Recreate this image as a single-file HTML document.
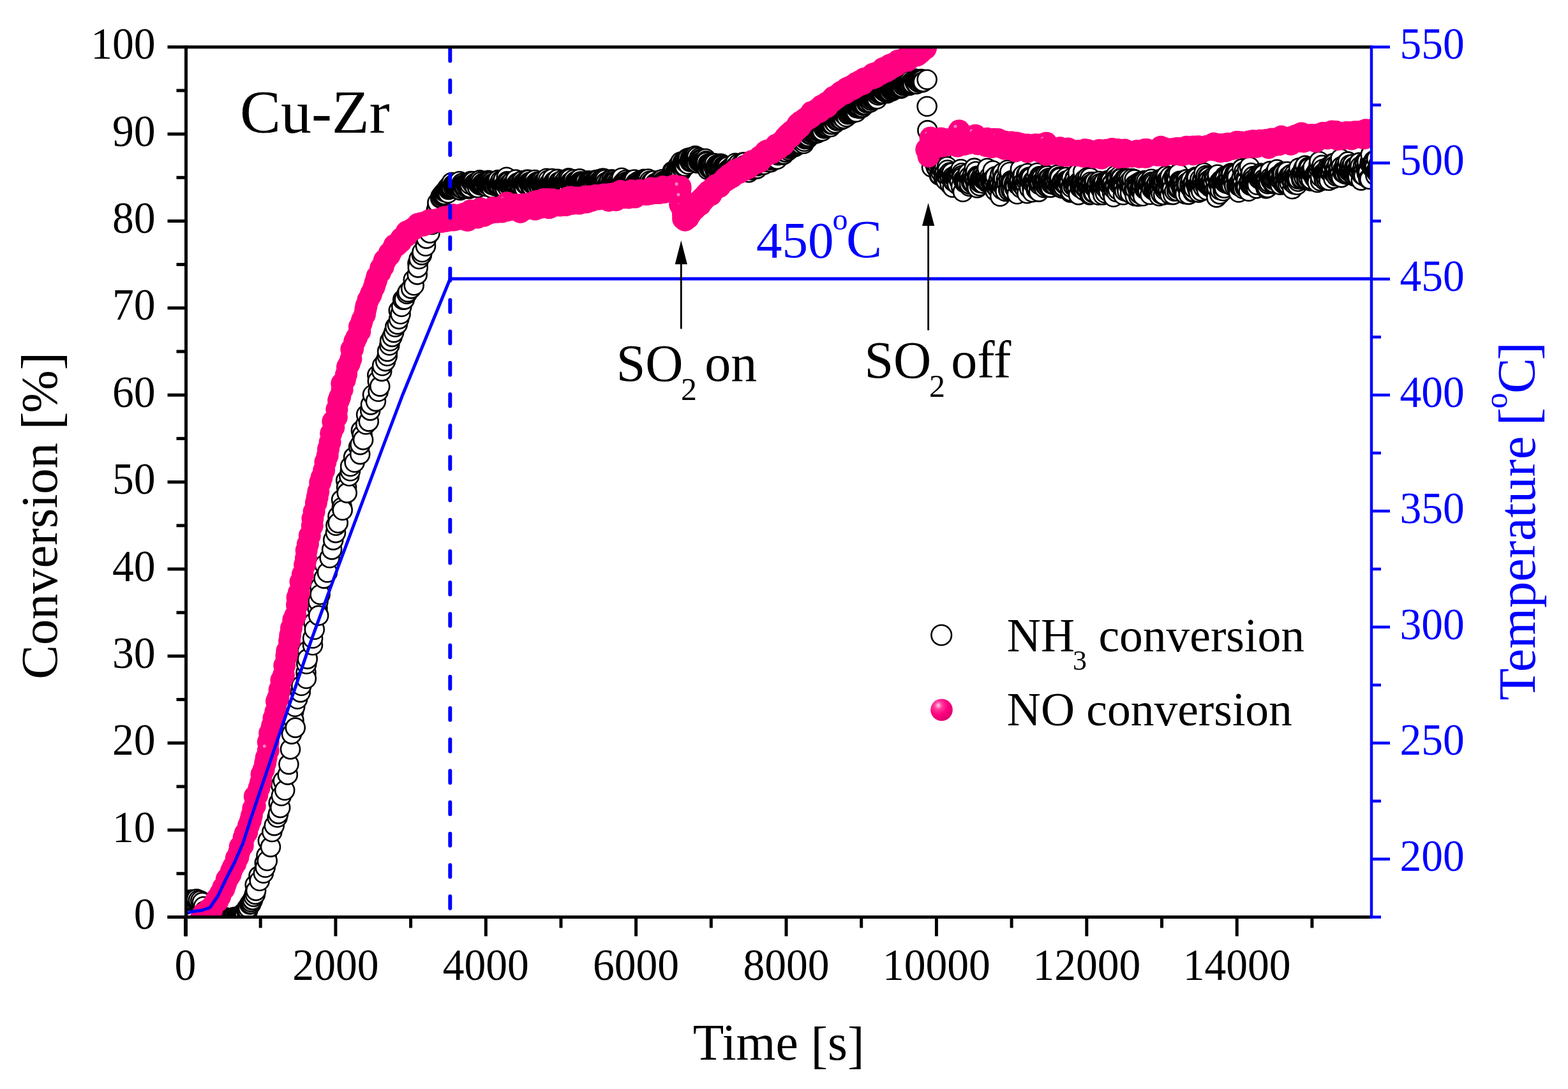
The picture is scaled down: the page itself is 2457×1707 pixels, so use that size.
<!DOCTYPE html><html><head><meta charset="utf-8"><title>Cu-Zr conversion vs time</title><style>html,body{margin:0;padding:0;background:#fff;overflow:hidden}svg{display:block}</style></head><body>
<svg width="2457" height="1707" viewBox="0 0 2457 1707" font-family="'Liberation Serif','Times New Roman',serif">
<rect width="2457" height="1707" fill="#fff"/>
<defs><clipPath id="pa"><rect x="291.5" y="75.7" width="1857.5" height="1360.3"/></clipPath><radialGradient id="ball" cx="0.35" cy="0.3" r="0.7"><stop offset="0" stop-color="#ffd0e6"/><stop offset="0.25" stop-color="#ff3d9c"/><stop offset="0.6" stop-color="#ff0080"/><stop offset="1" stop-color="#e00070"/></radialGradient></defs>
<g clip-path="url(#pa)">
<g fill="#fff" stroke="#000" stroke-width="2.6">
<circle cx="290.3" cy="1412.5" r="15"/>
<circle cx="292.7" cy="1411.1" r="15"/>
<circle cx="294.5" cy="1410.7" r="15"/>
<circle cx="298.5" cy="1411.0" r="15"/>
<circle cx="300.7" cy="1410.3" r="15"/>
<circle cx="302.6" cy="1410.5" r="15"/>
<circle cx="303.3" cy="1411.6" r="15"/>
<circle cx="307.4" cy="1411.5" r="15"/>
<circle cx="308.0" cy="1409.2" r="15"/>
<circle cx="311.0" cy="1411.0" r="15"/>
<circle cx="314.3" cy="1411.8" r="15"/>
<circle cx="316.8" cy="1414.4" r="15"/>
<circle cx="319.0" cy="1421.0" r="15"/>
<circle cx="320.6" cy="1428.0" r="15"/>
<circle cx="323.9" cy="1430.7" r="15"/>
<circle cx="323.9" cy="1431.6" r="15"/>
<circle cx="325.1" cy="1432.9" r="15"/>
<circle cx="326.8" cy="1434.7" r="15"/>
<circle cx="326.9" cy="1434.7" r="15"/>
<circle cx="327.7" cy="1438.7" r="15"/>
<circle cx="328.5" cy="1438.9" r="15"/>
<circle cx="330.3" cy="1439.7" r="15"/>
<circle cx="330.4" cy="1438.2" r="15"/>
<circle cx="331.0" cy="1441.6" r="15"/>
<circle cx="332.8" cy="1439.2" r="15"/>
<circle cx="333.6" cy="1441.3" r="15"/>
<circle cx="334.2" cy="1440.2" r="15"/>
<circle cx="336.2" cy="1441.5" r="15"/>
<circle cx="337.7" cy="1438.9" r="15"/>
<circle cx="337.8" cy="1440.9" r="15"/>
<circle cx="339.0" cy="1439.8" r="15"/>
<circle cx="339.1" cy="1439.1" r="15"/>
<circle cx="339.6" cy="1440.1" r="15"/>
<circle cx="341.1" cy="1441.1" r="15"/>
<circle cx="342.4" cy="1438.3" r="15"/>
<circle cx="342.6" cy="1437.9" r="15"/>
<circle cx="344.4" cy="1441.6" r="15"/>
<circle cx="345.2" cy="1442.1" r="15"/>
<circle cx="345.4" cy="1440.1" r="15"/>
<circle cx="347.9" cy="1441.1" r="15"/>
<circle cx="348.1" cy="1441.3" r="15"/>
<circle cx="349.5" cy="1442.2" r="15"/>
<circle cx="350.1" cy="1441.5" r="15"/>
<circle cx="350.2" cy="1441.3" r="15"/>
<circle cx="351.1" cy="1439.7" r="15"/>
<circle cx="352.5" cy="1441.2" r="15"/>
<circle cx="354.3" cy="1438.3" r="15"/>
<circle cx="354.4" cy="1441.6" r="15"/>
<circle cx="354.4" cy="1442.2" r="15"/>
<circle cx="356.8" cy="1440.1" r="15"/>
<circle cx="357.6" cy="1441.0" r="15"/>
<circle cx="358.4" cy="1441.5" r="15"/>
<circle cx="358.7" cy="1439.6" r="15"/>
<circle cx="360.4" cy="1441.0" r="15"/>
<circle cx="361.0" cy="1440.0" r="15"/>
<circle cx="361.9" cy="1439.4" r="15"/>
<circle cx="363.2" cy="1439.2" r="15"/>
<circle cx="363.8" cy="1439.1" r="15"/>
<circle cx="366.0" cy="1438.1" r="15"/>
<circle cx="366.1" cy="1439.9" r="15"/>
<circle cx="366.8" cy="1437.7" r="15"/>
<circle cx="368.6" cy="1440.0" r="15"/>
<circle cx="368.9" cy="1439.0" r="15"/>
<circle cx="369.7" cy="1439.4" r="15"/>
<circle cx="370.4" cy="1438.9" r="15"/>
<circle cx="371.9" cy="1438.5" r="15"/>
<circle cx="373.0" cy="1439.0" r="15"/>
<circle cx="374.0" cy="1437.6" r="15"/>
<circle cx="375.0" cy="1438.6" r="15"/>
<circle cx="375.2" cy="1438.9" r="15"/>
<circle cx="375.9" cy="1437.5" r="15"/>
<circle cx="377.2" cy="1435.8" r="15"/>
<circle cx="378.6" cy="1433.2" r="15"/>
<circle cx="379.3" cy="1435.1" r="15"/>
<circle cx="379.6" cy="1434.8" r="15"/>
<circle cx="381.1" cy="1432.7" r="15"/>
<circle cx="382.3" cy="1431.7" r="15"/>
<circle cx="382.5" cy="1429.7" r="15"/>
<circle cx="383.5" cy="1431.0" r="15"/>
<circle cx="383.8" cy="1433.0" r="15"/>
<circle cx="386.4" cy="1427.5" r="15"/>
<circle cx="386.5" cy="1428.4" r="15"/>
<circle cx="387.1" cy="1423.5" r="15"/>
<circle cx="388.2" cy="1427.4" r="15"/>
<circle cx="389.1" cy="1423.0" r="15"/>
<circle cx="391.2" cy="1417.4" r="15"/>
<circle cx="392.1" cy="1417.2" r="15"/>
<circle cx="392.7" cy="1415.4" r="15"/>
<circle cx="393.3" cy="1417.0" r="15"/>
<circle cx="393.9" cy="1414.0" r="15"/>
<circle cx="395.6" cy="1411.3" r="15"/>
<circle cx="395.9" cy="1410.4" r="15"/>
<circle cx="397.7" cy="1405.6" r="15"/>
<circle cx="399.5" cy="1400.3" r="15"/>
<circle cx="399.7" cy="1387.0" r="15"/>
<circle cx="399.8" cy="1398.8" r="15"/>
<circle cx="400.0" cy="1401.9" r="15"/>
<circle cx="401.1" cy="1396.1" r="15"/>
<circle cx="405.5" cy="1373.1" r="15"/>
<circle cx="406.7" cy="1380.7" r="15"/>
<circle cx="412.9" cy="1368.7" r="15"/>
<circle cx="414.8" cy="1352.8" r="15"/>
<circle cx="415.7" cy="1359.8" r="15"/>
<circle cx="417.5" cy="1341.4" r="15"/>
<circle cx="418.8" cy="1349.3" r="15"/>
<circle cx="419.9" cy="1317.7" r="15"/>
<circle cx="424.0" cy="1327.6" r="15"/>
<circle cx="426.3" cy="1304.0" r="15"/>
<circle cx="429.8" cy="1294.1" r="15"/>
<circle cx="434.6" cy="1281.3" r="15"/>
<circle cx="436.1" cy="1275.6" r="15"/>
<circle cx="436.7" cy="1258.6" r="15"/>
<circle cx="439.2" cy="1266.1" r="15"/>
<circle cx="440.3" cy="1230.6" r="15"/>
<circle cx="440.9" cy="1247.5" r="15"/>
<circle cx="443.7" cy="1224.1" r="15"/>
<circle cx="446.2" cy="1238.8" r="15"/>
<circle cx="450.8" cy="1214.4" r="15"/>
<circle cx="452.4" cy="1198.1" r="15"/>
<circle cx="455.0" cy="1174.4" r="15"/>
<circle cx="457.0" cy="1150.6" r="15"/>
<circle cx="460.1" cy="1115.9" r="15"/>
<circle cx="460.4" cy="1129.0" r="15"/>
<circle cx="462.2" cy="1107.8" r="15"/>
<circle cx="462.8" cy="1140.6" r="15"/>
<circle cx="466.2" cy="1095.8" r="15"/>
<circle cx="470.8" cy="1085.1" r="15"/>
<circle cx="472.3" cy="1074.7" r="15"/>
<circle cx="479.5" cy="1054.2" r="15"/>
<circle cx="479.9" cy="1063.8" r="15"/>
<circle cx="480.3" cy="1040.8" r="15"/>
<circle cx="481.8" cy="1020.2" r="15"/>
<circle cx="481.8" cy="1032.9" r="15"/>
<circle cx="490.0" cy="1011.2" r="15"/>
<circle cx="490.1" cy="1000.5" r="15"/>
<circle cx="491.4" cy="976.1" r="15"/>
<circle cx="492.8" cy="986.8" r="15"/>
<circle cx="497.5" cy="953.3" r="15"/>
<circle cx="498.5" cy="942.8" r="15"/>
<circle cx="499.2" cy="964.9" r="15"/>
<circle cx="501.4" cy="920.7" r="15"/>
<circle cx="501.6" cy="932.0" r="15"/>
<circle cx="507.5" cy="906.6" r="15"/>
<circle cx="508.7" cy="885.3" r="15"/>
<circle cx="512.9" cy="897.3" r="15"/>
<circle cx="516.6" cy="874.5" r="15"/>
<circle cx="520.1" cy="861.4" r="15"/>
<circle cx="522.2" cy="846.4" r="15"/>
<circle cx="526.0" cy="835.1" r="15"/>
<circle cx="526.4" cy="823.7" r="15"/>
<circle cx="529.5" cy="809.4" r="15"/>
<circle cx="529.7" cy="819.7" r="15"/>
<circle cx="535.1" cy="783.4" r="15"/>
<circle cx="535.9" cy="795.3" r="15"/>
<circle cx="536.7" cy="799.7" r="15"/>
<circle cx="542.2" cy="753.1" r="15"/>
<circle cx="543.1" cy="764.1" r="15"/>
<circle cx="543.7" cy="772.6" r="15"/>
<circle cx="547.2" cy="746.3" r="15"/>
<circle cx="548.9" cy="738.2" r="15"/>
<circle cx="549.1" cy="731.0" r="15"/>
<circle cx="554.1" cy="716.6" r="15"/>
<circle cx="555.6" cy="724.7" r="15"/>
<circle cx="562.1" cy="700.7" r="15"/>
<circle cx="564.2" cy="712.1" r="15"/>
<circle cx="564.4" cy="697.1" r="15"/>
<circle cx="565.9" cy="674.9" r="15"/>
<circle cx="567.6" cy="681.9" r="15"/>
<circle cx="569.1" cy="689.4" r="15"/>
<circle cx="573.2" cy="665.2" r="15"/>
<circle cx="574.1" cy="650.0" r="15"/>
<circle cx="577.8" cy="660.6" r="15"/>
<circle cx="580.2" cy="643.4" r="15"/>
<circle cx="581.0" cy="634.4" r="15"/>
<circle cx="584.0" cy="618.7" r="15"/>
<circle cx="588.9" cy="629.1" r="15"/>
<circle cx="591.3" cy="588.1" r="15"/>
<circle cx="591.8" cy="597.2" r="15"/>
<circle cx="592.7" cy="613.7" r="15"/>
<circle cx="595.3" cy="605.6" r="15"/>
<circle cx="598.2" cy="581.9" r="15"/>
<circle cx="599.1" cy="573.3" r="15"/>
<circle cx="604.1" cy="566.1" r="15"/>
<circle cx="606.8" cy="558.0" r="15"/>
<circle cx="607.1" cy="550.9" r="15"/>
<circle cx="610.3" cy="541.2" r="15"/>
<circle cx="611.1" cy="534.5" r="15"/>
<circle cx="614.6" cy="527.9" r="15"/>
<circle cx="617.2" cy="521.1" r="15"/>
<circle cx="619.3" cy="512.5" r="15"/>
<circle cx="622.8" cy="508.4" r="15"/>
<circle cx="624.8" cy="486.7" r="15"/>
<circle cx="625.2" cy="500.1" r="15"/>
<circle cx="627.6" cy="492.3" r="15"/>
<circle cx="629.3" cy="480.7" r="15"/>
<circle cx="631.3" cy="469.8" r="15"/>
<circle cx="633.8" cy="469.4" r="15"/>
<circle cx="637.6" cy="460.8" r="15"/>
<circle cx="639.1" cy="457.9" r="15"/>
<circle cx="644.2" cy="452.4" r="15"/>
<circle cx="647.8" cy="438.5" r="15"/>
<circle cx="648.7" cy="447.2" r="15"/>
<circle cx="653.8" cy="430.4" r="15"/>
<circle cx="654.5" cy="413.0" r="15"/>
<circle cx="654.8" cy="419.4" r="15"/>
<circle cx="656.6" cy="406.0" r="15"/>
<circle cx="660.9" cy="399.6" r="15"/>
<circle cx="661.5" cy="395.2" r="15"/>
<circle cx="666.8" cy="382.7" r="15"/>
<circle cx="667.0" cy="385.7" r="15"/>
<circle cx="668.2" cy="373.9" r="15"/>
<circle cx="671.1" cy="358.2" r="15"/>
<circle cx="673.5" cy="365.4" r="15"/>
<circle cx="676.8" cy="351.9" r="15"/>
<circle cx="680.1" cy="343.1" r="15"/>
<circle cx="682.6" cy="336.7" r="15"/>
<circle cx="683.6" cy="330.3" r="15"/>
<circle cx="684.9" cy="325.2" r="15"/>
<circle cx="685.5" cy="317.7" r="15"/>
<circle cx="690.2" cy="310.8" r="15"/>
<circle cx="690.5" cy="308.4" r="15"/>
<circle cx="691.0" cy="309.7" r="15"/>
<circle cx="692.7" cy="307.6" r="15"/>
<circle cx="692.8" cy="305.3" r="15"/>
<circle cx="695.0" cy="302.7" r="15"/>
<circle cx="695.0" cy="303.4" r="15"/>
<circle cx="695.2" cy="306.9" r="15"/>
<circle cx="695.3" cy="304.5" r="15"/>
<circle cx="696.4" cy="305.3" r="15"/>
<circle cx="696.5" cy="300.8" r="15"/>
<circle cx="697.7" cy="300.6" r="15"/>
<circle cx="698.1" cy="299.7" r="15"/>
<circle cx="699.4" cy="300.9" r="15"/>
<circle cx="700.4" cy="297.0" r="15"/>
<circle cx="700.6" cy="302.0" r="15"/>
<circle cx="701.3" cy="294.6" r="15"/>
<circle cx="702.0" cy="302.7" r="15"/>
<circle cx="702.8" cy="297.1" r="15"/>
<circle cx="703.3" cy="295.6" r="15"/>
<circle cx="704.0" cy="291.6" r="15"/>
<circle cx="704.8" cy="294.1" r="15"/>
<circle cx="705.7" cy="292.5" r="15"/>
<circle cx="707.0" cy="295.7" r="15"/>
<circle cx="707.1" cy="292.5" r="15"/>
<circle cx="707.7" cy="286.1" r="15"/>
<circle cx="707.7" cy="294.2" r="15"/>
<circle cx="708.0" cy="294.5" r="15"/>
<circle cx="710.1" cy="289.6" r="15"/>
<circle cx="710.5" cy="292.6" r="15"/>
<circle cx="711.7" cy="295.2" r="15"/>
<circle cx="712.0" cy="290.7" r="15"/>
<circle cx="712.7" cy="292.9" r="15"/>
<circle cx="713.6" cy="288.6" r="15"/>
<circle cx="714.1" cy="293.8" r="15"/>
<circle cx="714.6" cy="290.3" r="15"/>
<circle cx="714.7" cy="292.0" r="15"/>
<circle cx="715.9" cy="292.5" r="15"/>
<circle cx="717.4" cy="290.8" r="15"/>
<circle cx="719.2" cy="292.0" r="15"/>
<circle cx="719.3" cy="292.0" r="15"/>
<circle cx="719.6" cy="290.9" r="15"/>
<circle cx="720.0" cy="284.3" r="15"/>
<circle cx="721.0" cy="298.1" r="15"/>
<circle cx="721.5" cy="294.8" r="15"/>
<circle cx="722.6" cy="293.6" r="15"/>
<circle cx="723.1" cy="290.1" r="15"/>
<circle cx="723.8" cy="287.2" r="15"/>
<circle cx="725.0" cy="296.4" r="15"/>
<circle cx="725.0" cy="287.2" r="15"/>
<circle cx="725.3" cy="290.0" r="15"/>
<circle cx="726.2" cy="290.6" r="15"/>
<circle cx="727.1" cy="290.0" r="15"/>
<circle cx="727.7" cy="295.0" r="15"/>
<circle cx="728.1" cy="291.9" r="15"/>
<circle cx="729.9" cy="288.3" r="15"/>
<circle cx="730.3" cy="289.7" r="15"/>
<circle cx="731.3" cy="291.6" r="15"/>
<circle cx="731.6" cy="287.5" r="15"/>
<circle cx="731.7" cy="288.1" r="15"/>
<circle cx="732.7" cy="291.8" r="15"/>
<circle cx="733.6" cy="289.4" r="15"/>
<circle cx="733.9" cy="290.2" r="15"/>
<circle cx="735.0" cy="296.0" r="15"/>
<circle cx="735.9" cy="292.6" r="15"/>
<circle cx="736.1" cy="291.5" r="15"/>
<circle cx="736.1" cy="294.4" r="15"/>
<circle cx="736.3" cy="288.9" r="15"/>
<circle cx="737.7" cy="284.0" r="15"/>
<circle cx="739.3" cy="285.3" r="15"/>
<circle cx="740.3" cy="287.8" r="15"/>
<circle cx="740.5" cy="287.5" r="15"/>
<circle cx="740.9" cy="285.5" r="15"/>
<circle cx="741.7" cy="284.3" r="15"/>
<circle cx="742.4" cy="289.5" r="15"/>
<circle cx="743.1" cy="289.0" r="15"/>
<circle cx="743.5" cy="287.9" r="15"/>
<circle cx="744.2" cy="293.1" r="15"/>
<circle cx="745.6" cy="286.2" r="15"/>
<circle cx="745.9" cy="288.0" r="15"/>
<circle cx="745.9" cy="287.2" r="15"/>
<circle cx="747.6" cy="289.8" r="15"/>
<circle cx="748.2" cy="288.1" r="15"/>
<circle cx="748.5" cy="294.4" r="15"/>
<circle cx="749.8" cy="288.5" r="15"/>
<circle cx="751.0" cy="289.2" r="15"/>
<circle cx="751.4" cy="289.1" r="15"/>
<circle cx="751.5" cy="285.3" r="15"/>
<circle cx="751.7" cy="282.4" r="15"/>
<circle cx="752.4" cy="290.3" r="15"/>
<circle cx="753.6" cy="289.9" r="15"/>
<circle cx="753.7" cy="284.9" r="15"/>
<circle cx="754.6" cy="289.9" r="15"/>
<circle cx="756.1" cy="287.9" r="15"/>
<circle cx="756.4" cy="288.9" r="15"/>
<circle cx="757.0" cy="287.7" r="15"/>
<circle cx="758.3" cy="286.4" r="15"/>
<circle cx="758.6" cy="290.2" r="15"/>
<circle cx="758.7" cy="289.9" r="15"/>
<circle cx="760.9" cy="287.5" r="15"/>
<circle cx="761.6" cy="286.3" r="15"/>
<circle cx="762.2" cy="292.3" r="15"/>
<circle cx="762.7" cy="288.9" r="15"/>
<circle cx="762.9" cy="288.0" r="15"/>
<circle cx="762.9" cy="285.9" r="15"/>
<circle cx="765.0" cy="282.8" r="15"/>
<circle cx="765.2" cy="287.4" r="15"/>
<circle cx="765.6" cy="287.6" r="15"/>
<circle cx="766.1" cy="289.1" r="15"/>
<circle cx="767.0" cy="283.9" r="15"/>
<circle cx="767.6" cy="289.0" r="15"/>
<circle cx="768.3" cy="286.3" r="15"/>
<circle cx="770.2" cy="294.7" r="15"/>
<circle cx="770.3" cy="286.0" r="15"/>
<circle cx="770.6" cy="289.3" r="15"/>
<circle cx="771.3" cy="284.5" r="15"/>
<circle cx="771.8" cy="289.6" r="15"/>
<circle cx="772.5" cy="287.4" r="15"/>
<circle cx="773.0" cy="288.7" r="15"/>
<circle cx="773.8" cy="289.4" r="15"/>
<circle cx="774.8" cy="287.7" r="15"/>
<circle cx="775.3" cy="291.2" r="15"/>
<circle cx="777.4" cy="286.9" r="15"/>
<circle cx="777.7" cy="285.7" r="15"/>
<circle cx="777.8" cy="290.2" r="15"/>
<circle cx="778.7" cy="288.0" r="15"/>
<circle cx="779.1" cy="288.6" r="15"/>
<circle cx="779.7" cy="286.9" r="15"/>
<circle cx="780.0" cy="289.1" r="15"/>
<circle cx="780.4" cy="282.1" r="15"/>
<circle cx="782.0" cy="288.8" r="15"/>
<circle cx="782.2" cy="290.7" r="15"/>
<circle cx="783.2" cy="286.2" r="15"/>
<circle cx="784.3" cy="287.9" r="15"/>
<circle cx="784.5" cy="283.3" r="15"/>
<circle cx="786.2" cy="287.5" r="15"/>
<circle cx="786.5" cy="286.0" r="15"/>
<circle cx="787.1" cy="295.1" r="15"/>
<circle cx="787.2" cy="293.0" r="15"/>
<circle cx="787.8" cy="288.1" r="15"/>
<circle cx="788.8" cy="281.7" r="15"/>
<circle cx="789.2" cy="291.1" r="15"/>
<circle cx="790.9" cy="290.4" r="15"/>
<circle cx="791.7" cy="295.9" r="15"/>
<circle cx="792.0" cy="288.8" r="15"/>
<circle cx="793.3" cy="289.1" r="15"/>
<circle cx="793.7" cy="277.7" r="15"/>
<circle cx="794.6" cy="284.3" r="15"/>
<circle cx="795.3" cy="286.9" r="15"/>
<circle cx="796.1" cy="287.2" r="15"/>
<circle cx="796.1" cy="294.5" r="15"/>
<circle cx="796.4" cy="285.5" r="15"/>
<circle cx="797.0" cy="289.9" r="15"/>
<circle cx="798.2" cy="288.2" r="15"/>
<circle cx="798.8" cy="290.7" r="15"/>
<circle cx="800.0" cy="287.6" r="15"/>
<circle cx="800.1" cy="292.4" r="15"/>
<circle cx="800.9" cy="287.5" r="15"/>
<circle cx="801.9" cy="292.8" r="15"/>
<circle cx="802.1" cy="285.1" r="15"/>
<circle cx="803.3" cy="289.0" r="15"/>
<circle cx="804.0" cy="290.9" r="15"/>
<circle cx="804.1" cy="290.6" r="15"/>
<circle cx="804.7" cy="287.5" r="15"/>
<circle cx="806.0" cy="287.1" r="15"/>
<circle cx="807.0" cy="288.2" r="15"/>
<circle cx="807.9" cy="286.8" r="15"/>
<circle cx="808.1" cy="281.5" r="15"/>
<circle cx="808.5" cy="289.9" r="15"/>
<circle cx="810.1" cy="292.6" r="15"/>
<circle cx="810.6" cy="286.8" r="15"/>
<circle cx="810.7" cy="290.1" r="15"/>
<circle cx="813.0" cy="288.0" r="15"/>
<circle cx="813.2" cy="287.6" r="15"/>
<circle cx="813.3" cy="285.7" r="15"/>
<circle cx="813.8" cy="291.3" r="15"/>
<circle cx="814.7" cy="289.3" r="15"/>
<circle cx="815.0" cy="289.3" r="15"/>
<circle cx="816.4" cy="285.9" r="15"/>
<circle cx="817.0" cy="287.0" r="15"/>
<circle cx="817.7" cy="283.2" r="15"/>
<circle cx="818.1" cy="286.1" r="15"/>
<circle cx="818.6" cy="283.2" r="15"/>
<circle cx="819.1" cy="290.4" r="15"/>
<circle cx="820.2" cy="286.6" r="15"/>
<circle cx="821.2" cy="292.5" r="15"/>
<circle cx="821.5" cy="288.9" r="15"/>
<circle cx="821.9" cy="295.2" r="15"/>
<circle cx="823.2" cy="288.6" r="15"/>
<circle cx="824.3" cy="289.0" r="15"/>
<circle cx="825.4" cy="281.8" r="15"/>
<circle cx="825.5" cy="284.6" r="15"/>
<circle cx="825.8" cy="289.8" r="15"/>
<circle cx="826.3" cy="284.6" r="15"/>
<circle cx="826.5" cy="290.8" r="15"/>
<circle cx="827.9" cy="281.9" r="15"/>
<circle cx="828.4" cy="286.4" r="15"/>
<circle cx="829.3" cy="286.5" r="15"/>
<circle cx="829.6" cy="285.6" r="15"/>
<circle cx="830.7" cy="285.7" r="15"/>
<circle cx="831.4" cy="289.9" r="15"/>
<circle cx="831.5" cy="293.4" r="15"/>
<circle cx="832.2" cy="286.4" r="15"/>
<circle cx="833.1" cy="292.8" r="15"/>
<circle cx="833.6" cy="287.6" r="15"/>
<circle cx="834.9" cy="288.5" r="15"/>
<circle cx="835.4" cy="283.6" r="15"/>
<circle cx="836.0" cy="287.6" r="15"/>
<circle cx="838.0" cy="282.0" r="15"/>
<circle cx="838.4" cy="288.3" r="15"/>
<circle cx="838.8" cy="288.9" r="15"/>
<circle cx="840.2" cy="286.9" r="15"/>
<circle cx="840.6" cy="286.4" r="15"/>
<circle cx="841.2" cy="285.2" r="15"/>
<circle cx="841.2" cy="292.8" r="15"/>
<circle cx="841.8" cy="285.2" r="15"/>
<circle cx="842.4" cy="287.1" r="15"/>
<circle cx="843.6" cy="290.4" r="15"/>
<circle cx="844.5" cy="289.1" r="15"/>
<circle cx="844.8" cy="291.6" r="15"/>
<circle cx="845.2" cy="285.9" r="15"/>
<circle cx="846.7" cy="285.8" r="15"/>
<circle cx="846.9" cy="287.7" r="15"/>
<circle cx="847.4" cy="289.4" r="15"/>
<circle cx="848.6" cy="283.9" r="15"/>
<circle cx="849.0" cy="289.8" r="15"/>
<circle cx="849.4" cy="288.0" r="15"/>
<circle cx="850.2" cy="286.5" r="15"/>
<circle cx="851.3" cy="288.8" r="15"/>
<circle cx="851.8" cy="291.5" r="15"/>
<circle cx="851.9" cy="294.4" r="15"/>
<circle cx="852.9" cy="291.1" r="15"/>
<circle cx="853.5" cy="289.9" r="15"/>
<circle cx="855.1" cy="288.9" r="15"/>
<circle cx="856.0" cy="285.4" r="15"/>
<circle cx="856.2" cy="290.0" r="15"/>
<circle cx="856.5" cy="279.8" r="15"/>
<circle cx="856.9" cy="290.9" r="15"/>
<circle cx="858.5" cy="287.8" r="15"/>
<circle cx="858.5" cy="287.7" r="15"/>
<circle cx="859.2" cy="282.3" r="15"/>
<circle cx="860.7" cy="287.8" r="15"/>
<circle cx="861.1" cy="290.0" r="15"/>
<circle cx="861.4" cy="286.5" r="15"/>
<circle cx="862.0" cy="289.6" r="15"/>
<circle cx="862.9" cy="289.3" r="15"/>
<circle cx="864.6" cy="289.6" r="15"/>
<circle cx="865.3" cy="280.0" r="15"/>
<circle cx="865.4" cy="288.8" r="15"/>
<circle cx="866.4" cy="287.4" r="15"/>
<circle cx="868.0" cy="284.5" r="15"/>
<circle cx="868.1" cy="286.0" r="15"/>
<circle cx="869.0" cy="290.6" r="15"/>
<circle cx="869.0" cy="285.0" r="15"/>
<circle cx="869.0" cy="285.7" r="15"/>
<circle cx="869.7" cy="285.2" r="15"/>
<circle cx="871.2" cy="285.6" r="15"/>
<circle cx="871.6" cy="286.9" r="15"/>
<circle cx="871.8" cy="290.3" r="15"/>
<circle cx="873.5" cy="288.8" r="15"/>
<circle cx="873.5" cy="280.9" r="15"/>
<circle cx="875.2" cy="286.4" r="15"/>
<circle cx="875.5" cy="288.2" r="15"/>
<circle cx="875.8" cy="285.0" r="15"/>
<circle cx="876.1" cy="286.0" r="15"/>
<circle cx="876.8" cy="285.4" r="15"/>
<circle cx="877.1" cy="289.1" r="15"/>
<circle cx="877.7" cy="289.2" r="15"/>
<circle cx="878.6" cy="288.3" r="15"/>
<circle cx="880.2" cy="287.3" r="15"/>
<circle cx="881.2" cy="287.8" r="15"/>
<circle cx="881.7" cy="282.0" r="15"/>
<circle cx="881.8" cy="287.7" r="15"/>
<circle cx="882.6" cy="287.4" r="15"/>
<circle cx="884.2" cy="289.5" r="15"/>
<circle cx="884.8" cy="287.1" r="15"/>
<circle cx="885.1" cy="288.9" r="15"/>
<circle cx="885.6" cy="286.2" r="15"/>
<circle cx="886.3" cy="282.0" r="15"/>
<circle cx="886.9" cy="287.1" r="15"/>
<circle cx="887.1" cy="287.0" r="15"/>
<circle cx="889.0" cy="286.6" r="15"/>
<circle cx="889.4" cy="287.5" r="15"/>
<circle cx="889.8" cy="281.6" r="15"/>
<circle cx="891.0" cy="279.3" r="15"/>
<circle cx="891.5" cy="295.1" r="15"/>
<circle cx="892.5" cy="286.2" r="15"/>
<circle cx="893.3" cy="280.3" r="15"/>
<circle cx="894.2" cy="288.2" r="15"/>
<circle cx="894.3" cy="285.3" r="15"/>
<circle cx="894.6" cy="286.9" r="15"/>
<circle cx="895.5" cy="285.6" r="15"/>
<circle cx="895.8" cy="285.5" r="15"/>
<circle cx="897.1" cy="286.9" r="15"/>
<circle cx="897.2" cy="289.3" r="15"/>
<circle cx="899.0" cy="287.5" r="15"/>
<circle cx="899.2" cy="281.2" r="15"/>
<circle cx="900.2" cy="293.0" r="15"/>
<circle cx="901.3" cy="291.6" r="15"/>
<circle cx="901.5" cy="284.9" r="15"/>
<circle cx="902.0" cy="284.0" r="15"/>
<circle cx="902.0" cy="289.4" r="15"/>
<circle cx="903.4" cy="284.3" r="15"/>
<circle cx="904.3" cy="284.8" r="15"/>
<circle cx="905.7" cy="284.8" r="15"/>
<circle cx="906.1" cy="290.9" r="15"/>
<circle cx="906.1" cy="292.8" r="15"/>
<circle cx="907.2" cy="287.7" r="15"/>
<circle cx="907.3" cy="286.8" r="15"/>
<circle cx="908.3" cy="280.4" r="15"/>
<circle cx="908.4" cy="286.1" r="15"/>
<circle cx="909.3" cy="284.9" r="15"/>
<circle cx="909.5" cy="284.7" r="15"/>
<circle cx="911.2" cy="287.2" r="15"/>
<circle cx="911.6" cy="286.5" r="15"/>
<circle cx="912.0" cy="284.9" r="15"/>
<circle cx="912.3" cy="287.4" r="15"/>
<circle cx="914.4" cy="288.6" r="15"/>
<circle cx="914.6" cy="286.5" r="15"/>
<circle cx="916.2" cy="287.0" r="15"/>
<circle cx="916.7" cy="288.7" r="15"/>
<circle cx="917.0" cy="290.9" r="15"/>
<circle cx="917.1" cy="285.9" r="15"/>
<circle cx="917.6" cy="284.6" r="15"/>
<circle cx="919.7" cy="288.7" r="15"/>
<circle cx="920.2" cy="292.3" r="15"/>
<circle cx="921.3" cy="288.4" r="15"/>
<circle cx="921.3" cy="289.4" r="15"/>
<circle cx="922.0" cy="283.2" r="15"/>
<circle cx="922.5" cy="285.9" r="15"/>
<circle cx="923.4" cy="284.4" r="15"/>
<circle cx="923.6" cy="287.3" r="15"/>
<circle cx="925.3" cy="293.5" r="15"/>
<circle cx="925.8" cy="285.1" r="15"/>
<circle cx="926.2" cy="288.2" r="15"/>
<circle cx="927.0" cy="288.0" r="15"/>
<circle cx="928.7" cy="288.9" r="15"/>
<circle cx="929.1" cy="286.8" r="15"/>
<circle cx="929.2" cy="287.3" r="15"/>
<circle cx="929.3" cy="286.4" r="15"/>
<circle cx="929.9" cy="290.9" r="15"/>
<circle cx="931.2" cy="285.3" r="15"/>
<circle cx="931.4" cy="289.4" r="15"/>
<circle cx="933.3" cy="282.3" r="15"/>
<circle cx="934.0" cy="288.9" r="15"/>
<circle cx="934.5" cy="283.6" r="15"/>
<circle cx="935.2" cy="283.7" r="15"/>
<circle cx="935.3" cy="287.2" r="15"/>
<circle cx="936.0" cy="288.4" r="15"/>
<circle cx="936.6" cy="291.3" r="15"/>
<circle cx="936.6" cy="287.8" r="15"/>
<circle cx="937.5" cy="281.5" r="15"/>
<circle cx="938.6" cy="284.7" r="15"/>
<circle cx="938.6" cy="285.9" r="15"/>
<circle cx="940.4" cy="283.5" r="15"/>
<circle cx="940.7" cy="291.3" r="15"/>
<circle cx="942.1" cy="286.5" r="15"/>
<circle cx="942.4" cy="286.6" r="15"/>
<circle cx="942.9" cy="289.2" r="15"/>
<circle cx="943.6" cy="279.8" r="15"/>
<circle cx="944.4" cy="284.3" r="15"/>
<circle cx="945.6" cy="285.2" r="15"/>
<circle cx="945.7" cy="283.6" r="15"/>
<circle cx="945.9" cy="293.5" r="15"/>
<circle cx="946.1" cy="279.8" r="15"/>
<circle cx="946.4" cy="288.1" r="15"/>
<circle cx="948.1" cy="281.4" r="15"/>
<circle cx="948.1" cy="288.9" r="15"/>
<circle cx="949.4" cy="285.9" r="15"/>
<circle cx="951.0" cy="291.1" r="15"/>
<circle cx="952.3" cy="287.6" r="15"/>
<circle cx="953.0" cy="290.1" r="15"/>
<circle cx="953.3" cy="288.4" r="15"/>
<circle cx="954.3" cy="291.3" r="15"/>
<circle cx="954.5" cy="287.2" r="15"/>
<circle cx="954.6" cy="283.0" r="15"/>
<circle cx="955.3" cy="282.4" r="15"/>
<circle cx="956.1" cy="291.2" r="15"/>
<circle cx="957.4" cy="288.6" r="15"/>
<circle cx="958.5" cy="281.3" r="15"/>
<circle cx="960.0" cy="289.4" r="15"/>
<circle cx="960.3" cy="288.3" r="15"/>
<circle cx="960.8" cy="287.5" r="15"/>
<circle cx="960.9" cy="283.3" r="15"/>
<circle cx="961.0" cy="282.8" r="15"/>
<circle cx="962.2" cy="282.5" r="15"/>
<circle cx="962.3" cy="285.2" r="15"/>
<circle cx="963.7" cy="287.8" r="15"/>
<circle cx="964.2" cy="285.0" r="15"/>
<circle cx="964.5" cy="289.9" r="15"/>
<circle cx="966.0" cy="291.7" r="15"/>
<circle cx="966.2" cy="287.3" r="15"/>
<circle cx="966.5" cy="288.9" r="15"/>
<circle cx="968.5" cy="289.0" r="15"/>
<circle cx="968.6" cy="286.2" r="15"/>
<circle cx="969.1" cy="283.7" r="15"/>
<circle cx="969.8" cy="290.8" r="15"/>
<circle cx="969.9" cy="287.6" r="15"/>
<circle cx="970.7" cy="286.5" r="15"/>
<circle cx="972.2" cy="286.0" r="15"/>
<circle cx="972.8" cy="285.3" r="15"/>
<circle cx="973.9" cy="287.0" r="15"/>
<circle cx="974.0" cy="287.3" r="15"/>
<circle cx="974.2" cy="278.7" r="15"/>
<circle cx="975.7" cy="287.1" r="15"/>
<circle cx="976.0" cy="291.6" r="15"/>
<circle cx="976.5" cy="290.2" r="15"/>
<circle cx="977.4" cy="294.2" r="15"/>
<circle cx="978.2" cy="289.0" r="15"/>
<circle cx="978.7" cy="283.7" r="15"/>
<circle cx="980.6" cy="289.7" r="15"/>
<circle cx="980.6" cy="282.0" r="15"/>
<circle cx="981.3" cy="285.0" r="15"/>
<circle cx="981.6" cy="289.6" r="15"/>
<circle cx="981.9" cy="288.7" r="15"/>
<circle cx="983.5" cy="286.2" r="15"/>
<circle cx="984.1" cy="286.6" r="15"/>
<circle cx="984.8" cy="289.3" r="15"/>
<circle cx="984.8" cy="291.3" r="15"/>
<circle cx="986.1" cy="284.9" r="15"/>
<circle cx="986.1" cy="286.0" r="15"/>
<circle cx="986.8" cy="290.3" r="15"/>
<circle cx="988.2" cy="282.7" r="15"/>
<circle cx="988.5" cy="289.2" r="15"/>
<circle cx="989.6" cy="282.8" r="15"/>
<circle cx="990.4" cy="291.8" r="15"/>
<circle cx="991.4" cy="289.8" r="15"/>
<circle cx="991.9" cy="283.1" r="15"/>
<circle cx="993.0" cy="289.4" r="15"/>
<circle cx="993.6" cy="285.5" r="15"/>
<circle cx="994.1" cy="289.4" r="15"/>
<circle cx="994.1" cy="281.5" r="15"/>
<circle cx="995.5" cy="288.4" r="15"/>
<circle cx="995.9" cy="289.7" r="15"/>
<circle cx="996.2" cy="286.8" r="15"/>
<circle cx="997.1" cy="288.7" r="15"/>
<circle cx="999.3" cy="286.2" r="15"/>
<circle cx="1000.1" cy="288.8" r="15"/>
<circle cx="1000.4" cy="291.6" r="15"/>
<circle cx="1000.8" cy="283.8" r="15"/>
<circle cx="1001.6" cy="286.5" r="15"/>
<circle cx="1002.0" cy="291.0" r="15"/>
<circle cx="1002.6" cy="290.1" r="15"/>
<circle cx="1002.7" cy="288.2" r="15"/>
<circle cx="1002.8" cy="287.4" r="15"/>
<circle cx="1004.1" cy="283.6" r="15"/>
<circle cx="1004.5" cy="284.4" r="15"/>
<circle cx="1005.4" cy="289.6" r="15"/>
<circle cx="1006.5" cy="290.1" r="15"/>
<circle cx="1006.7" cy="284.6" r="15"/>
<circle cx="1007.9" cy="285.1" r="15"/>
<circle cx="1008.1" cy="287.9" r="15"/>
<circle cx="1009.1" cy="280.7" r="15"/>
<circle cx="1010.2" cy="282.2" r="15"/>
<circle cx="1010.9" cy="284.2" r="15"/>
<circle cx="1011.5" cy="283.2" r="15"/>
<circle cx="1011.7" cy="290.7" r="15"/>
<circle cx="1013.6" cy="288.5" r="15"/>
<circle cx="1013.8" cy="282.1" r="15"/>
<circle cx="1013.9" cy="285.1" r="15"/>
<circle cx="1014.2" cy="288.2" r="15"/>
<circle cx="1015.1" cy="284.6" r="15"/>
<circle cx="1015.6" cy="280.5" r="15"/>
<circle cx="1016.4" cy="287.1" r="15"/>
<circle cx="1017.6" cy="290.7" r="15"/>
<circle cx="1018.0" cy="283.7" r="15"/>
<circle cx="1020.2" cy="287.5" r="15"/>
<circle cx="1020.7" cy="291.0" r="15"/>
<circle cx="1020.8" cy="285.3" r="15"/>
<circle cx="1021.6" cy="285.3" r="15"/>
<circle cx="1021.6" cy="286.2" r="15"/>
<circle cx="1022.2" cy="288.9" r="15"/>
<circle cx="1022.5" cy="290.4" r="15"/>
<circle cx="1023.9" cy="283.3" r="15"/>
<circle cx="1024.5" cy="289.7" r="15"/>
<circle cx="1025.2" cy="290.9" r="15"/>
<circle cx="1026.8" cy="287.3" r="15"/>
<circle cx="1027.6" cy="289.4" r="15"/>
<circle cx="1028.0" cy="292.5" r="15"/>
<circle cx="1028.0" cy="288.6" r="15"/>
<circle cx="1029.2" cy="286.7" r="15"/>
<circle cx="1029.5" cy="288.3" r="15"/>
<circle cx="1030.7" cy="291.3" r="15"/>
<circle cx="1032.2" cy="285.0" r="15"/>
<circle cx="1032.2" cy="287.6" r="15"/>
<circle cx="1032.2" cy="291.7" r="15"/>
<circle cx="1033.8" cy="287.0" r="15"/>
<circle cx="1034.3" cy="290.1" r="15"/>
<circle cx="1034.5" cy="282.4" r="15"/>
<circle cx="1035.5" cy="289.7" r="15"/>
<circle cx="1035.8" cy="293.9" r="15"/>
<circle cx="1036.9" cy="286.7" r="15"/>
<circle cx="1037.5" cy="281.2" r="15"/>
<circle cx="1037.9" cy="285.8" r="15"/>
<circle cx="1039.4" cy="283.8" r="15"/>
<circle cx="1040.0" cy="287.8" r="15"/>
<circle cx="1040.1" cy="284.3" r="15"/>
<circle cx="1040.7" cy="287.0" r="15"/>
<circle cx="1042.4" cy="288.4" r="15"/>
<circle cx="1042.9" cy="288.0" r="15"/>
<circle cx="1043.0" cy="289.4" r="15"/>
<circle cx="1043.1" cy="286.2" r="15"/>
<circle cx="1044.2" cy="283.7" r="15"/>
<circle cx="1046.8" cy="283.5" r="15"/>
<circle cx="1047.5" cy="288.1" r="15"/>
<circle cx="1047.9" cy="283.1" r="15"/>
<circle cx="1048.1" cy="285.6" r="15"/>
<circle cx="1048.4" cy="290.4" r="15"/>
<circle cx="1049.3" cy="284.1" r="15"/>
<circle cx="1050.7" cy="276.2" r="15"/>
<circle cx="1050.9" cy="286.6" r="15"/>
<circle cx="1051.2" cy="281.0" r="15"/>
<circle cx="1051.5" cy="276.7" r="15"/>
<circle cx="1052.8" cy="271.2" r="15"/>
<circle cx="1053.6" cy="271.5" r="15"/>
<circle cx="1053.7" cy="268.5" r="15"/>
<circle cx="1054.0" cy="281.4" r="15"/>
<circle cx="1055.4" cy="273.0" r="15"/>
<circle cx="1055.6" cy="268.5" r="15"/>
<circle cx="1055.8" cy="275.9" r="15"/>
<circle cx="1056.4" cy="280.1" r="15"/>
<circle cx="1057.5" cy="271.4" r="15"/>
<circle cx="1058.8" cy="273.3" r="15"/>
<circle cx="1059.2" cy="270.5" r="15"/>
<circle cx="1059.8" cy="270.0" r="15"/>
<circle cx="1060.0" cy="268.9" r="15"/>
<circle cx="1060.1" cy="266.0" r="15"/>
<circle cx="1062.0" cy="266.8" r="15"/>
<circle cx="1062.9" cy="259.2" r="15"/>
<circle cx="1063.8" cy="266.6" r="15"/>
<circle cx="1063.8" cy="267.1" r="15"/>
<circle cx="1065.1" cy="258.4" r="15"/>
<circle cx="1065.4" cy="262.8" r="15"/>
<circle cx="1066.5" cy="253.7" r="15"/>
<circle cx="1066.9" cy="269.3" r="15"/>
<circle cx="1067.6" cy="262.5" r="15"/>
<circle cx="1067.7" cy="259.8" r="15"/>
<circle cx="1069.5" cy="259.0" r="15"/>
<circle cx="1069.9" cy="254.3" r="15"/>
<circle cx="1069.9" cy="264.5" r="15"/>
<circle cx="1070.8" cy="256.6" r="15"/>
<circle cx="1070.9" cy="261.0" r="15"/>
<circle cx="1072.7" cy="258.6" r="15"/>
<circle cx="1073.1" cy="260.7" r="15"/>
<circle cx="1074.3" cy="254.2" r="15"/>
<circle cx="1074.6" cy="253.5" r="15"/>
<circle cx="1075.1" cy="255.0" r="15"/>
<circle cx="1075.4" cy="252.4" r="15"/>
<circle cx="1076.3" cy="248.9" r="15"/>
<circle cx="1077.5" cy="256.2" r="15"/>
<circle cx="1078.2" cy="257.5" r="15"/>
<circle cx="1078.3" cy="247.9" r="15"/>
<circle cx="1081.2" cy="253.4" r="15"/>
<circle cx="1081.4" cy="249.1" r="15"/>
<circle cx="1082.0" cy="252.9" r="15"/>
<circle cx="1082.6" cy="252.1" r="15"/>
<circle cx="1082.7" cy="246.8" r="15"/>
<circle cx="1083.8" cy="249.7" r="15"/>
<circle cx="1084.1" cy="248.7" r="15"/>
<circle cx="1085.1" cy="249.4" r="15"/>
<circle cx="1085.3" cy="247.6" r="15"/>
<circle cx="1086.1" cy="249.8" r="15"/>
<circle cx="1086.6" cy="248.6" r="15"/>
<circle cx="1087.8" cy="250.4" r="15"/>
<circle cx="1088.5" cy="252.9" r="15"/>
<circle cx="1089.4" cy="244.3" r="15"/>
<circle cx="1089.4" cy="249.2" r="15"/>
<circle cx="1090.7" cy="251.0" r="15"/>
<circle cx="1091.2" cy="246.5" r="15"/>
<circle cx="1091.7" cy="255.5" r="15"/>
<circle cx="1092.2" cy="245.7" r="15"/>
<circle cx="1092.3" cy="255.4" r="15"/>
<circle cx="1095.1" cy="253.5" r="15"/>
<circle cx="1095.2" cy="252.4" r="15"/>
<circle cx="1095.9" cy="247.7" r="15"/>
<circle cx="1096.0" cy="247.5" r="15"/>
<circle cx="1097.0" cy="250.1" r="15"/>
<circle cx="1097.7" cy="252.3" r="15"/>
<circle cx="1098.7" cy="252.8" r="15"/>
<circle cx="1099.2" cy="251.5" r="15"/>
<circle cx="1099.4" cy="250.1" r="15"/>
<circle cx="1100.5" cy="252.8" r="15"/>
<circle cx="1102.4" cy="252.8" r="15"/>
<circle cx="1103.4" cy="259.3" r="15"/>
<circle cx="1103.4" cy="254.3" r="15"/>
<circle cx="1103.9" cy="251.6" r="15"/>
<circle cx="1103.9" cy="257.1" r="15"/>
<circle cx="1104.6" cy="252.4" r="15"/>
<circle cx="1105.7" cy="248.7" r="15"/>
<circle cx="1106.4" cy="258.6" r="15"/>
<circle cx="1106.6" cy="252.2" r="15"/>
<circle cx="1106.7" cy="256.9" r="15"/>
<circle cx="1106.8" cy="254.3" r="15"/>
<circle cx="1108.9" cy="266.0" r="15"/>
<circle cx="1109.6" cy="256.8" r="15"/>
<circle cx="1111.2" cy="256.8" r="15"/>
<circle cx="1111.3" cy="263.8" r="15"/>
<circle cx="1111.5" cy="258.2" r="15"/>
<circle cx="1112.9" cy="259.4" r="15"/>
<circle cx="1113.2" cy="263.1" r="15"/>
<circle cx="1113.2" cy="264.9" r="15"/>
<circle cx="1113.5" cy="262.1" r="15"/>
<circle cx="1115.2" cy="264.7" r="15"/>
<circle cx="1116.1" cy="258.6" r="15"/>
<circle cx="1116.1" cy="265.4" r="15"/>
<circle cx="1116.3" cy="265.7" r="15"/>
<circle cx="1118.2" cy="260.9" r="15"/>
<circle cx="1119.4" cy="259.9" r="15"/>
<circle cx="1119.8" cy="256.1" r="15"/>
<circle cx="1120.4" cy="266.6" r="15"/>
<circle cx="1121.5" cy="265.8" r="15"/>
<circle cx="1121.5" cy="266.0" r="15"/>
<circle cx="1121.8" cy="260.9" r="15"/>
<circle cx="1122.9" cy="266.7" r="15"/>
<circle cx="1123.1" cy="258.6" r="15"/>
<circle cx="1123.1" cy="261.7" r="15"/>
<circle cx="1125.4" cy="260.5" r="15"/>
<circle cx="1125.6" cy="265.6" r="15"/>
<circle cx="1126.5" cy="263.3" r="15"/>
<circle cx="1127.9" cy="256.9" r="15"/>
<circle cx="1128.8" cy="262.7" r="15"/>
<circle cx="1129.3" cy="257.3" r="15"/>
<circle cx="1129.4" cy="265.4" r="15"/>
<circle cx="1130.1" cy="256.9" r="15"/>
<circle cx="1130.9" cy="261.9" r="15"/>
<circle cx="1131.0" cy="258.9" r="15"/>
<circle cx="1131.3" cy="265.2" r="15"/>
<circle cx="1133.3" cy="269.5" r="15"/>
<circle cx="1133.4" cy="260.7" r="15"/>
<circle cx="1134.2" cy="262.9" r="15"/>
<circle cx="1134.5" cy="264.5" r="15"/>
<circle cx="1135.7" cy="269.8" r="15"/>
<circle cx="1136.7" cy="260.2" r="15"/>
<circle cx="1137.1" cy="260.4" r="15"/>
<circle cx="1137.9" cy="261.5" r="15"/>
<circle cx="1138.4" cy="267.3" r="15"/>
<circle cx="1138.9" cy="264.7" r="15"/>
<circle cx="1140.0" cy="261.2" r="15"/>
<circle cx="1140.9" cy="266.1" r="15"/>
<circle cx="1141.4" cy="267.4" r="15"/>
<circle cx="1141.9" cy="268.9" r="15"/>
<circle cx="1142.0" cy="266.4" r="15"/>
<circle cx="1143.7" cy="264.9" r="15"/>
<circle cx="1145.0" cy="263.9" r="15"/>
<circle cx="1145.7" cy="262.2" r="15"/>
<circle cx="1145.7" cy="262.0" r="15"/>
<circle cx="1145.8" cy="267.1" r="15"/>
<circle cx="1146.9" cy="263.9" r="15"/>
<circle cx="1148.6" cy="262.9" r="15"/>
<circle cx="1149.1" cy="261.0" r="15"/>
<circle cx="1150.0" cy="260.4" r="15"/>
<circle cx="1150.1" cy="266.2" r="15"/>
<circle cx="1151.9" cy="262.0" r="15"/>
<circle cx="1152.0" cy="264.8" r="15"/>
<circle cx="1152.1" cy="255.7" r="15"/>
<circle cx="1152.6" cy="261.2" r="15"/>
<circle cx="1152.9" cy="265.9" r="15"/>
<circle cx="1152.9" cy="265.8" r="15"/>
<circle cx="1153.6" cy="264.3" r="15"/>
<circle cx="1155.6" cy="261.5" r="15"/>
<circle cx="1155.8" cy="262.9" r="15"/>
<circle cx="1157.1" cy="256.6" r="15"/>
<circle cx="1157.6" cy="267.9" r="15"/>
<circle cx="1158.4" cy="269.5" r="15"/>
<circle cx="1158.7" cy="260.2" r="15"/>
<circle cx="1159.3" cy="263.9" r="15"/>
<circle cx="1161.2" cy="264.1" r="15"/>
<circle cx="1161.8" cy="266.3" r="15"/>
<circle cx="1162.9" cy="260.8" r="15"/>
<circle cx="1163.3" cy="254.7" r="15"/>
<circle cx="1163.4" cy="262.0" r="15"/>
<circle cx="1164.0" cy="258.6" r="15"/>
<circle cx="1164.3" cy="257.5" r="15"/>
<circle cx="1165.8" cy="263.4" r="15"/>
<circle cx="1166.2" cy="254.4" r="15"/>
<circle cx="1166.4" cy="259.4" r="15"/>
<circle cx="1166.5" cy="260.0" r="15"/>
<circle cx="1168.8" cy="264.4" r="15"/>
<circle cx="1168.9" cy="264.3" r="15"/>
<circle cx="1169.2" cy="262.7" r="15"/>
<circle cx="1170.4" cy="264.3" r="15"/>
<circle cx="1171.0" cy="261.8" r="15"/>
<circle cx="1171.7" cy="260.0" r="15"/>
<circle cx="1173.5" cy="270.2" r="15"/>
<circle cx="1174.3" cy="264.0" r="15"/>
<circle cx="1175.0" cy="256.6" r="15"/>
<circle cx="1175.1" cy="265.0" r="15"/>
<circle cx="1176.0" cy="262.2" r="15"/>
<circle cx="1176.6" cy="257.4" r="15"/>
<circle cx="1176.8" cy="266.5" r="15"/>
<circle cx="1177.8" cy="259.2" r="15"/>
<circle cx="1177.8" cy="257.4" r="15"/>
<circle cx="1178.9" cy="261.5" r="15"/>
<circle cx="1179.3" cy="255.7" r="15"/>
<circle cx="1180.9" cy="263.0" r="15"/>
<circle cx="1181.2" cy="265.3" r="15"/>
<circle cx="1182.0" cy="261.4" r="15"/>
<circle cx="1182.7" cy="256.1" r="15"/>
<circle cx="1183.1" cy="265.0" r="15"/>
<circle cx="1183.5" cy="262.0" r="15"/>
<circle cx="1185.6" cy="255.1" r="15"/>
<circle cx="1185.9" cy="257.3" r="15"/>
<circle cx="1186.1" cy="264.2" r="15"/>
<circle cx="1186.4" cy="264.4" r="15"/>
<circle cx="1186.8" cy="260.1" r="15"/>
<circle cx="1187.3" cy="259.0" r="15"/>
<circle cx="1190.0" cy="257.4" r="15"/>
<circle cx="1190.3" cy="254.7" r="15"/>
<circle cx="1190.5" cy="255.9" r="15"/>
<circle cx="1190.7" cy="252.2" r="15"/>
<circle cx="1191.7" cy="254.7" r="15"/>
<circle cx="1192.5" cy="251.5" r="15"/>
<circle cx="1193.0" cy="254.3" r="15"/>
<circle cx="1194.1" cy="250.1" r="15"/>
<circle cx="1194.7" cy="257.0" r="15"/>
<circle cx="1195.4" cy="252.1" r="15"/>
<circle cx="1195.5" cy="251.9" r="15"/>
<circle cx="1197.1" cy="250.0" r="15"/>
<circle cx="1197.1" cy="258.0" r="15"/>
<circle cx="1197.9" cy="249.1" r="15"/>
<circle cx="1198.2" cy="252.7" r="15"/>
<circle cx="1199.1" cy="247.5" r="15"/>
<circle cx="1199.2" cy="253.7" r="15"/>
<circle cx="1201.1" cy="246.5" r="15"/>
<circle cx="1201.5" cy="251.7" r="15"/>
<circle cx="1202.0" cy="246.6" r="15"/>
<circle cx="1202.8" cy="248.7" r="15"/>
<circle cx="1203.8" cy="246.6" r="15"/>
<circle cx="1204.8" cy="248.9" r="15"/>
<circle cx="1205.1" cy="243.3" r="15"/>
<circle cx="1206.4" cy="246.5" r="15"/>
<circle cx="1206.8" cy="246.3" r="15"/>
<circle cx="1207.5" cy="249.2" r="15"/>
<circle cx="1207.7" cy="254.1" r="15"/>
<circle cx="1207.7" cy="250.8" r="15"/>
<circle cx="1209.0" cy="248.1" r="15"/>
<circle cx="1210.2" cy="247.2" r="15"/>
<circle cx="1211.5" cy="250.8" r="15"/>
<circle cx="1211.5" cy="250.2" r="15"/>
<circle cx="1211.7" cy="249.5" r="15"/>
<circle cx="1212.0" cy="239.7" r="15"/>
<circle cx="1213.9" cy="244.2" r="15"/>
<circle cx="1214.9" cy="247.9" r="15"/>
<circle cx="1215.0" cy="243.7" r="15"/>
<circle cx="1215.4" cy="244.1" r="15"/>
<circle cx="1216.8" cy="243.4" r="15"/>
<circle cx="1217.1" cy="245.1" r="15"/>
<circle cx="1217.7" cy="249.8" r="15"/>
<circle cx="1218.7" cy="243.3" r="15"/>
<circle cx="1218.9" cy="240.5" r="15"/>
<circle cx="1219.6" cy="240.1" r="15"/>
<circle cx="1220.9" cy="242.9" r="15"/>
<circle cx="1221.1" cy="240.2" r="15"/>
<circle cx="1222.4" cy="241.0" r="15"/>
<circle cx="1222.8" cy="237.4" r="15"/>
<circle cx="1223.0" cy="241.7" r="15"/>
<circle cx="1223.9" cy="242.1" r="15"/>
<circle cx="1224.1" cy="235.7" r="15"/>
<circle cx="1224.4" cy="241.0" r="15"/>
<circle cx="1226.8" cy="242.7" r="15"/>
<circle cx="1226.8" cy="236.5" r="15"/>
<circle cx="1227.6" cy="240.1" r="15"/>
<circle cx="1228.2" cy="241.9" r="15"/>
<circle cx="1228.4" cy="230.9" r="15"/>
<circle cx="1229.5" cy="233.7" r="15"/>
<circle cx="1229.7" cy="238.3" r="15"/>
<circle cx="1230.5" cy="234.2" r="15"/>
<circle cx="1231.1" cy="238.2" r="15"/>
<circle cx="1233.1" cy="229.9" r="15"/>
<circle cx="1233.8" cy="230.2" r="15"/>
<circle cx="1234.8" cy="235.2" r="15"/>
<circle cx="1235.3" cy="236.0" r="15"/>
<circle cx="1235.5" cy="231.1" r="15"/>
<circle cx="1236.4" cy="232.3" r="15"/>
<circle cx="1236.4" cy="232.3" r="15"/>
<circle cx="1236.6" cy="233.2" r="15"/>
<circle cx="1238.6" cy="231.8" r="15"/>
<circle cx="1240.2" cy="230.3" r="15"/>
<circle cx="1240.6" cy="229.3" r="15"/>
<circle cx="1240.9" cy="225.4" r="15"/>
<circle cx="1241.1" cy="229.4" r="15"/>
<circle cx="1241.3" cy="227.9" r="15"/>
<circle cx="1241.3" cy="227.0" r="15"/>
<circle cx="1242.1" cy="227.2" r="15"/>
<circle cx="1243.3" cy="226.8" r="15"/>
<circle cx="1243.6" cy="227.3" r="15"/>
<circle cx="1245.5" cy="230.2" r="15"/>
<circle cx="1245.8" cy="226.6" r="15"/>
<circle cx="1247.4" cy="228.6" r="15"/>
<circle cx="1247.9" cy="228.2" r="15"/>
<circle cx="1248.2" cy="225.1" r="15"/>
<circle cx="1248.3" cy="224.7" r="15"/>
<circle cx="1249.7" cy="225.5" r="15"/>
<circle cx="1249.9" cy="226.6" r="15"/>
<circle cx="1250.7" cy="225.5" r="15"/>
<circle cx="1251.9" cy="220.8" r="15"/>
<circle cx="1252.4" cy="224.9" r="15"/>
<circle cx="1252.8" cy="219.9" r="15"/>
<circle cx="1253.4" cy="222.3" r="15"/>
<circle cx="1254.1" cy="225.7" r="15"/>
<circle cx="1254.4" cy="219.2" r="15"/>
<circle cx="1255.6" cy="222.3" r="15"/>
<circle cx="1256.4" cy="222.0" r="15"/>
<circle cx="1256.7" cy="223.1" r="15"/>
<circle cx="1258.5" cy="217.4" r="15"/>
<circle cx="1258.7" cy="219.5" r="15"/>
<circle cx="1259.0" cy="217.5" r="15"/>
<circle cx="1259.5" cy="225.2" r="15"/>
<circle cx="1260.3" cy="221.7" r="15"/>
<circle cx="1261.6" cy="217.9" r="15"/>
<circle cx="1262.3" cy="217.4" r="15"/>
<circle cx="1262.7" cy="214.8" r="15"/>
<circle cx="1263.6" cy="217.3" r="15"/>
<circle cx="1264.7" cy="216.6" r="15"/>
<circle cx="1265.7" cy="217.2" r="15"/>
<circle cx="1265.9" cy="210.6" r="15"/>
<circle cx="1266.1" cy="216.5" r="15"/>
<circle cx="1266.2" cy="214.0" r="15"/>
<circle cx="1268.2" cy="210.7" r="15"/>
<circle cx="1268.4" cy="208.9" r="15"/>
<circle cx="1269.3" cy="209.8" r="15"/>
<circle cx="1270.2" cy="208.3" r="15"/>
<circle cx="1270.7" cy="210.6" r="15"/>
<circle cx="1271.0" cy="211.1" r="15"/>
<circle cx="1271.4" cy="211.2" r="15"/>
<circle cx="1272.1" cy="207.6" r="15"/>
<circle cx="1272.7" cy="209.0" r="15"/>
<circle cx="1274.2" cy="207.7" r="15"/>
<circle cx="1274.5" cy="204.7" r="15"/>
<circle cx="1274.7" cy="209.7" r="15"/>
<circle cx="1276.2" cy="206.4" r="15"/>
<circle cx="1276.2" cy="210.0" r="15"/>
<circle cx="1277.2" cy="209.1" r="15"/>
<circle cx="1278.2" cy="206.8" r="15"/>
<circle cx="1278.7" cy="202.5" r="15"/>
<circle cx="1280.1" cy="208.3" r="15"/>
<circle cx="1280.9" cy="205.0" r="15"/>
<circle cx="1281.2" cy="208.5" r="15"/>
<circle cx="1282.5" cy="206.3" r="15"/>
<circle cx="1282.5" cy="204.1" r="15"/>
<circle cx="1283.5" cy="200.7" r="15"/>
<circle cx="1283.9" cy="203.9" r="15"/>
<circle cx="1284.1" cy="200.1" r="15"/>
<circle cx="1284.6" cy="201.9" r="15"/>
<circle cx="1285.0" cy="203.5" r="15"/>
<circle cx="1286.6" cy="201.5" r="15"/>
<circle cx="1287.4" cy="200.6" r="15"/>
<circle cx="1288.0" cy="199.1" r="15"/>
<circle cx="1288.3" cy="203.6" r="15"/>
<circle cx="1288.5" cy="205.5" r="15"/>
<circle cx="1290.0" cy="197.4" r="15"/>
<circle cx="1291.0" cy="201.2" r="15"/>
<circle cx="1291.0" cy="196.6" r="15"/>
<circle cx="1291.7" cy="201.1" r="15"/>
<circle cx="1292.9" cy="199.4" r="15"/>
<circle cx="1293.9" cy="196.4" r="15"/>
<circle cx="1294.1" cy="197.9" r="15"/>
<circle cx="1295.4" cy="197.6" r="15"/>
<circle cx="1296.4" cy="198.8" r="15"/>
<circle cx="1297.1" cy="195.9" r="15"/>
<circle cx="1298.2" cy="195.8" r="15"/>
<circle cx="1299.1" cy="193.2" r="15"/>
<circle cx="1299.9" cy="188.3" r="15"/>
<circle cx="1300.0" cy="193.7" r="15"/>
<circle cx="1300.2" cy="193.1" r="15"/>
<circle cx="1300.6" cy="196.1" r="15"/>
<circle cx="1301.6" cy="199.0" r="15"/>
<circle cx="1301.7" cy="190.6" r="15"/>
<circle cx="1301.9" cy="195.0" r="15"/>
<circle cx="1303.3" cy="194.2" r="15"/>
<circle cx="1303.7" cy="191.7" r="15"/>
<circle cx="1304.8" cy="195.0" r="15"/>
<circle cx="1306.6" cy="191.1" r="15"/>
<circle cx="1306.8" cy="187.3" r="15"/>
<circle cx="1307.0" cy="189.8" r="15"/>
<circle cx="1307.1" cy="188.8" r="15"/>
<circle cx="1307.2" cy="187.8" r="15"/>
<circle cx="1308.6" cy="193.0" r="15"/>
<circle cx="1309.4" cy="187.4" r="15"/>
<circle cx="1311.2" cy="189.1" r="15"/>
<circle cx="1311.5" cy="186.2" r="15"/>
<circle cx="1311.6" cy="186.5" r="15"/>
<circle cx="1312.6" cy="183.5" r="15"/>
<circle cx="1312.7" cy="188.2" r="15"/>
<circle cx="1314.5" cy="186.2" r="15"/>
<circle cx="1315.2" cy="183.4" r="15"/>
<circle cx="1315.7" cy="182.9" r="15"/>
<circle cx="1316.8" cy="186.5" r="15"/>
<circle cx="1317.3" cy="182.8" r="15"/>
<circle cx="1317.9" cy="184.3" r="15"/>
<circle cx="1318.3" cy="179.6" r="15"/>
<circle cx="1318.6" cy="187.6" r="15"/>
<circle cx="1319.7" cy="183.6" r="15"/>
<circle cx="1320.9" cy="184.9" r="15"/>
<circle cx="1321.5" cy="182.7" r="15"/>
<circle cx="1322.2" cy="186.0" r="15"/>
<circle cx="1322.7" cy="176.4" r="15"/>
<circle cx="1323.0" cy="179.9" r="15"/>
<circle cx="1323.6" cy="179.4" r="15"/>
<circle cx="1323.9" cy="178.7" r="15"/>
<circle cx="1325.7" cy="181.8" r="15"/>
<circle cx="1326.3" cy="177.2" r="15"/>
<circle cx="1326.4" cy="178.5" r="15"/>
<circle cx="1326.5" cy="183.2" r="15"/>
<circle cx="1328.5" cy="179.2" r="15"/>
<circle cx="1328.9" cy="178.4" r="15"/>
<circle cx="1330.3" cy="175.8" r="15"/>
<circle cx="1330.6" cy="175.4" r="15"/>
<circle cx="1330.6" cy="176.4" r="15"/>
<circle cx="1331.8" cy="176.0" r="15"/>
<circle cx="1333.1" cy="176.1" r="15"/>
<circle cx="1333.8" cy="178.3" r="15"/>
<circle cx="1334.4" cy="176.1" r="15"/>
<circle cx="1334.9" cy="174.4" r="15"/>
<circle cx="1335.2" cy="171.3" r="15"/>
<circle cx="1337.0" cy="173.2" r="15"/>
<circle cx="1337.0" cy="176.1" r="15"/>
<circle cx="1337.5" cy="173.5" r="15"/>
<circle cx="1337.9" cy="170.9" r="15"/>
<circle cx="1339.1" cy="173.9" r="15"/>
<circle cx="1339.1" cy="174.7" r="15"/>
<circle cx="1339.3" cy="169.7" r="15"/>
<circle cx="1341.4" cy="169.3" r="15"/>
<circle cx="1341.7" cy="175.7" r="15"/>
<circle cx="1342.2" cy="169.3" r="15"/>
<circle cx="1343.2" cy="166.7" r="15"/>
<circle cx="1344.4" cy="169.0" r="15"/>
<circle cx="1344.9" cy="166.1" r="15"/>
<circle cx="1345.0" cy="166.1" r="15"/>
<circle cx="1345.9" cy="166.1" r="15"/>
<circle cx="1346.5" cy="165.9" r="15"/>
<circle cx="1347.4" cy="170.2" r="15"/>
<circle cx="1347.4" cy="167.9" r="15"/>
<circle cx="1348.4" cy="164.2" r="15"/>
<circle cx="1349.4" cy="165.3" r="15"/>
<circle cx="1350.6" cy="167.1" r="15"/>
<circle cx="1351.1" cy="168.6" r="15"/>
<circle cx="1351.9" cy="165.1" r="15"/>
<circle cx="1352.6" cy="165.4" r="15"/>
<circle cx="1353.2" cy="163.3" r="15"/>
<circle cx="1353.7" cy="163.7" r="15"/>
<circle cx="1355.2" cy="163.7" r="15"/>
<circle cx="1355.5" cy="164.4" r="15"/>
<circle cx="1357.2" cy="158.4" r="15"/>
<circle cx="1357.9" cy="161.4" r="15"/>
<circle cx="1357.9" cy="157.0" r="15"/>
<circle cx="1358.5" cy="157.0" r="15"/>
<circle cx="1358.6" cy="160.5" r="15"/>
<circle cx="1359.4" cy="160.1" r="15"/>
<circle cx="1360.1" cy="156.3" r="15"/>
<circle cx="1361.4" cy="156.1" r="15"/>
<circle cx="1361.4" cy="155.8" r="15"/>
<circle cx="1363.0" cy="152.5" r="15"/>
<circle cx="1363.7" cy="160.5" r="15"/>
<circle cx="1364.1" cy="156.2" r="15"/>
<circle cx="1364.8" cy="157.0" r="15"/>
<circle cx="1365.0" cy="157.4" r="15"/>
<circle cx="1366.3" cy="153.0" r="15"/>
<circle cx="1366.6" cy="155.2" r="15"/>
<circle cx="1367.7" cy="154.5" r="15"/>
<circle cx="1367.9" cy="151.1" r="15"/>
<circle cx="1367.9" cy="151.5" r="15"/>
<circle cx="1369.5" cy="152.6" r="15"/>
<circle cx="1370.8" cy="152.4" r="15"/>
<circle cx="1370.9" cy="148.3" r="15"/>
<circle cx="1372.3" cy="148.5" r="15"/>
<circle cx="1372.9" cy="151.3" r="15"/>
<circle cx="1374.1" cy="153.2" r="15"/>
<circle cx="1374.2" cy="155.3" r="15"/>
<circle cx="1374.4" cy="148.4" r="15"/>
<circle cx="1374.9" cy="146.7" r="15"/>
<circle cx="1375.8" cy="143.9" r="15"/>
<circle cx="1376.5" cy="149.2" r="15"/>
<circle cx="1378.0" cy="146.9" r="15"/>
<circle cx="1378.6" cy="142.2" r="15"/>
<circle cx="1378.8" cy="144.5" r="15"/>
<circle cx="1379.1" cy="145.7" r="15"/>
<circle cx="1379.9" cy="146.9" r="15"/>
<circle cx="1381.2" cy="147.3" r="15"/>
<circle cx="1381.9" cy="144.6" r="15"/>
<circle cx="1382.2" cy="144.0" r="15"/>
<circle cx="1382.5" cy="140.0" r="15"/>
<circle cx="1383.5" cy="147.0" r="15"/>
<circle cx="1384.4" cy="142.5" r="15"/>
<circle cx="1385.4" cy="142.7" r="15"/>
<circle cx="1386.0" cy="143.4" r="15"/>
<circle cx="1386.4" cy="143.6" r="15"/>
<circle cx="1387.0" cy="143.6" r="15"/>
<circle cx="1387.5" cy="138.5" r="15"/>
<circle cx="1388.4" cy="141.4" r="15"/>
<circle cx="1388.6" cy="143.7" r="15"/>
<circle cx="1390.2" cy="146.2" r="15"/>
<circle cx="1390.6" cy="140.5" r="15"/>
<circle cx="1391.3" cy="144.7" r="15"/>
<circle cx="1391.5" cy="139.3" r="15"/>
<circle cx="1392.0" cy="143.5" r="15"/>
<circle cx="1393.5" cy="138.5" r="15"/>
<circle cx="1394.1" cy="143.6" r="15"/>
<circle cx="1395.1" cy="135.2" r="15"/>
<circle cx="1396.0" cy="140.7" r="15"/>
<circle cx="1396.1" cy="141.0" r="15"/>
<circle cx="1397.6" cy="140.0" r="15"/>
<circle cx="1398.1" cy="139.2" r="15"/>
<circle cx="1398.1" cy="142.7" r="15"/>
<circle cx="1398.7" cy="141.0" r="15"/>
<circle cx="1399.5" cy="139.5" r="15"/>
<circle cx="1400.7" cy="138.2" r="15"/>
<circle cx="1402.6" cy="137.7" r="15"/>
<circle cx="1403.1" cy="139.6" r="15"/>
<circle cx="1403.6" cy="137.6" r="15"/>
<circle cx="1403.7" cy="137.0" r="15"/>
<circle cx="1404.1" cy="139.0" r="15"/>
<circle cx="1404.7" cy="136.7" r="15"/>
<circle cx="1404.9" cy="132.1" r="15"/>
<circle cx="1406.5" cy="134.8" r="15"/>
<circle cx="1406.6" cy="134.5" r="15"/>
<circle cx="1407.6" cy="137.2" r="15"/>
<circle cx="1409.4" cy="133.6" r="15"/>
<circle cx="1409.7" cy="136.4" r="15"/>
<circle cx="1410.2" cy="138.5" r="15"/>
<circle cx="1411.5" cy="130.3" r="15"/>
<circle cx="1411.8" cy="138.6" r="15"/>
<circle cx="1412.3" cy="135.7" r="15"/>
<circle cx="1412.5" cy="130.9" r="15"/>
<circle cx="1413.3" cy="136.2" r="15"/>
<circle cx="1413.6" cy="132.1" r="15"/>
<circle cx="1413.6" cy="137.1" r="15"/>
<circle cx="1415.1" cy="131.7" r="15"/>
<circle cx="1415.4" cy="134.1" r="15"/>
<circle cx="1417.3" cy="132.6" r="15"/>
<circle cx="1417.3" cy="129.4" r="15"/>
<circle cx="1419.0" cy="133.9" r="15"/>
<circle cx="1419.1" cy="129.4" r="15"/>
<circle cx="1419.3" cy="134.1" r="15"/>
<circle cx="1419.3" cy="131.6" r="15"/>
<circle cx="1420.1" cy="130.5" r="15"/>
<circle cx="1421.9" cy="131.8" r="15"/>
<circle cx="1422.0" cy="131.8" r="15"/>
<circle cx="1423.1" cy="130.8" r="15"/>
<circle cx="1424.7" cy="126.6" r="15"/>
<circle cx="1424.8" cy="128.0" r="15"/>
<circle cx="1425.0" cy="134.0" r="15"/>
<circle cx="1425.1" cy="130.0" r="15"/>
<circle cx="1426.2" cy="132.4" r="15"/>
<circle cx="1426.6" cy="125.9" r="15"/>
<circle cx="1428.5" cy="128.9" r="15"/>
<circle cx="1428.6" cy="132.1" r="15"/>
<circle cx="1428.8" cy="128.5" r="15"/>
<circle cx="1430.3" cy="130.2" r="15"/>
<circle cx="1430.5" cy="131.5" r="15"/>
<circle cx="1433.3" cy="127.9" r="15"/>
<circle cx="1433.8" cy="123.6" r="15"/>
<circle cx="1433.8" cy="127.5" r="15"/>
<circle cx="1434.0" cy="125.1" r="15"/>
<circle cx="1434.1" cy="127.7" r="15"/>
<circle cx="1434.8" cy="131.1" r="15"/>
<circle cx="1436.2" cy="125.9" r="15"/>
<circle cx="1436.3" cy="131.8" r="15"/>
<circle cx="1436.7" cy="126.9" r="15"/>
<circle cx="1438.3" cy="124.6" r="15"/>
<circle cx="1438.5" cy="127.5" r="15"/>
<circle cx="1439.4" cy="129.1" r="15"/>
<circle cx="1440.0" cy="128.1" r="15"/>
<circle cx="1440.4" cy="128.8" r="15"/>
<circle cx="1440.8" cy="125.4" r="15"/>
<circle cx="1442.6" cy="127.2" r="15"/>
<circle cx="1443.7" cy="124.0" r="15"/>
<circle cx="1444.3" cy="126.8" r="15"/>
<circle cx="1444.4" cy="125.1" r="15"/>
<circle cx="1444.7" cy="125.5" r="15"/>
<circle cx="1444.8" cy="129.1" r="15"/>
<circle cx="1446.6" cy="128.4" r="15"/>
<circle cx="1452.6" cy="124.7" r="15"/>
<circle cx="1452.6" cy="166.8" r="15"/>
<circle cx="1453.4" cy="204.4" r="15"/>
<circle cx="1456.0" cy="240.0" r="15"/>
<circle cx="1458.9" cy="234.2" r="15"/>
<circle cx="1459.1" cy="246.8" r="15"/>
<circle cx="1459.2" cy="238.1" r="15"/>
<circle cx="1459.6" cy="240.9" r="15"/>
<circle cx="1460.0" cy="262.0" r="15"/>
<circle cx="1460.1" cy="239.1" r="15"/>
<circle cx="1462.0" cy="240.7" r="15"/>
<circle cx="1463.7" cy="251.9" r="15"/>
<circle cx="1464.0" cy="245.2" r="15"/>
<circle cx="1464.6" cy="255.9" r="15"/>
<circle cx="1465.6" cy="248.1" r="15"/>
<circle cx="1465.8" cy="248.2" r="15"/>
<circle cx="1466.3" cy="251.1" r="15"/>
<circle cx="1467.0" cy="262.5" r="15"/>
<circle cx="1468.5" cy="264.5" r="15"/>
<circle cx="1468.7" cy="257.8" r="15"/>
<circle cx="1468.8" cy="252.3" r="15"/>
<circle cx="1470.6" cy="254.7" r="15"/>
<circle cx="1471.2" cy="255.4" r="15"/>
<circle cx="1471.8" cy="274.8" r="15"/>
<circle cx="1472.5" cy="274.3" r="15"/>
<circle cx="1472.6" cy="255.4" r="15"/>
<circle cx="1472.7" cy="251.9" r="15"/>
<circle cx="1474.5" cy="247.6" r="15"/>
<circle cx="1474.5" cy="270.2" r="15"/>
<circle cx="1475.4" cy="264.1" r="15"/>
<circle cx="1475.4" cy="263.4" r="15"/>
<circle cx="1475.8" cy="264.8" r="15"/>
<circle cx="1477.9" cy="263.5" r="15"/>
<circle cx="1478.9" cy="279.2" r="15"/>
<circle cx="1479.2" cy="276.8" r="15"/>
<circle cx="1480.2" cy="261.3" r="15"/>
<circle cx="1480.5" cy="271.3" r="15"/>
<circle cx="1482.2" cy="279.5" r="15"/>
<circle cx="1482.2" cy="280.2" r="15"/>
<circle cx="1482.2" cy="283.0" r="15"/>
<circle cx="1482.8" cy="275.4" r="15"/>
<circle cx="1484.0" cy="261.0" r="15"/>
<circle cx="1484.6" cy="266.5" r="15"/>
<circle cx="1485.1" cy="275.2" r="15"/>
<circle cx="1485.4" cy="273.8" r="15"/>
<circle cx="1485.7" cy="278.4" r="15"/>
<circle cx="1487.5" cy="274.0" r="15"/>
<circle cx="1488.5" cy="270.3" r="15"/>
<circle cx="1488.7" cy="289.1" r="15"/>
<circle cx="1489.1" cy="278.3" r="15"/>
<circle cx="1490.7" cy="271.8" r="15"/>
<circle cx="1491.7" cy="270.7" r="15"/>
<circle cx="1492.3" cy="281.3" r="15"/>
<circle cx="1492.7" cy="293.8" r="15"/>
<circle cx="1492.9" cy="277.2" r="15"/>
<circle cx="1493.4" cy="280.6" r="15"/>
<circle cx="1494.1" cy="284.7" r="15"/>
<circle cx="1494.6" cy="283.2" r="15"/>
<circle cx="1495.0" cy="284.5" r="15"/>
<circle cx="1496.5" cy="280.2" r="15"/>
<circle cx="1496.9" cy="279.1" r="15"/>
<circle cx="1498.4" cy="273.9" r="15"/>
<circle cx="1498.4" cy="280.2" r="15"/>
<circle cx="1498.8" cy="276.1" r="15"/>
<circle cx="1499.3" cy="288.0" r="15"/>
<circle cx="1500.0" cy="289.0" r="15"/>
<circle cx="1501.0" cy="274.8" r="15"/>
<circle cx="1501.7" cy="279.4" r="15"/>
<circle cx="1502.9" cy="271.9" r="15"/>
<circle cx="1503.9" cy="270.4" r="15"/>
<circle cx="1503.9" cy="284.5" r="15"/>
<circle cx="1505.5" cy="265.3" r="15"/>
<circle cx="1506.0" cy="292.2" r="15"/>
<circle cx="1506.9" cy="275.8" r="15"/>
<circle cx="1507.1" cy="271.3" r="15"/>
<circle cx="1507.4" cy="275.1" r="15"/>
<circle cx="1507.8" cy="278.0" r="15"/>
<circle cx="1508.9" cy="300.7" r="15"/>
<circle cx="1509.9" cy="281.5" r="15"/>
<circle cx="1510.0" cy="283.0" r="15"/>
<circle cx="1511.4" cy="286.3" r="15"/>
<circle cx="1511.9" cy="284.2" r="15"/>
<circle cx="1512.7" cy="283.4" r="15"/>
<circle cx="1513.6" cy="278.5" r="15"/>
<circle cx="1514.4" cy="281.7" r="15"/>
<circle cx="1515.1" cy="283.7" r="15"/>
<circle cx="1515.4" cy="287.5" r="15"/>
<circle cx="1516.2" cy="272.0" r="15"/>
<circle cx="1517.1" cy="271.1" r="15"/>
<circle cx="1517.7" cy="278.9" r="15"/>
<circle cx="1518.7" cy="276.9" r="15"/>
<circle cx="1518.9" cy="284.0" r="15"/>
<circle cx="1519.0" cy="292.0" r="15"/>
<circle cx="1519.1" cy="288.6" r="15"/>
<circle cx="1522.1" cy="285.6" r="15"/>
<circle cx="1522.5" cy="278.6" r="15"/>
<circle cx="1522.7" cy="283.9" r="15"/>
<circle cx="1523.7" cy="287.5" r="15"/>
<circle cx="1524.0" cy="277.4" r="15"/>
<circle cx="1524.3" cy="273.6" r="15"/>
<circle cx="1524.4" cy="285.5" r="15"/>
<circle cx="1525.9" cy="278.7" r="15"/>
<circle cx="1526.7" cy="263.6" r="15"/>
<circle cx="1527.4" cy="281.1" r="15"/>
<circle cx="1528.8" cy="286.5" r="15"/>
<circle cx="1529.0" cy="268.8" r="15"/>
<circle cx="1530.2" cy="291.8" r="15"/>
<circle cx="1531.3" cy="294.5" r="15"/>
<circle cx="1531.3" cy="275.7" r="15"/>
<circle cx="1531.7" cy="281.0" r="15"/>
<circle cx="1532.1" cy="277.4" r="15"/>
<circle cx="1533.0" cy="277.5" r="15"/>
<circle cx="1534.8" cy="286.5" r="15"/>
<circle cx="1535.0" cy="291.5" r="15"/>
<circle cx="1535.6" cy="280.7" r="15"/>
<circle cx="1535.8" cy="286.8" r="15"/>
<circle cx="1536.7" cy="284.3" r="15"/>
<circle cx="1538.0" cy="276.2" r="15"/>
<circle cx="1538.5" cy="279.7" r="15"/>
<circle cx="1538.5" cy="283.8" r="15"/>
<circle cx="1539.5" cy="287.0" r="15"/>
<circle cx="1540.6" cy="287.5" r="15"/>
<circle cx="1541.1" cy="280.9" r="15"/>
<circle cx="1541.5" cy="281.7" r="15"/>
<circle cx="1542.1" cy="280.4" r="15"/>
<circle cx="1542.1" cy="276.9" r="15"/>
<circle cx="1543.3" cy="280.2" r="15"/>
<circle cx="1544.6" cy="278.4" r="15"/>
<circle cx="1545.0" cy="271.8" r="15"/>
<circle cx="1546.1" cy="277.8" r="15"/>
<circle cx="1546.3" cy="281.6" r="15"/>
<circle cx="1546.8" cy="286.0" r="15"/>
<circle cx="1547.0" cy="263.8" r="15"/>
<circle cx="1548.4" cy="285.9" r="15"/>
<circle cx="1548.9" cy="285.0" r="15"/>
<circle cx="1550.4" cy="277.3" r="15"/>
<circle cx="1551.5" cy="284.0" r="15"/>
<circle cx="1551.7" cy="281.1" r="15"/>
<circle cx="1552.8" cy="285.0" r="15"/>
<circle cx="1553.3" cy="282.7" r="15"/>
<circle cx="1554.0" cy="287.6" r="15"/>
<circle cx="1555.2" cy="281.7" r="15"/>
<circle cx="1555.5" cy="288.2" r="15"/>
<circle cx="1555.8" cy="267.5" r="15"/>
<circle cx="1556.7" cy="286.0" r="15"/>
<circle cx="1557.4" cy="278.9" r="15"/>
<circle cx="1558.2" cy="279.3" r="15"/>
<circle cx="1559.0" cy="283.5" r="15"/>
<circle cx="1559.4" cy="299.0" r="15"/>
<circle cx="1559.7" cy="276.6" r="15"/>
<circle cx="1561.0" cy="293.2" r="15"/>
<circle cx="1561.9" cy="292.2" r="15"/>
<circle cx="1562.2" cy="293.6" r="15"/>
<circle cx="1562.6" cy="288.8" r="15"/>
<circle cx="1563.9" cy="288.1" r="15"/>
<circle cx="1565.2" cy="290.2" r="15"/>
<circle cx="1565.4" cy="281.0" r="15"/>
<circle cx="1565.7" cy="292.6" r="15"/>
<circle cx="1566.6" cy="289.6" r="15"/>
<circle cx="1567.1" cy="307.7" r="15"/>
<circle cx="1567.3" cy="273.9" r="15"/>
<circle cx="1568.8" cy="294.2" r="15"/>
<circle cx="1570.2" cy="297.1" r="15"/>
<circle cx="1570.5" cy="280.4" r="15"/>
<circle cx="1570.5" cy="286.2" r="15"/>
<circle cx="1570.7" cy="270.8" r="15"/>
<circle cx="1571.3" cy="291.3" r="15"/>
<circle cx="1572.8" cy="277.4" r="15"/>
<circle cx="1572.8" cy="280.0" r="15"/>
<circle cx="1573.5" cy="294.4" r="15"/>
<circle cx="1574.8" cy="294.8" r="15"/>
<circle cx="1575.4" cy="299.9" r="15"/>
<circle cx="1576.7" cy="281.2" r="15"/>
<circle cx="1577.7" cy="286.4" r="15"/>
<circle cx="1578.8" cy="266.5" r="15"/>
<circle cx="1580.2" cy="298.0" r="15"/>
<circle cx="1580.7" cy="294.8" r="15"/>
<circle cx="1581.0" cy="285.9" r="15"/>
<circle cx="1581.0" cy="287.5" r="15"/>
<circle cx="1581.1" cy="299.1" r="15"/>
<circle cx="1581.2" cy="282.0" r="15"/>
<circle cx="1582.4" cy="269.8" r="15"/>
<circle cx="1583.6" cy="284.7" r="15"/>
<circle cx="1584.3" cy="298.2" r="15"/>
<circle cx="1584.8" cy="283.1" r="15"/>
<circle cx="1585.0" cy="284.8" r="15"/>
<circle cx="1585.9" cy="286.5" r="15"/>
<circle cx="1587.0" cy="299.1" r="15"/>
<circle cx="1589.1" cy="291.0" r="15"/>
<circle cx="1589.4" cy="287.9" r="15"/>
<circle cx="1589.6" cy="291.0" r="15"/>
<circle cx="1590.3" cy="295.3" r="15"/>
<circle cx="1590.8" cy="285.0" r="15"/>
<circle cx="1591.3" cy="294.8" r="15"/>
<circle cx="1591.3" cy="292.0" r="15"/>
<circle cx="1593.3" cy="281.6" r="15"/>
<circle cx="1593.8" cy="304.2" r="15"/>
<circle cx="1594.7" cy="289.6" r="15"/>
<circle cx="1595.0" cy="276.9" r="15"/>
<circle cx="1595.4" cy="287.8" r="15"/>
<circle cx="1596.0" cy="290.2" r="15"/>
<circle cx="1597.1" cy="287.4" r="15"/>
<circle cx="1597.5" cy="285.8" r="15"/>
<circle cx="1597.8" cy="274.9" r="15"/>
<circle cx="1598.0" cy="282.4" r="15"/>
<circle cx="1598.9" cy="265.2" r="15"/>
<circle cx="1599.9" cy="294.8" r="15"/>
<circle cx="1600.5" cy="288.9" r="15"/>
<circle cx="1601.3" cy="276.5" r="15"/>
<circle cx="1601.9" cy="289.8" r="15"/>
<circle cx="1602.8" cy="287.2" r="15"/>
<circle cx="1603.2" cy="274.3" r="15"/>
<circle cx="1604.0" cy="285.0" r="15"/>
<circle cx="1605.3" cy="295.3" r="15"/>
<circle cx="1605.6" cy="288.9" r="15"/>
<circle cx="1606.9" cy="288.5" r="15"/>
<circle cx="1608.2" cy="274.1" r="15"/>
<circle cx="1608.4" cy="283.7" r="15"/>
<circle cx="1608.6" cy="278.8" r="15"/>
<circle cx="1609.0" cy="277.5" r="15"/>
<circle cx="1609.4" cy="303.3" r="15"/>
<circle cx="1610.2" cy="271.7" r="15"/>
<circle cx="1612.3" cy="277.9" r="15"/>
<circle cx="1612.3" cy="285.1" r="15"/>
<circle cx="1613.2" cy="295.5" r="15"/>
<circle cx="1613.8" cy="277.7" r="15"/>
<circle cx="1614.1" cy="283.3" r="15"/>
<circle cx="1614.3" cy="277.7" r="15"/>
<circle cx="1615.6" cy="279.1" r="15"/>
<circle cx="1615.9" cy="278.2" r="15"/>
<circle cx="1617.5" cy="287.0" r="15"/>
<circle cx="1617.5" cy="295.2" r="15"/>
<circle cx="1617.9" cy="301.3" r="15"/>
<circle cx="1618.6" cy="283.8" r="15"/>
<circle cx="1620.2" cy="289.1" r="15"/>
<circle cx="1620.6" cy="283.6" r="15"/>
<circle cx="1621.7" cy="280.9" r="15"/>
<circle cx="1622.5" cy="279.9" r="15"/>
<circle cx="1622.6" cy="287.6" r="15"/>
<circle cx="1623.7" cy="297.3" r="15"/>
<circle cx="1624.7" cy="294.6" r="15"/>
<circle cx="1625.2" cy="271.0" r="15"/>
<circle cx="1625.3" cy="283.4" r="15"/>
<circle cx="1626.7" cy="281.5" r="15"/>
<circle cx="1627.6" cy="289.7" r="15"/>
<circle cx="1627.9" cy="300.6" r="15"/>
<circle cx="1628.5" cy="289.2" r="15"/>
<circle cx="1629.0" cy="276.4" r="15"/>
<circle cx="1629.0" cy="285.9" r="15"/>
<circle cx="1630.0" cy="286.8" r="15"/>
<circle cx="1630.5" cy="277.3" r="15"/>
<circle cx="1632.2" cy="280.7" r="15"/>
<circle cx="1632.5" cy="278.5" r="15"/>
<circle cx="1633.0" cy="284.3" r="15"/>
<circle cx="1633.8" cy="290.0" r="15"/>
<circle cx="1634.9" cy="286.0" r="15"/>
<circle cx="1636.0" cy="294.3" r="15"/>
<circle cx="1636.9" cy="286.8" r="15"/>
<circle cx="1637.0" cy="279.3" r="15"/>
<circle cx="1637.5" cy="290.2" r="15"/>
<circle cx="1638.2" cy="274.1" r="15"/>
<circle cx="1638.7" cy="282.4" r="15"/>
<circle cx="1640.2" cy="292.9" r="15"/>
<circle cx="1640.9" cy="275.4" r="15"/>
<circle cx="1641.2" cy="287.1" r="15"/>
<circle cx="1641.3" cy="288.1" r="15"/>
<circle cx="1642.5" cy="291.6" r="15"/>
<circle cx="1642.6" cy="279.5" r="15"/>
<circle cx="1644.1" cy="292.3" r="15"/>
<circle cx="1644.4" cy="279.2" r="15"/>
<circle cx="1646.0" cy="283.6" r="15"/>
<circle cx="1646.2" cy="293.9" r="15"/>
<circle cx="1647.5" cy="283.8" r="15"/>
<circle cx="1647.6" cy="288.5" r="15"/>
<circle cx="1648.2" cy="284.7" r="15"/>
<circle cx="1648.4" cy="278.8" r="15"/>
<circle cx="1650.4" cy="288.2" r="15"/>
<circle cx="1650.9" cy="278.9" r="15"/>
<circle cx="1651.0" cy="289.0" r="15"/>
<circle cx="1651.6" cy="287.9" r="15"/>
<circle cx="1652.4" cy="279.8" r="15"/>
<circle cx="1652.5" cy="289.7" r="15"/>
<circle cx="1652.6" cy="285.5" r="15"/>
<circle cx="1654.1" cy="275.8" r="15"/>
<circle cx="1655.3" cy="287.9" r="15"/>
<circle cx="1655.7" cy="278.1" r="15"/>
<circle cx="1657.0" cy="274.0" r="15"/>
<circle cx="1658.0" cy="290.4" r="15"/>
<circle cx="1659.3" cy="288.8" r="15"/>
<circle cx="1659.6" cy="293.3" r="15"/>
<circle cx="1659.7" cy="277.3" r="15"/>
<circle cx="1660.9" cy="278.7" r="15"/>
<circle cx="1661.5" cy="290.9" r="15"/>
<circle cx="1661.6" cy="292.1" r="15"/>
<circle cx="1663.0" cy="291.0" r="15"/>
<circle cx="1664.2" cy="295.2" r="15"/>
<circle cx="1664.3" cy="284.3" r="15"/>
<circle cx="1664.7" cy="287.1" r="15"/>
<circle cx="1666.0" cy="293.3" r="15"/>
<circle cx="1666.5" cy="292.9" r="15"/>
<circle cx="1667.3" cy="287.1" r="15"/>
<circle cx="1667.7" cy="288.3" r="15"/>
<circle cx="1668.1" cy="280.2" r="15"/>
<circle cx="1669.5" cy="289.7" r="15"/>
<circle cx="1670.6" cy="277.7" r="15"/>
<circle cx="1670.7" cy="283.3" r="15"/>
<circle cx="1671.0" cy="286.3" r="15"/>
<circle cx="1671.1" cy="290.2" r="15"/>
<circle cx="1671.5" cy="289.9" r="15"/>
<circle cx="1672.5" cy="284.5" r="15"/>
<circle cx="1674.0" cy="283.4" r="15"/>
<circle cx="1675.1" cy="286.7" r="15"/>
<circle cx="1675.4" cy="283.5" r="15"/>
<circle cx="1675.9" cy="290.3" r="15"/>
<circle cx="1676.0" cy="285.7" r="15"/>
<circle cx="1677.1" cy="301.6" r="15"/>
<circle cx="1677.7" cy="293.5" r="15"/>
<circle cx="1677.7" cy="299.9" r="15"/>
<circle cx="1678.6" cy="293.8" r="15"/>
<circle cx="1679.1" cy="279.0" r="15"/>
<circle cx="1681.4" cy="286.9" r="15"/>
<circle cx="1681.7" cy="291.5" r="15"/>
<circle cx="1682.5" cy="286.6" r="15"/>
<circle cx="1682.6" cy="286.2" r="15"/>
<circle cx="1684.6" cy="279.0" r="15"/>
<circle cx="1684.6" cy="284.4" r="15"/>
<circle cx="1684.7" cy="280.6" r="15"/>
<circle cx="1685.7" cy="294.0" r="15"/>
<circle cx="1686.8" cy="285.5" r="15"/>
<circle cx="1687.7" cy="286.5" r="15"/>
<circle cx="1688.2" cy="291.1" r="15"/>
<circle cx="1688.4" cy="294.8" r="15"/>
<circle cx="1689.1" cy="271.1" r="15"/>
<circle cx="1690.0" cy="305.4" r="15"/>
<circle cx="1690.6" cy="285.2" r="15"/>
<circle cx="1692.6" cy="293.2" r="15"/>
<circle cx="1692.7" cy="294.5" r="15"/>
<circle cx="1693.0" cy="286.0" r="15"/>
<circle cx="1693.7" cy="292.9" r="15"/>
<circle cx="1693.9" cy="287.7" r="15"/>
<circle cx="1695.6" cy="285.8" r="15"/>
<circle cx="1696.0" cy="285.7" r="15"/>
<circle cx="1697.0" cy="290.6" r="15"/>
<circle cx="1697.0" cy="296.7" r="15"/>
<circle cx="1697.1" cy="269.4" r="15"/>
<circle cx="1698.7" cy="298.7" r="15"/>
<circle cx="1699.8" cy="281.6" r="15"/>
<circle cx="1700.0" cy="294.1" r="15"/>
<circle cx="1700.5" cy="286.1" r="15"/>
<circle cx="1701.6" cy="286.1" r="15"/>
<circle cx="1703.3" cy="296.3" r="15"/>
<circle cx="1703.7" cy="286.1" r="15"/>
<circle cx="1704.0" cy="291.1" r="15"/>
<circle cx="1704.2" cy="280.8" r="15"/>
<circle cx="1704.4" cy="277.9" r="15"/>
<circle cx="1705.2" cy="288.2" r="15"/>
<circle cx="1705.5" cy="284.3" r="15"/>
<circle cx="1707.4" cy="291.8" r="15"/>
<circle cx="1707.5" cy="305.4" r="15"/>
<circle cx="1708.1" cy="278.4" r="15"/>
<circle cx="1708.8" cy="285.3" r="15"/>
<circle cx="1709.3" cy="288.9" r="15"/>
<circle cx="1709.5" cy="304.7" r="15"/>
<circle cx="1711.1" cy="287.8" r="15"/>
<circle cx="1711.5" cy="296.9" r="15"/>
<circle cx="1712.7" cy="302.2" r="15"/>
<circle cx="1714.0" cy="301.8" r="15"/>
<circle cx="1714.0" cy="292.6" r="15"/>
<circle cx="1714.2" cy="285.7" r="15"/>
<circle cx="1714.5" cy="288.7" r="15"/>
<circle cx="1715.5" cy="285.2" r="15"/>
<circle cx="1717.8" cy="291.9" r="15"/>
<circle cx="1718.6" cy="295.8" r="15"/>
<circle cx="1718.6" cy="296.2" r="15"/>
<circle cx="1719.0" cy="297.3" r="15"/>
<circle cx="1719.5" cy="286.2" r="15"/>
<circle cx="1720.4" cy="302.7" r="15"/>
<circle cx="1721.4" cy="305.7" r="15"/>
<circle cx="1722.5" cy="284.0" r="15"/>
<circle cx="1722.8" cy="292.8" r="15"/>
<circle cx="1723.0" cy="290.4" r="15"/>
<circle cx="1723.5" cy="287.6" r="15"/>
<circle cx="1725.3" cy="290.0" r="15"/>
<circle cx="1725.3" cy="295.9" r="15"/>
<circle cx="1725.9" cy="298.2" r="15"/>
<circle cx="1727.1" cy="297.5" r="15"/>
<circle cx="1727.2" cy="290.2" r="15"/>
<circle cx="1727.6" cy="294.1" r="15"/>
<circle cx="1728.3" cy="305.5" r="15"/>
<circle cx="1728.9" cy="291.4" r="15"/>
<circle cx="1729.9" cy="285.5" r="15"/>
<circle cx="1731.5" cy="292.1" r="15"/>
<circle cx="1731.9" cy="302.8" r="15"/>
<circle cx="1732.8" cy="295.3" r="15"/>
<circle cx="1733.2" cy="289.8" r="15"/>
<circle cx="1733.9" cy="291.9" r="15"/>
<circle cx="1734.7" cy="288.0" r="15"/>
<circle cx="1734.8" cy="283.2" r="15"/>
<circle cx="1734.8" cy="288.5" r="15"/>
<circle cx="1736.6" cy="288.0" r="15"/>
<circle cx="1737.4" cy="300.7" r="15"/>
<circle cx="1737.9" cy="282.9" r="15"/>
<circle cx="1738.3" cy="290.4" r="15"/>
<circle cx="1739.8" cy="284.4" r="15"/>
<circle cx="1740.5" cy="282.9" r="15"/>
<circle cx="1741.0" cy="290.2" r="15"/>
<circle cx="1742.0" cy="292.5" r="15"/>
<circle cx="1742.4" cy="287.9" r="15"/>
<circle cx="1743.1" cy="303.0" r="15"/>
<circle cx="1743.5" cy="286.9" r="15"/>
<circle cx="1744.2" cy="294.3" r="15"/>
<circle cx="1744.8" cy="308.8" r="15"/>
<circle cx="1745.3" cy="295.9" r="15"/>
<circle cx="1746.3" cy="292.0" r="15"/>
<circle cx="1748.0" cy="290.7" r="15"/>
<circle cx="1748.3" cy="274.8" r="15"/>
<circle cx="1748.7" cy="280.3" r="15"/>
<circle cx="1749.7" cy="301.0" r="15"/>
<circle cx="1750.9" cy="280.1" r="15"/>
<circle cx="1751.2" cy="294.7" r="15"/>
<circle cx="1751.9" cy="297.6" r="15"/>
<circle cx="1752.9" cy="287.0" r="15"/>
<circle cx="1753.4" cy="288.7" r="15"/>
<circle cx="1754.5" cy="275.5" r="15"/>
<circle cx="1755.0" cy="286.8" r="15"/>
<circle cx="1755.4" cy="284.1" r="15"/>
<circle cx="1755.7" cy="279.4" r="15"/>
<circle cx="1757.1" cy="279.4" r="15"/>
<circle cx="1757.6" cy="286.6" r="15"/>
<circle cx="1758.8" cy="288.9" r="15"/>
<circle cx="1758.9" cy="289.9" r="15"/>
<circle cx="1760.0" cy="305.5" r="15"/>
<circle cx="1760.3" cy="292.0" r="15"/>
<circle cx="1760.7" cy="288.6" r="15"/>
<circle cx="1760.7" cy="296.2" r="15"/>
<circle cx="1760.8" cy="292.7" r="15"/>
<circle cx="1762.3" cy="280.4" r="15"/>
<circle cx="1762.4" cy="299.5" r="15"/>
<circle cx="1764.5" cy="280.3" r="15"/>
<circle cx="1765.3" cy="293.1" r="15"/>
<circle cx="1765.5" cy="279.7" r="15"/>
<circle cx="1766.3" cy="286.3" r="15"/>
<circle cx="1766.5" cy="299.9" r="15"/>
<circle cx="1768.5" cy="280.0" r="15"/>
<circle cx="1769.4" cy="291.6" r="15"/>
<circle cx="1769.5" cy="291.8" r="15"/>
<circle cx="1769.9" cy="286.3" r="15"/>
<circle cx="1770.2" cy="284.2" r="15"/>
<circle cx="1771.0" cy="295.9" r="15"/>
<circle cx="1771.0" cy="302.9" r="15"/>
<circle cx="1772.2" cy="287.2" r="15"/>
<circle cx="1773.8" cy="283.8" r="15"/>
<circle cx="1773.9" cy="294.6" r="15"/>
<circle cx="1774.0" cy="280.0" r="15"/>
<circle cx="1776.4" cy="299.3" r="15"/>
<circle cx="1777.2" cy="297.0" r="15"/>
<circle cx="1777.7" cy="295.1" r="15"/>
<circle cx="1777.7" cy="281.4" r="15"/>
<circle cx="1778.4" cy="289.7" r="15"/>
<circle cx="1778.6" cy="307.1" r="15"/>
<circle cx="1779.0" cy="297.0" r="15"/>
<circle cx="1781.4" cy="289.2" r="15"/>
<circle cx="1781.7" cy="291.3" r="15"/>
<circle cx="1782.1" cy="287.7" r="15"/>
<circle cx="1782.6" cy="291.6" r="15"/>
<circle cx="1782.6" cy="295.5" r="15"/>
<circle cx="1784.2" cy="307.8" r="15"/>
<circle cx="1784.7" cy="298.7" r="15"/>
<circle cx="1785.5" cy="303.8" r="15"/>
<circle cx="1786.2" cy="297.3" r="15"/>
<circle cx="1786.7" cy="284.9" r="15"/>
<circle cx="1787.0" cy="298.3" r="15"/>
<circle cx="1788.4" cy="284.9" r="15"/>
<circle cx="1788.9" cy="300.2" r="15"/>
<circle cx="1789.2" cy="296.6" r="15"/>
<circle cx="1789.8" cy="286.4" r="15"/>
<circle cx="1789.9" cy="290.3" r="15"/>
<circle cx="1791.0" cy="307.3" r="15"/>
<circle cx="1792.5" cy="287.0" r="15"/>
<circle cx="1793.3" cy="295.9" r="15"/>
<circle cx="1793.5" cy="283.1" r="15"/>
<circle cx="1794.6" cy="296.9" r="15"/>
<circle cx="1796.0" cy="289.9" r="15"/>
<circle cx="1796.3" cy="284.2" r="15"/>
<circle cx="1796.5" cy="295.6" r="15"/>
<circle cx="1798.5" cy="299.8" r="15"/>
<circle cx="1798.6" cy="290.9" r="15"/>
<circle cx="1798.8" cy="299.8" r="15"/>
<circle cx="1799.0" cy="287.3" r="15"/>
<circle cx="1799.8" cy="287.3" r="15"/>
<circle cx="1800.8" cy="289.8" r="15"/>
<circle cx="1801.0" cy="285.8" r="15"/>
<circle cx="1802.3" cy="305.0" r="15"/>
<circle cx="1803.5" cy="281.3" r="15"/>
<circle cx="1803.5" cy="290.4" r="15"/>
<circle cx="1804.2" cy="280.7" r="15"/>
<circle cx="1804.5" cy="285.4" r="15"/>
<circle cx="1805.1" cy="296.2" r="15"/>
<circle cx="1806.8" cy="285.1" r="15"/>
<circle cx="1807.9" cy="298.7" r="15"/>
<circle cx="1808.3" cy="288.6" r="15"/>
<circle cx="1808.7" cy="287.1" r="15"/>
<circle cx="1809.3" cy="294.0" r="15"/>
<circle cx="1809.9" cy="298.7" r="15"/>
<circle cx="1811.8" cy="297.6" r="15"/>
<circle cx="1812.6" cy="298.9" r="15"/>
<circle cx="1812.7" cy="289.9" r="15"/>
<circle cx="1812.8" cy="287.7" r="15"/>
<circle cx="1813.7" cy="296.1" r="15"/>
<circle cx="1814.1" cy="295.2" r="15"/>
<circle cx="1815.0" cy="295.9" r="15"/>
<circle cx="1815.7" cy="290.2" r="15"/>
<circle cx="1816.3" cy="307.2" r="15"/>
<circle cx="1816.3" cy="281.6" r="15"/>
<circle cx="1817.7" cy="295.4" r="15"/>
<circle cx="1818.2" cy="287.4" r="15"/>
<circle cx="1818.6" cy="283.0" r="15"/>
<circle cx="1819.5" cy="304.1" r="15"/>
<circle cx="1820.0" cy="285.3" r="15"/>
<circle cx="1820.8" cy="290.2" r="15"/>
<circle cx="1821.7" cy="287.1" r="15"/>
<circle cx="1822.9" cy="289.1" r="15"/>
<circle cx="1823.1" cy="305.4" r="15"/>
<circle cx="1824.0" cy="282.7" r="15"/>
<circle cx="1824.9" cy="296.8" r="15"/>
<circle cx="1825.8" cy="298.2" r="15"/>
<circle cx="1826.4" cy="279.9" r="15"/>
<circle cx="1826.6" cy="295.2" r="15"/>
<circle cx="1827.2" cy="275.6" r="15"/>
<circle cx="1828.3" cy="295.3" r="15"/>
<circle cx="1828.4" cy="282.5" r="15"/>
<circle cx="1830.0" cy="283.6" r="15"/>
<circle cx="1830.9" cy="297.3" r="15"/>
<circle cx="1831.8" cy="286.5" r="15"/>
<circle cx="1832.3" cy="284.4" r="15"/>
<circle cx="1832.5" cy="289.1" r="15"/>
<circle cx="1833.3" cy="276.8" r="15"/>
<circle cx="1833.3" cy="304.9" r="15"/>
<circle cx="1834.7" cy="290.7" r="15"/>
<circle cx="1835.3" cy="296.0" r="15"/>
<circle cx="1836.3" cy="294.0" r="15"/>
<circle cx="1836.4" cy="282.3" r="15"/>
<circle cx="1836.8" cy="296.4" r="15"/>
<circle cx="1838.1" cy="305.1" r="15"/>
<circle cx="1839.4" cy="276.9" r="15"/>
<circle cx="1840.5" cy="299.8" r="15"/>
<circle cx="1840.5" cy="281.9" r="15"/>
<circle cx="1841.6" cy="278.3" r="15"/>
<circle cx="1841.8" cy="276.8" r="15"/>
<circle cx="1842.6" cy="281.1" r="15"/>
<circle cx="1843.7" cy="280.7" r="15"/>
<circle cx="1844.1" cy="299.2" r="15"/>
<circle cx="1844.2" cy="282.1" r="15"/>
<circle cx="1844.7" cy="293.3" r="15"/>
<circle cx="1846.0" cy="295.7" r="15"/>
<circle cx="1846.6" cy="272.3" r="15"/>
<circle cx="1846.9" cy="293.8" r="15"/>
<circle cx="1848.5" cy="283.8" r="15"/>
<circle cx="1848.9" cy="287.7" r="15"/>
<circle cx="1850.0" cy="284.8" r="15"/>
<circle cx="1851.1" cy="285.7" r="15"/>
<circle cx="1851.5" cy="295.0" r="15"/>
<circle cx="1851.5" cy="290.6" r="15"/>
<circle cx="1852.6" cy="293.3" r="15"/>
<circle cx="1854.1" cy="285.3" r="15"/>
<circle cx="1854.3" cy="293.7" r="15"/>
<circle cx="1854.6" cy="293.8" r="15"/>
<circle cx="1854.8" cy="298.7" r="15"/>
<circle cx="1856.3" cy="303.3" r="15"/>
<circle cx="1857.1" cy="304.1" r="15"/>
<circle cx="1857.8" cy="281.5" r="15"/>
<circle cx="1859.3" cy="291.4" r="15"/>
<circle cx="1859.4" cy="281.3" r="15"/>
<circle cx="1859.5" cy="292.6" r="15"/>
<circle cx="1859.8" cy="291.7" r="15"/>
<circle cx="1860.3" cy="286.2" r="15"/>
<circle cx="1860.6" cy="289.3" r="15"/>
<circle cx="1862.6" cy="304.9" r="15"/>
<circle cx="1864.5" cy="288.3" r="15"/>
<circle cx="1864.5" cy="289.6" r="15"/>
<circle cx="1864.7" cy="293.1" r="15"/>
<circle cx="1864.8" cy="290.4" r="15"/>
<circle cx="1864.8" cy="289.7" r="15"/>
<circle cx="1866.4" cy="281.8" r="15"/>
<circle cx="1867.0" cy="293.8" r="15"/>
<circle cx="1867.5" cy="293.2" r="15"/>
<circle cx="1868.6" cy="288.8" r="15"/>
<circle cx="1869.2" cy="301.1" r="15"/>
<circle cx="1870.4" cy="285.2" r="15"/>
<circle cx="1870.5" cy="300.6" r="15"/>
<circle cx="1871.0" cy="295.1" r="15"/>
<circle cx="1873.4" cy="277.6" r="15"/>
<circle cx="1873.6" cy="287.3" r="15"/>
<circle cx="1874.7" cy="284.0" r="15"/>
<circle cx="1874.9" cy="291.3" r="15"/>
<circle cx="1875.6" cy="278.8" r="15"/>
<circle cx="1876.4" cy="296.2" r="15"/>
<circle cx="1876.7" cy="290.5" r="15"/>
<circle cx="1877.8" cy="298.2" r="15"/>
<circle cx="1878.3" cy="301.7" r="15"/>
<circle cx="1878.6" cy="288.7" r="15"/>
<circle cx="1879.1" cy="290.3" r="15"/>
<circle cx="1879.7" cy="292.9" r="15"/>
<circle cx="1880.3" cy="281.2" r="15"/>
<circle cx="1881.0" cy="291.1" r="15"/>
<circle cx="1882.1" cy="290.8" r="15"/>
<circle cx="1882.2" cy="299.6" r="15"/>
<circle cx="1884.1" cy="281.8" r="15"/>
<circle cx="1884.1" cy="285.2" r="15"/>
<circle cx="1884.5" cy="291.3" r="15"/>
<circle cx="1885.8" cy="294.1" r="15"/>
<circle cx="1886.6" cy="271.0" r="15"/>
<circle cx="1888.1" cy="290.8" r="15"/>
<circle cx="1888.4" cy="281.1" r="15"/>
<circle cx="1888.6" cy="287.5" r="15"/>
<circle cx="1889.8" cy="275.1" r="15"/>
<circle cx="1890.0" cy="289.3" r="15"/>
<circle cx="1890.9" cy="298.0" r="15"/>
<circle cx="1891.2" cy="289.0" r="15"/>
<circle cx="1892.5" cy="288.7" r="15"/>
<circle cx="1892.7" cy="276.7" r="15"/>
<circle cx="1893.7" cy="277.1" r="15"/>
<circle cx="1894.2" cy="282.2" r="15"/>
<circle cx="1894.4" cy="289.1" r="15"/>
<circle cx="1894.8" cy="291.0" r="15"/>
<circle cx="1896.4" cy="293.4" r="15"/>
<circle cx="1897.6" cy="283.8" r="15"/>
<circle cx="1898.1" cy="290.5" r="15"/>
<circle cx="1898.5" cy="294.0" r="15"/>
<circle cx="1898.8" cy="291.4" r="15"/>
<circle cx="1899.0" cy="278.9" r="15"/>
<circle cx="1900.2" cy="288.8" r="15"/>
<circle cx="1901.1" cy="289.0" r="15"/>
<circle cx="1901.2" cy="285.2" r="15"/>
<circle cx="1902.0" cy="277.1" r="15"/>
<circle cx="1903.4" cy="298.4" r="15"/>
<circle cx="1903.7" cy="279.6" r="15"/>
<circle cx="1905.2" cy="285.8" r="15"/>
<circle cx="1905.8" cy="300.2" r="15"/>
<circle cx="1906.3" cy="309.4" r="15"/>
<circle cx="1907.0" cy="294.7" r="15"/>
<circle cx="1907.4" cy="278.0" r="15"/>
<circle cx="1907.9" cy="273.7" r="15"/>
<circle cx="1909.3" cy="288.0" r="15"/>
<circle cx="1910.6" cy="287.7" r="15"/>
<circle cx="1911.1" cy="285.1" r="15"/>
<circle cx="1911.2" cy="304.4" r="15"/>
<circle cx="1912.0" cy="298.0" r="15"/>
<circle cx="1913.5" cy="282.4" r="15"/>
<circle cx="1913.8" cy="284.1" r="15"/>
<circle cx="1914.0" cy="288.1" r="15"/>
<circle cx="1914.6" cy="283.3" r="15"/>
<circle cx="1916.6" cy="284.8" r="15"/>
<circle cx="1916.6" cy="299.3" r="15"/>
<circle cx="1917.2" cy="294.4" r="15"/>
<circle cx="1918.2" cy="281.8" r="15"/>
<circle cx="1918.6" cy="294.8" r="15"/>
<circle cx="1919.2" cy="286.3" r="15"/>
<circle cx="1919.5" cy="276.0" r="15"/>
<circle cx="1919.8" cy="278.9" r="15"/>
<circle cx="1920.4" cy="286.8" r="15"/>
<circle cx="1921.8" cy="284.6" r="15"/>
<circle cx="1921.9" cy="287.6" r="15"/>
<circle cx="1923.0" cy="286.9" r="15"/>
<circle cx="1923.8" cy="284.6" r="15"/>
<circle cx="1924.8" cy="287.2" r="15"/>
<circle cx="1925.2" cy="274.2" r="15"/>
<circle cx="1925.6" cy="282.0" r="15"/>
<circle cx="1926.3" cy="287.7" r="15"/>
<circle cx="1927.8" cy="288.7" r="15"/>
<circle cx="1928.3" cy="284.7" r="15"/>
<circle cx="1928.6" cy="271.5" r="15"/>
<circle cx="1929.7" cy="283.1" r="15"/>
<circle cx="1929.7" cy="290.6" r="15"/>
<circle cx="1929.8" cy="272.9" r="15"/>
<circle cx="1930.9" cy="281.6" r="15"/>
<circle cx="1932.3" cy="284.9" r="15"/>
<circle cx="1933.3" cy="276.2" r="15"/>
<circle cx="1933.3" cy="287.4" r="15"/>
<circle cx="1933.5" cy="284.6" r="15"/>
<circle cx="1934.2" cy="291.3" r="15"/>
<circle cx="1934.7" cy="272.1" r="15"/>
<circle cx="1936.4" cy="272.2" r="15"/>
<circle cx="1937.8" cy="291.8" r="15"/>
<circle cx="1937.9" cy="283.6" r="15"/>
<circle cx="1938.0" cy="272.1" r="15"/>
<circle cx="1938.5" cy="278.0" r="15"/>
<circle cx="1939.6" cy="289.5" r="15"/>
<circle cx="1940.9" cy="301.5" r="15"/>
<circle cx="1941.4" cy="291.6" r="15"/>
<circle cx="1941.8" cy="290.6" r="15"/>
<circle cx="1943.6" cy="289.7" r="15"/>
<circle cx="1944.7" cy="283.8" r="15"/>
<circle cx="1945.5" cy="279.8" r="15"/>
<circle cx="1945.7" cy="278.9" r="15"/>
<circle cx="1946.3" cy="264.4" r="15"/>
<circle cx="1946.4" cy="292.6" r="15"/>
<circle cx="1947.7" cy="285.5" r="15"/>
<circle cx="1947.9" cy="296.0" r="15"/>
<circle cx="1949.2" cy="273.7" r="15"/>
<circle cx="1949.5" cy="269.0" r="15"/>
<circle cx="1950.2" cy="275.6" r="15"/>
<circle cx="1950.9" cy="294.1" r="15"/>
<circle cx="1951.4" cy="291.2" r="15"/>
<circle cx="1951.8" cy="293.0" r="15"/>
<circle cx="1952.3" cy="282.1" r="15"/>
<circle cx="1952.3" cy="279.9" r="15"/>
<circle cx="1953.2" cy="283.3" r="15"/>
<circle cx="1953.4" cy="293.2" r="15"/>
<circle cx="1954.8" cy="265.7" r="15"/>
<circle cx="1956.6" cy="299.7" r="15"/>
<circle cx="1956.8" cy="286.7" r="15"/>
<circle cx="1957.9" cy="261.5" r="15"/>
<circle cx="1958.3" cy="284.3" r="15"/>
<circle cx="1959.3" cy="273.0" r="15"/>
<circle cx="1959.5" cy="290.8" r="15"/>
<circle cx="1960.5" cy="271.0" r="15"/>
<circle cx="1961.2" cy="289.2" r="15"/>
<circle cx="1962.8" cy="288.9" r="15"/>
<circle cx="1963.1" cy="277.2" r="15"/>
<circle cx="1963.1" cy="285.4" r="15"/>
<circle cx="1963.8" cy="276.4" r="15"/>
<circle cx="1964.5" cy="280.8" r="15"/>
<circle cx="1965.4" cy="285.6" r="15"/>
<circle cx="1966.3" cy="283.5" r="15"/>
<circle cx="1966.6" cy="286.1" r="15"/>
<circle cx="1968.3" cy="288.5" r="15"/>
<circle cx="1968.8" cy="295.4" r="15"/>
<circle cx="1969.5" cy="280.6" r="15"/>
<circle cx="1969.9" cy="285.7" r="15"/>
<circle cx="1970.1" cy="289.8" r="15"/>
<circle cx="1970.8" cy="274.9" r="15"/>
<circle cx="1971.8" cy="279.1" r="15"/>
<circle cx="1973.2" cy="279.5" r="15"/>
<circle cx="1973.3" cy="280.7" r="15"/>
<circle cx="1974.2" cy="277.5" r="15"/>
<circle cx="1975.0" cy="276.8" r="15"/>
<circle cx="1975.5" cy="271.5" r="15"/>
<circle cx="1976.6" cy="282.3" r="15"/>
<circle cx="1976.9" cy="273.5" r="15"/>
<circle cx="1977.2" cy="279.5" r="15"/>
<circle cx="1977.9" cy="277.8" r="15"/>
<circle cx="1979.1" cy="284.4" r="15"/>
<circle cx="1979.7" cy="273.6" r="15"/>
<circle cx="1980.4" cy="280.9" r="15"/>
<circle cx="1981.0" cy="284.2" r="15"/>
<circle cx="1982.3" cy="290.4" r="15"/>
<circle cx="1983.3" cy="282.8" r="15"/>
<circle cx="1983.8" cy="295.4" r="15"/>
<circle cx="1984.5" cy="288.4" r="15"/>
<circle cx="1984.7" cy="291.3" r="15"/>
<circle cx="1984.9" cy="280.6" r="15"/>
<circle cx="1986.0" cy="294.4" r="15"/>
<circle cx="1986.5" cy="288.1" r="15"/>
<circle cx="1987.4" cy="275.6" r="15"/>
<circle cx="1988.2" cy="285.5" r="15"/>
<circle cx="1988.3" cy="285.8" r="15"/>
<circle cx="1988.9" cy="274.1" r="15"/>
<circle cx="1990.1" cy="268.4" r="15"/>
<circle cx="1990.4" cy="278.9" r="15"/>
<circle cx="1991.6" cy="282.3" r="15"/>
<circle cx="1991.8" cy="283.3" r="15"/>
<circle cx="1991.9" cy="281.8" r="15"/>
<circle cx="1993.9" cy="280.8" r="15"/>
<circle cx="1994.0" cy="282.4" r="15"/>
<circle cx="1995.2" cy="288.2" r="15"/>
<circle cx="1996.0" cy="286.5" r="15"/>
<circle cx="1996.0" cy="282.0" r="15"/>
<circle cx="1998.2" cy="276.3" r="15"/>
<circle cx="1998.5" cy="282.2" r="15"/>
<circle cx="1998.6" cy="270.2" r="15"/>
<circle cx="2000.3" cy="276.9" r="15"/>
<circle cx="2000.8" cy="265.8" r="15"/>
<circle cx="2001.5" cy="284.1" r="15"/>
<circle cx="2001.7" cy="276.5" r="15"/>
<circle cx="2002.5" cy="275.6" r="15"/>
<circle cx="2003.4" cy="282.4" r="15"/>
<circle cx="2004.3" cy="276.4" r="15"/>
<circle cx="2004.3" cy="281.1" r="15"/>
<circle cx="2004.4" cy="275.5" r="15"/>
<circle cx="2006.0" cy="289.8" r="15"/>
<circle cx="2006.2" cy="282.0" r="15"/>
<circle cx="2007.9" cy="279.9" r="15"/>
<circle cx="2008.0" cy="271.5" r="15"/>
<circle cx="2008.0" cy="278.2" r="15"/>
<circle cx="2009.9" cy="269.4" r="15"/>
<circle cx="2010.1" cy="280.1" r="15"/>
<circle cx="2010.4" cy="271.9" r="15"/>
<circle cx="2010.8" cy="287.4" r="15"/>
<circle cx="2013.0" cy="289.2" r="15"/>
<circle cx="2014.0" cy="272.8" r="15"/>
<circle cx="2014.0" cy="274.3" r="15"/>
<circle cx="2014.6" cy="275.6" r="15"/>
<circle cx="2015.1" cy="288.3" r="15"/>
<circle cx="2015.9" cy="276.4" r="15"/>
<circle cx="2016.4" cy="280.1" r="15"/>
<circle cx="2016.6" cy="279.6" r="15"/>
<circle cx="2016.8" cy="269.0" r="15"/>
<circle cx="2018.1" cy="284.4" r="15"/>
<circle cx="2018.2" cy="289.6" r="15"/>
<circle cx="2019.3" cy="276.3" r="15"/>
<circle cx="2019.5" cy="278.7" r="15"/>
<circle cx="2020.6" cy="286.2" r="15"/>
<circle cx="2021.8" cy="279.2" r="15"/>
<circle cx="2022.3" cy="273.9" r="15"/>
<circle cx="2023.6" cy="273.1" r="15"/>
<circle cx="2025.0" cy="277.4" r="15"/>
<circle cx="2025.1" cy="296.2" r="15"/>
<circle cx="2025.1" cy="284.1" r="15"/>
<circle cx="2025.5" cy="286.5" r="15"/>
<circle cx="2027.7" cy="278.1" r="15"/>
<circle cx="2028.4" cy="289.0" r="15"/>
<circle cx="2028.6" cy="272.3" r="15"/>
<circle cx="2029.0" cy="285.1" r="15"/>
<circle cx="2029.4" cy="277.0" r="15"/>
<circle cx="2030.8" cy="280.9" r="15"/>
<circle cx="2031.5" cy="275.0" r="15"/>
<circle cx="2032.1" cy="279.8" r="15"/>
<circle cx="2032.6" cy="289.7" r="15"/>
<circle cx="2033.5" cy="274.6" r="15"/>
<circle cx="2033.9" cy="271.9" r="15"/>
<circle cx="2034.0" cy="284.5" r="15"/>
<circle cx="2034.0" cy="280.7" r="15"/>
<circle cx="2035.2" cy="263.3" r="15"/>
<circle cx="2037.4" cy="274.2" r="15"/>
<circle cx="2038.3" cy="273.0" r="15"/>
<circle cx="2039.0" cy="276.4" r="15"/>
<circle cx="2039.4" cy="281.5" r="15"/>
<circle cx="2039.9" cy="280.9" r="15"/>
<circle cx="2040.2" cy="279.7" r="15"/>
<circle cx="2041.9" cy="267.7" r="15"/>
<circle cx="2041.9" cy="272.2" r="15"/>
<circle cx="2042.6" cy="264.1" r="15"/>
<circle cx="2043.3" cy="266.6" r="15"/>
<circle cx="2043.6" cy="278.7" r="15"/>
<circle cx="2045.1" cy="259.6" r="15"/>
<circle cx="2045.8" cy="273.6" r="15"/>
<circle cx="2046.2" cy="272.5" r="15"/>
<circle cx="2047.2" cy="269.0" r="15"/>
<circle cx="2047.5" cy="282.0" r="15"/>
<circle cx="2047.6" cy="272.6" r="15"/>
<circle cx="2048.1" cy="281.5" r="15"/>
<circle cx="2049.6" cy="268.1" r="15"/>
<circle cx="2050.2" cy="262.1" r="15"/>
<circle cx="2050.7" cy="279.6" r="15"/>
<circle cx="2051.8" cy="263.2" r="15"/>
<circle cx="2052.5" cy="274.4" r="15"/>
<circle cx="2052.7" cy="269.9" r="15"/>
<circle cx="2054.1" cy="283.7" r="15"/>
<circle cx="2054.5" cy="281.4" r="15"/>
<circle cx="2055.1" cy="270.2" r="15"/>
<circle cx="2055.7" cy="272.1" r="15"/>
<circle cx="2057.0" cy="270.0" r="15"/>
<circle cx="2057.2" cy="266.1" r="15"/>
<circle cx="2057.3" cy="262.1" r="15"/>
<circle cx="2059.1" cy="276.8" r="15"/>
<circle cx="2059.5" cy="278.6" r="15"/>
<circle cx="2060.1" cy="277.0" r="15"/>
<circle cx="2060.5" cy="273.6" r="15"/>
<circle cx="2062.1" cy="281.6" r="15"/>
<circle cx="2062.4" cy="277.2" r="15"/>
<circle cx="2063.2" cy="274.1" r="15"/>
<circle cx="2063.2" cy="269.0" r="15"/>
<circle cx="2064.2" cy="272.3" r="15"/>
<circle cx="2064.3" cy="286.0" r="15"/>
<circle cx="2064.8" cy="268.1" r="15"/>
<circle cx="2066.4" cy="263.5" r="15"/>
<circle cx="2066.6" cy="257.7" r="15"/>
<circle cx="2067.3" cy="253.0" r="15"/>
<circle cx="2069.0" cy="283.7" r="15"/>
<circle cx="2069.1" cy="277.0" r="15"/>
<circle cx="2070.4" cy="262.3" r="15"/>
<circle cx="2070.9" cy="268.6" r="15"/>
<circle cx="2071.6" cy="258.9" r="15"/>
<circle cx="2072.7" cy="265.2" r="15"/>
<circle cx="2073.1" cy="272.0" r="15"/>
<circle cx="2073.6" cy="271.3" r="15"/>
<circle cx="2074.8" cy="281.1" r="15"/>
<circle cx="2075.5" cy="270.9" r="15"/>
<circle cx="2075.5" cy="282.5" r="15"/>
<circle cx="2076.5" cy="270.5" r="15"/>
<circle cx="2077.9" cy="278.2" r="15"/>
<circle cx="2078.2" cy="269.6" r="15"/>
<circle cx="2078.4" cy="282.0" r="15"/>
<circle cx="2078.8" cy="277.3" r="15"/>
<circle cx="2079.2" cy="270.9" r="15"/>
<circle cx="2080.9" cy="271.1" r="15"/>
<circle cx="2081.1" cy="261.7" r="15"/>
<circle cx="2081.5" cy="272.7" r="15"/>
<circle cx="2082.6" cy="283.0" r="15"/>
<circle cx="2083.3" cy="262.9" r="15"/>
<circle cx="2083.6" cy="269.8" r="15"/>
<circle cx="2085.7" cy="265.3" r="15"/>
<circle cx="2085.9" cy="262.4" r="15"/>
<circle cx="2085.9" cy="270.8" r="15"/>
<circle cx="2086.8" cy="263.9" r="15"/>
<circle cx="2088.0" cy="256.2" r="15"/>
<circle cx="2089.2" cy="274.6" r="15"/>
<circle cx="2089.5" cy="279.9" r="15"/>
<circle cx="2090.2" cy="256.3" r="15"/>
<circle cx="2090.5" cy="272.0" r="15"/>
<circle cx="2090.6" cy="260.3" r="15"/>
<circle cx="2092.2" cy="272.3" r="15"/>
<circle cx="2092.2" cy="266.7" r="15"/>
<circle cx="2092.9" cy="264.2" r="15"/>
<circle cx="2093.4" cy="265.7" r="15"/>
<circle cx="2093.9" cy="276.1" r="15"/>
<circle cx="2096.0" cy="259.0" r="15"/>
<circle cx="2096.2" cy="257.1" r="15"/>
<circle cx="2096.2" cy="274.1" r="15"/>
<circle cx="2096.7" cy="270.4" r="15"/>
<circle cx="2098.4" cy="273.9" r="15"/>
<circle cx="2098.6" cy="262.6" r="15"/>
<circle cx="2099.9" cy="272.0" r="15"/>
<circle cx="2100.5" cy="253.5" r="15"/>
<circle cx="2100.6" cy="248.8" r="15"/>
<circle cx="2101.9" cy="261.0" r="15"/>
<circle cx="2101.9" cy="278.1" r="15"/>
<circle cx="2104.1" cy="268.2" r="15"/>
<circle cx="2104.1" cy="266.5" r="15"/>
<circle cx="2104.2" cy="270.6" r="15"/>
<circle cx="2105.5" cy="267.8" r="15"/>
<circle cx="2106.6" cy="265.5" r="15"/>
<circle cx="2106.8" cy="260.4" r="15"/>
<circle cx="2107.4" cy="272.7" r="15"/>
<circle cx="2107.9" cy="257.4" r="15"/>
<circle cx="2108.9" cy="262.8" r="15"/>
<circle cx="2109.6" cy="266.7" r="15"/>
<circle cx="2110.2" cy="269.4" r="15"/>
<circle cx="2110.7" cy="261.4" r="15"/>
<circle cx="2111.3" cy="273.7" r="15"/>
<circle cx="2112.0" cy="253.4" r="15"/>
<circle cx="2112.4" cy="271.8" r="15"/>
<circle cx="2114.1" cy="268.7" r="15"/>
<circle cx="2114.2" cy="263.4" r="15"/>
<circle cx="2115.4" cy="258.2" r="15"/>
<circle cx="2115.8" cy="267.8" r="15"/>
<circle cx="2117.5" cy="261.3" r="15"/>
<circle cx="2117.9" cy="271.8" r="15"/>
<circle cx="2118.3" cy="263.8" r="15"/>
<circle cx="2119.5" cy="257.6" r="15"/>
<circle cx="2119.9" cy="270.8" r="15"/>
<circle cx="2120.8" cy="269.4" r="15"/>
<circle cx="2122.1" cy="267.4" r="15"/>
<circle cx="2122.3" cy="261.4" r="15"/>
<circle cx="2122.5" cy="276.2" r="15"/>
<circle cx="2123.2" cy="267.2" r="15"/>
<circle cx="2124.1" cy="273.3" r="15"/>
<circle cx="2124.6" cy="261.3" r="15"/>
<circle cx="2125.1" cy="268.3" r="15"/>
<circle cx="2125.7" cy="276.6" r="15"/>
<circle cx="2126.9" cy="269.1" r="15"/>
<circle cx="2127.3" cy="268.2" r="15"/>
<circle cx="2127.6" cy="264.5" r="15"/>
<circle cx="2127.8" cy="277.4" r="15"/>
<circle cx="2129.5" cy="267.5" r="15"/>
<circle cx="2129.5" cy="261.2" r="15"/>
<circle cx="2129.9" cy="254.9" r="15"/>
<circle cx="2131.4" cy="261.0" r="15"/>
<circle cx="2132.8" cy="282.6" r="15"/>
<circle cx="2133.2" cy="269.6" r="15"/>
<circle cx="2134.0" cy="273.4" r="15"/>
<circle cx="2134.2" cy="273.2" r="15"/>
<circle cx="2135.4" cy="264.5" r="15"/>
<circle cx="2136.1" cy="259.5" r="15"/>
<circle cx="2136.5" cy="271.4" r="15"/>
<circle cx="2136.8" cy="268.7" r="15"/>
<circle cx="2137.0" cy="275.6" r="15"/>
<circle cx="2138.5" cy="254.5" r="15"/>
<circle cx="2139.2" cy="257.1" r="15"/>
<circle cx="2140.5" cy="265.3" r="15"/>
<circle cx="2141.3" cy="262.5" r="15"/>
<circle cx="2141.9" cy="271.5" r="15"/>
<circle cx="2142.2" cy="253.1" r="15"/>
<circle cx="2142.2" cy="269.3" r="15"/>
<circle cx="2143.1" cy="266.8" r="15"/>
<circle cx="2143.9" cy="269.9" r="15"/>
<circle cx="2144.4" cy="280.5" r="15"/>
<circle cx="2146.3" cy="281.0" r="15"/>
<circle cx="2146.5" cy="256.0" r="15"/>
<circle cx="2147.5" cy="251.6" r="15"/>
<circle cx="2147.8" cy="242.5" r="15"/>
<circle cx="2148.6" cy="258.7" r="15"/>
<circle cx="2148.6" cy="257.9" r="15"/>
<circle cx="2149.8" cy="262.3" r="15"/>
<circle cx="2150.0" cy="260.6" r="15"/>
<circle cx="2151.5" cy="257.8" r="15"/>
<circle cx="2152.7" cy="251.9" r="15"/>
<circle cx="2152.9" cy="261.2" r="15"/>
<circle cx="2153.5" cy="254.2" r="15"/>
<circle cx="2154.5" cy="259.3" r="15"/>
<circle cx="2154.6" cy="261.6" r="15"/>
<circle cx="2155.4" cy="275.1" r="15"/>
<circle cx="2156.3" cy="268.5" r="15"/>
<circle cx="2157.2" cy="249.2" r="15"/>
<circle cx="2157.7" cy="270.7" r="15"/>
<circle cx="2158.2" cy="267.5" r="15"/>
<circle cx="2158.9" cy="265.5" r="15"/>
<circle cx="2159.8" cy="258.8" r="15"/>
<circle cx="2160.6" cy="265.2" r="15"/>
<circle cx="2161.0" cy="265.8" r="15"/>
<circle cx="2161.0" cy="259.0" r="15"/>
<circle cx="2162.8" cy="273.9" r="15"/>
<circle cx="2163.1" cy="246.4" r="15"/>
<circle cx="2164.6" cy="258.8" r="15"/>
<circle cx="2164.7" cy="278.1" r="15"/>
<circle cx="2165.4" cy="256.6" r="15"/>
<circle cx="2165.6" cy="256.8" r="15"/>
<circle cx="2165.7" cy="262.4" r="15"/>
<circle cx="2166.5" cy="263.0" r="15"/>
<circle cx="2166.7" cy="271.8" r="15"/>
<circle cx="2168.6" cy="259.6" r="15"/>
</g>
<g fill="#ff0080">
<circle cx="290.0" cy="1480.5" r="17.5"/><circle cx="284.0" cy="1473.5" r="2.6" fill="#ff7dbe"/>
<circle cx="294.0" cy="1474.9" r="17.5"/><circle cx="288.0" cy="1467.9" r="2.6" fill="#ff7dbe"/>
<circle cx="296.5" cy="1474.8" r="17.5"/><circle cx="290.5" cy="1467.8" r="2.6" fill="#ff7dbe"/>
<circle cx="298.6" cy="1468.9" r="17.5"/><circle cx="292.6" cy="1461.9" r="2.6" fill="#ff7dbe"/>
<circle cx="298.8" cy="1465.9" r="17.5"/><circle cx="292.8" cy="1458.9" r="2.6" fill="#ff7dbe"/>
<circle cx="302.0" cy="1461.5" r="17.5"/><circle cx="296.0" cy="1454.5" r="2.6" fill="#ff7dbe"/>
<circle cx="303.2" cy="1456.9" r="17.5"/><circle cx="297.2" cy="1449.9" r="2.6" fill="#ff7dbe"/>
<circle cx="307.2" cy="1452.1" r="17.5"/><circle cx="301.2" cy="1445.1" r="2.6" fill="#ff7dbe"/>
<circle cx="309.6" cy="1452.9" r="17.5"/><circle cx="303.6" cy="1445.9" r="2.6" fill="#ff7dbe"/>
<circle cx="311.9" cy="1445.1" r="17.5"/><circle cx="305.9" cy="1438.1" r="2.6" fill="#ff7dbe"/>
<circle cx="315.7" cy="1440.1" r="17.5"/><circle cx="309.7" cy="1433.1" r="2.6" fill="#ff7dbe"/>
<circle cx="315.9" cy="1438.8" r="17.5"/><circle cx="309.9" cy="1431.8" r="2.6" fill="#ff7dbe"/>
<circle cx="318.3" cy="1432.6" r="17.5"/><circle cx="312.3" cy="1425.6" r="2.6" fill="#ff7dbe"/>
<circle cx="321.3" cy="1435.3" r="17.5"/><circle cx="315.3" cy="1428.3" r="2.6" fill="#ff7dbe"/>
<circle cx="322.8" cy="1433.7" r="17.5"/><circle cx="316.8" cy="1426.7" r="2.6" fill="#ff7dbe"/>
<circle cx="326.2" cy="1430.5" r="17.5"/><circle cx="320.2" cy="1423.5" r="2.6" fill="#ff7dbe"/>
<circle cx="327.0" cy="1425.7" r="17.5"/><circle cx="321.0" cy="1418.7" r="2.6" fill="#ff7dbe"/>
<circle cx="331.8" cy="1426.5" r="17.5"/><circle cx="325.8" cy="1419.5" r="2.6" fill="#ff7dbe"/>
<circle cx="333.9" cy="1420.3" r="17.5"/><circle cx="327.9" cy="1413.3" r="2.6" fill="#ff7dbe"/>
<circle cx="335.4" cy="1416.6" r="17.5"/><circle cx="329.4" cy="1409.6" r="2.6" fill="#ff7dbe"/>
<circle cx="338.4" cy="1413.8" r="17.5"/><circle cx="332.4" cy="1406.8" r="2.6" fill="#ff7dbe"/>
<circle cx="340.0" cy="1408.7" r="17.5"/><circle cx="334.0" cy="1401.7" r="2.6" fill="#ff7dbe"/>
<circle cx="341.1" cy="1412.6" r="17.5"/><circle cx="335.1" cy="1405.6" r="2.6" fill="#ff7dbe"/>
<circle cx="344.7" cy="1405.4" r="17.5"/><circle cx="338.7" cy="1398.4" r="2.6" fill="#ff7dbe"/>
<circle cx="345.3" cy="1400.5" r="17.5"/><circle cx="339.3" cy="1393.5" r="2.6" fill="#ff7dbe"/>
<circle cx="349.8" cy="1391.3" r="17.5"/><circle cx="343.8" cy="1384.3" r="2.6" fill="#ff7dbe"/>
<circle cx="351.0" cy="1393.4" r="17.5"/><circle cx="345.0" cy="1386.4" r="2.6" fill="#ff7dbe"/>
<circle cx="353.6" cy="1385.7" r="17.5"/><circle cx="347.6" cy="1378.7" r="2.6" fill="#ff7dbe"/>
<circle cx="355.4" cy="1378.0" r="17.5"/><circle cx="349.4" cy="1371.0" r="2.6" fill="#ff7dbe"/>
<circle cx="357.8" cy="1375.9" r="17.5"/><circle cx="351.8" cy="1368.9" r="2.6" fill="#ff7dbe"/>
<circle cx="361.1" cy="1370.6" r="17.5"/><circle cx="355.1" cy="1363.6" r="2.6" fill="#ff7dbe"/>
<circle cx="362.6" cy="1364.8" r="17.5"/><circle cx="356.6" cy="1357.8" r="2.6" fill="#ff7dbe"/>
<circle cx="365.5" cy="1358.7" r="17.5"/><circle cx="359.5" cy="1351.7" r="2.6" fill="#ff7dbe"/>
<circle cx="368.9" cy="1353.5" r="17.5"/><circle cx="362.9" cy="1346.5" r="2.6" fill="#ff7dbe"/>
<circle cx="370.3" cy="1345.3" r="17.5"/><circle cx="364.3" cy="1338.3" r="2.6" fill="#ff7dbe"/>
<circle cx="372.9" cy="1343.9" r="17.5"/><circle cx="366.9" cy="1336.9" r="2.6" fill="#ff7dbe"/>
<circle cx="374.7" cy="1335.9" r="17.5"/><circle cx="368.7" cy="1328.9" r="2.6" fill="#ff7dbe"/>
<circle cx="376.2" cy="1327.1" r="17.5"/><circle cx="370.2" cy="1320.1" r="2.6" fill="#ff7dbe"/>
<circle cx="380.3" cy="1325.2" r="17.5"/><circle cx="374.3" cy="1318.2" r="2.6" fill="#ff7dbe"/>
<circle cx="382.1" cy="1313.0" r="17.5"/><circle cx="376.1" cy="1306.0" r="2.6" fill="#ff7dbe"/>
<circle cx="384.4" cy="1306.0" r="17.5"/><circle cx="378.4" cy="1299.0" r="2.6" fill="#ff7dbe"/>
<circle cx="386.8" cy="1304.8" r="17.5"/><circle cx="380.8" cy="1297.8" r="2.6" fill="#ff7dbe"/>
<circle cx="389.6" cy="1293.9" r="17.5"/><circle cx="383.6" cy="1286.9" r="2.6" fill="#ff7dbe"/>
<circle cx="392.5" cy="1286.2" r="17.5"/><circle cx="386.5" cy="1279.2" r="2.6" fill="#ff7dbe"/>
<circle cx="394.3" cy="1278.9" r="17.5"/><circle cx="388.3" cy="1271.9" r="2.6" fill="#ff7dbe"/>
<circle cx="396.8" cy="1267.5" r="17.5"/><circle cx="390.8" cy="1260.5" r="2.6" fill="#ff7dbe"/>
<circle cx="399.3" cy="1263.2" r="17.5"/><circle cx="393.3" cy="1256.2" r="2.6" fill="#ff7dbe"/>
<circle cx="399.3" cy="1248.4" r="17.5"/><circle cx="393.3" cy="1241.4" r="2.6" fill="#ff7dbe"/>
<circle cx="402.8" cy="1246.5" r="17.5"/><circle cx="396.8" cy="1239.5" r="2.6" fill="#ff7dbe"/>
<circle cx="405.9" cy="1235.4" r="17.5"/><circle cx="399.9" cy="1228.4" r="2.6" fill="#ff7dbe"/>
<circle cx="408.6" cy="1226.1" r="17.5"/><circle cx="402.6" cy="1219.1" r="2.6" fill="#ff7dbe"/>
<circle cx="410.0" cy="1213.8" r="17.5"/><circle cx="404.0" cy="1206.8" r="2.6" fill="#ff7dbe"/>
<circle cx="413.2" cy="1206.2" r="17.5"/><circle cx="407.2" cy="1199.2" r="2.6" fill="#ff7dbe"/>
<circle cx="415.7" cy="1196.0" r="17.5"/><circle cx="409.7" cy="1189.0" r="2.6" fill="#ff7dbe"/>
<circle cx="417.2" cy="1187.7" r="17.5"/><circle cx="411.2" cy="1180.7" r="2.6" fill="#ff7dbe"/>
<circle cx="420.3" cy="1163.2" r="17.5"/><circle cx="414.3" cy="1156.2" r="2.6" fill="#ff7dbe"/>
<circle cx="420.3" cy="1176.5" r="17.5"/><circle cx="414.3" cy="1169.5" r="2.6" fill="#ff7dbe"/>
<circle cx="422.7" cy="1149.2" r="17.5"/><circle cx="416.7" cy="1142.2" r="2.6" fill="#ff7dbe"/>
<circle cx="426.5" cy="1137.8" r="17.5"/><circle cx="420.5" cy="1130.8" r="2.6" fill="#ff7dbe"/>
<circle cx="429.0" cy="1125.8" r="17.5"/><circle cx="423.0" cy="1118.8" r="2.6" fill="#ff7dbe"/>
<circle cx="431.9" cy="1115.8" r="17.5"/><circle cx="425.9" cy="1108.8" r="2.6" fill="#ff7dbe"/>
<circle cx="433.5" cy="1099.4" r="17.5"/><circle cx="427.5" cy="1092.4" r="2.6" fill="#ff7dbe"/>
<circle cx="435.8" cy="1093.7" r="17.5"/><circle cx="429.8" cy="1086.7" r="2.6" fill="#ff7dbe"/>
<circle cx="438.1" cy="1081.3" r="17.5"/><circle cx="432.1" cy="1074.3" r="2.6" fill="#ff7dbe"/>
<circle cx="440.9" cy="1066.4" r="17.5"/><circle cx="434.9" cy="1059.4" r="2.6" fill="#ff7dbe"/>
<circle cx="444.4" cy="1058.5" r="17.5"/><circle cx="438.4" cy="1051.5" r="2.6" fill="#ff7dbe"/>
<circle cx="445.8" cy="1043.1" r="17.5"/><circle cx="439.8" cy="1036.1" r="2.6" fill="#ff7dbe"/>
<circle cx="449.0" cy="1028.3" r="17.5"/><circle cx="443.0" cy="1021.3" r="2.6" fill="#ff7dbe"/>
<circle cx="449.9" cy="1020.2" r="17.5"/><circle cx="443.9" cy="1013.2" r="2.6" fill="#ff7dbe"/>
<circle cx="453.6" cy="1004.9" r="17.5"/><circle cx="447.6" cy="997.9" r="2.6" fill="#ff7dbe"/>
<circle cx="454.7" cy="995.6" r="17.5"/><circle cx="448.7" cy="988.6" r="2.6" fill="#ff7dbe"/>
<circle cx="456.5" cy="984.6" r="17.5"/><circle cx="450.5" cy="977.6" r="2.6" fill="#ff7dbe"/>
<circle cx="459.8" cy="971.7" r="17.5"/><circle cx="453.8" cy="964.7" r="2.6" fill="#ff7dbe"/>
<circle cx="462.8" cy="964.8" r="17.5"/><circle cx="456.8" cy="957.8" r="2.6" fill="#ff7dbe"/>
<circle cx="465.5" cy="948.2" r="17.5"/><circle cx="459.5" cy="941.2" r="2.6" fill="#ff7dbe"/>
<circle cx="466.0" cy="936.6" r="17.5"/><circle cx="460.0" cy="929.6" r="2.6" fill="#ff7dbe"/>
<circle cx="468.4" cy="929.0" r="17.5"/><circle cx="462.4" cy="922.0" r="2.6" fill="#ff7dbe"/>
<circle cx="471.0" cy="912.0" r="17.5"/><circle cx="465.0" cy="905.0" r="2.6" fill="#ff7dbe"/>
<circle cx="474.3" cy="900.7" r="17.5"/><circle cx="468.3" cy="893.7" r="2.6" fill="#ff7dbe"/>
<circle cx="477.6" cy="885.4" r="17.5"/><circle cx="471.6" cy="878.4" r="2.6" fill="#ff7dbe"/>
<circle cx="479.5" cy="875.2" r="17.5"/><circle cx="473.5" cy="868.2" r="2.6" fill="#ff7dbe"/>
<circle cx="480.2" cy="862.8" r="17.5"/><circle cx="474.2" cy="855.8" r="2.6" fill="#ff7dbe"/>
<circle cx="482.4" cy="853.0" r="17.5"/><circle cx="476.4" cy="846.0" r="2.6" fill="#ff7dbe"/>
<circle cx="485.3" cy="839.5" r="17.5"/><circle cx="479.3" cy="832.5" r="2.6" fill="#ff7dbe"/>
<circle cx="489.3" cy="824.1" r="17.5"/><circle cx="483.3" cy="817.1" r="2.6" fill="#ff7dbe"/>
<circle cx="489.9" cy="813.0" r="17.5"/><circle cx="483.9" cy="806.0" r="2.6" fill="#ff7dbe"/>
<circle cx="492.1" cy="802.0" r="17.5"/><circle cx="486.1" cy="795.0" r="2.6" fill="#ff7dbe"/>
<circle cx="495.4" cy="788.1" r="17.5"/><circle cx="489.4" cy="781.1" r="2.6" fill="#ff7dbe"/>
<circle cx="497.1" cy="779.8" r="17.5"/><circle cx="491.1" cy="772.8" r="2.6" fill="#ff7dbe"/>
<circle cx="498.8" cy="770.7" r="17.5"/><circle cx="492.8" cy="763.7" r="2.6" fill="#ff7dbe"/>
<circle cx="501.7" cy="756.4" r="17.5"/><circle cx="495.7" cy="749.4" r="2.6" fill="#ff7dbe"/>
<circle cx="504.0" cy="748.7" r="17.5"/><circle cx="498.0" cy="741.7" r="2.6" fill="#ff7dbe"/>
<circle cx="507.7" cy="737.3" r="17.5"/><circle cx="501.7" cy="730.3" r="2.6" fill="#ff7dbe"/>
<circle cx="509.9" cy="724.2" r="17.5"/><circle cx="503.9" cy="717.2" r="2.6" fill="#ff7dbe"/>
<circle cx="513.1" cy="714.3" r="17.5"/><circle cx="507.1" cy="707.3" r="2.6" fill="#ff7dbe"/>
<circle cx="514.5" cy="703.8" r="17.5"/><circle cx="508.5" cy="696.8" r="2.6" fill="#ff7dbe"/>
<circle cx="517.1" cy="693.1" r="17.5"/><circle cx="511.1" cy="686.1" r="2.6" fill="#ff7dbe"/>
<circle cx="518.7" cy="679.5" r="17.5"/><circle cx="512.7" cy="672.5" r="2.6" fill="#ff7dbe"/>
<circle cx="521.8" cy="660.6" r="17.5"/><circle cx="515.8" cy="653.6" r="2.6" fill="#ff7dbe"/>
<circle cx="522.8" cy="669.8" r="17.5"/><circle cx="516.8" cy="662.8" r="2.6" fill="#ff7dbe"/>
<circle cx="527.4" cy="653.8" r="17.5"/><circle cx="521.4" cy="646.8" r="2.6" fill="#ff7dbe"/>
<circle cx="527.8" cy="641.9" r="17.5"/><circle cx="521.8" cy="634.9" r="2.6" fill="#ff7dbe"/>
<circle cx="530.6" cy="627.6" r="17.5"/><circle cx="524.6" cy="620.6" r="2.6" fill="#ff7dbe"/>
<circle cx="532.7" cy="622.0" r="17.5"/><circle cx="526.7" cy="615.0" r="2.6" fill="#ff7dbe"/>
<circle cx="535.8" cy="601.2" r="17.5"/><circle cx="529.8" cy="594.2" r="2.6" fill="#ff7dbe"/>
<circle cx="536.2" cy="610.6" r="17.5"/><circle cx="530.2" cy="603.6" r="2.6" fill="#ff7dbe"/>
<circle cx="540.3" cy="595.5" r="17.5"/><circle cx="534.3" cy="588.5" r="2.6" fill="#ff7dbe"/>
<circle cx="542.5" cy="586.9" r="17.5"/><circle cx="536.5" cy="579.9" r="2.6" fill="#ff7dbe"/>
<circle cx="544.4" cy="575.4" r="17.5"/><circle cx="538.4" cy="568.4" r="2.6" fill="#ff7dbe"/>
<circle cx="547.4" cy="569.8" r="17.5"/><circle cx="541.4" cy="562.8" r="2.6" fill="#ff7dbe"/>
<circle cx="549.9" cy="562.6" r="17.5"/><circle cx="543.9" cy="555.6" r="2.6" fill="#ff7dbe"/>
<circle cx="550.8" cy="547.5" r="17.5"/><circle cx="544.8" cy="540.5" r="2.6" fill="#ff7dbe"/>
<circle cx="552.7" cy="546.8" r="17.5"/><circle cx="546.7" cy="539.8" r="2.6" fill="#ff7dbe"/>
<circle cx="555.7" cy="535.3" r="17.5"/><circle cx="549.7" cy="528.3" r="2.6" fill="#ff7dbe"/>
<circle cx="558.8" cy="528.8" r="17.5"/><circle cx="552.8" cy="521.8" r="2.6" fill="#ff7dbe"/>
<circle cx="563.4" cy="512.3" r="17.5"/><circle cx="557.4" cy="505.3" r="2.6" fill="#ff7dbe"/>
<circle cx="563.8" cy="519.5" r="17.5"/><circle cx="557.8" cy="512.5" r="2.6" fill="#ff7dbe"/>
<circle cx="566.1" cy="507.3" r="17.5"/><circle cx="560.1" cy="500.3" r="2.6" fill="#ff7dbe"/>
<circle cx="567.5" cy="501.6" r="17.5"/><circle cx="561.5" cy="494.6" r="2.6" fill="#ff7dbe"/>
<circle cx="571.5" cy="493.0" r="17.5"/><circle cx="565.5" cy="486.0" r="2.6" fill="#ff7dbe"/>
<circle cx="572.9" cy="484.7" r="17.5"/><circle cx="566.9" cy="477.7" r="2.6" fill="#ff7dbe"/>
<circle cx="574.0" cy="479.3" r="17.5"/><circle cx="568.0" cy="472.3" r="2.6" fill="#ff7dbe"/>
<circle cx="576.9" cy="470.1" r="17.5"/><circle cx="570.9" cy="463.1" r="2.6" fill="#ff7dbe"/>
<circle cx="580.8" cy="462.7" r="17.5"/><circle cx="574.8" cy="455.7" r="2.6" fill="#ff7dbe"/>
<circle cx="582.0" cy="459.4" r="17.5"/><circle cx="576.0" cy="452.4" r="2.6" fill="#ff7dbe"/>
<circle cx="586.2" cy="450.0" r="17.5"/><circle cx="580.2" cy="443.0" r="2.6" fill="#ff7dbe"/>
<circle cx="588.0" cy="443.5" r="17.5"/><circle cx="582.0" cy="436.5" r="2.6" fill="#ff7dbe"/>
<circle cx="589.7" cy="439.0" r="17.5"/><circle cx="583.7" cy="432.0" r="2.6" fill="#ff7dbe"/>
<circle cx="590.9" cy="433.4" r="17.5"/><circle cx="584.9" cy="426.4" r="2.6" fill="#ff7dbe"/>
<circle cx="595.6" cy="427.0" r="17.5"/><circle cx="589.6" cy="420.0" r="2.6" fill="#ff7dbe"/>
<circle cx="596.7" cy="420.3" r="17.5"/><circle cx="590.7" cy="413.3" r="2.6" fill="#ff7dbe"/>
<circle cx="600.2" cy="414.8" r="17.5"/><circle cx="594.2" cy="407.8" r="2.6" fill="#ff7dbe"/>
<circle cx="600.3" cy="418.0" r="17.5"/><circle cx="594.3" cy="411.0" r="2.6" fill="#ff7dbe"/>
<circle cx="602.4" cy="407.9" r="17.5"/><circle cx="596.4" cy="400.9" r="2.6" fill="#ff7dbe"/>
<circle cx="604.2" cy="407.9" r="17.5"/><circle cx="598.2" cy="400.9" r="2.6" fill="#ff7dbe"/>
<circle cx="610.0" cy="400.5" r="17.5"/><circle cx="604.0" cy="393.5" r="2.6" fill="#ff7dbe"/>
<circle cx="610.1" cy="396.9" r="17.5"/><circle cx="604.1" cy="389.9" r="2.6" fill="#ff7dbe"/>
<circle cx="612.5" cy="395.2" r="17.5"/><circle cx="606.5" cy="388.2" r="2.6" fill="#ff7dbe"/>
<circle cx="616.5" cy="388.8" r="17.5"/><circle cx="610.5" cy="381.8" r="2.6" fill="#ff7dbe"/>
<circle cx="618.0" cy="384.5" r="17.5"/><circle cx="612.0" cy="377.5" r="2.6" fill="#ff7dbe"/>
<circle cx="621.3" cy="384.6" r="17.5"/><circle cx="615.3" cy="377.6" r="2.6" fill="#ff7dbe"/>
<circle cx="621.8" cy="384.7" r="17.5"/><circle cx="615.8" cy="377.7" r="2.6" fill="#ff7dbe"/>
<circle cx="624.7" cy="381.5" r="17.5"/><circle cx="618.7" cy="374.5" r="2.6" fill="#ff7dbe"/>
<circle cx="628.0" cy="379.1" r="17.5"/><circle cx="622.0" cy="372.1" r="2.6" fill="#ff7dbe"/>
<circle cx="628.8" cy="373.8" r="17.5"/><circle cx="622.8" cy="366.8" r="2.6" fill="#ff7dbe"/>
<circle cx="632.1" cy="371.2" r="17.5"/><circle cx="626.1" cy="364.2" r="2.6" fill="#ff7dbe"/>
<circle cx="635.4" cy="368.1" r="17.5"/><circle cx="629.4" cy="361.1" r="2.6" fill="#ff7dbe"/>
<circle cx="637.3" cy="363.3" r="17.5"/><circle cx="631.3" cy="356.3" r="2.6" fill="#ff7dbe"/>
<circle cx="637.3" cy="369.7" r="17.5"/><circle cx="631.3" cy="362.7" r="2.6" fill="#ff7dbe"/>
<circle cx="640.5" cy="362.2" r="17.5"/><circle cx="634.5" cy="355.2" r="2.6" fill="#ff7dbe"/>
<circle cx="643.9" cy="361.3" r="17.5"/><circle cx="637.9" cy="354.3" r="2.6" fill="#ff7dbe"/>
<circle cx="646.0" cy="359.2" r="17.5"/><circle cx="640.0" cy="352.2" r="2.6" fill="#ff7dbe"/>
<circle cx="648.2" cy="359.4" r="17.5"/><circle cx="642.2" cy="352.4" r="2.6" fill="#ff7dbe"/>
<circle cx="651.2" cy="355.5" r="17.5"/><circle cx="645.2" cy="348.5" r="2.6" fill="#ff7dbe"/>
<circle cx="652.9" cy="354.0" r="17.5"/><circle cx="646.9" cy="347.0" r="2.6" fill="#ff7dbe"/>
<circle cx="655.2" cy="351.2" r="17.5"/><circle cx="649.2" cy="344.2" r="2.6" fill="#ff7dbe"/>
<circle cx="658.5" cy="353.4" r="17.5"/><circle cx="652.5" cy="346.4" r="2.6" fill="#ff7dbe"/>
<circle cx="659.9" cy="350.2" r="17.5"/><circle cx="653.9" cy="343.2" r="2.6" fill="#ff7dbe"/>
<circle cx="662.0" cy="349.7" r="17.5"/><circle cx="656.0" cy="342.7" r="2.6" fill="#ff7dbe"/>
<circle cx="663.5" cy="353.2" r="17.5"/><circle cx="657.5" cy="346.2" r="2.6" fill="#ff7dbe"/>
<circle cx="668.5" cy="350.1" r="17.5"/><circle cx="662.5" cy="343.1" r="2.6" fill="#ff7dbe"/>
<circle cx="669.7" cy="347.4" r="17.5"/><circle cx="663.7" cy="340.4" r="2.6" fill="#ff7dbe"/>
<circle cx="672.3" cy="345.6" r="17.5"/><circle cx="666.3" cy="338.6" r="2.6" fill="#ff7dbe"/>
<circle cx="672.6" cy="348.8" r="17.5"/><circle cx="666.6" cy="341.8" r="2.6" fill="#ff7dbe"/>
<circle cx="674.9" cy="349.7" r="17.5"/><circle cx="668.9" cy="342.7" r="2.6" fill="#ff7dbe"/>
<circle cx="678.5" cy="346.7" r="17.5"/><circle cx="672.5" cy="339.7" r="2.6" fill="#ff7dbe"/>
<circle cx="681.2" cy="345.0" r="17.5"/><circle cx="675.2" cy="338.0" r="2.6" fill="#ff7dbe"/>
<circle cx="683.5" cy="345.0" r="17.5"/><circle cx="677.5" cy="338.0" r="2.6" fill="#ff7dbe"/>
<circle cx="686.9" cy="345.0" r="17.5"/><circle cx="680.9" cy="338.0" r="2.6" fill="#ff7dbe"/>
<circle cx="688.3" cy="343.8" r="17.5"/><circle cx="682.3" cy="336.8" r="2.6" fill="#ff7dbe"/>
<circle cx="690.1" cy="343.0" r="17.5"/><circle cx="684.1" cy="336.0" r="2.6" fill="#ff7dbe"/>
<circle cx="691.6" cy="347.5" r="17.5"/><circle cx="685.6" cy="340.5" r="2.6" fill="#ff7dbe"/>
<circle cx="693.4" cy="344.4" r="17.5"/><circle cx="687.4" cy="337.4" r="2.6" fill="#ff7dbe"/>
<circle cx="694.5" cy="344.0" r="17.5"/><circle cx="688.5" cy="337.0" r="2.6" fill="#ff7dbe"/>
<circle cx="694.6" cy="343.4" r="17.5"/><circle cx="688.6" cy="336.4" r="2.6" fill="#ff7dbe"/>
<circle cx="694.8" cy="345.7" r="17.5"/><circle cx="688.8" cy="338.7" r="2.6" fill="#ff7dbe"/>
<circle cx="696.0" cy="340.5" r="17.5"/><circle cx="690.0" cy="333.5" r="2.6" fill="#ff7dbe"/>
<circle cx="696.2" cy="346.7" r="17.5"/><circle cx="690.2" cy="339.7" r="2.6" fill="#ff7dbe"/>
<circle cx="698.3" cy="343.9" r="17.5"/><circle cx="692.3" cy="336.9" r="2.6" fill="#ff7dbe"/>
<circle cx="699.3" cy="342.0" r="17.5"/><circle cx="693.3" cy="335.0" r="2.6" fill="#ff7dbe"/>
<circle cx="700.4" cy="346.0" r="17.5"/><circle cx="694.4" cy="339.0" r="2.6" fill="#ff7dbe"/>
<circle cx="700.8" cy="344.1" r="17.5"/><circle cx="694.8" cy="337.1" r="2.6" fill="#ff7dbe"/>
<circle cx="702.8" cy="340.9" r="17.5"/><circle cx="696.8" cy="333.9" r="2.6" fill="#ff7dbe"/>
<circle cx="703.0" cy="340.0" r="17.5"/><circle cx="697.0" cy="333.0" r="2.6" fill="#ff7dbe"/>
<circle cx="704.3" cy="341.0" r="17.5"/><circle cx="698.3" cy="334.0" r="2.6" fill="#ff7dbe"/>
<circle cx="705.7" cy="339.6" r="17.5"/><circle cx="699.7" cy="332.6" r="2.6" fill="#ff7dbe"/>
<circle cx="706.0" cy="338.9" r="17.5"/><circle cx="700.0" cy="331.9" r="2.6" fill="#ff7dbe"/>
<circle cx="707.1" cy="340.8" r="17.5"/><circle cx="701.1" cy="333.8" r="2.6" fill="#ff7dbe"/>
<circle cx="708.1" cy="338.8" r="17.5"/><circle cx="702.1" cy="331.8" r="2.6" fill="#ff7dbe"/>
<circle cx="709.9" cy="336.8" r="17.5"/><circle cx="703.9" cy="329.8" r="2.6" fill="#ff7dbe"/>
<circle cx="709.9" cy="342.1" r="17.5"/><circle cx="703.9" cy="335.1" r="2.6" fill="#ff7dbe"/>
<circle cx="710.0" cy="345.1" r="17.5"/><circle cx="704.0" cy="338.1" r="2.6" fill="#ff7dbe"/>
<circle cx="710.4" cy="338.8" r="17.5"/><circle cx="704.4" cy="331.8" r="2.6" fill="#ff7dbe"/>
<circle cx="713.4" cy="339.3" r="17.5"/><circle cx="707.4" cy="332.3" r="2.6" fill="#ff7dbe"/>
<circle cx="713.9" cy="344.3" r="17.5"/><circle cx="707.9" cy="337.3" r="2.6" fill="#ff7dbe"/>
<circle cx="714.1" cy="339.0" r="17.5"/><circle cx="708.1" cy="332.0" r="2.6" fill="#ff7dbe"/>
<circle cx="715.2" cy="340.7" r="17.5"/><circle cx="709.2" cy="333.7" r="2.6" fill="#ff7dbe"/>
<circle cx="715.3" cy="341.6" r="17.5"/><circle cx="709.3" cy="334.6" r="2.6" fill="#ff7dbe"/>
<circle cx="716.7" cy="338.0" r="17.5"/><circle cx="710.7" cy="331.0" r="2.6" fill="#ff7dbe"/>
<circle cx="716.9" cy="342.7" r="17.5"/><circle cx="710.9" cy="335.7" r="2.6" fill="#ff7dbe"/>
<circle cx="718.5" cy="338.6" r="17.5"/><circle cx="712.5" cy="331.6" r="2.6" fill="#ff7dbe"/>
<circle cx="720.4" cy="337.5" r="17.5"/><circle cx="714.4" cy="330.5" r="2.6" fill="#ff7dbe"/>
<circle cx="722.4" cy="342.2" r="17.5"/><circle cx="716.4" cy="335.2" r="2.6" fill="#ff7dbe"/>
<circle cx="722.9" cy="338.1" r="17.5"/><circle cx="716.9" cy="331.1" r="2.6" fill="#ff7dbe"/>
<circle cx="723.0" cy="337.2" r="17.5"/><circle cx="717.0" cy="330.2" r="2.6" fill="#ff7dbe"/>
<circle cx="723.4" cy="338.4" r="17.5"/><circle cx="717.4" cy="331.4" r="2.6" fill="#ff7dbe"/>
<circle cx="725.1" cy="339.0" r="17.5"/><circle cx="719.1" cy="332.0" r="2.6" fill="#ff7dbe"/>
<circle cx="725.7" cy="335.6" r="17.5"/><circle cx="719.7" cy="328.6" r="2.6" fill="#ff7dbe"/>
<circle cx="725.9" cy="340.2" r="17.5"/><circle cx="719.9" cy="333.2" r="2.6" fill="#ff7dbe"/>
<circle cx="727.0" cy="343.6" r="17.5"/><circle cx="721.0" cy="336.6" r="2.6" fill="#ff7dbe"/>
<circle cx="728.5" cy="336.8" r="17.5"/><circle cx="722.5" cy="329.8" r="2.6" fill="#ff7dbe"/>
<circle cx="728.6" cy="335.1" r="17.5"/><circle cx="722.6" cy="328.1" r="2.6" fill="#ff7dbe"/>
<circle cx="730.4" cy="340.8" r="17.5"/><circle cx="724.4" cy="333.8" r="2.6" fill="#ff7dbe"/>
<circle cx="731.0" cy="334.4" r="17.5"/><circle cx="725.0" cy="327.4" r="2.6" fill="#ff7dbe"/>
<circle cx="731.4" cy="345.0" r="17.5"/><circle cx="725.4" cy="338.0" r="2.6" fill="#ff7dbe"/>
<circle cx="733.1" cy="345.4" r="17.5"/><circle cx="727.1" cy="338.4" r="2.6" fill="#ff7dbe"/>
<circle cx="734.1" cy="337.3" r="17.5"/><circle cx="728.1" cy="330.3" r="2.6" fill="#ff7dbe"/>
<circle cx="734.4" cy="336.3" r="17.5"/><circle cx="728.4" cy="329.3" r="2.6" fill="#ff7dbe"/>
<circle cx="735.4" cy="336.8" r="17.5"/><circle cx="729.4" cy="329.8" r="2.6" fill="#ff7dbe"/>
<circle cx="737.0" cy="330.3" r="17.5"/><circle cx="731.0" cy="323.3" r="2.6" fill="#ff7dbe"/>
<circle cx="737.4" cy="332.9" r="17.5"/><circle cx="731.4" cy="325.9" r="2.6" fill="#ff7dbe"/>
<circle cx="739.6" cy="336.1" r="17.5"/><circle cx="733.6" cy="329.1" r="2.6" fill="#ff7dbe"/>
<circle cx="739.9" cy="336.2" r="17.5"/><circle cx="733.9" cy="329.2" r="2.6" fill="#ff7dbe"/>
<circle cx="741.4" cy="337.1" r="17.5"/><circle cx="735.4" cy="330.1" r="2.6" fill="#ff7dbe"/>
<circle cx="741.9" cy="338.9" r="17.5"/><circle cx="735.9" cy="331.9" r="2.6" fill="#ff7dbe"/>
<circle cx="742.2" cy="335.5" r="17.5"/><circle cx="736.2" cy="328.5" r="2.6" fill="#ff7dbe"/>
<circle cx="742.3" cy="335.6" r="17.5"/><circle cx="736.3" cy="328.6" r="2.6" fill="#ff7dbe"/>
<circle cx="743.1" cy="332.5" r="17.5"/><circle cx="737.1" cy="325.5" r="2.6" fill="#ff7dbe"/>
<circle cx="745.8" cy="335.5" r="17.5"/><circle cx="739.8" cy="328.5" r="2.6" fill="#ff7dbe"/>
<circle cx="746.8" cy="340.3" r="17.5"/><circle cx="740.8" cy="333.3" r="2.6" fill="#ff7dbe"/>
<circle cx="747.9" cy="341.1" r="17.5"/><circle cx="741.9" cy="334.1" r="2.6" fill="#ff7dbe"/>
<circle cx="748.3" cy="334.5" r="17.5"/><circle cx="742.3" cy="327.5" r="2.6" fill="#ff7dbe"/>
<circle cx="748.6" cy="339.2" r="17.5"/><circle cx="742.6" cy="332.2" r="2.6" fill="#ff7dbe"/>
<circle cx="750.8" cy="334.0" r="17.5"/><circle cx="744.8" cy="327.0" r="2.6" fill="#ff7dbe"/>
<circle cx="750.8" cy="333.4" r="17.5"/><circle cx="744.8" cy="326.4" r="2.6" fill="#ff7dbe"/>
<circle cx="752.9" cy="326.9" r="17.5"/><circle cx="746.9" cy="319.9" r="2.6" fill="#ff7dbe"/>
<circle cx="753.7" cy="335.7" r="17.5"/><circle cx="747.7" cy="328.7" r="2.6" fill="#ff7dbe"/>
<circle cx="753.8" cy="337.3" r="17.5"/><circle cx="747.8" cy="330.3" r="2.6" fill="#ff7dbe"/>
<circle cx="753.9" cy="337.2" r="17.5"/><circle cx="747.9" cy="330.2" r="2.6" fill="#ff7dbe"/>
<circle cx="757.2" cy="331.9" r="17.5"/><circle cx="751.2" cy="324.9" r="2.6" fill="#ff7dbe"/>
<circle cx="757.7" cy="333.4" r="17.5"/><circle cx="751.7" cy="326.4" r="2.6" fill="#ff7dbe"/>
<circle cx="758.1" cy="330.9" r="17.5"/><circle cx="752.1" cy="323.9" r="2.6" fill="#ff7dbe"/>
<circle cx="758.3" cy="329.5" r="17.5"/><circle cx="752.3" cy="322.5" r="2.6" fill="#ff7dbe"/>
<circle cx="758.3" cy="338.1" r="17.5"/><circle cx="752.3" cy="331.1" r="2.6" fill="#ff7dbe"/>
<circle cx="760.3" cy="334.6" r="17.5"/><circle cx="754.3" cy="327.6" r="2.6" fill="#ff7dbe"/>
<circle cx="761.0" cy="329.8" r="17.5"/><circle cx="755.0" cy="322.8" r="2.6" fill="#ff7dbe"/>
<circle cx="761.5" cy="334.2" r="17.5"/><circle cx="755.5" cy="327.2" r="2.6" fill="#ff7dbe"/>
<circle cx="763.2" cy="330.5" r="17.5"/><circle cx="757.2" cy="323.5" r="2.6" fill="#ff7dbe"/>
<circle cx="763.6" cy="335.4" r="17.5"/><circle cx="757.6" cy="328.4" r="2.6" fill="#ff7dbe"/>
<circle cx="764.2" cy="334.1" r="17.5"/><circle cx="758.2" cy="327.1" r="2.6" fill="#ff7dbe"/>
<circle cx="766.2" cy="332.0" r="17.5"/><circle cx="760.2" cy="325.0" r="2.6" fill="#ff7dbe"/>
<circle cx="766.4" cy="332.8" r="17.5"/><circle cx="760.4" cy="325.8" r="2.6" fill="#ff7dbe"/>
<circle cx="767.9" cy="329.4" r="17.5"/><circle cx="761.9" cy="322.4" r="2.6" fill="#ff7dbe"/>
<circle cx="769.1" cy="329.5" r="17.5"/><circle cx="763.1" cy="322.5" r="2.6" fill="#ff7dbe"/>
<circle cx="770.1" cy="332.9" r="17.5"/><circle cx="764.1" cy="325.9" r="2.6" fill="#ff7dbe"/>
<circle cx="770.5" cy="333.2" r="17.5"/><circle cx="764.5" cy="326.2" r="2.6" fill="#ff7dbe"/>
<circle cx="771.7" cy="328.8" r="17.5"/><circle cx="765.7" cy="321.8" r="2.6" fill="#ff7dbe"/>
<circle cx="771.8" cy="325.8" r="17.5"/><circle cx="765.8" cy="318.8" r="2.6" fill="#ff7dbe"/>
<circle cx="772.6" cy="331.7" r="17.5"/><circle cx="766.6" cy="324.7" r="2.6" fill="#ff7dbe"/>
<circle cx="775.4" cy="328.6" r="17.5"/><circle cx="769.4" cy="321.6" r="2.6" fill="#ff7dbe"/>
<circle cx="775.5" cy="331.3" r="17.5"/><circle cx="769.5" cy="324.3" r="2.6" fill="#ff7dbe"/>
<circle cx="776.9" cy="331.4" r="17.5"/><circle cx="770.9" cy="324.4" r="2.6" fill="#ff7dbe"/>
<circle cx="777.3" cy="329.1" r="17.5"/><circle cx="771.3" cy="322.1" r="2.6" fill="#ff7dbe"/>
<circle cx="777.6" cy="331.0" r="17.5"/><circle cx="771.6" cy="324.0" r="2.6" fill="#ff7dbe"/>
<circle cx="778.2" cy="332.3" r="17.5"/><circle cx="772.2" cy="325.3" r="2.6" fill="#ff7dbe"/>
<circle cx="780.1" cy="331.2" r="17.5"/><circle cx="774.1" cy="324.2" r="2.6" fill="#ff7dbe"/>
<circle cx="780.8" cy="331.8" r="17.5"/><circle cx="774.8" cy="324.8" r="2.6" fill="#ff7dbe"/>
<circle cx="782.5" cy="329.7" r="17.5"/><circle cx="776.5" cy="322.7" r="2.6" fill="#ff7dbe"/>
<circle cx="783.0" cy="326.6" r="17.5"/><circle cx="777.0" cy="319.6" r="2.6" fill="#ff7dbe"/>
<circle cx="784.2" cy="329.2" r="17.5"/><circle cx="778.2" cy="322.2" r="2.6" fill="#ff7dbe"/>
<circle cx="785.5" cy="325.1" r="17.5"/><circle cx="779.5" cy="318.1" r="2.6" fill="#ff7dbe"/>
<circle cx="786.4" cy="332.0" r="17.5"/><circle cx="780.4" cy="325.0" r="2.6" fill="#ff7dbe"/>
<circle cx="787.4" cy="329.3" r="17.5"/><circle cx="781.4" cy="322.3" r="2.6" fill="#ff7dbe"/>
<circle cx="787.6" cy="329.6" r="17.5"/><circle cx="781.6" cy="322.6" r="2.6" fill="#ff7dbe"/>
<circle cx="788.5" cy="323.2" r="17.5"/><circle cx="782.5" cy="316.2" r="2.6" fill="#ff7dbe"/>
<circle cx="789.0" cy="327.7" r="17.5"/><circle cx="783.0" cy="320.7" r="2.6" fill="#ff7dbe"/>
<circle cx="790.0" cy="324.8" r="17.5"/><circle cx="784.0" cy="317.8" r="2.6" fill="#ff7dbe"/>
<circle cx="791.2" cy="326.3" r="17.5"/><circle cx="785.2" cy="319.3" r="2.6" fill="#ff7dbe"/>
<circle cx="792.4" cy="327.1" r="17.5"/><circle cx="786.4" cy="320.1" r="2.6" fill="#ff7dbe"/>
<circle cx="793.4" cy="330.1" r="17.5"/><circle cx="787.4" cy="323.1" r="2.6" fill="#ff7dbe"/>
<circle cx="794.2" cy="318.0" r="17.5"/><circle cx="788.2" cy="311.0" r="2.6" fill="#ff7dbe"/>
<circle cx="794.3" cy="328.2" r="17.5"/><circle cx="788.3" cy="321.2" r="2.6" fill="#ff7dbe"/>
<circle cx="795.8" cy="328.8" r="17.5"/><circle cx="789.8" cy="321.8" r="2.6" fill="#ff7dbe"/>
<circle cx="796.8" cy="324.7" r="17.5"/><circle cx="790.8" cy="317.7" r="2.6" fill="#ff7dbe"/>
<circle cx="797.0" cy="329.2" r="17.5"/><circle cx="791.0" cy="322.2" r="2.6" fill="#ff7dbe"/>
<circle cx="798.5" cy="327.1" r="17.5"/><circle cx="792.5" cy="320.1" r="2.6" fill="#ff7dbe"/>
<circle cx="800.8" cy="327.9" r="17.5"/><circle cx="794.8" cy="320.9" r="2.6" fill="#ff7dbe"/>
<circle cx="802.2" cy="326.0" r="17.5"/><circle cx="796.2" cy="319.0" r="2.6" fill="#ff7dbe"/>
<circle cx="802.5" cy="328.1" r="17.5"/><circle cx="796.5" cy="321.1" r="2.6" fill="#ff7dbe"/>
<circle cx="802.6" cy="325.7" r="17.5"/><circle cx="796.6" cy="318.7" r="2.6" fill="#ff7dbe"/>
<circle cx="803.2" cy="322.7" r="17.5"/><circle cx="797.2" cy="315.7" r="2.6" fill="#ff7dbe"/>
<circle cx="804.8" cy="323.3" r="17.5"/><circle cx="798.8" cy="316.3" r="2.6" fill="#ff7dbe"/>
<circle cx="806.0" cy="325.7" r="17.5"/><circle cx="800.0" cy="318.7" r="2.6" fill="#ff7dbe"/>
<circle cx="806.9" cy="323.3" r="17.5"/><circle cx="800.9" cy="316.3" r="2.6" fill="#ff7dbe"/>
<circle cx="807.0" cy="325.4" r="17.5"/><circle cx="801.0" cy="318.4" r="2.6" fill="#ff7dbe"/>
<circle cx="807.3" cy="321.2" r="17.5"/><circle cx="801.3" cy="314.2" r="2.6" fill="#ff7dbe"/>
<circle cx="807.8" cy="320.9" r="17.5"/><circle cx="801.8" cy="313.9" r="2.6" fill="#ff7dbe"/>
<circle cx="811.3" cy="323.4" r="17.5"/><circle cx="805.3" cy="316.4" r="2.6" fill="#ff7dbe"/>
<circle cx="811.4" cy="326.2" r="17.5"/><circle cx="805.4" cy="319.2" r="2.6" fill="#ff7dbe"/>
<circle cx="811.9" cy="322.2" r="17.5"/><circle cx="805.9" cy="315.2" r="2.6" fill="#ff7dbe"/>
<circle cx="812.0" cy="325.6" r="17.5"/><circle cx="806.0" cy="318.6" r="2.6" fill="#ff7dbe"/>
<circle cx="813.3" cy="328.2" r="17.5"/><circle cx="807.3" cy="321.2" r="2.6" fill="#ff7dbe"/>
<circle cx="814.1" cy="327.8" r="17.5"/><circle cx="808.1" cy="320.8" r="2.6" fill="#ff7dbe"/>
<circle cx="815.5" cy="332.4" r="17.5"/><circle cx="809.5" cy="325.4" r="2.6" fill="#ff7dbe"/>
<circle cx="816.7" cy="324.2" r="17.5"/><circle cx="810.7" cy="317.2" r="2.6" fill="#ff7dbe"/>
<circle cx="818.8" cy="326.6" r="17.5"/><circle cx="812.8" cy="319.6" r="2.6" fill="#ff7dbe"/>
<circle cx="819.4" cy="320.6" r="17.5"/><circle cx="813.4" cy="313.6" r="2.6" fill="#ff7dbe"/>
<circle cx="820.5" cy="322.1" r="17.5"/><circle cx="814.5" cy="315.1" r="2.6" fill="#ff7dbe"/>
<circle cx="820.5" cy="328.7" r="17.5"/><circle cx="814.5" cy="321.7" r="2.6" fill="#ff7dbe"/>
<circle cx="820.6" cy="326.5" r="17.5"/><circle cx="814.6" cy="319.5" r="2.6" fill="#ff7dbe"/>
<circle cx="822.4" cy="328.1" r="17.5"/><circle cx="816.4" cy="321.1" r="2.6" fill="#ff7dbe"/>
<circle cx="822.7" cy="323.4" r="17.5"/><circle cx="816.7" cy="316.4" r="2.6" fill="#ff7dbe"/>
<circle cx="825.0" cy="323.0" r="17.5"/><circle cx="819.0" cy="316.0" r="2.6" fill="#ff7dbe"/>
<circle cx="826.5" cy="320.1" r="17.5"/><circle cx="820.5" cy="313.1" r="2.6" fill="#ff7dbe"/>
<circle cx="826.9" cy="319.9" r="17.5"/><circle cx="820.9" cy="312.9" r="2.6" fill="#ff7dbe"/>
<circle cx="828.3" cy="321.9" r="17.5"/><circle cx="822.3" cy="314.9" r="2.6" fill="#ff7dbe"/>
<circle cx="829.1" cy="321.4" r="17.5"/><circle cx="823.1" cy="314.4" r="2.6" fill="#ff7dbe"/>
<circle cx="829.3" cy="322.7" r="17.5"/><circle cx="823.3" cy="315.7" r="2.6" fill="#ff7dbe"/>
<circle cx="829.4" cy="325.9" r="17.5"/><circle cx="823.4" cy="318.9" r="2.6" fill="#ff7dbe"/>
<circle cx="830.3" cy="324.8" r="17.5"/><circle cx="824.3" cy="317.8" r="2.6" fill="#ff7dbe"/>
<circle cx="831.4" cy="321.0" r="17.5"/><circle cx="825.4" cy="314.0" r="2.6" fill="#ff7dbe"/>
<circle cx="832.7" cy="325.5" r="17.5"/><circle cx="826.7" cy="318.5" r="2.6" fill="#ff7dbe"/>
<circle cx="832.9" cy="321.8" r="17.5"/><circle cx="826.9" cy="314.8" r="2.6" fill="#ff7dbe"/>
<circle cx="834.4" cy="320.1" r="17.5"/><circle cx="828.4" cy="313.1" r="2.6" fill="#ff7dbe"/>
<circle cx="835.0" cy="321.2" r="17.5"/><circle cx="829.0" cy="314.2" r="2.6" fill="#ff7dbe"/>
<circle cx="836.7" cy="316.9" r="17.5"/><circle cx="830.7" cy="309.9" r="2.6" fill="#ff7dbe"/>
<circle cx="837.7" cy="317.9" r="17.5"/><circle cx="831.7" cy="310.9" r="2.6" fill="#ff7dbe"/>
<circle cx="838.5" cy="328.1" r="17.5"/><circle cx="832.5" cy="321.1" r="2.6" fill="#ff7dbe"/>
<circle cx="838.6" cy="321.0" r="17.5"/><circle cx="832.6" cy="314.0" r="2.6" fill="#ff7dbe"/>
<circle cx="840.1" cy="324.0" r="17.5"/><circle cx="834.1" cy="317.0" r="2.6" fill="#ff7dbe"/>
<circle cx="840.9" cy="315.6" r="17.5"/><circle cx="834.9" cy="308.6" r="2.6" fill="#ff7dbe"/>
<circle cx="840.9" cy="321.3" r="17.5"/><circle cx="834.9" cy="314.3" r="2.6" fill="#ff7dbe"/>
<circle cx="843.4" cy="323.9" r="17.5"/><circle cx="837.4" cy="316.9" r="2.6" fill="#ff7dbe"/>
<circle cx="843.7" cy="322.6" r="17.5"/><circle cx="837.7" cy="315.6" r="2.6" fill="#ff7dbe"/>
<circle cx="844.2" cy="324.3" r="17.5"/><circle cx="838.2" cy="317.3" r="2.6" fill="#ff7dbe"/>
<circle cx="845.9" cy="318.3" r="17.5"/><circle cx="839.9" cy="311.3" r="2.6" fill="#ff7dbe"/>
<circle cx="847.1" cy="325.4" r="17.5"/><circle cx="841.1" cy="318.4" r="2.6" fill="#ff7dbe"/>
<circle cx="847.2" cy="316.4" r="17.5"/><circle cx="841.2" cy="309.4" r="2.6" fill="#ff7dbe"/>
<circle cx="848.0" cy="316.5" r="17.5"/><circle cx="842.0" cy="309.5" r="2.6" fill="#ff7dbe"/>
<circle cx="849.7" cy="320.9" r="17.5"/><circle cx="843.7" cy="313.9" r="2.6" fill="#ff7dbe"/>
<circle cx="850.6" cy="320.3" r="17.5"/><circle cx="844.6" cy="313.3" r="2.6" fill="#ff7dbe"/>
<circle cx="851.6" cy="312.6" r="17.5"/><circle cx="845.6" cy="305.6" r="2.6" fill="#ff7dbe"/>
<circle cx="852.6" cy="318.7" r="17.5"/><circle cx="846.6" cy="311.7" r="2.6" fill="#ff7dbe"/>
<circle cx="853.7" cy="317.3" r="17.5"/><circle cx="847.7" cy="310.3" r="2.6" fill="#ff7dbe"/>
<circle cx="854.3" cy="320.5" r="17.5"/><circle cx="848.3" cy="313.5" r="2.6" fill="#ff7dbe"/>
<circle cx="855.6" cy="319.2" r="17.5"/><circle cx="849.6" cy="312.2" r="2.6" fill="#ff7dbe"/>
<circle cx="855.8" cy="314.4" r="17.5"/><circle cx="849.8" cy="307.4" r="2.6" fill="#ff7dbe"/>
<circle cx="857.2" cy="322.3" r="17.5"/><circle cx="851.2" cy="315.3" r="2.6" fill="#ff7dbe"/>
<circle cx="857.8" cy="312.5" r="17.5"/><circle cx="851.8" cy="305.5" r="2.6" fill="#ff7dbe"/>
<circle cx="859.3" cy="319.7" r="17.5"/><circle cx="853.3" cy="312.7" r="2.6" fill="#ff7dbe"/>
<circle cx="860.1" cy="313.7" r="17.5"/><circle cx="854.1" cy="306.7" r="2.6" fill="#ff7dbe"/>
<circle cx="860.2" cy="325.8" r="17.5"/><circle cx="854.2" cy="318.8" r="2.6" fill="#ff7dbe"/>
<circle cx="862.2" cy="319.9" r="17.5"/><circle cx="856.2" cy="312.9" r="2.6" fill="#ff7dbe"/>
<circle cx="862.6" cy="324.8" r="17.5"/><circle cx="856.6" cy="317.8" r="2.6" fill="#ff7dbe"/>
<circle cx="864.3" cy="315.9" r="17.5"/><circle cx="858.3" cy="308.9" r="2.6" fill="#ff7dbe"/>
<circle cx="865.3" cy="318.7" r="17.5"/><circle cx="859.3" cy="311.7" r="2.6" fill="#ff7dbe"/>
<circle cx="865.8" cy="312.8" r="17.5"/><circle cx="859.8" cy="305.8" r="2.6" fill="#ff7dbe"/>
<circle cx="866.8" cy="314.8" r="17.5"/><circle cx="860.8" cy="307.8" r="2.6" fill="#ff7dbe"/>
<circle cx="867.8" cy="318.6" r="17.5"/><circle cx="861.8" cy="311.6" r="2.6" fill="#ff7dbe"/>
<circle cx="868.9" cy="322.0" r="17.5"/><circle cx="862.9" cy="315.0" r="2.6" fill="#ff7dbe"/>
<circle cx="869.0" cy="316.1" r="17.5"/><circle cx="863.0" cy="309.1" r="2.6" fill="#ff7dbe"/>
<circle cx="871.3" cy="317.6" r="17.5"/><circle cx="865.3" cy="310.6" r="2.6" fill="#ff7dbe"/>
<circle cx="871.3" cy="317.5" r="17.5"/><circle cx="865.3" cy="310.5" r="2.6" fill="#ff7dbe"/>
<circle cx="871.4" cy="320.7" r="17.5"/><circle cx="865.4" cy="313.7" r="2.6" fill="#ff7dbe"/>
<circle cx="872.7" cy="320.9" r="17.5"/><circle cx="866.7" cy="313.9" r="2.6" fill="#ff7dbe"/>
<circle cx="873.9" cy="315.5" r="17.5"/><circle cx="867.9" cy="308.5" r="2.6" fill="#ff7dbe"/>
<circle cx="875.6" cy="315.0" r="17.5"/><circle cx="869.6" cy="308.0" r="2.6" fill="#ff7dbe"/>
<circle cx="876.4" cy="317.3" r="17.5"/><circle cx="870.4" cy="310.3" r="2.6" fill="#ff7dbe"/>
<circle cx="877.6" cy="322.1" r="17.5"/><circle cx="871.6" cy="315.1" r="2.6" fill="#ff7dbe"/>
<circle cx="878.1" cy="314.3" r="17.5"/><circle cx="872.1" cy="307.3" r="2.6" fill="#ff7dbe"/>
<circle cx="878.5" cy="315.2" r="17.5"/><circle cx="872.5" cy="308.2" r="2.6" fill="#ff7dbe"/>
<circle cx="879.8" cy="316.9" r="17.5"/><circle cx="873.8" cy="309.9" r="2.6" fill="#ff7dbe"/>
<circle cx="880.3" cy="319.9" r="17.5"/><circle cx="874.3" cy="312.9" r="2.6" fill="#ff7dbe"/>
<circle cx="881.0" cy="313.8" r="17.5"/><circle cx="875.0" cy="306.8" r="2.6" fill="#ff7dbe"/>
<circle cx="883.1" cy="317.3" r="17.5"/><circle cx="877.1" cy="310.3" r="2.6" fill="#ff7dbe"/>
<circle cx="883.3" cy="318.6" r="17.5"/><circle cx="877.3" cy="311.6" r="2.6" fill="#ff7dbe"/>
<circle cx="883.5" cy="320.5" r="17.5"/><circle cx="877.5" cy="313.5" r="2.6" fill="#ff7dbe"/>
<circle cx="886.6" cy="321.3" r="17.5"/><circle cx="880.6" cy="314.3" r="2.6" fill="#ff7dbe"/>
<circle cx="887.3" cy="321.4" r="17.5"/><circle cx="881.3" cy="314.4" r="2.6" fill="#ff7dbe"/>
<circle cx="887.5" cy="319.3" r="17.5"/><circle cx="881.5" cy="312.3" r="2.6" fill="#ff7dbe"/>
<circle cx="888.2" cy="315.8" r="17.5"/><circle cx="882.2" cy="308.8" r="2.6" fill="#ff7dbe"/>
<circle cx="888.9" cy="316.0" r="17.5"/><circle cx="882.9" cy="309.0" r="2.6" fill="#ff7dbe"/>
<circle cx="889.7" cy="309.9" r="17.5"/><circle cx="883.7" cy="302.9" r="2.6" fill="#ff7dbe"/>
<circle cx="890.1" cy="320.2" r="17.5"/><circle cx="884.1" cy="313.2" r="2.6" fill="#ff7dbe"/>
<circle cx="892.9" cy="315.8" r="17.5"/><circle cx="886.9" cy="308.8" r="2.6" fill="#ff7dbe"/>
<circle cx="893.2" cy="318.8" r="17.5"/><circle cx="887.2" cy="311.8" r="2.6" fill="#ff7dbe"/>
<circle cx="894.2" cy="313.6" r="17.5"/><circle cx="888.2" cy="306.6" r="2.6" fill="#ff7dbe"/>
<circle cx="894.3" cy="308.9" r="17.5"/><circle cx="888.3" cy="301.9" r="2.6" fill="#ff7dbe"/>
<circle cx="895.4" cy="317.6" r="17.5"/><circle cx="889.4" cy="310.6" r="2.6" fill="#ff7dbe"/>
<circle cx="896.0" cy="313.0" r="17.5"/><circle cx="890.0" cy="306.0" r="2.6" fill="#ff7dbe"/>
<circle cx="896.8" cy="319.3" r="17.5"/><circle cx="890.8" cy="312.3" r="2.6" fill="#ff7dbe"/>
<circle cx="899.5" cy="315.8" r="17.5"/><circle cx="893.5" cy="308.8" r="2.6" fill="#ff7dbe"/>
<circle cx="899.7" cy="314.1" r="17.5"/><circle cx="893.7" cy="307.1" r="2.6" fill="#ff7dbe"/>
<circle cx="900.9" cy="314.5" r="17.5"/><circle cx="894.9" cy="307.5" r="2.6" fill="#ff7dbe"/>
<circle cx="901.0" cy="316.1" r="17.5"/><circle cx="895.0" cy="309.1" r="2.6" fill="#ff7dbe"/>
<circle cx="901.8" cy="313.5" r="17.5"/><circle cx="895.8" cy="306.5" r="2.6" fill="#ff7dbe"/>
<circle cx="903.1" cy="310.0" r="17.5"/><circle cx="897.1" cy="303.0" r="2.6" fill="#ff7dbe"/>
<circle cx="904.4" cy="313.0" r="17.5"/><circle cx="898.4" cy="306.0" r="2.6" fill="#ff7dbe"/>
<circle cx="904.9" cy="313.2" r="17.5"/><circle cx="898.9" cy="306.2" r="2.6" fill="#ff7dbe"/>
<circle cx="905.2" cy="317.5" r="17.5"/><circle cx="899.2" cy="310.5" r="2.6" fill="#ff7dbe"/>
<circle cx="907.6" cy="319.0" r="17.5"/><circle cx="901.6" cy="312.0" r="2.6" fill="#ff7dbe"/>
<circle cx="907.7" cy="315.1" r="17.5"/><circle cx="901.7" cy="308.1" r="2.6" fill="#ff7dbe"/>
<circle cx="908.3" cy="310.3" r="17.5"/><circle cx="902.3" cy="303.3" r="2.6" fill="#ff7dbe"/>
<circle cx="909.9" cy="314.0" r="17.5"/><circle cx="903.9" cy="307.0" r="2.6" fill="#ff7dbe"/>
<circle cx="911.7" cy="311.8" r="17.5"/><circle cx="905.7" cy="304.8" r="2.6" fill="#ff7dbe"/>
<circle cx="912.1" cy="311.9" r="17.5"/><circle cx="906.1" cy="304.9" r="2.6" fill="#ff7dbe"/>
<circle cx="912.8" cy="315.4" r="17.5"/><circle cx="906.8" cy="308.4" r="2.6" fill="#ff7dbe"/>
<circle cx="913.1" cy="317.4" r="17.5"/><circle cx="907.1" cy="310.4" r="2.6" fill="#ff7dbe"/>
<circle cx="914.3" cy="314.8" r="17.5"/><circle cx="908.3" cy="307.8" r="2.6" fill="#ff7dbe"/>
<circle cx="916.2" cy="313.0" r="17.5"/><circle cx="910.2" cy="306.0" r="2.6" fill="#ff7dbe"/>
<circle cx="916.4" cy="311.3" r="17.5"/><circle cx="910.4" cy="304.3" r="2.6" fill="#ff7dbe"/>
<circle cx="916.9" cy="308.1" r="17.5"/><circle cx="910.9" cy="301.1" r="2.6" fill="#ff7dbe"/>
<circle cx="917.7" cy="312.8" r="17.5"/><circle cx="911.7" cy="305.8" r="2.6" fill="#ff7dbe"/>
<circle cx="918.9" cy="313.1" r="17.5"/><circle cx="912.9" cy="306.1" r="2.6" fill="#ff7dbe"/>
<circle cx="919.6" cy="316.9" r="17.5"/><circle cx="913.6" cy="309.9" r="2.6" fill="#ff7dbe"/>
<circle cx="920.4" cy="314.9" r="17.5"/><circle cx="914.4" cy="307.9" r="2.6" fill="#ff7dbe"/>
<circle cx="922.8" cy="311.7" r="17.5"/><circle cx="916.8" cy="304.7" r="2.6" fill="#ff7dbe"/>
<circle cx="923.7" cy="308.0" r="17.5"/><circle cx="917.7" cy="301.0" r="2.6" fill="#ff7dbe"/>
<circle cx="924.4" cy="310.1" r="17.5"/><circle cx="918.4" cy="303.1" r="2.6" fill="#ff7dbe"/>
<circle cx="924.6" cy="311.4" r="17.5"/><circle cx="918.6" cy="304.4" r="2.6" fill="#ff7dbe"/>
<circle cx="926.6" cy="314.7" r="17.5"/><circle cx="920.6" cy="307.7" r="2.6" fill="#ff7dbe"/>
<circle cx="926.8" cy="308.6" r="17.5"/><circle cx="920.8" cy="301.6" r="2.6" fill="#ff7dbe"/>
<circle cx="927.6" cy="309.4" r="17.5"/><circle cx="921.6" cy="302.4" r="2.6" fill="#ff7dbe"/>
<circle cx="928.5" cy="309.4" r="17.5"/><circle cx="922.5" cy="302.4" r="2.6" fill="#ff7dbe"/>
<circle cx="929.1" cy="310.3" r="17.5"/><circle cx="923.1" cy="303.3" r="2.6" fill="#ff7dbe"/>
<circle cx="930.3" cy="309.9" r="17.5"/><circle cx="924.3" cy="302.9" r="2.6" fill="#ff7dbe"/>
<circle cx="930.6" cy="310.7" r="17.5"/><circle cx="924.6" cy="303.7" r="2.6" fill="#ff7dbe"/>
<circle cx="933.1" cy="312.1" r="17.5"/><circle cx="927.1" cy="305.1" r="2.6" fill="#ff7dbe"/>
<circle cx="933.1" cy="306.7" r="17.5"/><circle cx="927.1" cy="299.7" r="2.6" fill="#ff7dbe"/>
<circle cx="933.5" cy="306.5" r="17.5"/><circle cx="927.5" cy="299.5" r="2.6" fill="#ff7dbe"/>
<circle cx="934.9" cy="308.9" r="17.5"/><circle cx="928.9" cy="301.9" r="2.6" fill="#ff7dbe"/>
<circle cx="935.0" cy="311.7" r="17.5"/><circle cx="929.0" cy="304.7" r="2.6" fill="#ff7dbe"/>
<circle cx="936.1" cy="307.6" r="17.5"/><circle cx="930.1" cy="300.6" r="2.6" fill="#ff7dbe"/>
<circle cx="937.7" cy="312.0" r="17.5"/><circle cx="931.7" cy="305.0" r="2.6" fill="#ff7dbe"/>
<circle cx="939.9" cy="308.1" r="17.5"/><circle cx="933.9" cy="301.1" r="2.6" fill="#ff7dbe"/>
<circle cx="940.7" cy="308.4" r="17.5"/><circle cx="934.7" cy="301.4" r="2.6" fill="#ff7dbe"/>
<circle cx="940.9" cy="308.7" r="17.5"/><circle cx="934.9" cy="301.7" r="2.6" fill="#ff7dbe"/>
<circle cx="942.9" cy="306.7" r="17.5"/><circle cx="936.9" cy="299.7" r="2.6" fill="#ff7dbe"/>
<circle cx="944.0" cy="305.9" r="17.5"/><circle cx="938.0" cy="298.9" r="2.6" fill="#ff7dbe"/>
<circle cx="944.2" cy="307.3" r="17.5"/><circle cx="938.2" cy="300.3" r="2.6" fill="#ff7dbe"/>
<circle cx="945.3" cy="305.6" r="17.5"/><circle cx="939.3" cy="298.6" r="2.6" fill="#ff7dbe"/>
<circle cx="945.3" cy="310.7" r="17.5"/><circle cx="939.3" cy="303.7" r="2.6" fill="#ff7dbe"/>
<circle cx="947.3" cy="305.0" r="17.5"/><circle cx="941.3" cy="298.0" r="2.6" fill="#ff7dbe"/>
<circle cx="947.5" cy="309.3" r="17.5"/><circle cx="941.5" cy="302.3" r="2.6" fill="#ff7dbe"/>
<circle cx="949.0" cy="306.8" r="17.5"/><circle cx="943.0" cy="299.8" r="2.6" fill="#ff7dbe"/>
<circle cx="950.1" cy="306.6" r="17.5"/><circle cx="944.1" cy="299.6" r="2.6" fill="#ff7dbe"/>
<circle cx="951.2" cy="308.6" r="17.5"/><circle cx="945.2" cy="301.6" r="2.6" fill="#ff7dbe"/>
<circle cx="951.7" cy="308.5" r="17.5"/><circle cx="945.7" cy="301.5" r="2.6" fill="#ff7dbe"/>
<circle cx="952.1" cy="306.9" r="17.5"/><circle cx="946.1" cy="299.9" r="2.6" fill="#ff7dbe"/>
<circle cx="953.7" cy="309.9" r="17.5"/><circle cx="947.7" cy="302.9" r="2.6" fill="#ff7dbe"/>
<circle cx="953.9" cy="314.4" r="17.5"/><circle cx="947.9" cy="307.4" r="2.6" fill="#ff7dbe"/>
<circle cx="956.6" cy="304.2" r="17.5"/><circle cx="950.6" cy="297.2" r="2.6" fill="#ff7dbe"/>
<circle cx="957.0" cy="307.3" r="17.5"/><circle cx="951.0" cy="300.3" r="2.6" fill="#ff7dbe"/>
<circle cx="957.3" cy="305.1" r="17.5"/><circle cx="951.3" cy="298.1" r="2.6" fill="#ff7dbe"/>
<circle cx="958.9" cy="305.1" r="17.5"/><circle cx="952.9" cy="298.1" r="2.6" fill="#ff7dbe"/>
<circle cx="959.3" cy="304.9" r="17.5"/><circle cx="953.3" cy="297.9" r="2.6" fill="#ff7dbe"/>
<circle cx="959.8" cy="305.7" r="17.5"/><circle cx="953.8" cy="298.7" r="2.6" fill="#ff7dbe"/>
<circle cx="961.4" cy="310.8" r="17.5"/><circle cx="955.4" cy="303.8" r="2.6" fill="#ff7dbe"/>
<circle cx="962.1" cy="305.6" r="17.5"/><circle cx="956.1" cy="298.6" r="2.6" fill="#ff7dbe"/>
<circle cx="962.5" cy="303.6" r="17.5"/><circle cx="956.5" cy="296.6" r="2.6" fill="#ff7dbe"/>
<circle cx="963.9" cy="303.5" r="17.5"/><circle cx="957.9" cy="296.5" r="2.6" fill="#ff7dbe"/>
<circle cx="965.3" cy="313.7" r="17.5"/><circle cx="959.3" cy="306.7" r="2.6" fill="#ff7dbe"/>
<circle cx="965.3" cy="311.3" r="17.5"/><circle cx="959.3" cy="304.3" r="2.6" fill="#ff7dbe"/>
<circle cx="966.8" cy="304.4" r="17.5"/><circle cx="960.8" cy="297.4" r="2.6" fill="#ff7dbe"/>
<circle cx="967.2" cy="303.4" r="17.5"/><circle cx="961.2" cy="296.4" r="2.6" fill="#ff7dbe"/>
<circle cx="968.5" cy="308.2" r="17.5"/><circle cx="962.5" cy="301.2" r="2.6" fill="#ff7dbe"/>
<circle cx="969.3" cy="305.7" r="17.5"/><circle cx="963.3" cy="298.7" r="2.6" fill="#ff7dbe"/>
<circle cx="970.1" cy="305.2" r="17.5"/><circle cx="964.1" cy="298.2" r="2.6" fill="#ff7dbe"/>
<circle cx="972.1" cy="299.6" r="17.5"/><circle cx="966.1" cy="292.6" r="2.6" fill="#ff7dbe"/>
<circle cx="972.5" cy="306.7" r="17.5"/><circle cx="966.5" cy="299.7" r="2.6" fill="#ff7dbe"/>
<circle cx="972.8" cy="307.2" r="17.5"/><circle cx="966.8" cy="300.2" r="2.6" fill="#ff7dbe"/>
<circle cx="973.3" cy="309.5" r="17.5"/><circle cx="967.3" cy="302.5" r="2.6" fill="#ff7dbe"/>
<circle cx="974.5" cy="302.9" r="17.5"/><circle cx="968.5" cy="295.9" r="2.6" fill="#ff7dbe"/>
<circle cx="975.5" cy="305.1" r="17.5"/><circle cx="969.5" cy="298.1" r="2.6" fill="#ff7dbe"/>
<circle cx="976.4" cy="304.9" r="17.5"/><circle cx="970.4" cy="297.9" r="2.6" fill="#ff7dbe"/>
<circle cx="977.7" cy="303.6" r="17.5"/><circle cx="971.7" cy="296.6" r="2.6" fill="#ff7dbe"/>
<circle cx="978.8" cy="309.3" r="17.5"/><circle cx="972.8" cy="302.3" r="2.6" fill="#ff7dbe"/>
<circle cx="979.2" cy="309.6" r="17.5"/><circle cx="973.2" cy="302.6" r="2.6" fill="#ff7dbe"/>
<circle cx="981.0" cy="302.1" r="17.5"/><circle cx="975.0" cy="295.1" r="2.6" fill="#ff7dbe"/>
<circle cx="981.2" cy="306.1" r="17.5"/><circle cx="975.2" cy="299.1" r="2.6" fill="#ff7dbe"/>
<circle cx="981.8" cy="307.3" r="17.5"/><circle cx="975.8" cy="300.3" r="2.6" fill="#ff7dbe"/>
<circle cx="983.6" cy="307.6" r="17.5"/><circle cx="977.6" cy="300.6" r="2.6" fill="#ff7dbe"/>
<circle cx="985.3" cy="302.9" r="17.5"/><circle cx="979.3" cy="295.9" r="2.6" fill="#ff7dbe"/>
<circle cx="985.3" cy="309.9" r="17.5"/><circle cx="979.3" cy="302.9" r="2.6" fill="#ff7dbe"/>
<circle cx="985.8" cy="304.4" r="17.5"/><circle cx="979.8" cy="297.4" r="2.6" fill="#ff7dbe"/>
<circle cx="986.9" cy="303.0" r="17.5"/><circle cx="980.9" cy="296.0" r="2.6" fill="#ff7dbe"/>
<circle cx="988.3" cy="301.5" r="17.5"/><circle cx="982.3" cy="294.5" r="2.6" fill="#ff7dbe"/>
<circle cx="989.4" cy="298.8" r="17.5"/><circle cx="983.4" cy="291.8" r="2.6" fill="#ff7dbe"/>
<circle cx="989.9" cy="305.4" r="17.5"/><circle cx="983.9" cy="298.4" r="2.6" fill="#ff7dbe"/>
<circle cx="990.0" cy="299.8" r="17.5"/><circle cx="984.0" cy="292.8" r="2.6" fill="#ff7dbe"/>
<circle cx="992.4" cy="303.0" r="17.5"/><circle cx="986.4" cy="296.0" r="2.6" fill="#ff7dbe"/>
<circle cx="993.4" cy="303.2" r="17.5"/><circle cx="987.4" cy="296.2" r="2.6" fill="#ff7dbe"/>
<circle cx="993.5" cy="305.3" r="17.5"/><circle cx="987.5" cy="298.3" r="2.6" fill="#ff7dbe"/>
<circle cx="995.0" cy="309.1" r="17.5"/><circle cx="989.0" cy="302.1" r="2.6" fill="#ff7dbe"/>
<circle cx="995.4" cy="304.2" r="17.5"/><circle cx="989.4" cy="297.2" r="2.6" fill="#ff7dbe"/>
<circle cx="997.1" cy="306.6" r="17.5"/><circle cx="991.1" cy="299.6" r="2.6" fill="#ff7dbe"/>
<circle cx="997.7" cy="302.0" r="17.5"/><circle cx="991.7" cy="295.0" r="2.6" fill="#ff7dbe"/>
<circle cx="997.9" cy="306.1" r="17.5"/><circle cx="991.9" cy="299.1" r="2.6" fill="#ff7dbe"/>
<circle cx="997.9" cy="302.6" r="17.5"/><circle cx="991.9" cy="295.6" r="2.6" fill="#ff7dbe"/>
<circle cx="1001.4" cy="303.3" r="17.5"/><circle cx="995.4" cy="296.3" r="2.6" fill="#ff7dbe"/>
<circle cx="1002.2" cy="303.3" r="17.5"/><circle cx="996.2" cy="296.3" r="2.6" fill="#ff7dbe"/>
<circle cx="1002.4" cy="298.5" r="17.5"/><circle cx="996.4" cy="291.5" r="2.6" fill="#ff7dbe"/>
<circle cx="1002.7" cy="301.8" r="17.5"/><circle cx="996.7" cy="294.8" r="2.6" fill="#ff7dbe"/>
<circle cx="1004.3" cy="299.6" r="17.5"/><circle cx="998.3" cy="292.6" r="2.6" fill="#ff7dbe"/>
<circle cx="1005.0" cy="300.0" r="17.5"/><circle cx="999.0" cy="293.0" r="2.6" fill="#ff7dbe"/>
<circle cx="1005.0" cy="299.9" r="17.5"/><circle cx="999.0" cy="292.9" r="2.6" fill="#ff7dbe"/>
<circle cx="1006.4" cy="304.2" r="17.5"/><circle cx="1000.4" cy="297.2" r="2.6" fill="#ff7dbe"/>
<circle cx="1008.6" cy="299.9" r="17.5"/><circle cx="1002.6" cy="292.9" r="2.6" fill="#ff7dbe"/>
<circle cx="1008.7" cy="299.9" r="17.5"/><circle cx="1002.7" cy="292.9" r="2.6" fill="#ff7dbe"/>
<circle cx="1009.0" cy="303.4" r="17.5"/><circle cx="1003.0" cy="296.4" r="2.6" fill="#ff7dbe"/>
<circle cx="1011.9" cy="300.4" r="17.5"/><circle cx="1005.9" cy="293.4" r="2.6" fill="#ff7dbe"/>
<circle cx="1012.0" cy="304.7" r="17.5"/><circle cx="1006.0" cy="297.7" r="2.6" fill="#ff7dbe"/>
<circle cx="1012.6" cy="302.3" r="17.5"/><circle cx="1006.6" cy="295.3" r="2.6" fill="#ff7dbe"/>
<circle cx="1013.6" cy="302.2" r="17.5"/><circle cx="1007.6" cy="295.2" r="2.6" fill="#ff7dbe"/>
<circle cx="1013.9" cy="300.9" r="17.5"/><circle cx="1007.9" cy="293.9" r="2.6" fill="#ff7dbe"/>
<circle cx="1015.2" cy="303.8" r="17.5"/><circle cx="1009.2" cy="296.8" r="2.6" fill="#ff7dbe"/>
<circle cx="1015.4" cy="304.3" r="17.5"/><circle cx="1009.4" cy="297.3" r="2.6" fill="#ff7dbe"/>
<circle cx="1017.3" cy="298.9" r="17.5"/><circle cx="1011.3" cy="291.9" r="2.6" fill="#ff7dbe"/>
<circle cx="1018.3" cy="300.6" r="17.5"/><circle cx="1012.3" cy="293.6" r="2.6" fill="#ff7dbe"/>
<circle cx="1019.1" cy="301.4" r="17.5"/><circle cx="1013.1" cy="294.4" r="2.6" fill="#ff7dbe"/>
<circle cx="1019.7" cy="295.1" r="17.5"/><circle cx="1013.7" cy="288.1" r="2.6" fill="#ff7dbe"/>
<circle cx="1021.4" cy="303.3" r="17.5"/><circle cx="1015.4" cy="296.3" r="2.6" fill="#ff7dbe"/>
<circle cx="1021.7" cy="299.8" r="17.5"/><circle cx="1015.7" cy="292.8" r="2.6" fill="#ff7dbe"/>
<circle cx="1023.4" cy="300.9" r="17.5"/><circle cx="1017.4" cy="293.9" r="2.6" fill="#ff7dbe"/>
<circle cx="1023.4" cy="301.1" r="17.5"/><circle cx="1017.4" cy="294.1" r="2.6" fill="#ff7dbe"/>
<circle cx="1025.0" cy="299.0" r="17.5"/><circle cx="1019.0" cy="292.0" r="2.6" fill="#ff7dbe"/>
<circle cx="1025.5" cy="301.1" r="17.5"/><circle cx="1019.5" cy="294.1" r="2.6" fill="#ff7dbe"/>
<circle cx="1026.6" cy="302.6" r="17.5"/><circle cx="1020.6" cy="295.6" r="2.6" fill="#ff7dbe"/>
<circle cx="1028.2" cy="296.0" r="17.5"/><circle cx="1022.2" cy="289.0" r="2.6" fill="#ff7dbe"/>
<circle cx="1029.0" cy="301.6" r="17.5"/><circle cx="1023.0" cy="294.6" r="2.6" fill="#ff7dbe"/>
<circle cx="1030.0" cy="295.4" r="17.5"/><circle cx="1024.0" cy="288.4" r="2.6" fill="#ff7dbe"/>
<circle cx="1030.2" cy="296.8" r="17.5"/><circle cx="1024.2" cy="289.8" r="2.6" fill="#ff7dbe"/>
<circle cx="1030.5" cy="299.4" r="17.5"/><circle cx="1024.5" cy="292.4" r="2.6" fill="#ff7dbe"/>
<circle cx="1032.4" cy="302.2" r="17.5"/><circle cx="1026.4" cy="295.2" r="2.6" fill="#ff7dbe"/>
<circle cx="1033.2" cy="302.6" r="17.5"/><circle cx="1027.2" cy="295.6" r="2.6" fill="#ff7dbe"/>
<circle cx="1033.6" cy="297.3" r="17.5"/><circle cx="1027.6" cy="290.3" r="2.6" fill="#ff7dbe"/>
<circle cx="1035.4" cy="297.9" r="17.5"/><circle cx="1029.4" cy="290.9" r="2.6" fill="#ff7dbe"/>
<circle cx="1035.4" cy="294.8" r="17.5"/><circle cx="1029.4" cy="287.8" r="2.6" fill="#ff7dbe"/>
<circle cx="1037.6" cy="294.9" r="17.5"/><circle cx="1031.6" cy="287.9" r="2.6" fill="#ff7dbe"/>
<circle cx="1038.5" cy="299.5" r="17.5"/><circle cx="1032.5" cy="292.5" r="2.6" fill="#ff7dbe"/>
<circle cx="1038.7" cy="292.8" r="17.5"/><circle cx="1032.7" cy="285.8" r="2.6" fill="#ff7dbe"/>
<circle cx="1040.2" cy="293.6" r="17.5"/><circle cx="1034.2" cy="286.6" r="2.6" fill="#ff7dbe"/>
<circle cx="1040.3" cy="301.5" r="17.5"/><circle cx="1034.3" cy="294.5" r="2.6" fill="#ff7dbe"/>
<circle cx="1042.3" cy="300.6" r="17.5"/><circle cx="1036.3" cy="293.6" r="2.6" fill="#ff7dbe"/>
<circle cx="1042.7" cy="297.5" r="17.5"/><circle cx="1036.7" cy="290.5" r="2.6" fill="#ff7dbe"/>
<circle cx="1043.5" cy="298.2" r="17.5"/><circle cx="1037.5" cy="291.2" r="2.6" fill="#ff7dbe"/>
<circle cx="1044.3" cy="294.6" r="17.5"/><circle cx="1038.3" cy="287.6" r="2.6" fill="#ff7dbe"/>
<circle cx="1045.1" cy="294.9" r="17.5"/><circle cx="1039.1" cy="287.9" r="2.6" fill="#ff7dbe"/>
<circle cx="1045.8" cy="294.1" r="17.5"/><circle cx="1039.8" cy="287.1" r="2.6" fill="#ff7dbe"/>
<circle cx="1048.5" cy="299.6" r="17.5"/><circle cx="1042.5" cy="292.6" r="2.6" fill="#ff7dbe"/>
<circle cx="1050.0" cy="297.4" r="17.5"/><circle cx="1044.0" cy="290.4" r="2.6" fill="#ff7dbe"/>
<circle cx="1050.1" cy="299.1" r="17.5"/><circle cx="1044.1" cy="292.1" r="2.6" fill="#ff7dbe"/>
<circle cx="1050.5" cy="298.1" r="17.5"/><circle cx="1044.5" cy="291.1" r="2.6" fill="#ff7dbe"/>
<circle cx="1050.6" cy="296.8" r="17.5"/><circle cx="1044.6" cy="289.8" r="2.6" fill="#ff7dbe"/>
<circle cx="1051.8" cy="296.7" r="17.5"/><circle cx="1045.8" cy="289.7" r="2.6" fill="#ff7dbe"/>
<circle cx="1052.5" cy="295.5" r="17.5"/><circle cx="1046.5" cy="288.5" r="2.6" fill="#ff7dbe"/>
<circle cx="1054.5" cy="296.6" r="17.5"/><circle cx="1048.5" cy="289.6" r="2.6" fill="#ff7dbe"/>
<circle cx="1054.8" cy="295.2" r="17.5"/><circle cx="1048.8" cy="288.2" r="2.6" fill="#ff7dbe"/>
<circle cx="1056.0" cy="291.1" r="17.5"/><circle cx="1050.0" cy="284.1" r="2.6" fill="#ff7dbe"/>
<circle cx="1056.6" cy="295.1" r="17.5"/><circle cx="1050.6" cy="288.1" r="2.6" fill="#ff7dbe"/>
<circle cx="1056.8" cy="298.7" r="17.5"/><circle cx="1050.8" cy="291.7" r="2.6" fill="#ff7dbe"/>
<circle cx="1058.7" cy="296.9" r="17.5"/><circle cx="1052.7" cy="289.9" r="2.6" fill="#ff7dbe"/>
<circle cx="1060.3" cy="297.2" r="17.5"/><circle cx="1054.3" cy="290.2" r="2.6" fill="#ff7dbe"/>
<circle cx="1060.6" cy="296.3" r="17.5"/><circle cx="1054.6" cy="289.3" r="2.6" fill="#ff7dbe"/>
<circle cx="1061.0" cy="293.9" r="17.5"/><circle cx="1055.0" cy="286.9" r="2.6" fill="#ff7dbe"/>
<circle cx="1062.5" cy="297.0" r="17.5"/><circle cx="1056.5" cy="290.0" r="2.6" fill="#ff7dbe"/>
<circle cx="1062.7" cy="294.8" r="17.5"/><circle cx="1056.7" cy="287.8" r="2.6" fill="#ff7dbe"/>
<circle cx="1065.4" cy="298.9" r="17.5"/><circle cx="1059.4" cy="291.9" r="2.6" fill="#ff7dbe"/>
<circle cx="1065.6" cy="320.3" r="17.5"/><circle cx="1059.6" cy="313.3" r="2.6" fill="#ff7dbe"/>
<circle cx="1066.0" cy="292.7" r="17.5"/><circle cx="1060.0" cy="285.7" r="2.6" fill="#ff7dbe"/>
<circle cx="1066.1" cy="295.4" r="17.5"/><circle cx="1060.1" cy="288.4" r="2.6" fill="#ff7dbe"/>
<circle cx="1067.8" cy="323.5" r="17.5"/><circle cx="1061.8" cy="316.5" r="2.6" fill="#ff7dbe"/>
<circle cx="1069.0" cy="312.0" r="17.5"/><circle cx="1063.0" cy="305.0" r="2.6" fill="#ff7dbe"/>
<circle cx="1069.1" cy="327.2" r="17.5"/><circle cx="1063.1" cy="320.2" r="2.6" fill="#ff7dbe"/>
<circle cx="1070.0" cy="328.0" r="17.5"/><circle cx="1064.0" cy="321.0" r="2.6" fill="#ff7dbe"/>
<circle cx="1070.4" cy="335.5" r="17.5"/><circle cx="1064.4" cy="328.5" r="2.6" fill="#ff7dbe"/>
<circle cx="1070.6" cy="342.9" r="17.5"/><circle cx="1064.6" cy="335.9" r="2.6" fill="#ff7dbe"/>
<circle cx="1072.0" cy="342.0" r="17.5"/><circle cx="1066.0" cy="335.0" r="2.6" fill="#ff7dbe"/>
<circle cx="1072.7" cy="340.9" r="17.5"/><circle cx="1066.7" cy="333.9" r="2.6" fill="#ff7dbe"/>
<circle cx="1073.5" cy="345.2" r="17.5"/><circle cx="1067.5" cy="338.2" r="2.6" fill="#ff7dbe"/>
<circle cx="1074.3" cy="342.6" r="17.5"/><circle cx="1068.3" cy="335.6" r="2.6" fill="#ff7dbe"/>
<circle cx="1074.8" cy="342.9" r="17.5"/><circle cx="1068.8" cy="335.9" r="2.6" fill="#ff7dbe"/>
<circle cx="1076.2" cy="342.1" r="17.5"/><circle cx="1070.2" cy="335.1" r="2.6" fill="#ff7dbe"/>
<circle cx="1076.2" cy="340.2" r="17.5"/><circle cx="1070.2" cy="333.2" r="2.6" fill="#ff7dbe"/>
<circle cx="1078.0" cy="336.9" r="17.5"/><circle cx="1072.0" cy="329.9" r="2.6" fill="#ff7dbe"/>
<circle cx="1078.0" cy="338.0" r="17.5"/><circle cx="1072.0" cy="331.0" r="2.6" fill="#ff7dbe"/>
<circle cx="1078.5" cy="341.3" r="17.5"/><circle cx="1072.5" cy="334.3" r="2.6" fill="#ff7dbe"/>
<circle cx="1079.6" cy="337.6" r="17.5"/><circle cx="1073.6" cy="330.6" r="2.6" fill="#ff7dbe"/>
<circle cx="1080.4" cy="335.9" r="17.5"/><circle cx="1074.4" cy="328.9" r="2.6" fill="#ff7dbe"/>
<circle cx="1081.0" cy="330.8" r="17.5"/><circle cx="1075.0" cy="323.8" r="2.6" fill="#ff7dbe"/>
<circle cx="1082.1" cy="334.7" r="17.5"/><circle cx="1076.1" cy="327.7" r="2.6" fill="#ff7dbe"/>
<circle cx="1083.5" cy="333.4" r="17.5"/><circle cx="1077.5" cy="326.4" r="2.6" fill="#ff7dbe"/>
<circle cx="1083.8" cy="327.5" r="17.5"/><circle cx="1077.8" cy="320.5" r="2.6" fill="#ff7dbe"/>
<circle cx="1085.0" cy="327.4" r="17.5"/><circle cx="1079.0" cy="320.4" r="2.6" fill="#ff7dbe"/>
<circle cx="1085.6" cy="328.3" r="17.5"/><circle cx="1079.6" cy="321.3" r="2.6" fill="#ff7dbe"/>
<circle cx="1086.4" cy="327.7" r="17.5"/><circle cx="1080.4" cy="320.7" r="2.6" fill="#ff7dbe"/>
<circle cx="1087.4" cy="324.0" r="17.5"/><circle cx="1081.4" cy="317.0" r="2.6" fill="#ff7dbe"/>
<circle cx="1088.7" cy="328.0" r="17.5"/><circle cx="1082.7" cy="321.0" r="2.6" fill="#ff7dbe"/>
<circle cx="1090.2" cy="321.3" r="17.5"/><circle cx="1084.2" cy="314.3" r="2.6" fill="#ff7dbe"/>
<circle cx="1091.1" cy="325.0" r="17.5"/><circle cx="1085.1" cy="318.0" r="2.6" fill="#ff7dbe"/>
<circle cx="1091.4" cy="319.5" r="17.5"/><circle cx="1085.4" cy="312.5" r="2.6" fill="#ff7dbe"/>
<circle cx="1092.4" cy="322.8" r="17.5"/><circle cx="1086.4" cy="315.8" r="2.6" fill="#ff7dbe"/>
<circle cx="1093.0" cy="320.9" r="17.5"/><circle cx="1087.0" cy="313.9" r="2.6" fill="#ff7dbe"/>
<circle cx="1095.1" cy="316.4" r="17.5"/><circle cx="1089.1" cy="309.4" r="2.6" fill="#ff7dbe"/>
<circle cx="1097.2" cy="316.2" r="17.5"/><circle cx="1091.2" cy="309.2" r="2.6" fill="#ff7dbe"/>
<circle cx="1097.3" cy="320.8" r="17.5"/><circle cx="1091.3" cy="313.8" r="2.6" fill="#ff7dbe"/>
<circle cx="1097.9" cy="313.1" r="17.5"/><circle cx="1091.9" cy="306.1" r="2.6" fill="#ff7dbe"/>
<circle cx="1098.4" cy="315.7" r="17.5"/><circle cx="1092.4" cy="308.7" r="2.6" fill="#ff7dbe"/>
<circle cx="1100.4" cy="313.5" r="17.5"/><circle cx="1094.4" cy="306.5" r="2.6" fill="#ff7dbe"/>
<circle cx="1100.6" cy="310.3" r="17.5"/><circle cx="1094.6" cy="303.3" r="2.6" fill="#ff7dbe"/>
<circle cx="1102.4" cy="312.4" r="17.5"/><circle cx="1096.4" cy="305.4" r="2.6" fill="#ff7dbe"/>
<circle cx="1102.5" cy="313.8" r="17.5"/><circle cx="1096.5" cy="306.8" r="2.6" fill="#ff7dbe"/>
<circle cx="1102.6" cy="309.3" r="17.5"/><circle cx="1096.6" cy="302.3" r="2.6" fill="#ff7dbe"/>
<circle cx="1102.7" cy="310.0" r="17.5"/><circle cx="1096.7" cy="303.0" r="2.6" fill="#ff7dbe"/>
<circle cx="1105.9" cy="310.1" r="17.5"/><circle cx="1099.9" cy="303.1" r="2.6" fill="#ff7dbe"/>
<circle cx="1106.1" cy="304.3" r="17.5"/><circle cx="1100.1" cy="297.3" r="2.6" fill="#ff7dbe"/>
<circle cx="1106.6" cy="309.0" r="17.5"/><circle cx="1100.6" cy="302.0" r="2.6" fill="#ff7dbe"/>
<circle cx="1108.2" cy="306.2" r="17.5"/><circle cx="1102.2" cy="299.2" r="2.6" fill="#ff7dbe"/>
<circle cx="1108.9" cy="305.0" r="17.5"/><circle cx="1102.9" cy="298.0" r="2.6" fill="#ff7dbe"/>
<circle cx="1109.5" cy="304.5" r="17.5"/><circle cx="1103.5" cy="297.5" r="2.6" fill="#ff7dbe"/>
<circle cx="1110.1" cy="300.2" r="17.5"/><circle cx="1104.1" cy="293.2" r="2.6" fill="#ff7dbe"/>
<circle cx="1111.0" cy="300.8" r="17.5"/><circle cx="1105.0" cy="293.8" r="2.6" fill="#ff7dbe"/>
<circle cx="1111.6" cy="300.6" r="17.5"/><circle cx="1105.6" cy="293.6" r="2.6" fill="#ff7dbe"/>
<circle cx="1114.1" cy="305.3" r="17.5"/><circle cx="1108.1" cy="298.3" r="2.6" fill="#ff7dbe"/>
<circle cx="1115.7" cy="299.2" r="17.5"/><circle cx="1109.7" cy="292.2" r="2.6" fill="#ff7dbe"/>
<circle cx="1116.2" cy="299.1" r="17.5"/><circle cx="1110.2" cy="292.1" r="2.6" fill="#ff7dbe"/>
<circle cx="1116.5" cy="297.1" r="17.5"/><circle cx="1110.5" cy="290.1" r="2.6" fill="#ff7dbe"/>
<circle cx="1117.1" cy="294.4" r="17.5"/><circle cx="1111.1" cy="287.4" r="2.6" fill="#ff7dbe"/>
<circle cx="1119.5" cy="294.9" r="17.5"/><circle cx="1113.5" cy="287.9" r="2.6" fill="#ff7dbe"/>
<circle cx="1119.5" cy="295.3" r="17.5"/><circle cx="1113.5" cy="288.3" r="2.6" fill="#ff7dbe"/>
<circle cx="1120.2" cy="293.0" r="17.5"/><circle cx="1114.2" cy="286.0" r="2.6" fill="#ff7dbe"/>
<circle cx="1120.6" cy="296.1" r="17.5"/><circle cx="1114.6" cy="289.1" r="2.6" fill="#ff7dbe"/>
<circle cx="1122.3" cy="289.9" r="17.5"/><circle cx="1116.3" cy="282.9" r="2.6" fill="#ff7dbe"/>
<circle cx="1123.5" cy="290.3" r="17.5"/><circle cx="1117.5" cy="283.3" r="2.6" fill="#ff7dbe"/>
<circle cx="1124.0" cy="293.0" r="17.5"/><circle cx="1118.0" cy="286.0" r="2.6" fill="#ff7dbe"/>
<circle cx="1124.2" cy="290.6" r="17.5"/><circle cx="1118.2" cy="283.6" r="2.6" fill="#ff7dbe"/>
<circle cx="1125.4" cy="291.1" r="17.5"/><circle cx="1119.4" cy="284.1" r="2.6" fill="#ff7dbe"/>
<circle cx="1127.3" cy="292.1" r="17.5"/><circle cx="1121.3" cy="285.1" r="2.6" fill="#ff7dbe"/>
<circle cx="1127.7" cy="291.3" r="17.5"/><circle cx="1121.7" cy="284.3" r="2.6" fill="#ff7dbe"/>
<circle cx="1127.8" cy="292.5" r="17.5"/><circle cx="1121.8" cy="285.5" r="2.6" fill="#ff7dbe"/>
<circle cx="1129.2" cy="288.6" r="17.5"/><circle cx="1123.2" cy="281.6" r="2.6" fill="#ff7dbe"/>
<circle cx="1130.2" cy="286.5" r="17.5"/><circle cx="1124.2" cy="279.5" r="2.6" fill="#ff7dbe"/>
<circle cx="1130.6" cy="286.2" r="17.5"/><circle cx="1124.6" cy="279.2" r="2.6" fill="#ff7dbe"/>
<circle cx="1133.1" cy="283.9" r="17.5"/><circle cx="1127.1" cy="276.9" r="2.6" fill="#ff7dbe"/>
<circle cx="1133.8" cy="285.0" r="17.5"/><circle cx="1127.8" cy="278.0" r="2.6" fill="#ff7dbe"/>
<circle cx="1134.7" cy="282.7" r="17.5"/><circle cx="1128.7" cy="275.7" r="2.6" fill="#ff7dbe"/>
<circle cx="1135.0" cy="282.7" r="17.5"/><circle cx="1129.0" cy="275.7" r="2.6" fill="#ff7dbe"/>
<circle cx="1136.1" cy="279.5" r="17.5"/><circle cx="1130.1" cy="272.5" r="2.6" fill="#ff7dbe"/>
<circle cx="1137.0" cy="283.3" r="17.5"/><circle cx="1131.0" cy="276.3" r="2.6" fill="#ff7dbe"/>
<circle cx="1137.9" cy="281.5" r="17.5"/><circle cx="1131.9" cy="274.5" r="2.6" fill="#ff7dbe"/>
<circle cx="1139.6" cy="278.7" r="17.5"/><circle cx="1133.6" cy="271.7" r="2.6" fill="#ff7dbe"/>
<circle cx="1141.4" cy="277.9" r="17.5"/><circle cx="1135.4" cy="270.9" r="2.6" fill="#ff7dbe"/>
<circle cx="1141.8" cy="280.4" r="17.5"/><circle cx="1135.8" cy="273.4" r="2.6" fill="#ff7dbe"/>
<circle cx="1142.1" cy="275.1" r="17.5"/><circle cx="1136.1" cy="268.1" r="2.6" fill="#ff7dbe"/>
<circle cx="1142.9" cy="277.6" r="17.5"/><circle cx="1136.9" cy="270.6" r="2.6" fill="#ff7dbe"/>
<circle cx="1143.0" cy="273.8" r="17.5"/><circle cx="1137.0" cy="266.8" r="2.6" fill="#ff7dbe"/>
<circle cx="1145.0" cy="277.8" r="17.5"/><circle cx="1139.0" cy="270.8" r="2.6" fill="#ff7dbe"/>
<circle cx="1145.3" cy="277.2" r="17.5"/><circle cx="1139.3" cy="270.2" r="2.6" fill="#ff7dbe"/>
<circle cx="1146.0" cy="272.7" r="17.5"/><circle cx="1140.0" cy="265.7" r="2.6" fill="#ff7dbe"/>
<circle cx="1146.8" cy="277.7" r="17.5"/><circle cx="1140.8" cy="270.7" r="2.6" fill="#ff7dbe"/>
<circle cx="1147.5" cy="271.8" r="17.5"/><circle cx="1141.5" cy="264.8" r="2.6" fill="#ff7dbe"/>
<circle cx="1149.5" cy="272.1" r="17.5"/><circle cx="1143.5" cy="265.1" r="2.6" fill="#ff7dbe"/>
<circle cx="1150.5" cy="271.6" r="17.5"/><circle cx="1144.5" cy="264.6" r="2.6" fill="#ff7dbe"/>
<circle cx="1151.7" cy="271.5" r="17.5"/><circle cx="1145.7" cy="264.5" r="2.6" fill="#ff7dbe"/>
<circle cx="1152.4" cy="266.9" r="17.5"/><circle cx="1146.4" cy="259.9" r="2.6" fill="#ff7dbe"/>
<circle cx="1152.6" cy="272.9" r="17.5"/><circle cx="1146.6" cy="265.9" r="2.6" fill="#ff7dbe"/>
<circle cx="1153.2" cy="268.5" r="17.5"/><circle cx="1147.2" cy="261.5" r="2.6" fill="#ff7dbe"/>
<circle cx="1154.9" cy="270.6" r="17.5"/><circle cx="1148.9" cy="263.6" r="2.6" fill="#ff7dbe"/>
<circle cx="1156.1" cy="269.0" r="17.5"/><circle cx="1150.1" cy="262.0" r="2.6" fill="#ff7dbe"/>
<circle cx="1156.7" cy="267.7" r="17.5"/><circle cx="1150.7" cy="260.7" r="2.6" fill="#ff7dbe"/>
<circle cx="1158.5" cy="270.7" r="17.5"/><circle cx="1152.5" cy="263.7" r="2.6" fill="#ff7dbe"/>
<circle cx="1158.8" cy="267.0" r="17.5"/><circle cx="1152.8" cy="260.0" r="2.6" fill="#ff7dbe"/>
<circle cx="1158.8" cy="264.1" r="17.5"/><circle cx="1152.8" cy="257.1" r="2.6" fill="#ff7dbe"/>
<circle cx="1160.7" cy="267.1" r="17.5"/><circle cx="1154.7" cy="260.1" r="2.6" fill="#ff7dbe"/>
<circle cx="1160.8" cy="268.3" r="17.5"/><circle cx="1154.8" cy="261.3" r="2.6" fill="#ff7dbe"/>
<circle cx="1162.0" cy="267.2" r="17.5"/><circle cx="1156.0" cy="260.2" r="2.6" fill="#ff7dbe"/>
<circle cx="1163.9" cy="264.6" r="17.5"/><circle cx="1157.9" cy="257.6" r="2.6" fill="#ff7dbe"/>
<circle cx="1164.9" cy="264.4" r="17.5"/><circle cx="1158.9" cy="257.4" r="2.6" fill="#ff7dbe"/>
<circle cx="1165.7" cy="264.8" r="17.5"/><circle cx="1159.7" cy="257.8" r="2.6" fill="#ff7dbe"/>
<circle cx="1166.3" cy="266.2" r="17.5"/><circle cx="1160.3" cy="259.2" r="2.6" fill="#ff7dbe"/>
<circle cx="1166.9" cy="265.6" r="17.5"/><circle cx="1160.9" cy="258.6" r="2.6" fill="#ff7dbe"/>
<circle cx="1167.6" cy="265.1" r="17.5"/><circle cx="1161.6" cy="258.1" r="2.6" fill="#ff7dbe"/>
<circle cx="1168.0" cy="264.3" r="17.5"/><circle cx="1162.0" cy="257.3" r="2.6" fill="#ff7dbe"/>
<circle cx="1170.1" cy="260.0" r="17.5"/><circle cx="1164.1" cy="253.0" r="2.6" fill="#ff7dbe"/>
<circle cx="1170.9" cy="263.8" r="17.5"/><circle cx="1164.9" cy="256.8" r="2.6" fill="#ff7dbe"/>
<circle cx="1171.0" cy="261.8" r="17.5"/><circle cx="1165.0" cy="254.8" r="2.6" fill="#ff7dbe"/>
<circle cx="1172.1" cy="259.3" r="17.5"/><circle cx="1166.1" cy="252.3" r="2.6" fill="#ff7dbe"/>
<circle cx="1173.2" cy="263.1" r="17.5"/><circle cx="1167.2" cy="256.1" r="2.6" fill="#ff7dbe"/>
<circle cx="1175.1" cy="260.2" r="17.5"/><circle cx="1169.1" cy="253.2" r="2.6" fill="#ff7dbe"/>
<circle cx="1175.5" cy="259.9" r="17.5"/><circle cx="1169.5" cy="252.9" r="2.6" fill="#ff7dbe"/>
<circle cx="1176.1" cy="260.1" r="17.5"/><circle cx="1170.1" cy="253.1" r="2.6" fill="#ff7dbe"/>
<circle cx="1176.7" cy="259.4" r="17.5"/><circle cx="1170.7" cy="252.4" r="2.6" fill="#ff7dbe"/>
<circle cx="1177.7" cy="252.8" r="17.5"/><circle cx="1171.7" cy="245.8" r="2.6" fill="#ff7dbe"/>
<circle cx="1179.8" cy="254.8" r="17.5"/><circle cx="1173.8" cy="247.8" r="2.6" fill="#ff7dbe"/>
<circle cx="1180.1" cy="256.2" r="17.5"/><circle cx="1174.1" cy="249.2" r="2.6" fill="#ff7dbe"/>
<circle cx="1180.7" cy="256.8" r="17.5"/><circle cx="1174.7" cy="249.8" r="2.6" fill="#ff7dbe"/>
<circle cx="1181.9" cy="254.6" r="17.5"/><circle cx="1175.9" cy="247.6" r="2.6" fill="#ff7dbe"/>
<circle cx="1182.3" cy="253.9" r="17.5"/><circle cx="1176.3" cy="246.9" r="2.6" fill="#ff7dbe"/>
<circle cx="1183.2" cy="253.9" r="17.5"/><circle cx="1177.2" cy="246.9" r="2.6" fill="#ff7dbe"/>
<circle cx="1186.0" cy="255.1" r="17.5"/><circle cx="1180.0" cy="248.1" r="2.6" fill="#ff7dbe"/>
<circle cx="1186.2" cy="249.9" r="17.5"/><circle cx="1180.2" cy="242.9" r="2.6" fill="#ff7dbe"/>
<circle cx="1187.6" cy="253.7" r="17.5"/><circle cx="1181.6" cy="246.7" r="2.6" fill="#ff7dbe"/>
<circle cx="1188.7" cy="250.0" r="17.5"/><circle cx="1182.7" cy="243.0" r="2.6" fill="#ff7dbe"/>
<circle cx="1189.4" cy="247.0" r="17.5"/><circle cx="1183.4" cy="240.0" r="2.6" fill="#ff7dbe"/>
<circle cx="1190.3" cy="253.7" r="17.5"/><circle cx="1184.3" cy="246.7" r="2.6" fill="#ff7dbe"/>
<circle cx="1190.5" cy="247.9" r="17.5"/><circle cx="1184.5" cy="240.9" r="2.6" fill="#ff7dbe"/>
<circle cx="1192.3" cy="244.9" r="17.5"/><circle cx="1186.3" cy="237.9" r="2.6" fill="#ff7dbe"/>
<circle cx="1192.5" cy="250.6" r="17.5"/><circle cx="1186.5" cy="243.6" r="2.6" fill="#ff7dbe"/>
<circle cx="1192.9" cy="248.5" r="17.5"/><circle cx="1186.9" cy="241.5" r="2.6" fill="#ff7dbe"/>
<circle cx="1194.4" cy="243.9" r="17.5"/><circle cx="1188.4" cy="236.9" r="2.6" fill="#ff7dbe"/>
<circle cx="1194.8" cy="248.2" r="17.5"/><circle cx="1188.8" cy="241.2" r="2.6" fill="#ff7dbe"/>
<circle cx="1197.2" cy="244.3" r="17.5"/><circle cx="1191.2" cy="237.3" r="2.6" fill="#ff7dbe"/>
<circle cx="1198.1" cy="243.4" r="17.5"/><circle cx="1192.1" cy="236.4" r="2.6" fill="#ff7dbe"/>
<circle cx="1198.1" cy="244.1" r="17.5"/><circle cx="1192.1" cy="237.1" r="2.6" fill="#ff7dbe"/>
<circle cx="1198.3" cy="244.1" r="17.5"/><circle cx="1192.3" cy="237.1" r="2.6" fill="#ff7dbe"/>
<circle cx="1199.7" cy="237.6" r="17.5"/><circle cx="1193.7" cy="230.6" r="2.6" fill="#ff7dbe"/>
<circle cx="1200.3" cy="240.6" r="17.5"/><circle cx="1194.3" cy="233.6" r="2.6" fill="#ff7dbe"/>
<circle cx="1201.2" cy="239.7" r="17.5"/><circle cx="1195.2" cy="232.7" r="2.6" fill="#ff7dbe"/>
<circle cx="1202.3" cy="236.2" r="17.5"/><circle cx="1196.3" cy="229.2" r="2.6" fill="#ff7dbe"/>
<circle cx="1204.5" cy="240.4" r="17.5"/><circle cx="1198.5" cy="233.4" r="2.6" fill="#ff7dbe"/>
<circle cx="1204.9" cy="239.1" r="17.5"/><circle cx="1198.9" cy="232.1" r="2.6" fill="#ff7dbe"/>
<circle cx="1205.7" cy="238.4" r="17.5"/><circle cx="1199.7" cy="231.4" r="2.6" fill="#ff7dbe"/>
<circle cx="1205.7" cy="235.4" r="17.5"/><circle cx="1199.7" cy="228.4" r="2.6" fill="#ff7dbe"/>
<circle cx="1207.6" cy="239.6" r="17.5"/><circle cx="1201.6" cy="232.6" r="2.6" fill="#ff7dbe"/>
<circle cx="1208.4" cy="235.8" r="17.5"/><circle cx="1202.4" cy="228.8" r="2.6" fill="#ff7dbe"/>
<circle cx="1208.7" cy="240.1" r="17.5"/><circle cx="1202.7" cy="233.1" r="2.6" fill="#ff7dbe"/>
<circle cx="1209.9" cy="238.1" r="17.5"/><circle cx="1203.9" cy="231.1" r="2.6" fill="#ff7dbe"/>
<circle cx="1212.4" cy="233.5" r="17.5"/><circle cx="1206.4" cy="226.5" r="2.6" fill="#ff7dbe"/>
<circle cx="1212.6" cy="234.1" r="17.5"/><circle cx="1206.6" cy="227.1" r="2.6" fill="#ff7dbe"/>
<circle cx="1212.8" cy="233.9" r="17.5"/><circle cx="1206.8" cy="226.9" r="2.6" fill="#ff7dbe"/>
<circle cx="1213.3" cy="236.1" r="17.5"/><circle cx="1207.3" cy="229.1" r="2.6" fill="#ff7dbe"/>
<circle cx="1215.5" cy="234.7" r="17.5"/><circle cx="1209.5" cy="227.7" r="2.6" fill="#ff7dbe"/>
<circle cx="1216.0" cy="230.7" r="17.5"/><circle cx="1210.0" cy="223.7" r="2.6" fill="#ff7dbe"/>
<circle cx="1216.3" cy="227.2" r="17.5"/><circle cx="1210.3" cy="220.2" r="2.6" fill="#ff7dbe"/>
<circle cx="1217.6" cy="231.3" r="17.5"/><circle cx="1211.6" cy="224.3" r="2.6" fill="#ff7dbe"/>
<circle cx="1219.0" cy="230.7" r="17.5"/><circle cx="1213.0" cy="223.7" r="2.6" fill="#ff7dbe"/>
<circle cx="1219.6" cy="233.1" r="17.5"/><circle cx="1213.6" cy="226.1" r="2.6" fill="#ff7dbe"/>
<circle cx="1221.0" cy="228.2" r="17.5"/><circle cx="1215.0" cy="221.2" r="2.6" fill="#ff7dbe"/>
<circle cx="1221.4" cy="228.9" r="17.5"/><circle cx="1215.4" cy="221.9" r="2.6" fill="#ff7dbe"/>
<circle cx="1223.1" cy="228.5" r="17.5"/><circle cx="1217.1" cy="221.5" r="2.6" fill="#ff7dbe"/>
<circle cx="1223.2" cy="223.9" r="17.5"/><circle cx="1217.2" cy="216.9" r="2.6" fill="#ff7dbe"/>
<circle cx="1225.0" cy="224.5" r="17.5"/><circle cx="1219.0" cy="217.5" r="2.6" fill="#ff7dbe"/>
<circle cx="1225.5" cy="228.0" r="17.5"/><circle cx="1219.5" cy="221.0" r="2.6" fill="#ff7dbe"/>
<circle cx="1227.0" cy="220.2" r="17.5"/><circle cx="1221.0" cy="213.2" r="2.6" fill="#ff7dbe"/>
<circle cx="1227.7" cy="227.2" r="17.5"/><circle cx="1221.7" cy="220.2" r="2.6" fill="#ff7dbe"/>
<circle cx="1228.5" cy="220.3" r="17.5"/><circle cx="1222.5" cy="213.3" r="2.6" fill="#ff7dbe"/>
<circle cx="1230.3" cy="218.9" r="17.5"/><circle cx="1224.3" cy="211.9" r="2.6" fill="#ff7dbe"/>
<circle cx="1230.8" cy="220.7" r="17.5"/><circle cx="1224.8" cy="213.7" r="2.6" fill="#ff7dbe"/>
<circle cx="1231.0" cy="214.9" r="17.5"/><circle cx="1225.0" cy="207.9" r="2.6" fill="#ff7dbe"/>
<circle cx="1231.2" cy="215.3" r="17.5"/><circle cx="1225.2" cy="208.3" r="2.6" fill="#ff7dbe"/>
<circle cx="1233.7" cy="216.6" r="17.5"/><circle cx="1227.7" cy="209.6" r="2.6" fill="#ff7dbe"/>
<circle cx="1234.4" cy="217.6" r="17.5"/><circle cx="1228.4" cy="210.6" r="2.6" fill="#ff7dbe"/>
<circle cx="1234.8" cy="211.9" r="17.5"/><circle cx="1228.8" cy="204.9" r="2.6" fill="#ff7dbe"/>
<circle cx="1235.2" cy="210.3" r="17.5"/><circle cx="1229.2" cy="203.3" r="2.6" fill="#ff7dbe"/>
<circle cx="1236.1" cy="212.2" r="17.5"/><circle cx="1230.1" cy="205.2" r="2.6" fill="#ff7dbe"/>
<circle cx="1237.7" cy="214.4" r="17.5"/><circle cx="1231.7" cy="207.4" r="2.6" fill="#ff7dbe"/>
<circle cx="1239.7" cy="213.9" r="17.5"/><circle cx="1233.7" cy="206.9" r="2.6" fill="#ff7dbe"/>
<circle cx="1240.0" cy="209.0" r="17.5"/><circle cx="1234.0" cy="202.0" r="2.6" fill="#ff7dbe"/>
<circle cx="1240.1" cy="206.2" r="17.5"/><circle cx="1234.1" cy="199.2" r="2.6" fill="#ff7dbe"/>
<circle cx="1242.4" cy="210.5" r="17.5"/><circle cx="1236.4" cy="203.5" r="2.6" fill="#ff7dbe"/>
<circle cx="1242.4" cy="205.4" r="17.5"/><circle cx="1236.4" cy="198.4" r="2.6" fill="#ff7dbe"/>
<circle cx="1243.8" cy="207.1" r="17.5"/><circle cx="1237.8" cy="200.1" r="2.6" fill="#ff7dbe"/>
<circle cx="1244.4" cy="202.9" r="17.5"/><circle cx="1238.4" cy="195.9" r="2.6" fill="#ff7dbe"/>
<circle cx="1245.4" cy="203.1" r="17.5"/><circle cx="1239.4" cy="196.1" r="2.6" fill="#ff7dbe"/>
<circle cx="1246.7" cy="204.4" r="17.5"/><circle cx="1240.7" cy="197.4" r="2.6" fill="#ff7dbe"/>
<circle cx="1247.4" cy="201.5" r="17.5"/><circle cx="1241.4" cy="194.5" r="2.6" fill="#ff7dbe"/>
<circle cx="1249.2" cy="202.8" r="17.5"/><circle cx="1243.2" cy="195.8" r="2.6" fill="#ff7dbe"/>
<circle cx="1250.0" cy="201.9" r="17.5"/><circle cx="1244.0" cy="194.9" r="2.6" fill="#ff7dbe"/>
<circle cx="1250.0" cy="194.9" r="17.5"/><circle cx="1244.0" cy="187.9" r="2.6" fill="#ff7dbe"/>
<circle cx="1250.4" cy="200.1" r="17.5"/><circle cx="1244.4" cy="193.1" r="2.6" fill="#ff7dbe"/>
<circle cx="1251.1" cy="198.6" r="17.5"/><circle cx="1245.1" cy="191.6" r="2.6" fill="#ff7dbe"/>
<circle cx="1253.4" cy="196.8" r="17.5"/><circle cx="1247.4" cy="189.8" r="2.6" fill="#ff7dbe"/>
<circle cx="1253.7" cy="199.0" r="17.5"/><circle cx="1247.7" cy="192.0" r="2.6" fill="#ff7dbe"/>
<circle cx="1254.3" cy="191.1" r="17.5"/><circle cx="1248.3" cy="184.1" r="2.6" fill="#ff7dbe"/>
<circle cx="1254.3" cy="192.9" r="17.5"/><circle cx="1248.3" cy="185.9" r="2.6" fill="#ff7dbe"/>
<circle cx="1257.0" cy="194.0" r="17.5"/><circle cx="1251.0" cy="187.0" r="2.6" fill="#ff7dbe"/>
<circle cx="1257.3" cy="193.2" r="17.5"/><circle cx="1251.3" cy="186.2" r="2.6" fill="#ff7dbe"/>
<circle cx="1258.3" cy="189.3" r="17.5"/><circle cx="1252.3" cy="182.3" r="2.6" fill="#ff7dbe"/>
<circle cx="1259.0" cy="191.1" r="17.5"/><circle cx="1253.0" cy="184.1" r="2.6" fill="#ff7dbe"/>
<circle cx="1260.4" cy="188.4" r="17.5"/><circle cx="1254.4" cy="181.4" r="2.6" fill="#ff7dbe"/>
<circle cx="1261.0" cy="186.7" r="17.5"/><circle cx="1255.0" cy="179.7" r="2.6" fill="#ff7dbe"/>
<circle cx="1262.1" cy="187.5" r="17.5"/><circle cx="1256.1" cy="180.5" r="2.6" fill="#ff7dbe"/>
<circle cx="1263.8" cy="185.2" r="17.5"/><circle cx="1257.8" cy="178.2" r="2.6" fill="#ff7dbe"/>
<circle cx="1264.4" cy="184.9" r="17.5"/><circle cx="1258.4" cy="177.9" r="2.6" fill="#ff7dbe"/>
<circle cx="1264.5" cy="184.6" r="17.5"/><circle cx="1258.5" cy="177.6" r="2.6" fill="#ff7dbe"/>
<circle cx="1265.0" cy="186.3" r="17.5"/><circle cx="1259.0" cy="179.3" r="2.6" fill="#ff7dbe"/>
<circle cx="1267.3" cy="185.8" r="17.5"/><circle cx="1261.3" cy="178.8" r="2.6" fill="#ff7dbe"/>
<circle cx="1267.6" cy="185.2" r="17.5"/><circle cx="1261.6" cy="178.2" r="2.6" fill="#ff7dbe"/>
<circle cx="1268.7" cy="183.2" r="17.5"/><circle cx="1262.7" cy="176.2" r="2.6" fill="#ff7dbe"/>
<circle cx="1270.3" cy="180.7" r="17.5"/><circle cx="1264.3" cy="173.7" r="2.6" fill="#ff7dbe"/>
<circle cx="1271.4" cy="183.2" r="17.5"/><circle cx="1265.4" cy="176.2" r="2.6" fill="#ff7dbe"/>
<circle cx="1271.5" cy="176.0" r="17.5"/><circle cx="1265.5" cy="169.0" r="2.6" fill="#ff7dbe"/>
<circle cx="1272.1" cy="178.4" r="17.5"/><circle cx="1266.1" cy="171.4" r="2.6" fill="#ff7dbe"/>
<circle cx="1272.8" cy="179.0" r="17.5"/><circle cx="1266.8" cy="172.0" r="2.6" fill="#ff7dbe"/>
<circle cx="1273.5" cy="179.2" r="17.5"/><circle cx="1267.5" cy="172.2" r="2.6" fill="#ff7dbe"/>
<circle cx="1276.8" cy="175.5" r="17.5"/><circle cx="1270.8" cy="168.5" r="2.6" fill="#ff7dbe"/>
<circle cx="1277.1" cy="176.1" r="17.5"/><circle cx="1271.1" cy="169.1" r="2.6" fill="#ff7dbe"/>
<circle cx="1277.6" cy="176.2" r="17.5"/><circle cx="1271.6" cy="169.2" r="2.6" fill="#ff7dbe"/>
<circle cx="1279.2" cy="174.4" r="17.5"/><circle cx="1273.2" cy="167.4" r="2.6" fill="#ff7dbe"/>
<circle cx="1279.7" cy="173.6" r="17.5"/><circle cx="1273.7" cy="166.6" r="2.6" fill="#ff7dbe"/>
<circle cx="1280.2" cy="174.3" r="17.5"/><circle cx="1274.2" cy="167.3" r="2.6" fill="#ff7dbe"/>
<circle cx="1280.9" cy="175.7" r="17.5"/><circle cx="1274.9" cy="168.7" r="2.6" fill="#ff7dbe"/>
<circle cx="1281.8" cy="170.7" r="17.5"/><circle cx="1275.8" cy="163.7" r="2.6" fill="#ff7dbe"/>
<circle cx="1283.0" cy="172.0" r="17.5"/><circle cx="1277.0" cy="165.0" r="2.6" fill="#ff7dbe"/>
<circle cx="1283.2" cy="175.6" r="17.5"/><circle cx="1277.2" cy="168.6" r="2.6" fill="#ff7dbe"/>
<circle cx="1285.2" cy="174.3" r="17.5"/><circle cx="1279.2" cy="167.3" r="2.6" fill="#ff7dbe"/>
<circle cx="1285.6" cy="169.4" r="17.5"/><circle cx="1279.6" cy="162.4" r="2.6" fill="#ff7dbe"/>
<circle cx="1287.0" cy="170.3" r="17.5"/><circle cx="1281.0" cy="163.3" r="2.6" fill="#ff7dbe"/>
<circle cx="1287.0" cy="166.2" r="17.5"/><circle cx="1281.0" cy="159.2" r="2.6" fill="#ff7dbe"/>
<circle cx="1287.2" cy="169.4" r="17.5"/><circle cx="1281.2" cy="162.4" r="2.6" fill="#ff7dbe"/>
<circle cx="1290.1" cy="167.5" r="17.5"/><circle cx="1284.1" cy="160.5" r="2.6" fill="#ff7dbe"/>
<circle cx="1290.5" cy="166.5" r="17.5"/><circle cx="1284.5" cy="159.5" r="2.6" fill="#ff7dbe"/>
<circle cx="1291.5" cy="164.3" r="17.5"/><circle cx="1285.5" cy="157.3" r="2.6" fill="#ff7dbe"/>
<circle cx="1292.2" cy="167.1" r="17.5"/><circle cx="1286.2" cy="160.1" r="2.6" fill="#ff7dbe"/>
<circle cx="1293.7" cy="165.7" r="17.5"/><circle cx="1287.7" cy="158.7" r="2.6" fill="#ff7dbe"/>
<circle cx="1294.0" cy="164.5" r="17.5"/><circle cx="1288.0" cy="157.5" r="2.6" fill="#ff7dbe"/>
<circle cx="1295.2" cy="161.3" r="17.5"/><circle cx="1289.2" cy="154.3" r="2.6" fill="#ff7dbe"/>
<circle cx="1296.0" cy="167.5" r="17.5"/><circle cx="1290.0" cy="160.5" r="2.6" fill="#ff7dbe"/>
<circle cx="1296.4" cy="162.7" r="17.5"/><circle cx="1290.4" cy="155.7" r="2.6" fill="#ff7dbe"/>
<circle cx="1296.8" cy="162.5" r="17.5"/><circle cx="1290.8" cy="155.5" r="2.6" fill="#ff7dbe"/>
<circle cx="1297.6" cy="163.4" r="17.5"/><circle cx="1291.6" cy="156.4" r="2.6" fill="#ff7dbe"/>
<circle cx="1299.3" cy="159.4" r="17.5"/><circle cx="1293.3" cy="152.4" r="2.6" fill="#ff7dbe"/>
<circle cx="1300.9" cy="161.4" r="17.5"/><circle cx="1294.9" cy="154.4" r="2.6" fill="#ff7dbe"/>
<circle cx="1301.2" cy="159.6" r="17.5"/><circle cx="1295.2" cy="152.6" r="2.6" fill="#ff7dbe"/>
<circle cx="1303.1" cy="156.9" r="17.5"/><circle cx="1297.1" cy="149.9" r="2.6" fill="#ff7dbe"/>
<circle cx="1303.6" cy="155.9" r="17.5"/><circle cx="1297.6" cy="148.9" r="2.6" fill="#ff7dbe"/>
<circle cx="1303.7" cy="155.1" r="17.5"/><circle cx="1297.7" cy="148.1" r="2.6" fill="#ff7dbe"/>
<circle cx="1305.7" cy="156.0" r="17.5"/><circle cx="1299.7" cy="149.0" r="2.6" fill="#ff7dbe"/>
<circle cx="1305.8" cy="152.5" r="17.5"/><circle cx="1299.8" cy="145.5" r="2.6" fill="#ff7dbe"/>
<circle cx="1306.0" cy="157.5" r="17.5"/><circle cx="1300.0" cy="150.5" r="2.6" fill="#ff7dbe"/>
<circle cx="1308.6" cy="152.2" r="17.5"/><circle cx="1302.6" cy="145.2" r="2.6" fill="#ff7dbe"/>
<circle cx="1309.8" cy="151.2" r="17.5"/><circle cx="1303.8" cy="144.2" r="2.6" fill="#ff7dbe"/>
<circle cx="1310.2" cy="154.1" r="17.5"/><circle cx="1304.2" cy="147.1" r="2.6" fill="#ff7dbe"/>
<circle cx="1312.0" cy="152.3" r="17.5"/><circle cx="1306.0" cy="145.3" r="2.6" fill="#ff7dbe"/>
<circle cx="1312.5" cy="149.2" r="17.5"/><circle cx="1306.5" cy="142.2" r="2.6" fill="#ff7dbe"/>
<circle cx="1313.3" cy="151.7" r="17.5"/><circle cx="1307.3" cy="144.7" r="2.6" fill="#ff7dbe"/>
<circle cx="1313.4" cy="150.1" r="17.5"/><circle cx="1307.4" cy="143.1" r="2.6" fill="#ff7dbe"/>
<circle cx="1315.1" cy="150.1" r="17.5"/><circle cx="1309.1" cy="143.1" r="2.6" fill="#ff7dbe"/>
<circle cx="1316.2" cy="146.2" r="17.5"/><circle cx="1310.2" cy="139.2" r="2.6" fill="#ff7dbe"/>
<circle cx="1316.6" cy="145.8" r="17.5"/><circle cx="1310.6" cy="138.8" r="2.6" fill="#ff7dbe"/>
<circle cx="1318.1" cy="144.3" r="17.5"/><circle cx="1312.1" cy="137.3" r="2.6" fill="#ff7dbe"/>
<circle cx="1318.2" cy="144.5" r="17.5"/><circle cx="1312.2" cy="137.5" r="2.6" fill="#ff7dbe"/>
<circle cx="1319.1" cy="145.0" r="17.5"/><circle cx="1313.1" cy="138.0" r="2.6" fill="#ff7dbe"/>
<circle cx="1320.3" cy="143.5" r="17.5"/><circle cx="1314.3" cy="136.5" r="2.6" fill="#ff7dbe"/>
<circle cx="1321.7" cy="144.3" r="17.5"/><circle cx="1315.7" cy="137.3" r="2.6" fill="#ff7dbe"/>
<circle cx="1323.0" cy="144.5" r="17.5"/><circle cx="1317.0" cy="137.5" r="2.6" fill="#ff7dbe"/>
<circle cx="1323.5" cy="146.6" r="17.5"/><circle cx="1317.5" cy="139.6" r="2.6" fill="#ff7dbe"/>
<circle cx="1325.2" cy="142.5" r="17.5"/><circle cx="1319.2" cy="135.5" r="2.6" fill="#ff7dbe"/>
<circle cx="1326.0" cy="139.6" r="17.5"/><circle cx="1320.0" cy="132.6" r="2.6" fill="#ff7dbe"/>
<circle cx="1326.2" cy="139.2" r="17.5"/><circle cx="1320.2" cy="132.2" r="2.6" fill="#ff7dbe"/>
<circle cx="1327.3" cy="143.9" r="17.5"/><circle cx="1321.3" cy="136.9" r="2.6" fill="#ff7dbe"/>
<circle cx="1327.7" cy="143.4" r="17.5"/><circle cx="1321.7" cy="136.4" r="2.6" fill="#ff7dbe"/>
<circle cx="1328.2" cy="142.5" r="17.5"/><circle cx="1322.2" cy="135.5" r="2.6" fill="#ff7dbe"/>
<circle cx="1328.6" cy="137.7" r="17.5"/><circle cx="1322.6" cy="130.7" r="2.6" fill="#ff7dbe"/>
<circle cx="1331.7" cy="138.6" r="17.5"/><circle cx="1325.7" cy="131.6" r="2.6" fill="#ff7dbe"/>
<circle cx="1331.9" cy="138.3" r="17.5"/><circle cx="1325.9" cy="131.3" r="2.6" fill="#ff7dbe"/>
<circle cx="1332.9" cy="137.5" r="17.5"/><circle cx="1326.9" cy="130.5" r="2.6" fill="#ff7dbe"/>
<circle cx="1332.9" cy="136.7" r="17.5"/><circle cx="1326.9" cy="129.7" r="2.6" fill="#ff7dbe"/>
<circle cx="1334.7" cy="135.1" r="17.5"/><circle cx="1328.7" cy="128.1" r="2.6" fill="#ff7dbe"/>
<circle cx="1335.3" cy="134.8" r="17.5"/><circle cx="1329.3" cy="127.8" r="2.6" fill="#ff7dbe"/>
<circle cx="1336.0" cy="139.7" r="17.5"/><circle cx="1330.0" cy="132.7" r="2.6" fill="#ff7dbe"/>
<circle cx="1337.3" cy="135.3" r="17.5"/><circle cx="1331.3" cy="128.3" r="2.6" fill="#ff7dbe"/>
<circle cx="1338.5" cy="133.4" r="17.5"/><circle cx="1332.5" cy="126.4" r="2.6" fill="#ff7dbe"/>
<circle cx="1339.3" cy="134.3" r="17.5"/><circle cx="1333.3" cy="127.3" r="2.6" fill="#ff7dbe"/>
<circle cx="1340.2" cy="136.8" r="17.5"/><circle cx="1334.2" cy="129.8" r="2.6" fill="#ff7dbe"/>
<circle cx="1341.0" cy="133.9" r="17.5"/><circle cx="1335.0" cy="126.9" r="2.6" fill="#ff7dbe"/>
<circle cx="1341.3" cy="130.5" r="17.5"/><circle cx="1335.3" cy="123.5" r="2.6" fill="#ff7dbe"/>
<circle cx="1342.9" cy="131.1" r="17.5"/><circle cx="1336.9" cy="124.1" r="2.6" fill="#ff7dbe"/>
<circle cx="1343.0" cy="131.2" r="17.5"/><circle cx="1337.0" cy="124.2" r="2.6" fill="#ff7dbe"/>
<circle cx="1344.9" cy="130.0" r="17.5"/><circle cx="1338.9" cy="123.0" r="2.6" fill="#ff7dbe"/>
<circle cx="1345.7" cy="132.5" r="17.5"/><circle cx="1339.7" cy="125.5" r="2.6" fill="#ff7dbe"/>
<circle cx="1347.5" cy="131.3" r="17.5"/><circle cx="1341.5" cy="124.3" r="2.6" fill="#ff7dbe"/>
<circle cx="1347.7" cy="127.2" r="17.5"/><circle cx="1341.7" cy="120.2" r="2.6" fill="#ff7dbe"/>
<circle cx="1349.4" cy="132.2" r="17.5"/><circle cx="1343.4" cy="125.2" r="2.6" fill="#ff7dbe"/>
<circle cx="1350.7" cy="131.0" r="17.5"/><circle cx="1344.7" cy="124.0" r="2.6" fill="#ff7dbe"/>
<circle cx="1350.9" cy="129.0" r="17.5"/><circle cx="1344.9" cy="122.0" r="2.6" fill="#ff7dbe"/>
<circle cx="1351.6" cy="130.2" r="17.5"/><circle cx="1345.6" cy="123.2" r="2.6" fill="#ff7dbe"/>
<circle cx="1352.3" cy="131.4" r="17.5"/><circle cx="1346.3" cy="124.4" r="2.6" fill="#ff7dbe"/>
<circle cx="1354.1" cy="126.2" r="17.5"/><circle cx="1348.1" cy="119.2" r="2.6" fill="#ff7dbe"/>
<circle cx="1354.4" cy="123.2" r="17.5"/><circle cx="1348.4" cy="116.2" r="2.6" fill="#ff7dbe"/>
<circle cx="1354.8" cy="125.2" r="17.5"/><circle cx="1348.8" cy="118.2" r="2.6" fill="#ff7dbe"/>
<circle cx="1357.6" cy="125.6" r="17.5"/><circle cx="1351.6" cy="118.6" r="2.6" fill="#ff7dbe"/>
<circle cx="1358.0" cy="125.5" r="17.5"/><circle cx="1352.0" cy="118.5" r="2.6" fill="#ff7dbe"/>
<circle cx="1358.0" cy="124.9" r="17.5"/><circle cx="1352.0" cy="117.9" r="2.6" fill="#ff7dbe"/>
<circle cx="1358.2" cy="123.7" r="17.5"/><circle cx="1352.2" cy="116.7" r="2.6" fill="#ff7dbe"/>
<circle cx="1361.0" cy="123.1" r="17.5"/><circle cx="1355.0" cy="116.1" r="2.6" fill="#ff7dbe"/>
<circle cx="1361.6" cy="123.8" r="17.5"/><circle cx="1355.6" cy="116.8" r="2.6" fill="#ff7dbe"/>
<circle cx="1362.5" cy="121.3" r="17.5"/><circle cx="1356.5" cy="114.3" r="2.6" fill="#ff7dbe"/>
<circle cx="1363.0" cy="122.7" r="17.5"/><circle cx="1357.0" cy="115.7" r="2.6" fill="#ff7dbe"/>
<circle cx="1363.6" cy="122.0" r="17.5"/><circle cx="1357.6" cy="115.0" r="2.6" fill="#ff7dbe"/>
<circle cx="1364.9" cy="119.2" r="17.5"/><circle cx="1358.9" cy="112.2" r="2.6" fill="#ff7dbe"/>
<circle cx="1365.0" cy="122.1" r="17.5"/><circle cx="1359.0" cy="115.1" r="2.6" fill="#ff7dbe"/>
<circle cx="1366.3" cy="122.1" r="17.5"/><circle cx="1360.3" cy="115.1" r="2.6" fill="#ff7dbe"/>
<circle cx="1367.5" cy="122.5" r="17.5"/><circle cx="1361.5" cy="115.5" r="2.6" fill="#ff7dbe"/>
<circle cx="1367.8" cy="116.1" r="17.5"/><circle cx="1361.8" cy="109.1" r="2.6" fill="#ff7dbe"/>
<circle cx="1369.7" cy="118.0" r="17.5"/><circle cx="1363.7" cy="111.0" r="2.6" fill="#ff7dbe"/>
<circle cx="1369.7" cy="115.8" r="17.5"/><circle cx="1363.7" cy="108.8" r="2.6" fill="#ff7dbe"/>
<circle cx="1372.0" cy="116.2" r="17.5"/><circle cx="1366.0" cy="109.2" r="2.6" fill="#ff7dbe"/>
<circle cx="1372.5" cy="120.4" r="17.5"/><circle cx="1366.5" cy="113.4" r="2.6" fill="#ff7dbe"/>
<circle cx="1374.7" cy="114.4" r="17.5"/><circle cx="1368.7" cy="107.4" r="2.6" fill="#ff7dbe"/>
<circle cx="1375.2" cy="117.7" r="17.5"/><circle cx="1369.2" cy="110.7" r="2.6" fill="#ff7dbe"/>
<circle cx="1375.4" cy="116.4" r="17.5"/><circle cx="1369.4" cy="109.4" r="2.6" fill="#ff7dbe"/>
<circle cx="1375.8" cy="114.3" r="17.5"/><circle cx="1369.8" cy="107.3" r="2.6" fill="#ff7dbe"/>
<circle cx="1376.4" cy="113.1" r="17.5"/><circle cx="1370.4" cy="106.1" r="2.6" fill="#ff7dbe"/>
<circle cx="1376.9" cy="115.8" r="17.5"/><circle cx="1370.9" cy="108.8" r="2.6" fill="#ff7dbe"/>
<circle cx="1378.4" cy="116.4" r="17.5"/><circle cx="1372.4" cy="109.4" r="2.6" fill="#ff7dbe"/>
<circle cx="1380.3" cy="115.7" r="17.5"/><circle cx="1374.3" cy="108.7" r="2.6" fill="#ff7dbe"/>
<circle cx="1381.4" cy="112.7" r="17.5"/><circle cx="1375.4" cy="105.7" r="2.6" fill="#ff7dbe"/>
<circle cx="1382.1" cy="112.5" r="17.5"/><circle cx="1376.1" cy="105.5" r="2.6" fill="#ff7dbe"/>
<circle cx="1382.2" cy="111.0" r="17.5"/><circle cx="1376.2" cy="104.0" r="2.6" fill="#ff7dbe"/>
<circle cx="1383.4" cy="107.5" r="17.5"/><circle cx="1377.4" cy="100.5" r="2.6" fill="#ff7dbe"/>
<circle cx="1383.7" cy="109.9" r="17.5"/><circle cx="1377.7" cy="102.9" r="2.6" fill="#ff7dbe"/>
<circle cx="1385.9" cy="110.7" r="17.5"/><circle cx="1379.9" cy="103.7" r="2.6" fill="#ff7dbe"/>
<circle cx="1386.5" cy="107.0" r="17.5"/><circle cx="1380.5" cy="100.0" r="2.6" fill="#ff7dbe"/>
<circle cx="1386.7" cy="111.3" r="17.5"/><circle cx="1380.7" cy="104.3" r="2.6" fill="#ff7dbe"/>
<circle cx="1388.0" cy="108.0" r="17.5"/><circle cx="1382.0" cy="101.0" r="2.6" fill="#ff7dbe"/>
<circle cx="1388.1" cy="112.1" r="17.5"/><circle cx="1382.1" cy="105.1" r="2.6" fill="#ff7dbe"/>
<circle cx="1389.3" cy="105.5" r="17.5"/><circle cx="1383.3" cy="98.5" r="2.6" fill="#ff7dbe"/>
<circle cx="1390.6" cy="106.5" r="17.5"/><circle cx="1384.6" cy="99.5" r="2.6" fill="#ff7dbe"/>
<circle cx="1393.2" cy="102.6" r="17.5"/><circle cx="1387.2" cy="95.6" r="2.6" fill="#ff7dbe"/>
<circle cx="1393.2" cy="109.0" r="17.5"/><circle cx="1387.2" cy="102.0" r="2.6" fill="#ff7dbe"/>
<circle cx="1393.7" cy="104.8" r="17.5"/><circle cx="1387.7" cy="97.8" r="2.6" fill="#ff7dbe"/>
<circle cx="1395.3" cy="104.7" r="17.5"/><circle cx="1389.3" cy="97.7" r="2.6" fill="#ff7dbe"/>
<circle cx="1396.1" cy="101.3" r="17.5"/><circle cx="1390.1" cy="94.3" r="2.6" fill="#ff7dbe"/>
<circle cx="1396.3" cy="106.7" r="17.5"/><circle cx="1390.3" cy="99.7" r="2.6" fill="#ff7dbe"/>
<circle cx="1396.6" cy="105.2" r="17.5"/><circle cx="1390.6" cy="98.2" r="2.6" fill="#ff7dbe"/>
<circle cx="1398.5" cy="104.9" r="17.5"/><circle cx="1392.5" cy="97.9" r="2.6" fill="#ff7dbe"/>
<circle cx="1399.1" cy="102.7" r="17.5"/><circle cx="1393.1" cy="95.7" r="2.6" fill="#ff7dbe"/>
<circle cx="1400.5" cy="104.2" r="17.5"/><circle cx="1394.5" cy="97.2" r="2.6" fill="#ff7dbe"/>
<circle cx="1401.2" cy="103.9" r="17.5"/><circle cx="1395.2" cy="96.9" r="2.6" fill="#ff7dbe"/>
<circle cx="1403.4" cy="101.4" r="17.5"/><circle cx="1397.4" cy="94.4" r="2.6" fill="#ff7dbe"/>
<circle cx="1403.9" cy="98.2" r="17.5"/><circle cx="1397.9" cy="91.2" r="2.6" fill="#ff7dbe"/>
<circle cx="1404.8" cy="102.4" r="17.5"/><circle cx="1398.8" cy="95.4" r="2.6" fill="#ff7dbe"/>
<circle cx="1406.5" cy="98.9" r="17.5"/><circle cx="1400.5" cy="91.9" r="2.6" fill="#ff7dbe"/>
<circle cx="1406.8" cy="95.5" r="17.5"/><circle cx="1400.8" cy="88.5" r="2.6" fill="#ff7dbe"/>
<circle cx="1407.2" cy="98.8" r="17.5"/><circle cx="1401.2" cy="91.8" r="2.6" fill="#ff7dbe"/>
<circle cx="1408.0" cy="97.9" r="17.5"/><circle cx="1402.0" cy="90.9" r="2.6" fill="#ff7dbe"/>
<circle cx="1408.8" cy="95.1" r="17.5"/><circle cx="1402.8" cy="88.1" r="2.6" fill="#ff7dbe"/>
<circle cx="1409.8" cy="96.7" r="17.5"/><circle cx="1403.8" cy="89.7" r="2.6" fill="#ff7dbe"/>
<circle cx="1410.9" cy="97.2" r="17.5"/><circle cx="1404.9" cy="90.2" r="2.6" fill="#ff7dbe"/>
<circle cx="1412.4" cy="95.5" r="17.5"/><circle cx="1406.4" cy="88.5" r="2.6" fill="#ff7dbe"/>
<circle cx="1413.2" cy="96.0" r="17.5"/><circle cx="1407.2" cy="89.0" r="2.6" fill="#ff7dbe"/>
<circle cx="1414.8" cy="95.8" r="17.5"/><circle cx="1408.8" cy="88.8" r="2.6" fill="#ff7dbe"/>
<circle cx="1415.0" cy="95.1" r="17.5"/><circle cx="1409.0" cy="88.1" r="2.6" fill="#ff7dbe"/>
<circle cx="1415.8" cy="95.8" r="17.5"/><circle cx="1409.8" cy="88.8" r="2.6" fill="#ff7dbe"/>
<circle cx="1416.2" cy="93.2" r="17.5"/><circle cx="1410.2" cy="86.2" r="2.6" fill="#ff7dbe"/>
<circle cx="1416.6" cy="92.5" r="17.5"/><circle cx="1410.6" cy="85.5" r="2.6" fill="#ff7dbe"/>
<circle cx="1419.3" cy="92.8" r="17.5"/><circle cx="1413.3" cy="85.8" r="2.6" fill="#ff7dbe"/>
<circle cx="1421.9" cy="94.9" r="17.5"/><circle cx="1415.9" cy="87.9" r="2.6" fill="#ff7dbe"/>
<circle cx="1422.0" cy="88.7" r="17.5"/><circle cx="1416.0" cy="81.7" r="2.6" fill="#ff7dbe"/>
<circle cx="1422.0" cy="94.8" r="17.5"/><circle cx="1416.0" cy="87.8" r="2.6" fill="#ff7dbe"/>
<circle cx="1422.2" cy="90.6" r="17.5"/><circle cx="1416.2" cy="83.6" r="2.6" fill="#ff7dbe"/>
<circle cx="1423.4" cy="91.7" r="17.5"/><circle cx="1417.4" cy="84.7" r="2.6" fill="#ff7dbe"/>
<circle cx="1424.7" cy="91.9" r="17.5"/><circle cx="1418.7" cy="84.9" r="2.6" fill="#ff7dbe"/>
<circle cx="1425.2" cy="88.6" r="17.5"/><circle cx="1419.2" cy="81.6" r="2.6" fill="#ff7dbe"/>
<circle cx="1426.6" cy="87.7" r="17.5"/><circle cx="1420.6" cy="80.7" r="2.6" fill="#ff7dbe"/>
<circle cx="1426.7" cy="89.0" r="17.5"/><circle cx="1420.7" cy="82.0" r="2.6" fill="#ff7dbe"/>
<circle cx="1426.9" cy="90.2" r="17.5"/><circle cx="1420.9" cy="83.2" r="2.6" fill="#ff7dbe"/>
<circle cx="1427.3" cy="86.0" r="17.5"/><circle cx="1421.3" cy="79.0" r="2.6" fill="#ff7dbe"/>
<circle cx="1428.8" cy="87.2" r="17.5"/><circle cx="1422.8" cy="80.2" r="2.6" fill="#ff7dbe"/>
<circle cx="1431.2" cy="86.8" r="17.5"/><circle cx="1425.2" cy="79.8" r="2.6" fill="#ff7dbe"/>
<circle cx="1432.3" cy="86.6" r="17.5"/><circle cx="1426.3" cy="79.6" r="2.6" fill="#ff7dbe"/>
<circle cx="1432.4" cy="86.9" r="17.5"/><circle cx="1426.4" cy="79.9" r="2.6" fill="#ff7dbe"/>
<circle cx="1433.3" cy="85.8" r="17.5"/><circle cx="1427.3" cy="78.8" r="2.6" fill="#ff7dbe"/>
<circle cx="1435.3" cy="84.0" r="17.5"/><circle cx="1429.3" cy="77.0" r="2.6" fill="#ff7dbe"/>
<circle cx="1436.2" cy="80.8" r="17.5"/><circle cx="1430.2" cy="73.8" r="2.6" fill="#ff7dbe"/>
<circle cx="1436.3" cy="82.5" r="17.5"/><circle cx="1430.3" cy="75.5" r="2.6" fill="#ff7dbe"/>
<circle cx="1436.9" cy="86.8" r="17.5"/><circle cx="1430.9" cy="79.8" r="2.6" fill="#ff7dbe"/>
<circle cx="1438.0" cy="80.9" r="17.5"/><circle cx="1432.0" cy="73.9" r="2.6" fill="#ff7dbe"/>
<circle cx="1438.5" cy="85.7" r="17.5"/><circle cx="1432.5" cy="78.7" r="2.6" fill="#ff7dbe"/>
<circle cx="1440.5" cy="84.0" r="17.5"/><circle cx="1434.5" cy="77.0" r="2.6" fill="#ff7dbe"/>
<circle cx="1441.7" cy="78.7" r="17.5"/><circle cx="1435.7" cy="71.7" r="2.6" fill="#ff7dbe"/>
<circle cx="1442.4" cy="81.3" r="17.5"/><circle cx="1436.4" cy="74.3" r="2.6" fill="#ff7dbe"/>
<circle cx="1443.0" cy="81.9" r="17.5"/><circle cx="1437.0" cy="74.9" r="2.6" fill="#ff7dbe"/>
<circle cx="1443.6" cy="77.3" r="17.5"/><circle cx="1437.6" cy="70.3" r="2.6" fill="#ff7dbe"/>
<circle cx="1444.0" cy="77.3" r="17.5"/><circle cx="1438.0" cy="70.3" r="2.6" fill="#ff7dbe"/>
<circle cx="1444.7" cy="79.1" r="17.5"/><circle cx="1438.7" cy="72.1" r="2.6" fill="#ff7dbe"/>
<circle cx="1447.0" cy="75.5" r="17.5"/><circle cx="1441.0" cy="68.5" r="2.6" fill="#ff7dbe"/>
<circle cx="1447.2" cy="77.1" r="17.5"/><circle cx="1441.2" cy="70.1" r="2.6" fill="#ff7dbe"/>
<circle cx="1447.7" cy="77.2" r="17.5"/><circle cx="1441.7" cy="70.2" r="2.6" fill="#ff7dbe"/>
<circle cx="1449.1" cy="75.7" r="17.5"/><circle cx="1443.1" cy="68.7" r="2.6" fill="#ff7dbe"/>
<circle cx="1449.7" cy="76.3" r="17.5"/><circle cx="1443.7" cy="69.3" r="2.6" fill="#ff7dbe"/>
<circle cx="1450.5" cy="75.6" r="17.5"/><circle cx="1444.5" cy="68.6" r="2.6" fill="#ff7dbe"/>
<circle cx="1451.8" cy="234.5" r="17.5"/><circle cx="1445.8" cy="227.5" r="2.6" fill="#ff7dbe"/>
<circle cx="1452.6" cy="233.4" r="17.5"/><circle cx="1446.6" cy="226.4" r="2.6" fill="#ff7dbe"/>
<circle cx="1454.6" cy="231.7" r="17.5"/><circle cx="1448.6" cy="224.7" r="2.6" fill="#ff7dbe"/>
<circle cx="1455.0" cy="245.0" r="17.5"/><circle cx="1449.0" cy="238.0" r="2.6" fill="#ff7dbe"/>
<circle cx="1455.4" cy="234.1" r="17.5"/><circle cx="1449.4" cy="227.1" r="2.6" fill="#ff7dbe"/>
<circle cx="1456.4" cy="229.5" r="17.5"/><circle cx="1450.4" cy="222.5" r="2.6" fill="#ff7dbe"/>
<circle cx="1456.4" cy="232.6" r="17.5"/><circle cx="1450.4" cy="225.6" r="2.6" fill="#ff7dbe"/>
<circle cx="1458.0" cy="231.2" r="17.5"/><circle cx="1452.0" cy="224.2" r="2.6" fill="#ff7dbe"/>
<circle cx="1458.0" cy="216.0" r="17.5"/><circle cx="1452.0" cy="209.0" r="2.6" fill="#ff7dbe"/>
<circle cx="1459.7" cy="232.8" r="17.5"/><circle cx="1453.7" cy="225.8" r="2.6" fill="#ff7dbe"/>
<circle cx="1460.3" cy="224.3" r="17.5"/><circle cx="1454.3" cy="217.3" r="2.6" fill="#ff7dbe"/>
<circle cx="1460.7" cy="229.6" r="17.5"/><circle cx="1454.7" cy="222.6" r="2.6" fill="#ff7dbe"/>
<circle cx="1462.7" cy="229.7" r="17.5"/><circle cx="1456.7" cy="222.7" r="2.6" fill="#ff7dbe"/>
<circle cx="1462.9" cy="224.0" r="17.5"/><circle cx="1456.9" cy="217.0" r="2.6" fill="#ff7dbe"/>
<circle cx="1463.2" cy="221.0" r="17.5"/><circle cx="1457.2" cy="214.0" r="2.6" fill="#ff7dbe"/>
<circle cx="1463.8" cy="226.5" r="17.5"/><circle cx="1457.8" cy="219.5" r="2.6" fill="#ff7dbe"/>
<circle cx="1465.7" cy="231.1" r="17.5"/><circle cx="1459.7" cy="224.1" r="2.6" fill="#ff7dbe"/>
<circle cx="1466.0" cy="228.0" r="17.5"/><circle cx="1460.0" cy="221.0" r="2.6" fill="#ff7dbe"/>
<circle cx="1467.5" cy="219.6" r="17.5"/><circle cx="1461.5" cy="212.6" r="2.6" fill="#ff7dbe"/>
<circle cx="1468.2" cy="226.8" r="17.5"/><circle cx="1462.2" cy="219.8" r="2.6" fill="#ff7dbe"/>
<circle cx="1468.8" cy="223.0" r="17.5"/><circle cx="1462.8" cy="216.0" r="2.6" fill="#ff7dbe"/>
<circle cx="1469.6" cy="222.7" r="17.5"/><circle cx="1463.6" cy="215.7" r="2.6" fill="#ff7dbe"/>
<circle cx="1471.4" cy="224.0" r="17.5"/><circle cx="1465.4" cy="217.0" r="2.6" fill="#ff7dbe"/>
<circle cx="1471.6" cy="218.6" r="17.5"/><circle cx="1465.6" cy="211.6" r="2.6" fill="#ff7dbe"/>
<circle cx="1472.5" cy="224.4" r="17.5"/><circle cx="1466.5" cy="217.4" r="2.6" fill="#ff7dbe"/>
<circle cx="1473.7" cy="220.7" r="17.5"/><circle cx="1467.7" cy="213.7" r="2.6" fill="#ff7dbe"/>
<circle cx="1474.2" cy="219.8" r="17.5"/><circle cx="1468.2" cy="212.8" r="2.6" fill="#ff7dbe"/>
<circle cx="1474.5" cy="217.0" r="17.5"/><circle cx="1468.5" cy="210.0" r="2.6" fill="#ff7dbe"/>
<circle cx="1475.9" cy="229.2" r="17.5"/><circle cx="1469.9" cy="222.2" r="2.6" fill="#ff7dbe"/>
<circle cx="1476.8" cy="219.9" r="17.5"/><circle cx="1470.8" cy="212.9" r="2.6" fill="#ff7dbe"/>
<circle cx="1477.9" cy="224.5" r="17.5"/><circle cx="1471.9" cy="217.5" r="2.6" fill="#ff7dbe"/>
<circle cx="1478.1" cy="220.1" r="17.5"/><circle cx="1472.1" cy="213.1" r="2.6" fill="#ff7dbe"/>
<circle cx="1478.3" cy="223.6" r="17.5"/><circle cx="1472.3" cy="216.6" r="2.6" fill="#ff7dbe"/>
<circle cx="1480.6" cy="228.2" r="17.5"/><circle cx="1474.6" cy="221.2" r="2.6" fill="#ff7dbe"/>
<circle cx="1481.1" cy="226.1" r="17.5"/><circle cx="1475.1" cy="219.1" r="2.6" fill="#ff7dbe"/>
<circle cx="1483.1" cy="220.1" r="17.5"/><circle cx="1477.1" cy="213.1" r="2.6" fill="#ff7dbe"/>
<circle cx="1483.1" cy="220.3" r="17.5"/><circle cx="1477.1" cy="213.3" r="2.6" fill="#ff7dbe"/>
<circle cx="1483.4" cy="223.5" r="17.5"/><circle cx="1477.4" cy="216.5" r="2.6" fill="#ff7dbe"/>
<circle cx="1484.8" cy="218.7" r="17.5"/><circle cx="1478.8" cy="211.7" r="2.6" fill="#ff7dbe"/>
<circle cx="1486.6" cy="221.3" r="17.5"/><circle cx="1480.6" cy="214.3" r="2.6" fill="#ff7dbe"/>
<circle cx="1486.7" cy="220.1" r="17.5"/><circle cx="1480.7" cy="213.1" r="2.6" fill="#ff7dbe"/>
<circle cx="1487.7" cy="225.1" r="17.5"/><circle cx="1481.7" cy="218.1" r="2.6" fill="#ff7dbe"/>
<circle cx="1489.8" cy="218.4" r="17.5"/><circle cx="1483.8" cy="211.4" r="2.6" fill="#ff7dbe"/>
<circle cx="1490.0" cy="225.0" r="17.5"/><circle cx="1484.0" cy="218.0" r="2.6" fill="#ff7dbe"/>
<circle cx="1490.7" cy="226.3" r="17.5"/><circle cx="1484.7" cy="219.3" r="2.6" fill="#ff7dbe"/>
<circle cx="1491.2" cy="223.2" r="17.5"/><circle cx="1485.2" cy="216.2" r="2.6" fill="#ff7dbe"/>
<circle cx="1492.2" cy="222.7" r="17.5"/><circle cx="1486.2" cy="215.7" r="2.6" fill="#ff7dbe"/>
<circle cx="1494.0" cy="222.3" r="17.5"/><circle cx="1488.0" cy="215.3" r="2.6" fill="#ff7dbe"/>
<circle cx="1495.1" cy="222.0" r="17.5"/><circle cx="1489.1" cy="215.0" r="2.6" fill="#ff7dbe"/>
<circle cx="1495.2" cy="223.2" r="17.5"/><circle cx="1489.2" cy="216.2" r="2.6" fill="#ff7dbe"/>
<circle cx="1496.6" cy="216.9" r="17.5"/><circle cx="1490.6" cy="209.9" r="2.6" fill="#ff7dbe"/>
<circle cx="1496.7" cy="220.7" r="17.5"/><circle cx="1490.7" cy="213.7" r="2.6" fill="#ff7dbe"/>
<circle cx="1497.8" cy="223.4" r="17.5"/><circle cx="1491.8" cy="216.4" r="2.6" fill="#ff7dbe"/>
<circle cx="1498.7" cy="213.1" r="17.5"/><circle cx="1492.7" cy="206.1" r="2.6" fill="#ff7dbe"/>
<circle cx="1500.1" cy="219.2" r="17.5"/><circle cx="1494.1" cy="212.2" r="2.6" fill="#ff7dbe"/>
<circle cx="1500.3" cy="229.1" r="17.5"/><circle cx="1494.3" cy="222.1" r="2.6" fill="#ff7dbe"/>
<circle cx="1501.8" cy="221.8" r="17.5"/><circle cx="1495.8" cy="214.8" r="2.6" fill="#ff7dbe"/>
<circle cx="1503.0" cy="205.0" r="17.5"/><circle cx="1497.0" cy="198.0" r="2.6" fill="#ff7dbe"/>
<circle cx="1503.3" cy="224.1" r="17.5"/><circle cx="1497.3" cy="217.1" r="2.6" fill="#ff7dbe"/>
<circle cx="1504.1" cy="221.1" r="17.5"/><circle cx="1498.1" cy="214.1" r="2.6" fill="#ff7dbe"/>
<circle cx="1504.3" cy="225.2" r="17.5"/><circle cx="1498.3" cy="218.2" r="2.6" fill="#ff7dbe"/>
<circle cx="1506.1" cy="222.2" r="17.5"/><circle cx="1500.1" cy="215.2" r="2.6" fill="#ff7dbe"/>
<circle cx="1506.3" cy="224.5" r="17.5"/><circle cx="1500.3" cy="217.5" r="2.6" fill="#ff7dbe"/>
<circle cx="1507.8" cy="220.2" r="17.5"/><circle cx="1501.8" cy="213.2" r="2.6" fill="#ff7dbe"/>
<circle cx="1508.6" cy="216.8" r="17.5"/><circle cx="1502.6" cy="209.8" r="2.6" fill="#ff7dbe"/>
<circle cx="1510.3" cy="221.4" r="17.5"/><circle cx="1504.3" cy="214.4" r="2.6" fill="#ff7dbe"/>
<circle cx="1511.0" cy="219.4" r="17.5"/><circle cx="1505.0" cy="212.4" r="2.6" fill="#ff7dbe"/>
<circle cx="1511.1" cy="226.3" r="17.5"/><circle cx="1505.1" cy="219.3" r="2.6" fill="#ff7dbe"/>
<circle cx="1512.6" cy="223.1" r="17.5"/><circle cx="1506.6" cy="216.1" r="2.6" fill="#ff7dbe"/>
<circle cx="1513.4" cy="223.4" r="17.5"/><circle cx="1507.4" cy="216.4" r="2.6" fill="#ff7dbe"/>
<circle cx="1514.8" cy="214.8" r="17.5"/><circle cx="1508.8" cy="207.8" r="2.6" fill="#ff7dbe"/>
<circle cx="1514.9" cy="213.9" r="17.5"/><circle cx="1508.9" cy="206.9" r="2.6" fill="#ff7dbe"/>
<circle cx="1516.1" cy="219.1" r="17.5"/><circle cx="1510.1" cy="212.1" r="2.6" fill="#ff7dbe"/>
<circle cx="1517.8" cy="221.0" r="17.5"/><circle cx="1511.8" cy="214.0" r="2.6" fill="#ff7dbe"/>
<circle cx="1518.2" cy="224.6" r="17.5"/><circle cx="1512.2" cy="217.6" r="2.6" fill="#ff7dbe"/>
<circle cx="1519.6" cy="221.6" r="17.5"/><circle cx="1513.6" cy="214.6" r="2.6" fill="#ff7dbe"/>
<circle cx="1519.6" cy="216.6" r="17.5"/><circle cx="1513.6" cy="209.6" r="2.6" fill="#ff7dbe"/>
<circle cx="1521.9" cy="221.5" r="17.5"/><circle cx="1515.9" cy="214.5" r="2.6" fill="#ff7dbe"/>
<circle cx="1522.4" cy="220.0" r="17.5"/><circle cx="1516.4" cy="213.0" r="2.6" fill="#ff7dbe"/>
<circle cx="1523.6" cy="220.4" r="17.5"/><circle cx="1517.6" cy="213.4" r="2.6" fill="#ff7dbe"/>
<circle cx="1524.1" cy="219.3" r="17.5"/><circle cx="1518.1" cy="212.3" r="2.6" fill="#ff7dbe"/>
<circle cx="1524.4" cy="218.2" r="17.5"/><circle cx="1518.4" cy="211.2" r="2.6" fill="#ff7dbe"/>
<circle cx="1526.3" cy="219.0" r="17.5"/><circle cx="1520.3" cy="212.0" r="2.6" fill="#ff7dbe"/>
<circle cx="1527.1" cy="222.1" r="17.5"/><circle cx="1521.1" cy="215.1" r="2.6" fill="#ff7dbe"/>
<circle cx="1527.8" cy="216.9" r="17.5"/><circle cx="1521.8" cy="209.9" r="2.6" fill="#ff7dbe"/>
<circle cx="1528.4" cy="212.2" r="17.5"/><circle cx="1522.4" cy="205.2" r="2.6" fill="#ff7dbe"/>
<circle cx="1529.4" cy="223.4" r="17.5"/><circle cx="1523.4" cy="216.4" r="2.6" fill="#ff7dbe"/>
<circle cx="1531.6" cy="223.9" r="17.5"/><circle cx="1525.6" cy="216.9" r="2.6" fill="#ff7dbe"/>
<circle cx="1532.1" cy="222.6" r="17.5"/><circle cx="1526.1" cy="215.6" r="2.6" fill="#ff7dbe"/>
<circle cx="1532.5" cy="225.8" r="17.5"/><circle cx="1526.5" cy="218.8" r="2.6" fill="#ff7dbe"/>
<circle cx="1532.5" cy="222.1" r="17.5"/><circle cx="1526.5" cy="215.1" r="2.6" fill="#ff7dbe"/>
<circle cx="1534.3" cy="223.0" r="17.5"/><circle cx="1528.3" cy="216.0" r="2.6" fill="#ff7dbe"/>
<circle cx="1534.4" cy="217.5" r="17.5"/><circle cx="1528.4" cy="210.5" r="2.6" fill="#ff7dbe"/>
<circle cx="1535.6" cy="221.0" r="17.5"/><circle cx="1529.6" cy="214.0" r="2.6" fill="#ff7dbe"/>
<circle cx="1537.3" cy="220.2" r="17.5"/><circle cx="1531.3" cy="213.2" r="2.6" fill="#ff7dbe"/>
<circle cx="1538.0" cy="221.2" r="17.5"/><circle cx="1532.0" cy="214.2" r="2.6" fill="#ff7dbe"/>
<circle cx="1538.3" cy="223.6" r="17.5"/><circle cx="1532.3" cy="216.6" r="2.6" fill="#ff7dbe"/>
<circle cx="1538.7" cy="219.9" r="17.5"/><circle cx="1532.7" cy="212.9" r="2.6" fill="#ff7dbe"/>
<circle cx="1541.5" cy="219.5" r="17.5"/><circle cx="1535.5" cy="212.5" r="2.6" fill="#ff7dbe"/>
<circle cx="1543.2" cy="223.6" r="17.5"/><circle cx="1537.2" cy="216.6" r="2.6" fill="#ff7dbe"/>
<circle cx="1543.4" cy="222.4" r="17.5"/><circle cx="1537.4" cy="215.4" r="2.6" fill="#ff7dbe"/>
<circle cx="1544.3" cy="225.7" r="17.5"/><circle cx="1538.3" cy="218.7" r="2.6" fill="#ff7dbe"/>
<circle cx="1544.7" cy="220.6" r="17.5"/><circle cx="1538.7" cy="213.6" r="2.6" fill="#ff7dbe"/>
<circle cx="1545.1" cy="228.7" r="17.5"/><circle cx="1539.1" cy="221.7" r="2.6" fill="#ff7dbe"/>
<circle cx="1546.3" cy="221.1" r="17.5"/><circle cx="1540.3" cy="214.1" r="2.6" fill="#ff7dbe"/>
<circle cx="1546.9" cy="217.3" r="17.5"/><circle cx="1540.9" cy="210.3" r="2.6" fill="#ff7dbe"/>
<circle cx="1548.0" cy="223.9" r="17.5"/><circle cx="1542.0" cy="216.9" r="2.6" fill="#ff7dbe"/>
<circle cx="1548.9" cy="220.6" r="17.5"/><circle cx="1542.9" cy="213.6" r="2.6" fill="#ff7dbe"/>
<circle cx="1550.6" cy="224.6" r="17.5"/><circle cx="1544.6" cy="217.6" r="2.6" fill="#ff7dbe"/>
<circle cx="1550.9" cy="224.3" r="17.5"/><circle cx="1544.9" cy="217.3" r="2.6" fill="#ff7dbe"/>
<circle cx="1551.4" cy="226.2" r="17.5"/><circle cx="1545.4" cy="219.2" r="2.6" fill="#ff7dbe"/>
<circle cx="1552.3" cy="222.5" r="17.5"/><circle cx="1546.3" cy="215.5" r="2.6" fill="#ff7dbe"/>
<circle cx="1554.1" cy="230.5" r="17.5"/><circle cx="1548.1" cy="223.5" r="2.6" fill="#ff7dbe"/>
<circle cx="1554.1" cy="222.3" r="17.5"/><circle cx="1548.1" cy="215.3" r="2.6" fill="#ff7dbe"/>
<circle cx="1556.9" cy="220.0" r="17.5"/><circle cx="1550.9" cy="213.0" r="2.6" fill="#ff7dbe"/>
<circle cx="1557.1" cy="218.3" r="17.5"/><circle cx="1551.1" cy="211.3" r="2.6" fill="#ff7dbe"/>
<circle cx="1558.0" cy="220.0" r="17.5"/><circle cx="1552.0" cy="213.0" r="2.6" fill="#ff7dbe"/>
<circle cx="1559.2" cy="226.0" r="17.5"/><circle cx="1553.2" cy="219.0" r="2.6" fill="#ff7dbe"/>
<circle cx="1560.3" cy="227.6" r="17.5"/><circle cx="1554.3" cy="220.6" r="2.6" fill="#ff7dbe"/>
<circle cx="1561.0" cy="228.3" r="17.5"/><circle cx="1555.0" cy="221.3" r="2.6" fill="#ff7dbe"/>
<circle cx="1561.2" cy="224.4" r="17.5"/><circle cx="1555.2" cy="217.4" r="2.6" fill="#ff7dbe"/>
<circle cx="1562.1" cy="219.2" r="17.5"/><circle cx="1556.1" cy="212.2" r="2.6" fill="#ff7dbe"/>
<circle cx="1563.9" cy="218.5" r="17.5"/><circle cx="1557.9" cy="211.5" r="2.6" fill="#ff7dbe"/>
<circle cx="1564.2" cy="226.8" r="17.5"/><circle cx="1558.2" cy="219.8" r="2.6" fill="#ff7dbe"/>
<circle cx="1565.4" cy="220.2" r="17.5"/><circle cx="1559.4" cy="213.2" r="2.6" fill="#ff7dbe"/>
<circle cx="1565.8" cy="227.6" r="17.5"/><circle cx="1559.8" cy="220.6" r="2.6" fill="#ff7dbe"/>
<circle cx="1566.7" cy="227.1" r="17.5"/><circle cx="1560.7" cy="220.1" r="2.6" fill="#ff7dbe"/>
<circle cx="1568.1" cy="230.6" r="17.5"/><circle cx="1562.1" cy="223.6" r="2.6" fill="#ff7dbe"/>
<circle cx="1568.7" cy="225.4" r="17.5"/><circle cx="1562.7" cy="218.4" r="2.6" fill="#ff7dbe"/>
<circle cx="1568.7" cy="228.2" r="17.5"/><circle cx="1562.7" cy="221.2" r="2.6" fill="#ff7dbe"/>
<circle cx="1571.5" cy="224.0" r="17.5"/><circle cx="1565.5" cy="217.0" r="2.6" fill="#ff7dbe"/>
<circle cx="1571.6" cy="223.0" r="17.5"/><circle cx="1565.6" cy="216.0" r="2.6" fill="#ff7dbe"/>
<circle cx="1573.1" cy="225.4" r="17.5"/><circle cx="1567.1" cy="218.4" r="2.6" fill="#ff7dbe"/>
<circle cx="1573.7" cy="222.0" r="17.5"/><circle cx="1567.7" cy="215.0" r="2.6" fill="#ff7dbe"/>
<circle cx="1574.5" cy="233.3" r="17.5"/><circle cx="1568.5" cy="226.3" r="2.6" fill="#ff7dbe"/>
<circle cx="1575.9" cy="224.0" r="17.5"/><circle cx="1569.9" cy="217.0" r="2.6" fill="#ff7dbe"/>
<circle cx="1577.1" cy="227.9" r="17.5"/><circle cx="1571.1" cy="220.9" r="2.6" fill="#ff7dbe"/>
<circle cx="1577.8" cy="226.8" r="17.5"/><circle cx="1571.8" cy="219.8" r="2.6" fill="#ff7dbe"/>
<circle cx="1578.5" cy="225.9" r="17.5"/><circle cx="1572.5" cy="218.9" r="2.6" fill="#ff7dbe"/>
<circle cx="1578.9" cy="223.3" r="17.5"/><circle cx="1572.9" cy="216.3" r="2.6" fill="#ff7dbe"/>
<circle cx="1579.5" cy="229.6" r="17.5"/><circle cx="1573.5" cy="222.6" r="2.6" fill="#ff7dbe"/>
<circle cx="1582.6" cy="228.7" r="17.5"/><circle cx="1576.6" cy="221.7" r="2.6" fill="#ff7dbe"/>
<circle cx="1582.7" cy="223.6" r="17.5"/><circle cx="1576.7" cy="216.6" r="2.6" fill="#ff7dbe"/>
<circle cx="1582.8" cy="231.5" r="17.5"/><circle cx="1576.8" cy="224.5" r="2.6" fill="#ff7dbe"/>
<circle cx="1584.6" cy="223.1" r="17.5"/><circle cx="1578.6" cy="216.1" r="2.6" fill="#ff7dbe"/>
<circle cx="1585.3" cy="227.6" r="17.5"/><circle cx="1579.3" cy="220.6" r="2.6" fill="#ff7dbe"/>
<circle cx="1586.6" cy="227.2" r="17.5"/><circle cx="1580.6" cy="220.2" r="2.6" fill="#ff7dbe"/>
<circle cx="1586.6" cy="228.3" r="17.5"/><circle cx="1580.6" cy="221.3" r="2.6" fill="#ff7dbe"/>
<circle cx="1587.1" cy="226.3" r="17.5"/><circle cx="1581.1" cy="219.3" r="2.6" fill="#ff7dbe"/>
<circle cx="1589.4" cy="231.7" r="17.5"/><circle cx="1583.4" cy="224.7" r="2.6" fill="#ff7dbe"/>
<circle cx="1590.0" cy="230.8" r="17.5"/><circle cx="1584.0" cy="223.8" r="2.6" fill="#ff7dbe"/>
<circle cx="1590.9" cy="225.3" r="17.5"/><circle cx="1584.9" cy="218.3" r="2.6" fill="#ff7dbe"/>
<circle cx="1591.3" cy="236.9" r="17.5"/><circle cx="1585.3" cy="229.9" r="2.6" fill="#ff7dbe"/>
<circle cx="1592.9" cy="223.9" r="17.5"/><circle cx="1586.9" cy="216.9" r="2.6" fill="#ff7dbe"/>
<circle cx="1593.1" cy="229.4" r="17.5"/><circle cx="1587.1" cy="222.4" r="2.6" fill="#ff7dbe"/>
<circle cx="1593.1" cy="233.9" r="17.5"/><circle cx="1587.1" cy="226.9" r="2.6" fill="#ff7dbe"/>
<circle cx="1594.4" cy="234.2" r="17.5"/><circle cx="1588.4" cy="227.2" r="2.6" fill="#ff7dbe"/>
<circle cx="1596.0" cy="226.9" r="17.5"/><circle cx="1590.0" cy="219.9" r="2.6" fill="#ff7dbe"/>
<circle cx="1596.0" cy="225.8" r="17.5"/><circle cx="1590.0" cy="218.8" r="2.6" fill="#ff7dbe"/>
<circle cx="1596.3" cy="227.8" r="17.5"/><circle cx="1590.3" cy="220.8" r="2.6" fill="#ff7dbe"/>
<circle cx="1599.9" cy="225.8" r="17.5"/><circle cx="1593.9" cy="218.8" r="2.6" fill="#ff7dbe"/>
<circle cx="1600.9" cy="229.7" r="17.5"/><circle cx="1594.9" cy="222.7" r="2.6" fill="#ff7dbe"/>
<circle cx="1601.4" cy="228.1" r="17.5"/><circle cx="1595.4" cy="221.1" r="2.6" fill="#ff7dbe"/>
<circle cx="1601.4" cy="234.2" r="17.5"/><circle cx="1595.4" cy="227.2" r="2.6" fill="#ff7dbe"/>
<circle cx="1603.3" cy="226.9" r="17.5"/><circle cx="1597.3" cy="219.9" r="2.6" fill="#ff7dbe"/>
<circle cx="1605.1" cy="229.7" r="17.5"/><circle cx="1599.1" cy="222.7" r="2.6" fill="#ff7dbe"/>
<circle cx="1605.3" cy="230.5" r="17.5"/><circle cx="1599.3" cy="223.5" r="2.6" fill="#ff7dbe"/>
<circle cx="1606.5" cy="232.5" r="17.5"/><circle cx="1600.5" cy="225.5" r="2.6" fill="#ff7dbe"/>
<circle cx="1606.7" cy="232.1" r="17.5"/><circle cx="1600.7" cy="225.1" r="2.6" fill="#ff7dbe"/>
<circle cx="1607.4" cy="230.7" r="17.5"/><circle cx="1601.4" cy="223.7" r="2.6" fill="#ff7dbe"/>
<circle cx="1608.8" cy="229.2" r="17.5"/><circle cx="1602.8" cy="222.2" r="2.6" fill="#ff7dbe"/>
<circle cx="1609.9" cy="227.0" r="17.5"/><circle cx="1603.9" cy="220.0" r="2.6" fill="#ff7dbe"/>
<circle cx="1610.1" cy="234.7" r="17.5"/><circle cx="1604.1" cy="227.7" r="2.6" fill="#ff7dbe"/>
<circle cx="1610.2" cy="238.0" r="17.5"/><circle cx="1604.2" cy="231.0" r="2.6" fill="#ff7dbe"/>
<circle cx="1613.5" cy="229.7" r="17.5"/><circle cx="1607.5" cy="222.7" r="2.6" fill="#ff7dbe"/>
<circle cx="1613.6" cy="229.3" r="17.5"/><circle cx="1607.6" cy="222.3" r="2.6" fill="#ff7dbe"/>
<circle cx="1614.8" cy="233.1" r="17.5"/><circle cx="1608.8" cy="226.1" r="2.6" fill="#ff7dbe"/>
<circle cx="1615.8" cy="233.5" r="17.5"/><circle cx="1609.8" cy="226.5" r="2.6" fill="#ff7dbe"/>
<circle cx="1617.6" cy="230.6" r="17.5"/><circle cx="1611.6" cy="223.6" r="2.6" fill="#ff7dbe"/>
<circle cx="1617.7" cy="230.6" r="17.5"/><circle cx="1611.7" cy="223.6" r="2.6" fill="#ff7dbe"/>
<circle cx="1618.1" cy="232.0" r="17.5"/><circle cx="1612.1" cy="225.0" r="2.6" fill="#ff7dbe"/>
<circle cx="1618.9" cy="232.5" r="17.5"/><circle cx="1612.9" cy="225.5" r="2.6" fill="#ff7dbe"/>
<circle cx="1619.3" cy="231.0" r="17.5"/><circle cx="1613.3" cy="224.0" r="2.6" fill="#ff7dbe"/>
<circle cx="1620.4" cy="227.8" r="17.5"/><circle cx="1614.4" cy="220.8" r="2.6" fill="#ff7dbe"/>
<circle cx="1621.3" cy="230.1" r="17.5"/><circle cx="1615.3" cy="223.1" r="2.6" fill="#ff7dbe"/>
<circle cx="1622.6" cy="226.8" r="17.5"/><circle cx="1616.6" cy="219.8" r="2.6" fill="#ff7dbe"/>
<circle cx="1623.5" cy="228.2" r="17.5"/><circle cx="1617.5" cy="221.2" r="2.6" fill="#ff7dbe"/>
<circle cx="1624.0" cy="232.6" r="17.5"/><circle cx="1618.0" cy="225.6" r="2.6" fill="#ff7dbe"/>
<circle cx="1626.1" cy="230.7" r="17.5"/><circle cx="1620.1" cy="223.7" r="2.6" fill="#ff7dbe"/>
<circle cx="1626.4" cy="233.0" r="17.5"/><circle cx="1620.4" cy="226.0" r="2.6" fill="#ff7dbe"/>
<circle cx="1628.5" cy="227.0" r="17.5"/><circle cx="1622.5" cy="220.0" r="2.6" fill="#ff7dbe"/>
<circle cx="1628.8" cy="232.6" r="17.5"/><circle cx="1622.8" cy="225.6" r="2.6" fill="#ff7dbe"/>
<circle cx="1629.3" cy="227.5" r="17.5"/><circle cx="1623.3" cy="220.5" r="2.6" fill="#ff7dbe"/>
<circle cx="1630.1" cy="237.9" r="17.5"/><circle cx="1624.1" cy="230.9" r="2.6" fill="#ff7dbe"/>
<circle cx="1631.6" cy="232.5" r="17.5"/><circle cx="1625.6" cy="225.5" r="2.6" fill="#ff7dbe"/>
<circle cx="1632.5" cy="236.4" r="17.5"/><circle cx="1626.5" cy="229.4" r="2.6" fill="#ff7dbe"/>
<circle cx="1632.9" cy="232.8" r="17.5"/><circle cx="1626.9" cy="225.8" r="2.6" fill="#ff7dbe"/>
<circle cx="1634.1" cy="239.1" r="17.5"/><circle cx="1628.1" cy="232.1" r="2.6" fill="#ff7dbe"/>
<circle cx="1635.2" cy="237.0" r="17.5"/><circle cx="1629.2" cy="230.0" r="2.6" fill="#ff7dbe"/>
<circle cx="1635.6" cy="235.6" r="17.5"/><circle cx="1629.6" cy="228.6" r="2.6" fill="#ff7dbe"/>
<circle cx="1636.6" cy="230.1" r="17.5"/><circle cx="1630.6" cy="223.1" r="2.6" fill="#ff7dbe"/>
<circle cx="1637.8" cy="240.9" r="17.5"/><circle cx="1631.8" cy="233.9" r="2.6" fill="#ff7dbe"/>
<circle cx="1639.5" cy="224.2" r="17.5"/><circle cx="1633.5" cy="217.2" r="2.6" fill="#ff7dbe"/>
<circle cx="1639.5" cy="242.5" r="17.5"/><circle cx="1633.5" cy="235.5" r="2.6" fill="#ff7dbe"/>
<circle cx="1639.7" cy="235.1" r="17.5"/><circle cx="1633.7" cy="228.1" r="2.6" fill="#ff7dbe"/>
<circle cx="1640.6" cy="232.3" r="17.5"/><circle cx="1634.6" cy="225.3" r="2.6" fill="#ff7dbe"/>
<circle cx="1641.0" cy="233.2" r="17.5"/><circle cx="1635.0" cy="226.2" r="2.6" fill="#ff7dbe"/>
<circle cx="1643.5" cy="234.9" r="17.5"/><circle cx="1637.5" cy="227.9" r="2.6" fill="#ff7dbe"/>
<circle cx="1644.6" cy="231.0" r="17.5"/><circle cx="1638.6" cy="224.0" r="2.6" fill="#ff7dbe"/>
<circle cx="1644.6" cy="233.3" r="17.5"/><circle cx="1638.6" cy="226.3" r="2.6" fill="#ff7dbe"/>
<circle cx="1645.0" cy="233.5" r="17.5"/><circle cx="1639.0" cy="226.5" r="2.6" fill="#ff7dbe"/>
<circle cx="1648.1" cy="241.0" r="17.5"/><circle cx="1642.1" cy="234.0" r="2.6" fill="#ff7dbe"/>
<circle cx="1648.8" cy="232.5" r="17.5"/><circle cx="1642.8" cy="225.5" r="2.6" fill="#ff7dbe"/>
<circle cx="1649.9" cy="235.4" r="17.5"/><circle cx="1643.9" cy="228.4" r="2.6" fill="#ff7dbe"/>
<circle cx="1650.3" cy="238.5" r="17.5"/><circle cx="1644.3" cy="231.5" r="2.6" fill="#ff7dbe"/>
<circle cx="1650.6" cy="234.2" r="17.5"/><circle cx="1644.6" cy="227.2" r="2.6" fill="#ff7dbe"/>
<circle cx="1652.0" cy="240.5" r="17.5"/><circle cx="1646.0" cy="233.5" r="2.6" fill="#ff7dbe"/>
<circle cx="1652.7" cy="234.3" r="17.5"/><circle cx="1646.7" cy="227.3" r="2.6" fill="#ff7dbe"/>
<circle cx="1654.1" cy="235.0" r="17.5"/><circle cx="1648.1" cy="228.0" r="2.6" fill="#ff7dbe"/>
<circle cx="1654.5" cy="232.9" r="17.5"/><circle cx="1648.5" cy="225.9" r="2.6" fill="#ff7dbe"/>
<circle cx="1655.9" cy="236.9" r="17.5"/><circle cx="1649.9" cy="229.9" r="2.6" fill="#ff7dbe"/>
<circle cx="1656.2" cy="237.7" r="17.5"/><circle cx="1650.2" cy="230.7" r="2.6" fill="#ff7dbe"/>
<circle cx="1658.1" cy="235.9" r="17.5"/><circle cx="1652.1" cy="228.9" r="2.6" fill="#ff7dbe"/>
<circle cx="1658.2" cy="235.5" r="17.5"/><circle cx="1652.2" cy="228.5" r="2.6" fill="#ff7dbe"/>
<circle cx="1658.8" cy="235.9" r="17.5"/><circle cx="1652.8" cy="228.9" r="2.6" fill="#ff7dbe"/>
<circle cx="1660.3" cy="234.9" r="17.5"/><circle cx="1654.3" cy="227.9" r="2.6" fill="#ff7dbe"/>
<circle cx="1661.2" cy="231.8" r="17.5"/><circle cx="1655.2" cy="224.8" r="2.6" fill="#ff7dbe"/>
<circle cx="1661.8" cy="234.6" r="17.5"/><circle cx="1655.8" cy="227.6" r="2.6" fill="#ff7dbe"/>
<circle cx="1662.7" cy="234.0" r="17.5"/><circle cx="1656.7" cy="227.0" r="2.6" fill="#ff7dbe"/>
<circle cx="1664.7" cy="243.3" r="17.5"/><circle cx="1658.7" cy="236.3" r="2.6" fill="#ff7dbe"/>
<circle cx="1665.7" cy="236.5" r="17.5"/><circle cx="1659.7" cy="229.5" r="2.6" fill="#ff7dbe"/>
<circle cx="1666.1" cy="237.8" r="17.5"/><circle cx="1660.1" cy="230.8" r="2.6" fill="#ff7dbe"/>
<circle cx="1667.8" cy="235.8" r="17.5"/><circle cx="1661.8" cy="228.8" r="2.6" fill="#ff7dbe"/>
<circle cx="1668.2" cy="235.8" r="17.5"/><circle cx="1662.2" cy="228.8" r="2.6" fill="#ff7dbe"/>
<circle cx="1668.3" cy="240.7" r="17.5"/><circle cx="1662.3" cy="233.7" r="2.6" fill="#ff7dbe"/>
<circle cx="1670.2" cy="237.9" r="17.5"/><circle cx="1664.2" cy="230.9" r="2.6" fill="#ff7dbe"/>
<circle cx="1670.7" cy="236.3" r="17.5"/><circle cx="1664.7" cy="229.3" r="2.6" fill="#ff7dbe"/>
<circle cx="1671.7" cy="244.1" r="17.5"/><circle cx="1665.7" cy="237.1" r="2.6" fill="#ff7dbe"/>
<circle cx="1673.6" cy="238.7" r="17.5"/><circle cx="1667.6" cy="231.7" r="2.6" fill="#ff7dbe"/>
<circle cx="1673.7" cy="233.1" r="17.5"/><circle cx="1667.7" cy="226.1" r="2.6" fill="#ff7dbe"/>
<circle cx="1674.6" cy="234.1" r="17.5"/><circle cx="1668.6" cy="227.1" r="2.6" fill="#ff7dbe"/>
<circle cx="1675.4" cy="239.1" r="17.5"/><circle cx="1669.4" cy="232.1" r="2.6" fill="#ff7dbe"/>
<circle cx="1675.4" cy="234.1" r="17.5"/><circle cx="1669.4" cy="227.1" r="2.6" fill="#ff7dbe"/>
<circle cx="1675.9" cy="239.8" r="17.5"/><circle cx="1669.9" cy="232.8" r="2.6" fill="#ff7dbe"/>
<circle cx="1678.4" cy="240.3" r="17.5"/><circle cx="1672.4" cy="233.3" r="2.6" fill="#ff7dbe"/>
<circle cx="1679.1" cy="237.7" r="17.5"/><circle cx="1673.1" cy="230.7" r="2.6" fill="#ff7dbe"/>
<circle cx="1680.3" cy="242.8" r="17.5"/><circle cx="1674.3" cy="235.8" r="2.6" fill="#ff7dbe"/>
<circle cx="1681.7" cy="243.0" r="17.5"/><circle cx="1675.7" cy="236.0" r="2.6" fill="#ff7dbe"/>
<circle cx="1681.8" cy="239.2" r="17.5"/><circle cx="1675.8" cy="232.2" r="2.6" fill="#ff7dbe"/>
<circle cx="1683.4" cy="242.6" r="17.5"/><circle cx="1677.4" cy="235.6" r="2.6" fill="#ff7dbe"/>
<circle cx="1683.7" cy="237.1" r="17.5"/><circle cx="1677.7" cy="230.1" r="2.6" fill="#ff7dbe"/>
<circle cx="1685.0" cy="238.0" r="17.5"/><circle cx="1679.0" cy="231.0" r="2.6" fill="#ff7dbe"/>
<circle cx="1685.1" cy="242.2" r="17.5"/><circle cx="1679.1" cy="235.2" r="2.6" fill="#ff7dbe"/>
<circle cx="1686.7" cy="242.8" r="17.5"/><circle cx="1680.7" cy="235.8" r="2.6" fill="#ff7dbe"/>
<circle cx="1688.3" cy="237.3" r="17.5"/><circle cx="1682.3" cy="230.3" r="2.6" fill="#ff7dbe"/>
<circle cx="1688.8" cy="243.4" r="17.5"/><circle cx="1682.8" cy="236.4" r="2.6" fill="#ff7dbe"/>
<circle cx="1690.3" cy="241.0" r="17.5"/><circle cx="1684.3" cy="234.0" r="2.6" fill="#ff7dbe"/>
<circle cx="1690.4" cy="243.3" r="17.5"/><circle cx="1684.4" cy="236.3" r="2.6" fill="#ff7dbe"/>
<circle cx="1690.6" cy="236.4" r="17.5"/><circle cx="1684.6" cy="229.4" r="2.6" fill="#ff7dbe"/>
<circle cx="1691.8" cy="237.9" r="17.5"/><circle cx="1685.8" cy="230.9" r="2.6" fill="#ff7dbe"/>
<circle cx="1692.7" cy="238.0" r="17.5"/><circle cx="1686.7" cy="231.0" r="2.6" fill="#ff7dbe"/>
<circle cx="1693.7" cy="243.5" r="17.5"/><circle cx="1687.7" cy="236.5" r="2.6" fill="#ff7dbe"/>
<circle cx="1695.9" cy="242.2" r="17.5"/><circle cx="1689.9" cy="235.2" r="2.6" fill="#ff7dbe"/>
<circle cx="1696.2" cy="236.2" r="17.5"/><circle cx="1690.2" cy="229.2" r="2.6" fill="#ff7dbe"/>
<circle cx="1696.3" cy="240.0" r="17.5"/><circle cx="1690.3" cy="233.0" r="2.6" fill="#ff7dbe"/>
<circle cx="1698.1" cy="245.3" r="17.5"/><circle cx="1692.1" cy="238.3" r="2.6" fill="#ff7dbe"/>
<circle cx="1699.8" cy="240.2" r="17.5"/><circle cx="1693.8" cy="233.2" r="2.6" fill="#ff7dbe"/>
<circle cx="1700.0" cy="234.8" r="17.5"/><circle cx="1694.0" cy="227.8" r="2.6" fill="#ff7dbe"/>
<circle cx="1700.7" cy="238.9" r="17.5"/><circle cx="1694.7" cy="231.9" r="2.6" fill="#ff7dbe"/>
<circle cx="1702.1" cy="243.2" r="17.5"/><circle cx="1696.1" cy="236.2" r="2.6" fill="#ff7dbe"/>
<circle cx="1703.1" cy="240.2" r="17.5"/><circle cx="1697.1" cy="233.2" r="2.6" fill="#ff7dbe"/>
<circle cx="1703.4" cy="243.8" r="17.5"/><circle cx="1697.4" cy="236.8" r="2.6" fill="#ff7dbe"/>
<circle cx="1704.6" cy="235.6" r="17.5"/><circle cx="1698.6" cy="228.6" r="2.6" fill="#ff7dbe"/>
<circle cx="1706.7" cy="238.2" r="17.5"/><circle cx="1700.7" cy="231.2" r="2.6" fill="#ff7dbe"/>
<circle cx="1706.9" cy="240.3" r="17.5"/><circle cx="1700.9" cy="233.3" r="2.6" fill="#ff7dbe"/>
<circle cx="1708.3" cy="241.1" r="17.5"/><circle cx="1702.3" cy="234.1" r="2.6" fill="#ff7dbe"/>
<circle cx="1709.0" cy="238.7" r="17.5"/><circle cx="1703.0" cy="231.7" r="2.6" fill="#ff7dbe"/>
<circle cx="1709.4" cy="241.0" r="17.5"/><circle cx="1703.4" cy="234.0" r="2.6" fill="#ff7dbe"/>
<circle cx="1710.8" cy="237.7" r="17.5"/><circle cx="1704.8" cy="230.7" r="2.6" fill="#ff7dbe"/>
<circle cx="1711.5" cy="237.6" r="17.5"/><circle cx="1705.5" cy="230.6" r="2.6" fill="#ff7dbe"/>
<circle cx="1712.0" cy="239.6" r="17.5"/><circle cx="1706.0" cy="232.6" r="2.6" fill="#ff7dbe"/>
<circle cx="1713.0" cy="246.2" r="17.5"/><circle cx="1707.0" cy="239.2" r="2.6" fill="#ff7dbe"/>
<circle cx="1714.3" cy="246.6" r="17.5"/><circle cx="1708.3" cy="239.6" r="2.6" fill="#ff7dbe"/>
<circle cx="1714.7" cy="240.5" r="17.5"/><circle cx="1708.7" cy="233.5" r="2.6" fill="#ff7dbe"/>
<circle cx="1715.7" cy="240.5" r="17.5"/><circle cx="1709.7" cy="233.5" r="2.6" fill="#ff7dbe"/>
<circle cx="1716.6" cy="244.8" r="17.5"/><circle cx="1710.6" cy="237.8" r="2.6" fill="#ff7dbe"/>
<circle cx="1718.0" cy="239.0" r="17.5"/><circle cx="1712.0" cy="232.0" r="2.6" fill="#ff7dbe"/>
<circle cx="1718.4" cy="244.4" r="17.5"/><circle cx="1712.4" cy="237.4" r="2.6" fill="#ff7dbe"/>
<circle cx="1718.9" cy="240.0" r="17.5"/><circle cx="1712.9" cy="233.0" r="2.6" fill="#ff7dbe"/>
<circle cx="1718.9" cy="237.3" r="17.5"/><circle cx="1712.9" cy="230.3" r="2.6" fill="#ff7dbe"/>
<circle cx="1722.4" cy="235.5" r="17.5"/><circle cx="1716.4" cy="228.5" r="2.6" fill="#ff7dbe"/>
<circle cx="1723.2" cy="237.0" r="17.5"/><circle cx="1717.2" cy="230.0" r="2.6" fill="#ff7dbe"/>
<circle cx="1723.6" cy="241.3" r="17.5"/><circle cx="1717.6" cy="234.3" r="2.6" fill="#ff7dbe"/>
<circle cx="1724.9" cy="238.5" r="17.5"/><circle cx="1718.9" cy="231.5" r="2.6" fill="#ff7dbe"/>
<circle cx="1725.0" cy="236.3" r="17.5"/><circle cx="1719.0" cy="229.3" r="2.6" fill="#ff7dbe"/>
<circle cx="1726.1" cy="248.0" r="17.5"/><circle cx="1720.1" cy="241.0" r="2.6" fill="#ff7dbe"/>
<circle cx="1727.1" cy="240.5" r="17.5"/><circle cx="1721.1" cy="233.5" r="2.6" fill="#ff7dbe"/>
<circle cx="1727.8" cy="243.2" r="17.5"/><circle cx="1721.8" cy="236.2" r="2.6" fill="#ff7dbe"/>
<circle cx="1731.2" cy="244.4" r="17.5"/><circle cx="1725.2" cy="237.4" r="2.6" fill="#ff7dbe"/>
<circle cx="1731.3" cy="237.2" r="17.5"/><circle cx="1725.3" cy="230.2" r="2.6" fill="#ff7dbe"/>
<circle cx="1731.9" cy="240.8" r="17.5"/><circle cx="1725.9" cy="233.8" r="2.6" fill="#ff7dbe"/>
<circle cx="1733.0" cy="244.1" r="17.5"/><circle cx="1727.0" cy="237.1" r="2.6" fill="#ff7dbe"/>
<circle cx="1733.4" cy="235.3" r="17.5"/><circle cx="1727.4" cy="228.3" r="2.6" fill="#ff7dbe"/>
<circle cx="1734.0" cy="239.1" r="17.5"/><circle cx="1728.0" cy="232.1" r="2.6" fill="#ff7dbe"/>
<circle cx="1735.1" cy="240.9" r="17.5"/><circle cx="1729.1" cy="233.9" r="2.6" fill="#ff7dbe"/>
<circle cx="1736.1" cy="240.6" r="17.5"/><circle cx="1730.1" cy="233.6" r="2.6" fill="#ff7dbe"/>
<circle cx="1736.6" cy="235.6" r="17.5"/><circle cx="1730.6" cy="228.6" r="2.6" fill="#ff7dbe"/>
<circle cx="1737.9" cy="239.5" r="17.5"/><circle cx="1731.9" cy="232.5" r="2.6" fill="#ff7dbe"/>
<circle cx="1738.5" cy="241.0" r="17.5"/><circle cx="1732.5" cy="234.0" r="2.6" fill="#ff7dbe"/>
<circle cx="1739.3" cy="236.1" r="17.5"/><circle cx="1733.3" cy="229.1" r="2.6" fill="#ff7dbe"/>
<circle cx="1740.3" cy="240.5" r="17.5"/><circle cx="1734.3" cy="233.5" r="2.6" fill="#ff7dbe"/>
<circle cx="1740.6" cy="235.0" r="17.5"/><circle cx="1734.6" cy="228.0" r="2.6" fill="#ff7dbe"/>
<circle cx="1742.6" cy="233.4" r="17.5"/><circle cx="1736.6" cy="226.4" r="2.6" fill="#ff7dbe"/>
<circle cx="1743.6" cy="240.6" r="17.5"/><circle cx="1737.6" cy="233.6" r="2.6" fill="#ff7dbe"/>
<circle cx="1744.2" cy="238.5" r="17.5"/><circle cx="1738.2" cy="231.5" r="2.6" fill="#ff7dbe"/>
<circle cx="1744.8" cy="243.6" r="17.5"/><circle cx="1738.8" cy="236.6" r="2.6" fill="#ff7dbe"/>
<circle cx="1746.4" cy="240.9" r="17.5"/><circle cx="1740.4" cy="233.9" r="2.6" fill="#ff7dbe"/>
<circle cx="1746.6" cy="241.6" r="17.5"/><circle cx="1740.6" cy="234.6" r="2.6" fill="#ff7dbe"/>
<circle cx="1748.6" cy="237.2" r="17.5"/><circle cx="1742.6" cy="230.2" r="2.6" fill="#ff7dbe"/>
<circle cx="1748.9" cy="240.9" r="17.5"/><circle cx="1742.9" cy="233.9" r="2.6" fill="#ff7dbe"/>
<circle cx="1749.7" cy="243.8" r="17.5"/><circle cx="1743.7" cy="236.8" r="2.6" fill="#ff7dbe"/>
<circle cx="1749.9" cy="238.0" r="17.5"/><circle cx="1743.9" cy="231.0" r="2.6" fill="#ff7dbe"/>
<circle cx="1751.2" cy="234.4" r="17.5"/><circle cx="1745.2" cy="227.4" r="2.6" fill="#ff7dbe"/>
<circle cx="1752.1" cy="246.9" r="17.5"/><circle cx="1746.1" cy="239.9" r="2.6" fill="#ff7dbe"/>
<circle cx="1753.5" cy="236.6" r="17.5"/><circle cx="1747.5" cy="229.6" r="2.6" fill="#ff7dbe"/>
<circle cx="1753.7" cy="243.2" r="17.5"/><circle cx="1747.7" cy="236.2" r="2.6" fill="#ff7dbe"/>
<circle cx="1755.8" cy="241.6" r="17.5"/><circle cx="1749.8" cy="234.6" r="2.6" fill="#ff7dbe"/>
<circle cx="1756.3" cy="242.4" r="17.5"/><circle cx="1750.3" cy="235.4" r="2.6" fill="#ff7dbe"/>
<circle cx="1758.2" cy="236.3" r="17.5"/><circle cx="1752.2" cy="229.3" r="2.6" fill="#ff7dbe"/>
<circle cx="1758.6" cy="242.4" r="17.5"/><circle cx="1752.6" cy="235.4" r="2.6" fill="#ff7dbe"/>
<circle cx="1759.6" cy="245.9" r="17.5"/><circle cx="1753.6" cy="238.9" r="2.6" fill="#ff7dbe"/>
<circle cx="1760.7" cy="236.7" r="17.5"/><circle cx="1754.7" cy="229.7" r="2.6" fill="#ff7dbe"/>
<circle cx="1761.3" cy="245.0" r="17.5"/><circle cx="1755.3" cy="238.0" r="2.6" fill="#ff7dbe"/>
<circle cx="1761.6" cy="242.4" r="17.5"/><circle cx="1755.6" cy="235.4" r="2.6" fill="#ff7dbe"/>
<circle cx="1762.7" cy="235.1" r="17.5"/><circle cx="1756.7" cy="228.1" r="2.6" fill="#ff7dbe"/>
<circle cx="1764.0" cy="246.0" r="17.5"/><circle cx="1758.0" cy="239.0" r="2.6" fill="#ff7dbe"/>
<circle cx="1765.2" cy="243.0" r="17.5"/><circle cx="1759.2" cy="236.0" r="2.6" fill="#ff7dbe"/>
<circle cx="1765.6" cy="240.6" r="17.5"/><circle cx="1759.6" cy="233.6" r="2.6" fill="#ff7dbe"/>
<circle cx="1766.0" cy="241.5" r="17.5"/><circle cx="1760.0" cy="234.5" r="2.6" fill="#ff7dbe"/>
<circle cx="1766.5" cy="244.6" r="17.5"/><circle cx="1760.5" cy="237.6" r="2.6" fill="#ff7dbe"/>
<circle cx="1767.7" cy="238.4" r="17.5"/><circle cx="1761.7" cy="231.4" r="2.6" fill="#ff7dbe"/>
<circle cx="1768.4" cy="237.7" r="17.5"/><circle cx="1762.4" cy="230.7" r="2.6" fill="#ff7dbe"/>
<circle cx="1770.6" cy="240.7" r="17.5"/><circle cx="1764.6" cy="233.7" r="2.6" fill="#ff7dbe"/>
<circle cx="1772.7" cy="241.7" r="17.5"/><circle cx="1766.7" cy="234.7" r="2.6" fill="#ff7dbe"/>
<circle cx="1772.9" cy="239.9" r="17.5"/><circle cx="1766.9" cy="232.9" r="2.6" fill="#ff7dbe"/>
<circle cx="1773.6" cy="245.3" r="17.5"/><circle cx="1767.6" cy="238.3" r="2.6" fill="#ff7dbe"/>
<circle cx="1774.4" cy="241.0" r="17.5"/><circle cx="1768.4" cy="234.0" r="2.6" fill="#ff7dbe"/>
<circle cx="1775.2" cy="240.5" r="17.5"/><circle cx="1769.2" cy="233.5" r="2.6" fill="#ff7dbe"/>
<circle cx="1776.2" cy="243.7" r="17.5"/><circle cx="1770.2" cy="236.7" r="2.6" fill="#ff7dbe"/>
<circle cx="1777.2" cy="240.7" r="17.5"/><circle cx="1771.2" cy="233.7" r="2.6" fill="#ff7dbe"/>
<circle cx="1778.1" cy="242.9" r="17.5"/><circle cx="1772.1" cy="235.9" r="2.6" fill="#ff7dbe"/>
<circle cx="1778.7" cy="243.5" r="17.5"/><circle cx="1772.7" cy="236.5" r="2.6" fill="#ff7dbe"/>
<circle cx="1779.5" cy="242.7" r="17.5"/><circle cx="1773.5" cy="235.7" r="2.6" fill="#ff7dbe"/>
<circle cx="1781.8" cy="236.5" r="17.5"/><circle cx="1775.8" cy="229.5" r="2.6" fill="#ff7dbe"/>
<circle cx="1782.4" cy="241.1" r="17.5"/><circle cx="1776.4" cy="234.1" r="2.6" fill="#ff7dbe"/>
<circle cx="1783.4" cy="240.4" r="17.5"/><circle cx="1777.4" cy="233.4" r="2.6" fill="#ff7dbe"/>
<circle cx="1784.5" cy="238.2" r="17.5"/><circle cx="1778.5" cy="231.2" r="2.6" fill="#ff7dbe"/>
<circle cx="1785.1" cy="246.2" r="17.5"/><circle cx="1779.1" cy="239.2" r="2.6" fill="#ff7dbe"/>
<circle cx="1785.5" cy="240.2" r="17.5"/><circle cx="1779.5" cy="233.2" r="2.6" fill="#ff7dbe"/>
<circle cx="1786.0" cy="239.2" r="17.5"/><circle cx="1780.0" cy="232.2" r="2.6" fill="#ff7dbe"/>
<circle cx="1787.6" cy="236.9" r="17.5"/><circle cx="1781.6" cy="229.9" r="2.6" fill="#ff7dbe"/>
<circle cx="1788.0" cy="242.2" r="17.5"/><circle cx="1782.0" cy="235.2" r="2.6" fill="#ff7dbe"/>
<circle cx="1788.6" cy="236.9" r="17.5"/><circle cx="1782.6" cy="229.9" r="2.6" fill="#ff7dbe"/>
<circle cx="1790.1" cy="241.1" r="17.5"/><circle cx="1784.1" cy="234.1" r="2.6" fill="#ff7dbe"/>
<circle cx="1792.8" cy="240.8" r="17.5"/><circle cx="1786.8" cy="233.8" r="2.6" fill="#ff7dbe"/>
<circle cx="1793.4" cy="234.8" r="17.5"/><circle cx="1787.4" cy="227.8" r="2.6" fill="#ff7dbe"/>
<circle cx="1794.4" cy="242.7" r="17.5"/><circle cx="1788.4" cy="235.7" r="2.6" fill="#ff7dbe"/>
<circle cx="1794.5" cy="242.8" r="17.5"/><circle cx="1788.5" cy="235.8" r="2.6" fill="#ff7dbe"/>
<circle cx="1795.5" cy="246.3" r="17.5"/><circle cx="1789.5" cy="239.3" r="2.6" fill="#ff7dbe"/>
<circle cx="1795.6" cy="245.3" r="17.5"/><circle cx="1789.6" cy="238.3" r="2.6" fill="#ff7dbe"/>
<circle cx="1796.6" cy="234.4" r="17.5"/><circle cx="1790.6" cy="227.4" r="2.6" fill="#ff7dbe"/>
<circle cx="1797.8" cy="244.3" r="17.5"/><circle cx="1791.8" cy="237.3" r="2.6" fill="#ff7dbe"/>
<circle cx="1798.5" cy="237.9" r="17.5"/><circle cx="1792.5" cy="230.9" r="2.6" fill="#ff7dbe"/>
<circle cx="1799.5" cy="241.0" r="17.5"/><circle cx="1793.5" cy="234.0" r="2.6" fill="#ff7dbe"/>
<circle cx="1800.8" cy="237.9" r="17.5"/><circle cx="1794.8" cy="230.9" r="2.6" fill="#ff7dbe"/>
<circle cx="1801.9" cy="236.2" r="17.5"/><circle cx="1795.9" cy="229.2" r="2.6" fill="#ff7dbe"/>
<circle cx="1802.0" cy="238.7" r="17.5"/><circle cx="1796.0" cy="231.7" r="2.6" fill="#ff7dbe"/>
<circle cx="1802.1" cy="241.9" r="17.5"/><circle cx="1796.1" cy="234.9" r="2.6" fill="#ff7dbe"/>
<circle cx="1804.5" cy="237.4" r="17.5"/><circle cx="1798.5" cy="230.4" r="2.6" fill="#ff7dbe"/>
<circle cx="1804.9" cy="239.1" r="17.5"/><circle cx="1798.9" cy="232.1" r="2.6" fill="#ff7dbe"/>
<circle cx="1806.4" cy="241.4" r="17.5"/><circle cx="1800.4" cy="234.4" r="2.6" fill="#ff7dbe"/>
<circle cx="1807.9" cy="240.8" r="17.5"/><circle cx="1801.9" cy="233.8" r="2.6" fill="#ff7dbe"/>
<circle cx="1809.1" cy="236.2" r="17.5"/><circle cx="1803.1" cy="229.2" r="2.6" fill="#ff7dbe"/>
<circle cx="1809.3" cy="237.0" r="17.5"/><circle cx="1803.3" cy="230.0" r="2.6" fill="#ff7dbe"/>
<circle cx="1809.7" cy="240.5" r="17.5"/><circle cx="1803.7" cy="233.5" r="2.6" fill="#ff7dbe"/>
<circle cx="1811.0" cy="237.2" r="17.5"/><circle cx="1805.0" cy="230.2" r="2.6" fill="#ff7dbe"/>
<circle cx="1811.4" cy="239.4" r="17.5"/><circle cx="1805.4" cy="232.4" r="2.6" fill="#ff7dbe"/>
<circle cx="1813.9" cy="243.3" r="17.5"/><circle cx="1807.9" cy="236.3" r="2.6" fill="#ff7dbe"/>
<circle cx="1814.1" cy="238.3" r="17.5"/><circle cx="1808.1" cy="231.3" r="2.6" fill="#ff7dbe"/>
<circle cx="1814.1" cy="241.7" r="17.5"/><circle cx="1808.1" cy="234.7" r="2.6" fill="#ff7dbe"/>
<circle cx="1815.8" cy="240.6" r="17.5"/><circle cx="1809.8" cy="233.6" r="2.6" fill="#ff7dbe"/>
<circle cx="1816.5" cy="237.7" r="17.5"/><circle cx="1810.5" cy="230.7" r="2.6" fill="#ff7dbe"/>
<circle cx="1818.7" cy="234.5" r="17.5"/><circle cx="1812.7" cy="227.5" r="2.6" fill="#ff7dbe"/>
<circle cx="1818.9" cy="230.3" r="17.5"/><circle cx="1812.9" cy="223.3" r="2.6" fill="#ff7dbe"/>
<circle cx="1819.3" cy="233.8" r="17.5"/><circle cx="1813.3" cy="226.8" r="2.6" fill="#ff7dbe"/>
<circle cx="1821.4" cy="236.0" r="17.5"/><circle cx="1815.4" cy="229.0" r="2.6" fill="#ff7dbe"/>
<circle cx="1821.6" cy="236.7" r="17.5"/><circle cx="1815.6" cy="229.7" r="2.6" fill="#ff7dbe"/>
<circle cx="1822.5" cy="236.2" r="17.5"/><circle cx="1816.5" cy="229.2" r="2.6" fill="#ff7dbe"/>
<circle cx="1823.5" cy="243.9" r="17.5"/><circle cx="1817.5" cy="236.9" r="2.6" fill="#ff7dbe"/>
<circle cx="1824.3" cy="238.2" r="17.5"/><circle cx="1818.3" cy="231.2" r="2.6" fill="#ff7dbe"/>
<circle cx="1824.5" cy="243.2" r="17.5"/><circle cx="1818.5" cy="236.2" r="2.6" fill="#ff7dbe"/>
<circle cx="1825.8" cy="232.8" r="17.5"/><circle cx="1819.8" cy="225.8" r="2.6" fill="#ff7dbe"/>
<circle cx="1828.2" cy="235.3" r="17.5"/><circle cx="1822.2" cy="228.3" r="2.6" fill="#ff7dbe"/>
<circle cx="1828.5" cy="234.3" r="17.5"/><circle cx="1822.5" cy="227.3" r="2.6" fill="#ff7dbe"/>
<circle cx="1830.0" cy="237.1" r="17.5"/><circle cx="1824.0" cy="230.1" r="2.6" fill="#ff7dbe"/>
<circle cx="1830.7" cy="236.3" r="17.5"/><circle cx="1824.7" cy="229.3" r="2.6" fill="#ff7dbe"/>
<circle cx="1830.7" cy="238.1" r="17.5"/><circle cx="1824.7" cy="231.1" r="2.6" fill="#ff7dbe"/>
<circle cx="1830.8" cy="238.2" r="17.5"/><circle cx="1824.8" cy="231.2" r="2.6" fill="#ff7dbe"/>
<circle cx="1832.6" cy="238.9" r="17.5"/><circle cx="1826.6" cy="231.9" r="2.6" fill="#ff7dbe"/>
<circle cx="1833.3" cy="237.5" r="17.5"/><circle cx="1827.3" cy="230.5" r="2.6" fill="#ff7dbe"/>
<circle cx="1835.0" cy="240.4" r="17.5"/><circle cx="1829.0" cy="233.4" r="2.6" fill="#ff7dbe"/>
<circle cx="1835.0" cy="240.4" r="17.5"/><circle cx="1829.0" cy="233.4" r="2.6" fill="#ff7dbe"/>
<circle cx="1835.7" cy="236.5" r="17.5"/><circle cx="1829.7" cy="229.5" r="2.6" fill="#ff7dbe"/>
<circle cx="1836.4" cy="233.8" r="17.5"/><circle cx="1830.4" cy="226.8" r="2.6" fill="#ff7dbe"/>
<circle cx="1837.5" cy="237.5" r="17.5"/><circle cx="1831.5" cy="230.5" r="2.6" fill="#ff7dbe"/>
<circle cx="1839.2" cy="239.9" r="17.5"/><circle cx="1833.2" cy="232.9" r="2.6" fill="#ff7dbe"/>
<circle cx="1839.7" cy="241.7" r="17.5"/><circle cx="1833.7" cy="234.7" r="2.6" fill="#ff7dbe"/>
<circle cx="1839.8" cy="237.0" r="17.5"/><circle cx="1833.8" cy="230.0" r="2.6" fill="#ff7dbe"/>
<circle cx="1842.6" cy="236.7" r="17.5"/><circle cx="1836.6" cy="229.7" r="2.6" fill="#ff7dbe"/>
<circle cx="1843.3" cy="239.6" r="17.5"/><circle cx="1837.3" cy="232.6" r="2.6" fill="#ff7dbe"/>
<circle cx="1843.4" cy="238.4" r="17.5"/><circle cx="1837.4" cy="231.4" r="2.6" fill="#ff7dbe"/>
<circle cx="1844.1" cy="232.5" r="17.5"/><circle cx="1838.1" cy="225.5" r="2.6" fill="#ff7dbe"/>
<circle cx="1845.8" cy="235.7" r="17.5"/><circle cx="1839.8" cy="228.7" r="2.6" fill="#ff7dbe"/>
<circle cx="1846.2" cy="232.8" r="17.5"/><circle cx="1840.2" cy="225.8" r="2.6" fill="#ff7dbe"/>
<circle cx="1848.1" cy="233.6" r="17.5"/><circle cx="1842.1" cy="226.6" r="2.6" fill="#ff7dbe"/>
<circle cx="1848.6" cy="235.1" r="17.5"/><circle cx="1842.6" cy="228.1" r="2.6" fill="#ff7dbe"/>
<circle cx="1850.7" cy="238.0" r="17.5"/><circle cx="1844.7" cy="231.0" r="2.6" fill="#ff7dbe"/>
<circle cx="1850.7" cy="239.3" r="17.5"/><circle cx="1844.7" cy="232.3" r="2.6" fill="#ff7dbe"/>
<circle cx="1851.8" cy="238.2" r="17.5"/><circle cx="1845.8" cy="231.2" r="2.6" fill="#ff7dbe"/>
<circle cx="1852.1" cy="243.1" r="17.5"/><circle cx="1846.1" cy="236.1" r="2.6" fill="#ff7dbe"/>
<circle cx="1853.0" cy="237.7" r="17.5"/><circle cx="1847.0" cy="230.7" r="2.6" fill="#ff7dbe"/>
<circle cx="1854.8" cy="234.2" r="17.5"/><circle cx="1848.8" cy="227.2" r="2.6" fill="#ff7dbe"/>
<circle cx="1855.2" cy="239.4" r="17.5"/><circle cx="1849.2" cy="232.4" r="2.6" fill="#ff7dbe"/>
<circle cx="1856.6" cy="235.3" r="17.5"/><circle cx="1850.6" cy="228.3" r="2.6" fill="#ff7dbe"/>
<circle cx="1857.5" cy="241.2" r="17.5"/><circle cx="1851.5" cy="234.2" r="2.6" fill="#ff7dbe"/>
<circle cx="1858.9" cy="236.9" r="17.5"/><circle cx="1852.9" cy="229.9" r="2.6" fill="#ff7dbe"/>
<circle cx="1859.3" cy="230.2" r="17.5"/><circle cx="1853.3" cy="223.2" r="2.6" fill="#ff7dbe"/>
<circle cx="1860.1" cy="233.6" r="17.5"/><circle cx="1854.1" cy="226.6" r="2.6" fill="#ff7dbe"/>
<circle cx="1861.5" cy="233.2" r="17.5"/><circle cx="1855.5" cy="226.2" r="2.6" fill="#ff7dbe"/>
<circle cx="1862.3" cy="231.7" r="17.5"/><circle cx="1856.3" cy="224.7" r="2.6" fill="#ff7dbe"/>
<circle cx="1863.5" cy="232.6" r="17.5"/><circle cx="1857.5" cy="225.6" r="2.6" fill="#ff7dbe"/>
<circle cx="1863.8" cy="236.8" r="17.5"/><circle cx="1857.8" cy="229.8" r="2.6" fill="#ff7dbe"/>
<circle cx="1864.5" cy="234.9" r="17.5"/><circle cx="1858.5" cy="227.9" r="2.6" fill="#ff7dbe"/>
<circle cx="1865.2" cy="231.8" r="17.5"/><circle cx="1859.2" cy="224.8" r="2.6" fill="#ff7dbe"/>
<circle cx="1866.5" cy="240.5" r="17.5"/><circle cx="1860.5" cy="233.5" r="2.6" fill="#ff7dbe"/>
<circle cx="1868.1" cy="237.7" r="17.5"/><circle cx="1862.1" cy="230.7" r="2.6" fill="#ff7dbe"/>
<circle cx="1868.1" cy="234.9" r="17.5"/><circle cx="1862.1" cy="227.9" r="2.6" fill="#ff7dbe"/>
<circle cx="1869.3" cy="241.9" r="17.5"/><circle cx="1863.3" cy="234.9" r="2.6" fill="#ff7dbe"/>
<circle cx="1870.1" cy="230.1" r="17.5"/><circle cx="1864.1" cy="223.1" r="2.6" fill="#ff7dbe"/>
<circle cx="1870.2" cy="230.5" r="17.5"/><circle cx="1864.2" cy="223.5" r="2.6" fill="#ff7dbe"/>
<circle cx="1873.3" cy="233.0" r="17.5"/><circle cx="1867.3" cy="226.0" r="2.6" fill="#ff7dbe"/>
<circle cx="1874.4" cy="236.2" r="17.5"/><circle cx="1868.4" cy="229.2" r="2.6" fill="#ff7dbe"/>
<circle cx="1874.7" cy="236.2" r="17.5"/><circle cx="1868.7" cy="229.2" r="2.6" fill="#ff7dbe"/>
<circle cx="1875.2" cy="232.1" r="17.5"/><circle cx="1869.2" cy="225.1" r="2.6" fill="#ff7dbe"/>
<circle cx="1875.7" cy="237.0" r="17.5"/><circle cx="1869.7" cy="230.0" r="2.6" fill="#ff7dbe"/>
<circle cx="1876.5" cy="234.2" r="17.5"/><circle cx="1870.5" cy="227.2" r="2.6" fill="#ff7dbe"/>
<circle cx="1877.7" cy="229.7" r="17.5"/><circle cx="1871.7" cy="222.7" r="2.6" fill="#ff7dbe"/>
<circle cx="1878.3" cy="239.5" r="17.5"/><circle cx="1872.3" cy="232.5" r="2.6" fill="#ff7dbe"/>
<circle cx="1881.0" cy="235.8" r="17.5"/><circle cx="1875.0" cy="228.8" r="2.6" fill="#ff7dbe"/>
<circle cx="1881.0" cy="233.4" r="17.5"/><circle cx="1875.0" cy="226.4" r="2.6" fill="#ff7dbe"/>
<circle cx="1881.5" cy="230.8" r="17.5"/><circle cx="1875.5" cy="223.8" r="2.6" fill="#ff7dbe"/>
<circle cx="1882.4" cy="232.9" r="17.5"/><circle cx="1876.4" cy="225.9" r="2.6" fill="#ff7dbe"/>
<circle cx="1882.6" cy="238.8" r="17.5"/><circle cx="1876.6" cy="231.8" r="2.6" fill="#ff7dbe"/>
<circle cx="1883.9" cy="232.3" r="17.5"/><circle cx="1877.9" cy="225.3" r="2.6" fill="#ff7dbe"/>
<circle cx="1885.9" cy="232.3" r="17.5"/><circle cx="1879.9" cy="225.3" r="2.6" fill="#ff7dbe"/>
<circle cx="1886.1" cy="230.8" r="17.5"/><circle cx="1880.1" cy="223.8" r="2.6" fill="#ff7dbe"/>
<circle cx="1887.1" cy="235.3" r="17.5"/><circle cx="1881.1" cy="228.3" r="2.6" fill="#ff7dbe"/>
<circle cx="1888.5" cy="235.4" r="17.5"/><circle cx="1882.5" cy="228.4" r="2.6" fill="#ff7dbe"/>
<circle cx="1889.3" cy="232.8" r="17.5"/><circle cx="1883.3" cy="225.8" r="2.6" fill="#ff7dbe"/>
<circle cx="1889.9" cy="231.8" r="17.5"/><circle cx="1883.9" cy="224.8" r="2.6" fill="#ff7dbe"/>
<circle cx="1891.1" cy="229.2" r="17.5"/><circle cx="1885.1" cy="222.2" r="2.6" fill="#ff7dbe"/>
<circle cx="1892.5" cy="231.5" r="17.5"/><circle cx="1886.5" cy="224.5" r="2.6" fill="#ff7dbe"/>
<circle cx="1893.4" cy="230.9" r="17.5"/><circle cx="1887.4" cy="223.9" r="2.6" fill="#ff7dbe"/>
<circle cx="1894.2" cy="232.8" r="17.5"/><circle cx="1888.2" cy="225.8" r="2.6" fill="#ff7dbe"/>
<circle cx="1895.6" cy="233.9" r="17.5"/><circle cx="1889.6" cy="226.9" r="2.6" fill="#ff7dbe"/>
<circle cx="1896.5" cy="231.7" r="17.5"/><circle cx="1890.5" cy="224.7" r="2.6" fill="#ff7dbe"/>
<circle cx="1896.7" cy="231.7" r="17.5"/><circle cx="1890.7" cy="224.7" r="2.6" fill="#ff7dbe"/>
<circle cx="1896.7" cy="231.3" r="17.5"/><circle cx="1890.7" cy="224.3" r="2.6" fill="#ff7dbe"/>
<circle cx="1898.9" cy="232.9" r="17.5"/><circle cx="1892.9" cy="225.9" r="2.6" fill="#ff7dbe"/>
<circle cx="1899.5" cy="234.5" r="17.5"/><circle cx="1893.5" cy="227.5" r="2.6" fill="#ff7dbe"/>
<circle cx="1901.1" cy="227.4" r="17.5"/><circle cx="1895.1" cy="220.4" r="2.6" fill="#ff7dbe"/>
<circle cx="1901.7" cy="232.9" r="17.5"/><circle cx="1895.7" cy="225.9" r="2.6" fill="#ff7dbe"/>
<circle cx="1901.9" cy="225.1" r="17.5"/><circle cx="1895.9" cy="218.1" r="2.6" fill="#ff7dbe"/>
<circle cx="1903.0" cy="232.6" r="17.5"/><circle cx="1897.0" cy="225.6" r="2.6" fill="#ff7dbe"/>
<circle cx="1905.8" cy="230.3" r="17.5"/><circle cx="1899.8" cy="223.3" r="2.6" fill="#ff7dbe"/>
<circle cx="1906.2" cy="235.6" r="17.5"/><circle cx="1900.2" cy="228.6" r="2.6" fill="#ff7dbe"/>
<circle cx="1906.2" cy="227.7" r="17.5"/><circle cx="1900.2" cy="220.7" r="2.6" fill="#ff7dbe"/>
<circle cx="1908.2" cy="231.2" r="17.5"/><circle cx="1902.2" cy="224.2" r="2.6" fill="#ff7dbe"/>
<circle cx="1908.4" cy="232.8" r="17.5"/><circle cx="1902.4" cy="225.8" r="2.6" fill="#ff7dbe"/>
<circle cx="1908.8" cy="226.5" r="17.5"/><circle cx="1902.8" cy="219.5" r="2.6" fill="#ff7dbe"/>
<circle cx="1909.7" cy="234.5" r="17.5"/><circle cx="1903.7" cy="227.5" r="2.6" fill="#ff7dbe"/>
<circle cx="1911.0" cy="231.0" r="17.5"/><circle cx="1905.0" cy="224.0" r="2.6" fill="#ff7dbe"/>
<circle cx="1912.4" cy="230.5" r="17.5"/><circle cx="1906.4" cy="223.5" r="2.6" fill="#ff7dbe"/>
<circle cx="1912.6" cy="237.5" r="17.5"/><circle cx="1906.6" cy="230.5" r="2.6" fill="#ff7dbe"/>
<circle cx="1914.8" cy="234.5" r="17.5"/><circle cx="1908.8" cy="227.5" r="2.6" fill="#ff7dbe"/>
<circle cx="1915.4" cy="228.1" r="17.5"/><circle cx="1909.4" cy="221.1" r="2.6" fill="#ff7dbe"/>
<circle cx="1915.5" cy="230.4" r="17.5"/><circle cx="1909.5" cy="223.4" r="2.6" fill="#ff7dbe"/>
<circle cx="1915.6" cy="227.7" r="17.5"/><circle cx="1909.6" cy="220.7" r="2.6" fill="#ff7dbe"/>
<circle cx="1917.6" cy="226.5" r="17.5"/><circle cx="1911.6" cy="219.5" r="2.6" fill="#ff7dbe"/>
<circle cx="1918.8" cy="231.9" r="17.5"/><circle cx="1912.8" cy="224.9" r="2.6" fill="#ff7dbe"/>
<circle cx="1919.1" cy="229.2" r="17.5"/><circle cx="1913.1" cy="222.2" r="2.6" fill="#ff7dbe"/>
<circle cx="1920.7" cy="231.8" r="17.5"/><circle cx="1914.7" cy="224.8" r="2.6" fill="#ff7dbe"/>
<circle cx="1920.9" cy="236.7" r="17.5"/><circle cx="1914.9" cy="229.7" r="2.6" fill="#ff7dbe"/>
<circle cx="1921.5" cy="226.2" r="17.5"/><circle cx="1915.5" cy="219.2" r="2.6" fill="#ff7dbe"/>
<circle cx="1922.6" cy="228.8" r="17.5"/><circle cx="1916.6" cy="221.8" r="2.6" fill="#ff7dbe"/>
<circle cx="1922.6" cy="227.3" r="17.5"/><circle cx="1916.6" cy="220.3" r="2.6" fill="#ff7dbe"/>
<circle cx="1923.8" cy="225.2" r="17.5"/><circle cx="1917.8" cy="218.2" r="2.6" fill="#ff7dbe"/>
<circle cx="1924.4" cy="232.4" r="17.5"/><circle cx="1918.4" cy="225.4" r="2.6" fill="#ff7dbe"/>
<circle cx="1926.5" cy="228.1" r="17.5"/><circle cx="1920.5" cy="221.1" r="2.6" fill="#ff7dbe"/>
<circle cx="1927.2" cy="228.2" r="17.5"/><circle cx="1921.2" cy="221.2" r="2.6" fill="#ff7dbe"/>
<circle cx="1927.5" cy="230.4" r="17.5"/><circle cx="1921.5" cy="223.4" r="2.6" fill="#ff7dbe"/>
<circle cx="1930.2" cy="233.4" r="17.5"/><circle cx="1924.2" cy="226.4" r="2.6" fill="#ff7dbe"/>
<circle cx="1930.6" cy="229.9" r="17.5"/><circle cx="1924.6" cy="222.9" r="2.6" fill="#ff7dbe"/>
<circle cx="1932.0" cy="225.9" r="17.5"/><circle cx="1926.0" cy="218.9" r="2.6" fill="#ff7dbe"/>
<circle cx="1932.1" cy="227.1" r="17.5"/><circle cx="1926.1" cy="220.1" r="2.6" fill="#ff7dbe"/>
<circle cx="1933.4" cy="232.9" r="17.5"/><circle cx="1927.4" cy="225.9" r="2.6" fill="#ff7dbe"/>
<circle cx="1933.8" cy="228.4" r="17.5"/><circle cx="1927.8" cy="221.4" r="2.6" fill="#ff7dbe"/>
<circle cx="1935.4" cy="224.9" r="17.5"/><circle cx="1929.4" cy="217.9" r="2.6" fill="#ff7dbe"/>
<circle cx="1935.9" cy="230.7" r="17.5"/><circle cx="1929.9" cy="223.7" r="2.6" fill="#ff7dbe"/>
<circle cx="1938.1" cy="222.5" r="17.5"/><circle cx="1932.1" cy="215.5" r="2.6" fill="#ff7dbe"/>
<circle cx="1938.7" cy="227.5" r="17.5"/><circle cx="1932.7" cy="220.5" r="2.6" fill="#ff7dbe"/>
<circle cx="1940.1" cy="230.4" r="17.5"/><circle cx="1934.1" cy="223.4" r="2.6" fill="#ff7dbe"/>
<circle cx="1940.7" cy="225.4" r="17.5"/><circle cx="1934.7" cy="218.4" r="2.6" fill="#ff7dbe"/>
<circle cx="1940.8" cy="229.8" r="17.5"/><circle cx="1934.8" cy="222.8" r="2.6" fill="#ff7dbe"/>
<circle cx="1941.6" cy="229.3" r="17.5"/><circle cx="1935.6" cy="222.3" r="2.6" fill="#ff7dbe"/>
<circle cx="1943.3" cy="230.6" r="17.5"/><circle cx="1937.3" cy="223.6" r="2.6" fill="#ff7dbe"/>
<circle cx="1944.1" cy="223.0" r="17.5"/><circle cx="1938.1" cy="216.0" r="2.6" fill="#ff7dbe"/>
<circle cx="1944.4" cy="226.9" r="17.5"/><circle cx="1938.4" cy="219.9" r="2.6" fill="#ff7dbe"/>
<circle cx="1945.8" cy="230.1" r="17.5"/><circle cx="1939.8" cy="223.1" r="2.6" fill="#ff7dbe"/>
<circle cx="1945.9" cy="224.1" r="17.5"/><circle cx="1939.9" cy="217.1" r="2.6" fill="#ff7dbe"/>
<circle cx="1946.8" cy="224.8" r="17.5"/><circle cx="1940.8" cy="217.8" r="2.6" fill="#ff7dbe"/>
<circle cx="1947.8" cy="228.4" r="17.5"/><circle cx="1941.8" cy="221.4" r="2.6" fill="#ff7dbe"/>
<circle cx="1948.5" cy="227.9" r="17.5"/><circle cx="1942.5" cy="220.9" r="2.6" fill="#ff7dbe"/>
<circle cx="1950.2" cy="230.7" r="17.5"/><circle cx="1944.2" cy="223.7" r="2.6" fill="#ff7dbe"/>
<circle cx="1952.2" cy="225.5" r="17.5"/><circle cx="1946.2" cy="218.5" r="2.6" fill="#ff7dbe"/>
<circle cx="1953.0" cy="226.9" r="17.5"/><circle cx="1947.0" cy="219.9" r="2.6" fill="#ff7dbe"/>
<circle cx="1953.3" cy="226.4" r="17.5"/><circle cx="1947.3" cy="219.4" r="2.6" fill="#ff7dbe"/>
<circle cx="1953.6" cy="231.1" r="17.5"/><circle cx="1947.6" cy="224.1" r="2.6" fill="#ff7dbe"/>
<circle cx="1956.2" cy="226.9" r="17.5"/><circle cx="1950.2" cy="219.9" r="2.6" fill="#ff7dbe"/>
<circle cx="1956.3" cy="224.1" r="17.5"/><circle cx="1950.3" cy="217.1" r="2.6" fill="#ff7dbe"/>
<circle cx="1956.7" cy="222.1" r="17.5"/><circle cx="1950.7" cy="215.1" r="2.6" fill="#ff7dbe"/>
<circle cx="1957.4" cy="223.0" r="17.5"/><circle cx="1951.4" cy="216.0" r="2.6" fill="#ff7dbe"/>
<circle cx="1959.7" cy="226.9" r="17.5"/><circle cx="1953.7" cy="219.9" r="2.6" fill="#ff7dbe"/>
<circle cx="1960.4" cy="222.1" r="17.5"/><circle cx="1954.4" cy="215.1" r="2.6" fill="#ff7dbe"/>
<circle cx="1961.2" cy="226.4" r="17.5"/><circle cx="1955.2" cy="219.4" r="2.6" fill="#ff7dbe"/>
<circle cx="1962.5" cy="223.5" r="17.5"/><circle cx="1956.5" cy="216.5" r="2.6" fill="#ff7dbe"/>
<circle cx="1963.3" cy="230.1" r="17.5"/><circle cx="1957.3" cy="223.1" r="2.6" fill="#ff7dbe"/>
<circle cx="1963.6" cy="220.7" r="17.5"/><circle cx="1957.6" cy="213.7" r="2.6" fill="#ff7dbe"/>
<circle cx="1965.0" cy="222.6" r="17.5"/><circle cx="1959.0" cy="215.6" r="2.6" fill="#ff7dbe"/>
<circle cx="1966.2" cy="227.3" r="17.5"/><circle cx="1960.2" cy="220.3" r="2.6" fill="#ff7dbe"/>
<circle cx="1966.7" cy="222.4" r="17.5"/><circle cx="1960.7" cy="215.4" r="2.6" fill="#ff7dbe"/>
<circle cx="1968.3" cy="224.6" r="17.5"/><circle cx="1962.3" cy="217.6" r="2.6" fill="#ff7dbe"/>
<circle cx="1968.3" cy="230.3" r="17.5"/><circle cx="1962.3" cy="223.3" r="2.6" fill="#ff7dbe"/>
<circle cx="1970.2" cy="226.6" r="17.5"/><circle cx="1964.2" cy="219.6" r="2.6" fill="#ff7dbe"/>
<circle cx="1971.2" cy="223.5" r="17.5"/><circle cx="1965.2" cy="216.5" r="2.6" fill="#ff7dbe"/>
<circle cx="1971.4" cy="223.6" r="17.5"/><circle cx="1965.4" cy="216.6" r="2.6" fill="#ff7dbe"/>
<circle cx="1971.6" cy="223.6" r="17.5"/><circle cx="1965.6" cy="216.6" r="2.6" fill="#ff7dbe"/>
<circle cx="1972.8" cy="226.1" r="17.5"/><circle cx="1966.8" cy="219.1" r="2.6" fill="#ff7dbe"/>
<circle cx="1973.7" cy="224.6" r="17.5"/><circle cx="1967.7" cy="217.6" r="2.6" fill="#ff7dbe"/>
<circle cx="1974.2" cy="220.3" r="17.5"/><circle cx="1968.2" cy="213.3" r="2.6" fill="#ff7dbe"/>
<circle cx="1975.9" cy="221.9" r="17.5"/><circle cx="1969.9" cy="214.9" r="2.6" fill="#ff7dbe"/>
<circle cx="1977.0" cy="221.0" r="17.5"/><circle cx="1971.0" cy="214.0" r="2.6" fill="#ff7dbe"/>
<circle cx="1978.2" cy="227.1" r="17.5"/><circle cx="1972.2" cy="220.1" r="2.6" fill="#ff7dbe"/>
<circle cx="1978.3" cy="223.9" r="17.5"/><circle cx="1972.3" cy="216.9" r="2.6" fill="#ff7dbe"/>
<circle cx="1979.4" cy="221.8" r="17.5"/><circle cx="1973.4" cy="214.8" r="2.6" fill="#ff7dbe"/>
<circle cx="1981.5" cy="223.2" r="17.5"/><circle cx="1975.5" cy="216.2" r="2.6" fill="#ff7dbe"/>
<circle cx="1981.9" cy="227.7" r="17.5"/><circle cx="1975.9" cy="220.7" r="2.6" fill="#ff7dbe"/>
<circle cx="1982.2" cy="221.3" r="17.5"/><circle cx="1976.2" cy="214.3" r="2.6" fill="#ff7dbe"/>
<circle cx="1983.1" cy="219.8" r="17.5"/><circle cx="1977.1" cy="212.8" r="2.6" fill="#ff7dbe"/>
<circle cx="1984.2" cy="226.6" r="17.5"/><circle cx="1978.2" cy="219.6" r="2.6" fill="#ff7dbe"/>
<circle cx="1985.1" cy="220.8" r="17.5"/><circle cx="1979.1" cy="213.8" r="2.6" fill="#ff7dbe"/>
<circle cx="1986.7" cy="226.2" r="17.5"/><circle cx="1980.7" cy="219.2" r="2.6" fill="#ff7dbe"/>
<circle cx="1987.0" cy="221.9" r="17.5"/><circle cx="1981.0" cy="214.9" r="2.6" fill="#ff7dbe"/>
<circle cx="1987.8" cy="231.5" r="17.5"/><circle cx="1981.8" cy="224.5" r="2.6" fill="#ff7dbe"/>
<circle cx="1988.9" cy="228.3" r="17.5"/><circle cx="1982.9" cy="221.3" r="2.6" fill="#ff7dbe"/>
<circle cx="1989.3" cy="223.0" r="17.5"/><circle cx="1983.3" cy="216.0" r="2.6" fill="#ff7dbe"/>
<circle cx="1989.8" cy="223.9" r="17.5"/><circle cx="1983.8" cy="216.9" r="2.6" fill="#ff7dbe"/>
<circle cx="1991.9" cy="221.3" r="17.5"/><circle cx="1985.9" cy="214.3" r="2.6" fill="#ff7dbe"/>
<circle cx="1992.4" cy="217.9" r="17.5"/><circle cx="1986.4" cy="210.9" r="2.6" fill="#ff7dbe"/>
<circle cx="1992.5" cy="222.7" r="17.5"/><circle cx="1986.5" cy="215.7" r="2.6" fill="#ff7dbe"/>
<circle cx="1994.1" cy="221.8" r="17.5"/><circle cx="1988.1" cy="214.8" r="2.6" fill="#ff7dbe"/>
<circle cx="1995.5" cy="220.3" r="17.5"/><circle cx="1989.5" cy="213.3" r="2.6" fill="#ff7dbe"/>
<circle cx="1996.0" cy="227.8" r="17.5"/><circle cx="1990.0" cy="220.8" r="2.6" fill="#ff7dbe"/>
<circle cx="1996.6" cy="220.1" r="17.5"/><circle cx="1990.6" cy="213.1" r="2.6" fill="#ff7dbe"/>
<circle cx="1998.2" cy="217.9" r="17.5"/><circle cx="1992.2" cy="210.9" r="2.6" fill="#ff7dbe"/>
<circle cx="1998.6" cy="224.3" r="17.5"/><circle cx="1992.6" cy="217.3" r="2.6" fill="#ff7dbe"/>
<circle cx="2001.0" cy="221.8" r="17.5"/><circle cx="1995.0" cy="214.8" r="2.6" fill="#ff7dbe"/>
<circle cx="2003.2" cy="218.5" r="17.5"/><circle cx="1997.2" cy="211.5" r="2.6" fill="#ff7dbe"/>
<circle cx="2003.8" cy="226.7" r="17.5"/><circle cx="1997.8" cy="219.7" r="2.6" fill="#ff7dbe"/>
<circle cx="2003.8" cy="223.9" r="17.5"/><circle cx="1997.8" cy="216.9" r="2.6" fill="#ff7dbe"/>
<circle cx="2004.0" cy="226.5" r="17.5"/><circle cx="1998.0" cy="219.5" r="2.6" fill="#ff7dbe"/>
<circle cx="2004.4" cy="217.1" r="17.5"/><circle cx="1998.4" cy="210.1" r="2.6" fill="#ff7dbe"/>
<circle cx="2005.9" cy="218.1" r="17.5"/><circle cx="1999.9" cy="211.1" r="2.6" fill="#ff7dbe"/>
<circle cx="2007.4" cy="217.0" r="17.5"/><circle cx="2001.4" cy="210.0" r="2.6" fill="#ff7dbe"/>
<circle cx="2007.9" cy="214.1" r="17.5"/><circle cx="2001.9" cy="207.1" r="2.6" fill="#ff7dbe"/>
<circle cx="2008.8" cy="223.7" r="17.5"/><circle cx="2002.8" cy="216.7" r="2.6" fill="#ff7dbe"/>
<circle cx="2009.5" cy="221.2" r="17.5"/><circle cx="2003.5" cy="214.2" r="2.6" fill="#ff7dbe"/>
<circle cx="2010.6" cy="220.3" r="17.5"/><circle cx="2004.6" cy="213.3" r="2.6" fill="#ff7dbe"/>
<circle cx="2011.5" cy="216.6" r="17.5"/><circle cx="2005.5" cy="209.6" r="2.6" fill="#ff7dbe"/>
<circle cx="2012.7" cy="223.7" r="17.5"/><circle cx="2006.7" cy="216.7" r="2.6" fill="#ff7dbe"/>
<circle cx="2012.8" cy="219.0" r="17.5"/><circle cx="2006.8" cy="212.0" r="2.6" fill="#ff7dbe"/>
<circle cx="2013.5" cy="218.8" r="17.5"/><circle cx="2007.5" cy="211.8" r="2.6" fill="#ff7dbe"/>
<circle cx="2015.3" cy="221.9" r="17.5"/><circle cx="2009.3" cy="214.9" r="2.6" fill="#ff7dbe"/>
<circle cx="2016.0" cy="216.8" r="17.5"/><circle cx="2010.0" cy="209.8" r="2.6" fill="#ff7dbe"/>
<circle cx="2018.8" cy="218.9" r="17.5"/><circle cx="2012.8" cy="211.9" r="2.6" fill="#ff7dbe"/>
<circle cx="2018.8" cy="218.7" r="17.5"/><circle cx="2012.8" cy="211.7" r="2.6" fill="#ff7dbe"/>
<circle cx="2018.8" cy="216.6" r="17.5"/><circle cx="2012.8" cy="209.6" r="2.6" fill="#ff7dbe"/>
<circle cx="2019.0" cy="218.8" r="17.5"/><circle cx="2013.0" cy="211.8" r="2.6" fill="#ff7dbe"/>
<circle cx="2019.9" cy="220.0" r="17.5"/><circle cx="2013.9" cy="213.0" r="2.6" fill="#ff7dbe"/>
<circle cx="2022.0" cy="215.6" r="17.5"/><circle cx="2016.0" cy="208.6" r="2.6" fill="#ff7dbe"/>
<circle cx="2022.6" cy="226.2" r="17.5"/><circle cx="2016.6" cy="219.2" r="2.6" fill="#ff7dbe"/>
<circle cx="2025.0" cy="217.4" r="17.5"/><circle cx="2019.0" cy="210.4" r="2.6" fill="#ff7dbe"/>
<circle cx="2025.3" cy="220.6" r="17.5"/><circle cx="2019.3" cy="213.6" r="2.6" fill="#ff7dbe"/>
<circle cx="2026.0" cy="220.4" r="17.5"/><circle cx="2020.0" cy="213.4" r="2.6" fill="#ff7dbe"/>
<circle cx="2026.8" cy="216.8" r="17.5"/><circle cx="2020.8" cy="209.8" r="2.6" fill="#ff7dbe"/>
<circle cx="2026.8" cy="215.5" r="17.5"/><circle cx="2020.8" cy="208.5" r="2.6" fill="#ff7dbe"/>
<circle cx="2029.4" cy="218.2" r="17.5"/><circle cx="2023.4" cy="211.2" r="2.6" fill="#ff7dbe"/>
<circle cx="2029.7" cy="212.8" r="17.5"/><circle cx="2023.7" cy="205.8" r="2.6" fill="#ff7dbe"/>
<circle cx="2030.6" cy="213.0" r="17.5"/><circle cx="2024.6" cy="206.0" r="2.6" fill="#ff7dbe"/>
<circle cx="2031.2" cy="216.5" r="17.5"/><circle cx="2025.2" cy="209.5" r="2.6" fill="#ff7dbe"/>
<circle cx="2032.7" cy="220.2" r="17.5"/><circle cx="2026.7" cy="213.2" r="2.6" fill="#ff7dbe"/>
<circle cx="2033.8" cy="220.7" r="17.5"/><circle cx="2027.8" cy="213.7" r="2.6" fill="#ff7dbe"/>
<circle cx="2034.7" cy="216.9" r="17.5"/><circle cx="2028.7" cy="209.9" r="2.6" fill="#ff7dbe"/>
<circle cx="2034.9" cy="215.0" r="17.5"/><circle cx="2028.9" cy="208.0" r="2.6" fill="#ff7dbe"/>
<circle cx="2034.9" cy="216.3" r="17.5"/><circle cx="2028.9" cy="209.3" r="2.6" fill="#ff7dbe"/>
<circle cx="2037.8" cy="221.6" r="17.5"/><circle cx="2031.8" cy="214.6" r="2.6" fill="#ff7dbe"/>
<circle cx="2039.4" cy="208.9" r="17.5"/><circle cx="2033.4" cy="201.9" r="2.6" fill="#ff7dbe"/>
<circle cx="2039.4" cy="215.6" r="17.5"/><circle cx="2033.4" cy="208.6" r="2.6" fill="#ff7dbe"/>
<circle cx="2039.6" cy="212.5" r="17.5"/><circle cx="2033.6" cy="205.5" r="2.6" fill="#ff7dbe"/>
<circle cx="2040.9" cy="212.8" r="17.5"/><circle cx="2034.9" cy="205.8" r="2.6" fill="#ff7dbe"/>
<circle cx="2041.4" cy="211.1" r="17.5"/><circle cx="2035.4" cy="204.1" r="2.6" fill="#ff7dbe"/>
<circle cx="2042.9" cy="221.9" r="17.5"/><circle cx="2036.9" cy="214.9" r="2.6" fill="#ff7dbe"/>
<circle cx="2043.0" cy="218.9" r="17.5"/><circle cx="2037.0" cy="211.9" r="2.6" fill="#ff7dbe"/>
<circle cx="2044.7" cy="213.3" r="17.5"/><circle cx="2038.7" cy="206.3" r="2.6" fill="#ff7dbe"/>
<circle cx="2045.8" cy="215.8" r="17.5"/><circle cx="2039.8" cy="208.8" r="2.6" fill="#ff7dbe"/>
<circle cx="2047.1" cy="216.9" r="17.5"/><circle cx="2041.1" cy="209.9" r="2.6" fill="#ff7dbe"/>
<circle cx="2047.8" cy="218.1" r="17.5"/><circle cx="2041.8" cy="211.1" r="2.6" fill="#ff7dbe"/>
<circle cx="2049.1" cy="219.4" r="17.5"/><circle cx="2043.1" cy="212.4" r="2.6" fill="#ff7dbe"/>
<circle cx="2049.2" cy="217.2" r="17.5"/><circle cx="2043.2" cy="210.2" r="2.6" fill="#ff7dbe"/>
<circle cx="2049.6" cy="212.7" r="17.5"/><circle cx="2043.6" cy="205.7" r="2.6" fill="#ff7dbe"/>
<circle cx="2049.9" cy="212.2" r="17.5"/><circle cx="2043.9" cy="205.2" r="2.6" fill="#ff7dbe"/>
<circle cx="2051.9" cy="219.1" r="17.5"/><circle cx="2045.9" cy="212.1" r="2.6" fill="#ff7dbe"/>
<circle cx="2052.6" cy="215.2" r="17.5"/><circle cx="2046.6" cy="208.2" r="2.6" fill="#ff7dbe"/>
<circle cx="2054.5" cy="218.0" r="17.5"/><circle cx="2048.5" cy="211.0" r="2.6" fill="#ff7dbe"/>
<circle cx="2055.2" cy="211.4" r="17.5"/><circle cx="2049.2" cy="204.4" r="2.6" fill="#ff7dbe"/>
<circle cx="2057.6" cy="217.4" r="17.5"/><circle cx="2051.6" cy="210.4" r="2.6" fill="#ff7dbe"/>
<circle cx="2057.9" cy="219.7" r="17.5"/><circle cx="2051.9" cy="212.7" r="2.6" fill="#ff7dbe"/>
<circle cx="2058.4" cy="216.8" r="17.5"/><circle cx="2052.4" cy="209.8" r="2.6" fill="#ff7dbe"/>
<circle cx="2058.8" cy="215.7" r="17.5"/><circle cx="2052.8" cy="208.7" r="2.6" fill="#ff7dbe"/>
<circle cx="2059.1" cy="216.3" r="17.5"/><circle cx="2053.1" cy="209.3" r="2.6" fill="#ff7dbe"/>
<circle cx="2059.8" cy="215.4" r="17.5"/><circle cx="2053.8" cy="208.4" r="2.6" fill="#ff7dbe"/>
<circle cx="2060.7" cy="216.3" r="17.5"/><circle cx="2054.7" cy="209.3" r="2.6" fill="#ff7dbe"/>
<circle cx="2062.1" cy="221.9" r="17.5"/><circle cx="2056.1" cy="214.9" r="2.6" fill="#ff7dbe"/>
<circle cx="2063.5" cy="215.5" r="17.5"/><circle cx="2057.5" cy="208.5" r="2.6" fill="#ff7dbe"/>
<circle cx="2063.6" cy="212.9" r="17.5"/><circle cx="2057.6" cy="205.9" r="2.6" fill="#ff7dbe"/>
<circle cx="2065.2" cy="212.8" r="17.5"/><circle cx="2059.2" cy="205.8" r="2.6" fill="#ff7dbe"/>
<circle cx="2065.9" cy="210.9" r="17.5"/><circle cx="2059.9" cy="203.9" r="2.6" fill="#ff7dbe"/>
<circle cx="2067.5" cy="214.8" r="17.5"/><circle cx="2061.5" cy="207.8" r="2.6" fill="#ff7dbe"/>
<circle cx="2067.8" cy="212.4" r="17.5"/><circle cx="2061.8" cy="205.4" r="2.6" fill="#ff7dbe"/>
<circle cx="2068.4" cy="213.0" r="17.5"/><circle cx="2062.4" cy="206.0" r="2.6" fill="#ff7dbe"/>
<circle cx="2069.6" cy="210.5" r="17.5"/><circle cx="2063.6" cy="203.5" r="2.6" fill="#ff7dbe"/>
<circle cx="2070.7" cy="210.8" r="17.5"/><circle cx="2064.7" cy="203.8" r="2.6" fill="#ff7dbe"/>
<circle cx="2070.9" cy="214.5" r="17.5"/><circle cx="2064.9" cy="207.5" r="2.6" fill="#ff7dbe"/>
<circle cx="2072.6" cy="208.6" r="17.5"/><circle cx="2066.6" cy="201.6" r="2.6" fill="#ff7dbe"/>
<circle cx="2073.4" cy="213.9" r="17.5"/><circle cx="2067.4" cy="206.9" r="2.6" fill="#ff7dbe"/>
<circle cx="2075.0" cy="214.4" r="17.5"/><circle cx="2069.0" cy="207.4" r="2.6" fill="#ff7dbe"/>
<circle cx="2075.8" cy="215.1" r="17.5"/><circle cx="2069.8" cy="208.1" r="2.6" fill="#ff7dbe"/>
<circle cx="2076.2" cy="210.6" r="17.5"/><circle cx="2070.2" cy="203.6" r="2.6" fill="#ff7dbe"/>
<circle cx="2078.0" cy="211.7" r="17.5"/><circle cx="2072.0" cy="204.7" r="2.6" fill="#ff7dbe"/>
<circle cx="2078.5" cy="215.1" r="17.5"/><circle cx="2072.5" cy="208.1" r="2.6" fill="#ff7dbe"/>
<circle cx="2079.8" cy="211.7" r="17.5"/><circle cx="2073.8" cy="204.7" r="2.6" fill="#ff7dbe"/>
<circle cx="2080.1" cy="216.9" r="17.5"/><circle cx="2074.1" cy="209.9" r="2.6" fill="#ff7dbe"/>
<circle cx="2081.2" cy="214.8" r="17.5"/><circle cx="2075.2" cy="207.8" r="2.6" fill="#ff7dbe"/>
<circle cx="2081.7" cy="208.2" r="17.5"/><circle cx="2075.7" cy="201.2" r="2.6" fill="#ff7dbe"/>
<circle cx="2082.7" cy="209.8" r="17.5"/><circle cx="2076.7" cy="202.8" r="2.6" fill="#ff7dbe"/>
<circle cx="2084.7" cy="214.4" r="17.5"/><circle cx="2078.7" cy="207.4" r="2.6" fill="#ff7dbe"/>
<circle cx="2085.8" cy="211.5" r="17.5"/><circle cx="2079.8" cy="204.5" r="2.6" fill="#ff7dbe"/>
<circle cx="2085.8" cy="211.6" r="17.5"/><circle cx="2079.8" cy="204.6" r="2.6" fill="#ff7dbe"/>
<circle cx="2087.2" cy="206.0" r="17.5"/><circle cx="2081.2" cy="199.0" r="2.6" fill="#ff7dbe"/>
<circle cx="2087.3" cy="214.8" r="17.5"/><circle cx="2081.3" cy="207.8" r="2.6" fill="#ff7dbe"/>
<circle cx="2088.2" cy="212.2" r="17.5"/><circle cx="2082.2" cy="205.2" r="2.6" fill="#ff7dbe"/>
<circle cx="2089.8" cy="214.0" r="17.5"/><circle cx="2083.8" cy="207.0" r="2.6" fill="#ff7dbe"/>
<circle cx="2090.3" cy="208.7" r="17.5"/><circle cx="2084.3" cy="201.7" r="2.6" fill="#ff7dbe"/>
<circle cx="2093.6" cy="210.0" r="17.5"/><circle cx="2087.6" cy="203.0" r="2.6" fill="#ff7dbe"/>
<circle cx="2093.6" cy="211.5" r="17.5"/><circle cx="2087.6" cy="204.5" r="2.6" fill="#ff7dbe"/>
<circle cx="2093.9" cy="206.6" r="17.5"/><circle cx="2087.9" cy="199.6" r="2.6" fill="#ff7dbe"/>
<circle cx="2095.7" cy="209.6" r="17.5"/><circle cx="2089.7" cy="202.6" r="2.6" fill="#ff7dbe"/>
<circle cx="2096.0" cy="218.7" r="17.5"/><circle cx="2090.0" cy="211.7" r="2.6" fill="#ff7dbe"/>
<circle cx="2096.2" cy="208.8" r="17.5"/><circle cx="2090.2" cy="201.8" r="2.6" fill="#ff7dbe"/>
<circle cx="2096.9" cy="212.8" r="17.5"/><circle cx="2090.9" cy="205.8" r="2.6" fill="#ff7dbe"/>
<circle cx="2097.6" cy="211.1" r="17.5"/><circle cx="2091.6" cy="204.1" r="2.6" fill="#ff7dbe"/>
<circle cx="2098.6" cy="208.7" r="17.5"/><circle cx="2092.6" cy="201.7" r="2.6" fill="#ff7dbe"/>
<circle cx="2100.3" cy="216.5" r="17.5"/><circle cx="2094.3" cy="209.5" r="2.6" fill="#ff7dbe"/>
<circle cx="2100.8" cy="215.9" r="17.5"/><circle cx="2094.8" cy="208.9" r="2.6" fill="#ff7dbe"/>
<circle cx="2101.7" cy="217.8" r="17.5"/><circle cx="2095.7" cy="210.8" r="2.6" fill="#ff7dbe"/>
<circle cx="2103.2" cy="210.6" r="17.5"/><circle cx="2097.2" cy="203.6" r="2.6" fill="#ff7dbe"/>
<circle cx="2103.2" cy="216.2" r="17.5"/><circle cx="2097.2" cy="209.2" r="2.6" fill="#ff7dbe"/>
<circle cx="2104.3" cy="210.6" r="17.5"/><circle cx="2098.3" cy="203.6" r="2.6" fill="#ff7dbe"/>
<circle cx="2105.6" cy="213.3" r="17.5"/><circle cx="2099.6" cy="206.3" r="2.6" fill="#ff7dbe"/>
<circle cx="2106.8" cy="213.4" r="17.5"/><circle cx="2100.8" cy="206.4" r="2.6" fill="#ff7dbe"/>
<circle cx="2107.1" cy="216.9" r="17.5"/><circle cx="2101.1" cy="209.9" r="2.6" fill="#ff7dbe"/>
<circle cx="2108.7" cy="215.9" r="17.5"/><circle cx="2102.7" cy="208.9" r="2.6" fill="#ff7dbe"/>
<circle cx="2109.8" cy="211.5" r="17.5"/><circle cx="2103.8" cy="204.5" r="2.6" fill="#ff7dbe"/>
<circle cx="2110.2" cy="207.5" r="17.5"/><circle cx="2104.2" cy="200.5" r="2.6" fill="#ff7dbe"/>
<circle cx="2112.1" cy="213.6" r="17.5"/><circle cx="2106.1" cy="206.6" r="2.6" fill="#ff7dbe"/>
<circle cx="2112.5" cy="209.8" r="17.5"/><circle cx="2106.5" cy="202.8" r="2.6" fill="#ff7dbe"/>
<circle cx="2113.1" cy="209.9" r="17.5"/><circle cx="2107.1" cy="202.9" r="2.6" fill="#ff7dbe"/>
<circle cx="2114.0" cy="210.9" r="17.5"/><circle cx="2108.0" cy="203.9" r="2.6" fill="#ff7dbe"/>
<circle cx="2115.7" cy="213.1" r="17.5"/><circle cx="2109.7" cy="206.1" r="2.6" fill="#ff7dbe"/>
<circle cx="2115.9" cy="208.0" r="17.5"/><circle cx="2109.9" cy="201.0" r="2.6" fill="#ff7dbe"/>
<circle cx="2117.8" cy="217.9" r="17.5"/><circle cx="2111.8" cy="210.9" r="2.6" fill="#ff7dbe"/>
<circle cx="2118.1" cy="208.2" r="17.5"/><circle cx="2112.1" cy="201.2" r="2.6" fill="#ff7dbe"/>
<circle cx="2118.4" cy="208.1" r="17.5"/><circle cx="2112.4" cy="201.1" r="2.6" fill="#ff7dbe"/>
<circle cx="2119.9" cy="211.5" r="17.5"/><circle cx="2113.9" cy="204.5" r="2.6" fill="#ff7dbe"/>
<circle cx="2120.8" cy="208.6" r="17.5"/><circle cx="2114.8" cy="201.6" r="2.6" fill="#ff7dbe"/>
<circle cx="2121.6" cy="210.3" r="17.5"/><circle cx="2115.6" cy="203.3" r="2.6" fill="#ff7dbe"/>
<circle cx="2123.0" cy="206.7" r="17.5"/><circle cx="2117.0" cy="199.7" r="2.6" fill="#ff7dbe"/>
<circle cx="2123.2" cy="210.8" r="17.5"/><circle cx="2117.2" cy="203.8" r="2.6" fill="#ff7dbe"/>
<circle cx="2125.4" cy="210.3" r="17.5"/><circle cx="2119.4" cy="203.3" r="2.6" fill="#ff7dbe"/>
<circle cx="2125.8" cy="210.1" r="17.5"/><circle cx="2119.8" cy="203.1" r="2.6" fill="#ff7dbe"/>
<circle cx="2127.4" cy="209.3" r="17.5"/><circle cx="2121.4" cy="202.3" r="2.6" fill="#ff7dbe"/>
<circle cx="2127.6" cy="209.5" r="17.5"/><circle cx="2121.6" cy="202.5" r="2.6" fill="#ff7dbe"/>
<circle cx="2128.8" cy="206.9" r="17.5"/><circle cx="2122.8" cy="199.9" r="2.6" fill="#ff7dbe"/>
<circle cx="2129.5" cy="213.4" r="17.5"/><circle cx="2123.5" cy="206.4" r="2.6" fill="#ff7dbe"/>
<circle cx="2131.2" cy="212.0" r="17.5"/><circle cx="2125.2" cy="205.0" r="2.6" fill="#ff7dbe"/>
<circle cx="2131.4" cy="215.0" r="17.5"/><circle cx="2125.4" cy="208.0" r="2.6" fill="#ff7dbe"/>
<circle cx="2132.1" cy="206.4" r="17.5"/><circle cx="2126.1" cy="199.4" r="2.6" fill="#ff7dbe"/>
<circle cx="2132.7" cy="214.4" r="17.5"/><circle cx="2126.7" cy="207.4" r="2.6" fill="#ff7dbe"/>
<circle cx="2134.6" cy="206.8" r="17.5"/><circle cx="2128.6" cy="199.8" r="2.6" fill="#ff7dbe"/>
<circle cx="2134.6" cy="209.0" r="17.5"/><circle cx="2128.6" cy="202.0" r="2.6" fill="#ff7dbe"/>
<circle cx="2136.9" cy="205.2" r="17.5"/><circle cx="2130.9" cy="198.2" r="2.6" fill="#ff7dbe"/>
<circle cx="2137.1" cy="205.9" r="17.5"/><circle cx="2131.1" cy="198.9" r="2.6" fill="#ff7dbe"/>
<circle cx="2137.6" cy="216.8" r="17.5"/><circle cx="2131.6" cy="209.8" r="2.6" fill="#ff7dbe"/>
<circle cx="2138.9" cy="214.7" r="17.5"/><circle cx="2132.9" cy="207.7" r="2.6" fill="#ff7dbe"/>
<circle cx="2139.9" cy="203.8" r="17.5"/><circle cx="2133.9" cy="196.8" r="2.6" fill="#ff7dbe"/>
<circle cx="2140.6" cy="208.0" r="17.5"/><circle cx="2134.6" cy="201.0" r="2.6" fill="#ff7dbe"/>
<circle cx="2141.3" cy="213.0" r="17.5"/><circle cx="2135.3" cy="206.0" r="2.6" fill="#ff7dbe"/>
<circle cx="2141.8" cy="206.0" r="17.5"/><circle cx="2135.8" cy="199.0" r="2.6" fill="#ff7dbe"/>
<circle cx="2142.8" cy="205.9" r="17.5"/><circle cx="2136.8" cy="198.9" r="2.6" fill="#ff7dbe"/>
<circle cx="2144.5" cy="208.7" r="17.5"/><circle cx="2138.5" cy="201.7" r="2.6" fill="#ff7dbe"/>
<circle cx="2146.2" cy="209.5" r="17.5"/><circle cx="2140.2" cy="202.5" r="2.6" fill="#ff7dbe"/>
<circle cx="2147.5" cy="212.8" r="17.5"/><circle cx="2141.5" cy="205.8" r="2.6" fill="#ff7dbe"/>
<circle cx="2148.2" cy="210.8" r="17.5"/><circle cx="2142.2" cy="203.8" r="2.6" fill="#ff7dbe"/>
<circle cx="2148.6" cy="212.7" r="17.5"/><circle cx="2142.6" cy="205.7" r="2.6" fill="#ff7dbe"/>
<circle cx="2149.1" cy="204.0" r="17.5"/><circle cx="2143.1" cy="197.0" r="2.6" fill="#ff7dbe"/>
<circle cx="2149.1" cy="211.4" r="17.5"/><circle cx="2143.1" cy="204.4" r="2.6" fill="#ff7dbe"/>
<circle cx="2149.1" cy="206.4" r="17.5"/><circle cx="2143.1" cy="199.4" r="2.6" fill="#ff7dbe"/>
<circle cx="2150.9" cy="208.8" r="17.5"/><circle cx="2144.9" cy="201.8" r="2.6" fill="#ff7dbe"/>
<circle cx="2152.0" cy="209.8" r="17.5"/><circle cx="2146.0" cy="202.8" r="2.6" fill="#ff7dbe"/>
<circle cx="2153.6" cy="207.5" r="17.5"/><circle cx="2147.6" cy="200.5" r="2.6" fill="#ff7dbe"/>
<circle cx="2154.1" cy="201.9" r="17.5"/><circle cx="2148.1" cy="194.9" r="2.6" fill="#ff7dbe"/>
<circle cx="2155.7" cy="204.9" r="17.5"/><circle cx="2149.7" cy="197.9" r="2.6" fill="#ff7dbe"/>
<circle cx="2156.4" cy="210.2" r="17.5"/><circle cx="2150.4" cy="203.2" r="2.6" fill="#ff7dbe"/>
<circle cx="2158.4" cy="211.3" r="17.5"/><circle cx="2152.4" cy="204.3" r="2.6" fill="#ff7dbe"/>
<circle cx="2159.6" cy="204.5" r="17.5"/><circle cx="2153.6" cy="197.5" r="2.6" fill="#ff7dbe"/>
<circle cx="2160.0" cy="214.0" r="17.5"/><circle cx="2154.0" cy="207.0" r="2.6" fill="#ff7dbe"/>
<circle cx="2160.7" cy="205.5" r="17.5"/><circle cx="2154.7" cy="198.5" r="2.6" fill="#ff7dbe"/>
<circle cx="2161.6" cy="207.4" r="17.5"/><circle cx="2155.6" cy="200.4" r="2.6" fill="#ff7dbe"/>
<circle cx="2161.7" cy="212.4" r="17.5"/><circle cx="2155.7" cy="205.4" r="2.6" fill="#ff7dbe"/>
<circle cx="2163.1" cy="205.4" r="17.5"/><circle cx="2157.1" cy="198.4" r="2.6" fill="#ff7dbe"/>
<circle cx="2163.6" cy="215.3" r="17.5"/><circle cx="2157.6" cy="208.3" r="2.6" fill="#ff7dbe"/>
<circle cx="2164.4" cy="211.2" r="17.5"/><circle cx="2158.4" cy="204.2" r="2.6" fill="#ff7dbe"/>
<circle cx="2166.2" cy="212.7" r="17.5"/><circle cx="2160.2" cy="205.7" r="2.6" fill="#ff7dbe"/>
<circle cx="2166.7" cy="206.0" r="17.5"/><circle cx="2160.7" cy="199.0" r="2.6" fill="#ff7dbe"/>
<circle cx="2167.4" cy="205.7" r="17.5"/><circle cx="2161.4" cy="198.7" r="2.6" fill="#ff7dbe"/>
<circle cx="2170.9" cy="209.6" r="17.5"/><circle cx="2164.9" cy="202.6" r="2.6" fill="#ff7dbe"/>
</g>
</g>
<polyline points="290,1433 300,1429 316,1427 329,1422.6 341.7,1404 354,1378 367.5,1352 381,1321 393.4,1282 489,1000 525.6,900 600.2,700 631,618.7 705.3,437 2149.0,437" fill="none" stroke="#0000ff" stroke-width="5" stroke-linejoin="round"/>
<line x1="705.3" y1="76.7" x2="705.3" y2="1437.5" stroke="#0000ff" stroke-width="6" stroke-linecap="round" stroke-dasharray="18.7 30.5"/>
<g stroke="#000" stroke-width="5" fill="none" stroke-linecap="butt">
<line x1="291.5" y1="73.7" x2="2149.0" y2="73.7"/>
<line x1="262.5" y1="1437.5" x2="2149.0" y2="1437.5"/>
<line x1="291.5" y1="71.2" x2="291.5" y2="1467.5"/>
<line x1="262.5" y1="1437.5" x2="291.5" y2="1437.5"/>
<line x1="276.5" y1="1369.3" x2="291.5" y2="1369.3"/>
<line x1="262.5" y1="1301.1" x2="291.5" y2="1301.1"/>
<line x1="276.5" y1="1232.9" x2="291.5" y2="1232.9"/>
<line x1="262.5" y1="1164.7" x2="291.5" y2="1164.7"/>
<line x1="276.5" y1="1096.5" x2="291.5" y2="1096.5"/>
<line x1="262.5" y1="1028.4" x2="291.5" y2="1028.4"/>
<line x1="276.5" y1="960.2" x2="291.5" y2="960.2"/>
<line x1="262.5" y1="892.0" x2="291.5" y2="892.0"/>
<line x1="276.5" y1="823.8" x2="291.5" y2="823.8"/>
<line x1="262.5" y1="755.6" x2="291.5" y2="755.6"/>
<line x1="276.5" y1="687.4" x2="291.5" y2="687.4"/>
<line x1="262.5" y1="619.2" x2="291.5" y2="619.2"/>
<line x1="276.5" y1="551.0" x2="291.5" y2="551.0"/>
<line x1="262.5" y1="482.8" x2="291.5" y2="482.8"/>
<line x1="276.5" y1="414.6" x2="291.5" y2="414.6"/>
<line x1="262.5" y1="346.5" x2="291.5" y2="346.5"/>
<line x1="276.5" y1="278.3" x2="291.5" y2="278.3"/>
<line x1="262.5" y1="210.1" x2="291.5" y2="210.1"/>
<line x1="276.5" y1="141.9" x2="291.5" y2="141.9"/>
<line x1="262.5" y1="73.7" x2="291.5" y2="73.7"/>
<line x1="290.5" y1="1437.5" x2="290.5" y2="1467.5"/>
<line x1="408.2" y1="1437.5" x2="408.2" y2="1454.5"/>
<line x1="525.9" y1="1437.5" x2="525.9" y2="1467.5"/>
<line x1="643.6" y1="1437.5" x2="643.6" y2="1454.5"/>
<line x1="761.3" y1="1437.5" x2="761.3" y2="1467.5"/>
<line x1="879.0" y1="1437.5" x2="879.0" y2="1454.5"/>
<line x1="996.6" y1="1437.5" x2="996.6" y2="1467.5"/>
<line x1="1114.3" y1="1437.5" x2="1114.3" y2="1454.5"/>
<line x1="1232.0" y1="1437.5" x2="1232.0" y2="1467.5"/>
<line x1="1349.7" y1="1437.5" x2="1349.7" y2="1454.5"/>
<line x1="1467.4" y1="1437.5" x2="1467.4" y2="1467.5"/>
<line x1="1585.1" y1="1437.5" x2="1585.1" y2="1454.5"/>
<line x1="1702.8" y1="1437.5" x2="1702.8" y2="1467.5"/>
<line x1="1820.5" y1="1437.5" x2="1820.5" y2="1454.5"/>
<line x1="1938.2" y1="1437.5" x2="1938.2" y2="1467.5"/>
<line x1="2055.9" y1="1437.5" x2="2055.9" y2="1454.5"/>
</g>
<g stroke="#0000ff" stroke-width="4.5" fill="none">
<line x1="2149.0" y1="71.2" x2="2149.0" y2="1440.0"/>
<line x1="2149.0" y1="1437.5" x2="2164.0" y2="1437.5"/>
<line x1="2149.0" y1="1346.6" x2="2178.0" y2="1346.6"/>
<line x1="2149.0" y1="1255.7" x2="2164.0" y2="1255.7"/>
<line x1="2149.0" y1="1164.7" x2="2178.0" y2="1164.7"/>
<line x1="2149.0" y1="1073.8" x2="2164.0" y2="1073.8"/>
<line x1="2149.0" y1="982.9" x2="2178.0" y2="982.9"/>
<line x1="2149.0" y1="892.0" x2="2164.0" y2="892.0"/>
<line x1="2149.0" y1="801.1" x2="2178.0" y2="801.1"/>
<line x1="2149.0" y1="710.1" x2="2164.0" y2="710.1"/>
<line x1="2149.0" y1="619.2" x2="2178.0" y2="619.2"/>
<line x1="2149.0" y1="528.3" x2="2164.0" y2="528.3"/>
<line x1="2149.0" y1="437.4" x2="2178.0" y2="437.4"/>
<line x1="2149.0" y1="346.5" x2="2164.0" y2="346.5"/>
<line x1="2149.0" y1="255.5" x2="2178.0" y2="255.5"/>
<line x1="2149.0" y1="164.6" x2="2164.0" y2="164.6"/>
<line x1="2149.0" y1="73.7" x2="2178.0" y2="73.7"/>
</g>
<g font-size="70" fill="#000" text-anchor="end">
<text transform="translate(243.5,1456.0) scale(0.965,1)">0</text>
<text transform="translate(243.5,1319.6) scale(0.965,1)">10</text>
<text transform="translate(243.5,1183.2) scale(0.965,1)">20</text>
<text transform="translate(243.5,1046.9) scale(0.965,1)">30</text>
<text transform="translate(243.5,910.5) scale(0.965,1)">40</text>
<text transform="translate(243.5,774.1) scale(0.965,1)">50</text>
<text transform="translate(243.5,637.7) scale(0.965,1)">60</text>
<text transform="translate(243.5,501.3) scale(0.965,1)">70</text>
<text transform="translate(243.5,365.0) scale(0.965,1)">80</text>
<text transform="translate(243.5,228.6) scale(0.965,1)">90</text>
<text transform="translate(243.5,92.2) scale(0.965,1)">100</text>
</g>
<g font-size="70" fill="#000" text-anchor="middle">
<text transform="translate(290.5,1535.5) scale(0.965,1)">0</text>
<text transform="translate(525.9,1535.5) scale(0.965,1)">2000</text>
<text transform="translate(761.3,1535.5) scale(0.965,1)">4000</text>
<text transform="translate(996.6,1535.5) scale(0.965,1)">6000</text>
<text transform="translate(1232.0,1535.5) scale(0.965,1)">8000</text>
<text transform="translate(1467.4,1535.5) scale(0.965,1)">10000</text>
<text transform="translate(1702.8,1535.5) scale(0.965,1)">12000</text>
<text transform="translate(1938.2,1535.5) scale(0.965,1)">14000</text>
</g>
<g font-size="70" fill="#0000ff" text-anchor="start">
<text transform="translate(2193.5,1365.3) scale(0.965,1)">200</text>
<text transform="translate(2193.5,1183.4) scale(0.965,1)">250</text>
<text transform="translate(2193.5,1001.6) scale(0.965,1)">300</text>
<text transform="translate(2193.5,819.8) scale(0.965,1)">350</text>
<text transform="translate(2193.5,637.9) scale(0.965,1)">400</text>
<text transform="translate(2193.5,456.1) scale(0.965,1)">450</text>
<text transform="translate(2193.5,274.2) scale(0.965,1)">500</text>
<text transform="translate(2193.5,92.4) scale(0.965,1)">550</text>
</g>
<text x="1085.7" y="1660.6" font-size="79.5" fill="#000">Time <tspan dy="4">[</tspan><tspan dy="-4">s</tspan><tspan dy="4">]</tspan></text>
<text transform="translate(88.5,1064.7) rotate(-90)" font-size="80.4" fill="#000">Conversion <tspan font-size="86" dy="4.3">[</tspan><tspan dy="-4.3" dx="-1.9">%</tspan><tspan font-size="86" dy="4.3">]</tspan></text>
<text transform="translate(2404.5,1096.2) rotate(-90)" font-size="82.2" fill="#0000ff"><tspan x="-1.5" y="0">Temperature </tspan><tspan x="428.6" y="3" font-size="86">[</tspan><tspan x="455.6" y="-44" font-size="50">o</tspan><tspan x="479.1" y="0" font-size="84">C</tspan><tspan x="531.8" y="3" font-size="86">]</tspan></text>
<text x="376" y="208.1" font-size="96" fill="#000">Cu-Zr</text>
<text font-size="81" fill="#0000ff"><tspan x="1185" y="404.2">450</tspan><tspan x="1304.5" y="359.8" font-size="48">o</tspan><tspan x="1325.9" y="404.2" font-size="84">C</tspan></text>
<text font-size="82" fill="#000"><tspan x="965.7" y="597.3">SO</tspan><tspan x="1067" y="627" font-size="50">2 </tspan><tspan x="1104.2" y="597.3">on</tspan></text>
<text font-size="82" fill="#000"><tspan x="1354.5" y="591.7">SO</tspan><tspan x="1455.9" y="622" font-size="50">2 </tspan><tspan x="1490.3" y="591.7">off</tspan></text>
<line x1="1067.3" y1="412.3" x2="1067.3" y2="515.5" stroke="#000" stroke-width="2.8"/>
<path d="M1067.3,377 L1076.8999999999999,414.3 L1057.7,414.3 Z" fill="#000"/>
<line x1="1454.6" y1="352" x2="1454.6" y2="517.7" stroke="#000" stroke-width="2.8"/>
<path d="M1454.6,318 L1464.1999999999998,354 L1445.0,354 Z" fill="#000"/>
<circle cx="1475.2" cy="995.5" r="15.8" fill="#fff" stroke="#000" stroke-width="2.6"/>
<circle cx="1475.5" cy="1112.7" r="17.3" fill="url(#ball)"/>
<text font-size="73.5" fill="#000"><tspan x="1577.8" y="1020.7">NH</tspan><tspan x="1681.1" y="1050" font-size="44">3 </tspan><tspan x="1721.4" y="1020.7">conversion</tspan></text>
<text x="1577.8" y="1136.8" font-size="73.5" fill="#000">NO conversion</text>
</svg></body></html>
